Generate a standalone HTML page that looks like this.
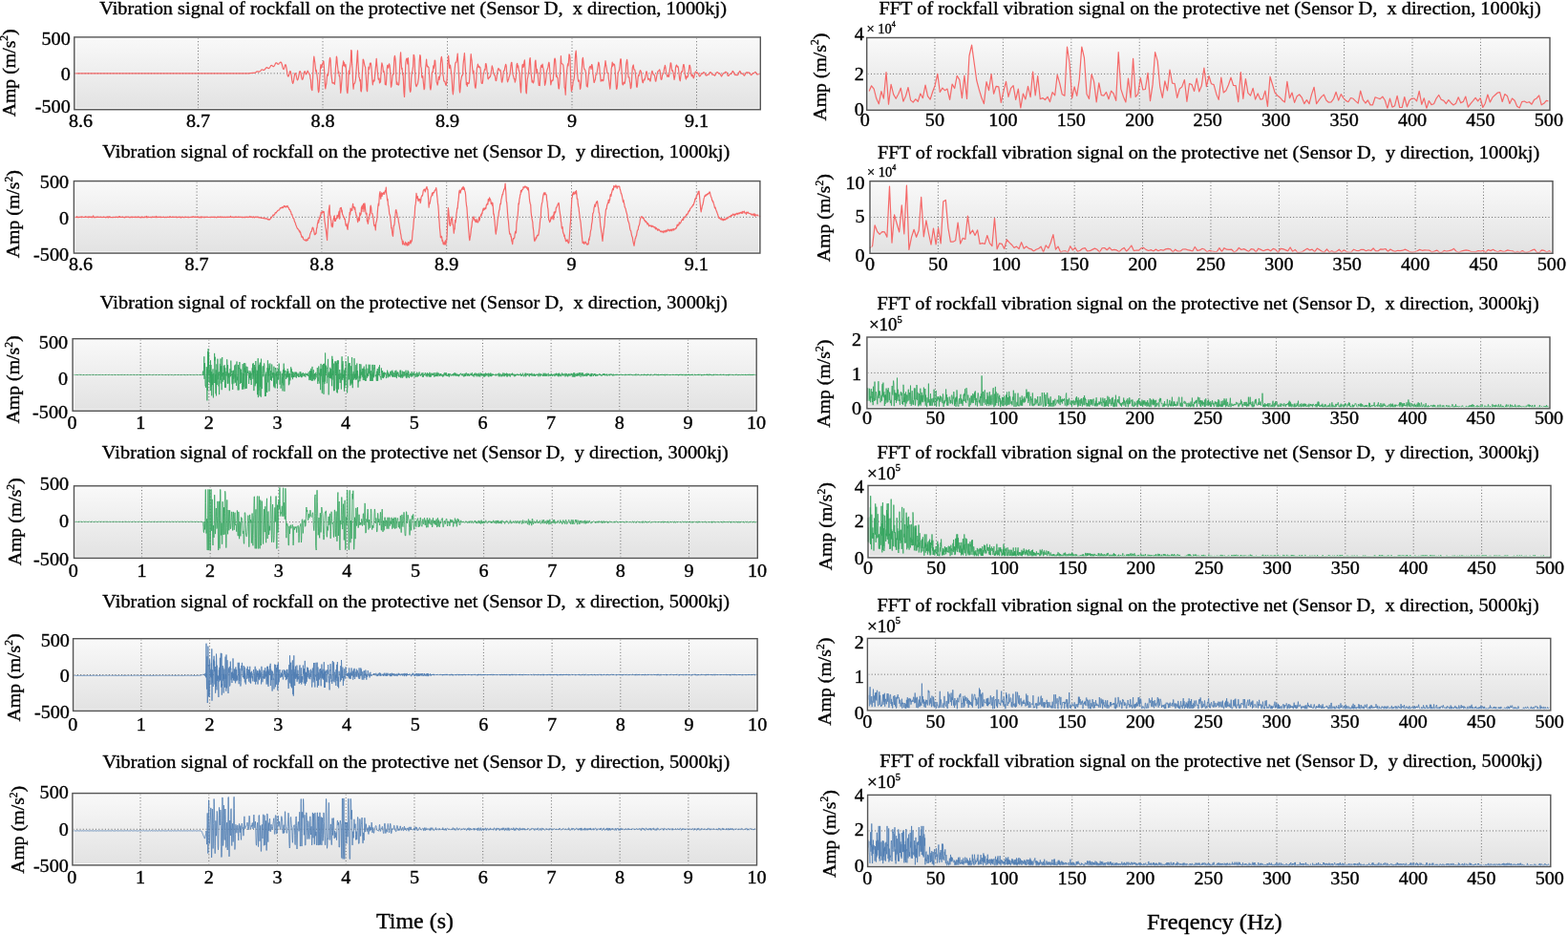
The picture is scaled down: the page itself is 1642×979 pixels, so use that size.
<!DOCTYPE html>
<html><head><meta charset="utf-8"><title>Rockfall vibration signals</title>
<style>html,body{margin:0;padding:0;background:#fff;width:1642px;height:979px;overflow:hidden}svg{display:block}text{fill:#000;stroke:#000;stroke-width:0.35px;white-space:pre}</style>
</head><body>
<svg width="1642" height="979" viewBox="0 0 1642 979" font-family="'Liberation Serif', 'Times New Roman', serif">
<defs><linearGradient id="bg" x1="0" y1="0" x2="0" y2="1"><stop offset="0" stop-color="#f9f9f9"/><stop offset="1" stop-color="#e2e2e2"/></linearGradient><style>.g{stroke:#555;stroke-width:1;stroke-dasharray:1 2.3;fill:none;opacity:.85}</style></defs>
<rect width="1642" height="979" fill="#fff"/>
<rect x="77.80" y="38.90" width="718.50" height="75.85" fill="url(#bg)"/>
<line x1="207.50" y1="39.90" x2="207.50" y2="113.75" class="g"/>
<line x1="338.00" y1="39.90" x2="338.00" y2="113.75" class="g"/>
<line x1="468.50" y1="39.90" x2="468.50" y2="113.75" class="g"/>
<line x1="599.00" y1="39.90" x2="599.00" y2="113.75" class="g"/>
<line x1="729.50" y1="39.90" x2="729.50" y2="113.75" class="g"/>
<line x1="78.80" y1="76.83" x2="795.30" y2="76.83" class="g"/>
<polyline points="78.0,76.8 78.4,76.8 78.9,76.8 79.4,76.8 79.9,76.8 80.4,76.8 80.8,76.8 81.3,76.8 81.8,76.8 82.3,76.8 82.8,76.8 83.2,76.8 83.7,76.8 84.2,76.8 84.7,76.8 85.2,76.8 85.7,76.8 86.1,76.8 86.6,76.8 87.1,76.8 87.6,76.8 88.1,76.8 88.5,76.8 89.0,76.8 89.5,76.8 90.0,76.8 90.5,76.8 90.9,76.8 91.4,76.8 91.9,76.8 92.4,76.8 92.9,76.8 93.3,76.8 93.8,76.8 94.3,76.8 94.8,76.8 95.3,76.8 95.7,76.8 96.2,76.8 96.7,76.8 97.2,76.8 97.7,76.8 98.1,76.8 98.6,76.8 99.1,76.8 99.6,76.8 100.1,76.8 100.5,76.8 101.0,76.8 101.5,76.8 102.0,76.8 102.5,76.8 103.0,76.8 103.4,76.8 103.9,76.8 104.4,76.8 104.9,76.8 105.4,76.8 105.8,76.8 106.3,76.8 106.8,76.8 107.3,76.8 107.8,76.8 108.2,76.8 108.7,76.8 109.2,76.8 109.7,76.8 110.2,76.8 110.6,76.8 111.1,76.8 111.6,76.8 112.1,76.8 112.6,76.8 113.0,76.8 113.5,76.8 114.0,76.8 114.5,76.8 115.0,76.8 115.4,76.8 115.9,76.8 116.4,76.8 116.9,76.8 117.4,76.8 117.8,76.8 118.3,76.8 118.8,76.8 119.3,76.8 119.8,76.8 120.3,76.8 120.7,76.8 121.2,76.8 121.7,76.8 122.2,76.8 122.7,76.8 123.1,76.8 123.6,76.8 124.1,76.8 124.6,76.8 125.1,76.8 125.5,76.8 126.0,76.8 126.5,76.8 127.0,76.8 127.5,76.8 127.9,76.8 128.4,76.8 128.9,76.8 129.4,76.8 129.9,76.8 130.3,76.8 130.8,76.8 131.3,76.8 131.8,76.8 132.3,76.8 132.7,76.8 133.2,76.8 133.7,76.8 134.2,76.8 134.7,76.8 135.1,76.8 135.6,76.8 136.1,76.8 136.6,76.8 137.1,76.8 137.6,76.8 138.0,76.8 138.5,76.8 139.0,76.8 139.5,76.8 140.0,76.8 140.4,76.8 140.9,76.8 141.4,76.8 141.9,76.8 142.4,76.8 142.8,76.8 143.3,76.8 143.8,76.8 144.3,76.8 144.8,76.8 145.2,76.8 145.7,76.8 146.2,76.8 146.7,76.8 147.2,76.8 147.6,76.8 148.1,76.8 148.6,76.8 149.1,76.8 149.6,76.8 150.0,76.8 150.5,76.8 151.0,76.8 151.5,76.8 152.0,76.8 152.4,76.8 152.9,76.8 153.4,76.8 153.9,76.8 154.4,76.8 154.9,76.8 155.3,76.8 155.8,76.8 156.3,76.8 156.8,76.8 157.3,76.8 157.7,76.8 158.2,76.8 158.7,76.8 159.2,76.8 159.7,76.8 160.1,76.8 160.6,76.8 161.1,76.8 161.6,76.8 162.1,76.8 162.5,76.8 163.0,76.8 163.5,76.8 164.0,76.8 164.5,76.8 164.9,76.8 165.4,76.8 165.9,76.8 166.4,76.8 166.9,76.8 167.3,76.8 167.8,76.8 168.3,76.8 168.8,76.8 169.3,76.8 169.7,76.8 170.2,76.8 170.7,76.8 171.2,76.8 171.7,76.8 172.2,76.8 172.6,76.8 173.1,76.8 173.6,76.8 174.1,76.8 174.6,76.8 175.0,76.8 175.5,76.8 176.0,76.8 176.5,76.8 177.0,76.8 177.4,76.8 177.9,76.8 178.4,76.8 178.9,76.8 179.4,76.8 179.8,76.8 180.3,76.8 180.8,76.8 181.3,76.8 181.8,76.8 182.2,76.8 182.7,76.8 183.2,76.8 183.7,76.8 184.2,76.8 184.6,76.8 185.1,76.8 185.6,76.8 186.1,76.8 186.6,76.8 187.0,76.8 187.5,76.8 188.0,76.8 188.5,76.8 189.0,76.8 189.5,76.8 189.9,76.8 190.4,76.8 190.9,76.8 191.4,76.8 191.9,76.8 192.3,76.8 192.8,76.8 193.3,76.8 193.8,76.8 194.3,76.8 194.7,76.8 195.2,76.8 195.7,76.8 196.2,76.8 196.7,76.8 197.1,76.8 197.6,76.8 198.1,76.8 198.6,76.8 199.1,76.8 199.5,76.8 200.0,76.8 200.5,76.8 201.0,76.8 201.5,76.8 201.9,76.8 202.4,76.8 202.9,76.8 203.4,76.8 203.9,76.8 204.3,76.8 204.8,76.8 205.3,76.8 205.8,76.8 206.3,76.8 206.8,76.8 207.2,76.8 207.7,76.8 208.2,76.8 208.7,76.8 209.2,76.8 209.6,76.8 210.1,76.8 210.6,76.8 211.1,76.8 211.6,76.8 212.0,76.8 212.5,76.8 213.0,76.8 213.5,76.8 214.0,76.8 214.4,76.8 214.9,76.8 215.4,76.8 215.9,76.8 216.4,76.8 216.8,76.8 217.3,76.8 217.8,76.8 218.3,76.8 218.8,76.8 219.2,76.8 219.7,76.8 220.2,76.8 220.7,76.8 221.2,76.8 221.6,76.8 222.1,76.8 222.6,76.8 223.1,76.8 223.6,76.8 224.1,76.8 224.5,76.8 225.0,76.8 225.5,76.8 226.0,76.8 226.5,76.8 226.9,76.8 227.4,76.8 227.9,76.8 228.4,76.8 228.9,76.8 229.3,76.8 229.8,76.8 230.3,76.8 230.8,76.8 231.3,76.8 231.7,76.8 232.2,76.8 232.7,76.8 233.2,76.8 233.7,76.8 234.1,76.8 234.6,76.8 235.1,76.8 235.6,76.8 236.1,76.8 236.5,76.8 237.0,76.8 237.5,76.8 238.0,76.8 238.5,76.8 238.9,76.8 239.4,76.8 239.9,76.8 240.4,76.8 240.9,76.8 241.4,76.8 241.8,76.8 242.3,76.8 242.8,76.8 243.3,76.8 243.8,76.8 244.2,76.8 244.7,76.8 245.2,76.8 245.7,76.8 246.2,76.8 246.6,76.8 247.1,76.8 247.6,76.8 248.1,76.8 248.6,76.8 249.0,76.8 249.5,76.8 250.0,76.8 250.5,76.8 251.0,76.8 251.4,76.8 251.9,76.8 252.4,76.8 252.9,76.8 253.4,76.8 253.8,76.8 254.3,76.8 254.8,76.8 255.3,76.8 255.8,76.8 256.2,76.8 256.7,76.8 257.2,76.8 257.7,76.8 258.2,76.8 258.7,76.8 259.1,76.8 259.6,76.8 260.1,76.8 260.6,76.8 261.1,76.8 261.5,76.7 262.0,76.7 262.5,76.6 263.0,76.5 263.5,76.5 263.9,76.4 264.4,76.3 264.9,76.3 265.4,76.3 265.9,76.4 266.3,76.4 266.8,76.3 267.3,76.0 267.8,75.7 268.3,75.4 268.7,75.1 269.2,74.9 269.7,74.9 270.2,74.9 270.7,75.1 271.1,75.1 271.6,75.1 272.1,74.8 272.6,74.3 273.1,73.8 273.5,73.3 274.0,73.0 274.5,72.9 275.0,73.0 275.5,73.3 276.0,73.4 276.4,73.4 276.9,73.2 277.4,72.6 277.9,72.0 278.4,71.3 278.8,70.8 279.3,70.7 279.8,70.8 280.3,71.1 280.8,71.5 281.2,71.6 281.7,71.5 282.2,71.0 282.7,70.3 283.2,69.5 283.6,68.8 284.1,68.4 284.6,68.5 285.1,68.8 285.6,69.3 286.0,69.7 286.5,69.7 287.0,69.3 287.5,68.5 288.0,67.5 288.4,66.6 288.9,65.9 289.4,65.8 289.9,66.0 290.4,66.6 290.8,67.1 291.3,67.3 291.8,67.1 292.3,66.4 292.8,65.9 293.3,65.4 293.7,65.1 294.2,65.1 294.7,65.7 295.2,67.2 295.7,69.1 296.1,70.9 296.6,72.2 297.1,72.5 297.6,71.5 298.1,69.8 298.5,68.2 299.0,67.6 299.5,68.7 300.0,71.3 300.5,74.6 300.9,77.7 301.4,79.7 301.9,80.2 302.4,79.2 302.9,77.4 303.3,75.5 303.8,74.5 304.3,75.0 304.8,77.1 305.3,80.2 305.7,83.6 306.2,86.2 306.7,87.4 307.2,86.0 307.7,83.4 308.1,80.3 308.6,77.8 309.1,76.6 309.6,76.9 310.1,78.6 310.6,81.0 311.0,83.0 311.5,83.9 312.0,83.2 312.5,81.4 313.0,78.7 313.4,76.2 313.9,74.6 314.4,74.6 314.9,76.1 315.4,78.6 315.8,81.2 316.3,83.0 316.8,83.3 317.3,82.1 317.8,79.7 318.2,77.0 318.7,75.2 319.2,74.6 319.7,75.6 320.2,77.6 320.6,77.8 321.1,77.2 321.6,76.0 322.1,74.1 322.6,75.0 323.0,75.8 323.5,76.5 324.0,77.9 324.5,78.0 325.0,82.6 325.4,83.4 325.9,91.3 326.4,93.8 326.9,94.6 327.4,85.4 327.9,74.4 328.3,64.8 328.8,59.2 329.3,62.7 329.8,65.5 330.3,70.3 330.7,74.9 331.2,73.3 331.7,76.6 332.2,80.5 332.7,85.2 333.1,93.6 333.6,96.6 334.1,94.8 334.6,86.2 335.1,78.4 335.5,71.5 336.0,67.6 336.5,71.2 337.0,69.9 337.5,67.3 337.9,67.2 338.4,64.5 338.9,64.1 339.4,70.5 339.9,79.5 340.3,88.9 340.8,92.9 341.3,89.6 341.8,87.5 342.3,82.0 342.7,77.9 343.2,79.3 343.7,78.2 344.2,73.6 344.7,67.0 345.2,61.9 345.6,60.4 346.1,62.9 346.6,73.1 347.1,79.7 347.6,83.6 348.0,87.0 348.5,87.1 349.0,86.5 349.5,87.1 350.0,87.5 350.4,88.3 350.9,82.1 351.4,72.0 351.9,66.4 352.4,59.1 352.8,60.7 353.3,67.3 353.8,71.5 354.3,76.4 354.8,75.1 355.2,79.8 355.7,79.5 356.2,87.0 356.7,97.3 357.2,93.9 357.6,87.6 358.1,82.1 358.6,69.1 359.1,68.4 359.6,63.9 360.1,69.0 360.5,65.7 361.0,68.8 361.5,69.9 362.0,67.7 362.5,73.2 362.9,90.3 363.4,95.6 363.9,97.7 364.4,92.4 364.9,82.2 365.3,74.1 365.8,77.6 366.3,72.1 366.8,68.1 367.3,64.5 367.7,52.6 368.2,52.9 368.7,67.9 369.2,75.3 369.7,89.1 370.1,93.2 370.6,87.8 371.1,87.6 371.6,86.9 372.1,84.9 372.5,82.5 373.0,74.5 373.5,67.2 374.0,58.8 374.5,52.8 374.9,64.3 375.4,71.8 375.9,80.7 376.4,81.3 376.9,85.0 377.4,83.5 377.8,94.7 378.3,95.9 378.8,91.6 379.3,77.9 379.8,71.0 380.2,62.0 380.7,62.9 381.2,65.2 381.7,67.8 382.2,69.7 382.6,70.1 383.1,77.3 383.6,85.5 384.1,94.1 384.6,95.7 385.0,88.3 385.5,79.0 386.0,70.2 386.5,72.7 387.0,70.7 387.4,66.2 387.9,67.5 388.4,66.0 388.9,70.2 389.4,78.0 389.8,82.9 390.3,88.8 390.8,85.5 391.3,83.9 391.8,85.1 392.2,84.3 392.7,77.4 393.2,72.5 393.7,67.4 394.2,61.3 394.7,67.6 395.1,71.3 395.6,77.2 396.1,82.6 396.6,83.3 397.1,82.0 397.5,86.9 398.0,86.2 398.5,85.9 399.0,76.3 399.5,69.2 399.9,65.9 400.4,67.7 400.9,70.1 401.4,75.3 401.9,74.2 402.3,76.1 402.8,79.6 403.3,88.5 403.8,88.6 404.3,88.9 404.7,82.8 405.2,72.3 405.7,68.3 406.2,70.4 406.7,71.1 407.1,67.7 407.6,66.8 408.1,68.7 408.6,74.0 409.1,85.3 409.5,91.2 410.0,89.8 410.5,85.3 411.0,79.5 411.5,77.7 412.0,77.9 412.4,72.1 412.9,60.6 413.4,58.3 413.9,61.1 414.4,66.3 414.8,80.2 415.3,88.3 415.8,86.0 416.3,88.0 416.8,88.5 417.2,89.2 417.7,88.5 418.2,81.4 418.7,68.6 419.2,59.3 419.6,54.9 420.1,64.8 420.6,72.1 421.1,71.2 421.6,78.1 422.0,77.5 422.5,85.3 423.0,96.4 423.5,101.4 424.0,90.6 424.4,77.3 424.9,65.3 425.4,62.5 425.9,61.2 426.4,62.5 426.8,66.9 427.3,60.6 427.8,66.5 428.3,78.1 428.8,90.5 429.3,94.7 429.7,96.3 430.2,94.5 430.7,81.7 431.2,76.8 431.7,75.0 432.1,73.2 432.6,69.3 433.1,57.4 433.6,57.8 434.1,61.5 434.5,73.3 435.0,85.6 435.5,89.5 436.0,90.6 436.5,89.8 436.9,88.5 437.4,87.9 437.9,84.6 438.4,81.4 438.9,71.9 439.3,62.9 439.8,57.5 440.3,58.8 440.8,69.7 441.3,71.4 441.7,80.2 442.2,81.4 442.7,79.5 443.2,84.7 443.7,89.8 444.1,93.6 444.6,92.8 445.1,82.4 445.6,71.3 446.1,67.6 446.6,62.1 447.0,67.7 447.5,69.9 448.0,69.4 448.5,70.3 449.0,70.5 449.4,76.8 449.9,84.1 450.4,91.9 450.9,94.0 451.4,91.7 451.8,86.4 452.3,77.8 452.8,75.0 453.3,75.4 453.8,68.8 454.2,71.6 454.7,69.1 455.2,63.1 455.7,63.4 456.2,71.0 456.6,78.9 457.1,85.6 457.6,87.0 458.1,89.1 458.6,87.2 459.0,83.4 459.5,80.3 460.0,83.5 460.5,80.7 461.0,78.2 461.4,66.9 461.9,61.2 462.4,59.4 462.9,62.8 463.4,67.5 463.9,78.6 464.3,80.2 464.8,84.9 465.3,85.3 465.8,85.1 466.3,87.0 466.7,88.6 467.2,89.5 467.7,87.1 468.2,81.6 468.7,69.6 469.1,63.4 469.6,58.4 470.1,63.8 470.6,71.3 471.1,71.0 471.5,68.1 472.0,71.9 472.5,75.6 473.0,79.2 473.5,87.7 473.9,94.7 474.4,98.8 474.9,93.7 475.4,84.9 475.9,77.1 476.3,71.5 476.8,66.7 477.3,65.1 477.8,65.4 478.3,63.6 478.7,60.7 479.2,56.0 479.7,65.1 480.2,72.9 480.7,82.3 481.2,94.7 481.6,96.9 482.1,92.1 482.6,84.8 483.1,82.4 483.6,79.6 484.0,78.9 484.5,78.8 485.0,68.3 485.5,63.1 486.0,59.7 486.4,55.6 486.9,64.4 487.4,72.9 487.9,80.8 488.4,88.7 488.8,86.3 489.3,90.3 489.8,86.6 490.3,87.4 490.8,87.3 491.2,87.2 491.7,82.5 492.2,73.2 492.7,63.9 493.2,56.6 493.6,60.5 494.1,63.7 494.6,70.8 495.1,74.3 495.6,76.8 496.0,74.2 496.5,82.2 497.0,86.2 497.5,91.3 498.0,92.3 498.5,88.6 498.9,80.8 499.4,71.8 499.9,70.3 500.4,67.0 500.9,70.0 501.3,69.0 501.8,70.7 502.3,69.9 502.8,70.4 503.3,73.5 503.7,81.2 504.2,87.0 504.7,87.4 505.2,87.5 505.7,84.2 506.1,78.6 506.6,76.6 507.1,74.4 507.6,72.4 508.1,73.0 508.5,66.8 509.0,66.6 509.5,69.4 510.0,74.3 510.5,77.5 510.9,82.2 511.4,82.8 511.9,81.3 512.4,81.5 512.9,80.2 513.3,80.5 513.8,78.7 514.3,75.5 514.8,72.7 515.3,68.8 515.8,70.7 516.2,72.1 516.7,76.8 517.2,77.4 517.7,78.8 518.2,78.9 518.6,81.0 519.1,84.3 519.6,84.6 520.1,82.0 520.6,77.4 521.0,74.4 521.5,72.3 522.0,71.5 522.5,72.4 523.0,73.7 523.4,73.9 523.9,73.1 524.4,75.7 524.9,80.5 525.4,86.0 525.8,86.1 526.3,83.5 526.8,80.1 527.3,74.6 527.8,74.0 528.2,74.0 528.7,70.8 529.2,68.8 529.7,67.3 530.2,69.2 530.6,75.4 531.1,83.5 531.6,85.9 532.1,83.9 532.6,83.2 533.1,80.7 533.5,79.9 534.0,77.6 534.5,73.7 535.0,68.4 535.5,65.6 535.9,65.3 536.4,70.8 536.9,77.4 537.4,79.1 537.9,80.8 538.3,82.6 538.8,82.4 539.3,86.2 539.8,84.4 540.3,81.4 540.7,72.1 541.2,67.3 541.7,66.4 542.2,70.8 542.7,68.8 543.1,73.3 543.6,73.9 544.1,77.0 544.6,87.0 545.1,93.3 545.5,96.9 546.0,86.7 546.5,77.1 547.0,68.3 547.5,67.3 547.9,70.4 548.4,69.4 548.9,65.0 549.4,62.9 549.9,71.2 550.4,83.0 550.8,95.8 551.3,97.9 551.8,89.2 552.3,83.0 552.8,80.6 553.2,77.6 553.7,74.7 554.2,69.3 554.7,62.5 555.2,60.5 555.6,67.4 556.1,77.3 556.6,80.6 557.1,85.9 557.6,84.4 558.0,86.2 558.5,86.9 559.0,85.4 559.5,80.3 560.0,72.6 560.4,64.4 560.9,63.0 561.4,69.1 561.9,76.3 562.4,72.5 562.8,75.7 563.3,78.6 563.8,84.9 564.3,89.4 564.8,88.2 565.2,89.7 565.7,79.2 566.2,70.9 566.7,68.6 567.2,68.3 567.7,70.5 568.1,67.2 568.6,70.6 569.1,72.7 569.6,76.4 570.1,82.5 570.5,89.3 571.0,87.8 571.5,85.3 572.0,80.9 572.5,74.8 572.9,73.5 573.4,71.8 573.9,70.4 574.4,66.8 574.9,65.2 575.3,67.8 575.8,74.5 576.3,82.3 576.8,88.8 577.3,86.3 577.7,84.6 578.2,83.9 578.7,84.5 579.2,83.8 579.7,77.7 580.1,70.1 580.6,62.3 581.1,61.1 581.6,63.0 582.1,70.8 582.5,80.1 583.0,78.9 583.5,81.2 584.0,81.5 584.5,88.0 585.0,92.7 585.4,92.9 585.9,87.5 586.4,77.9 586.9,70.3 587.4,58.6 587.8,65.4 588.3,66.4 588.8,66.8 589.3,67.6 589.8,67.9 590.2,71.9 590.7,79.8 591.2,91.8 591.7,92.8 592.2,99.3 592.6,89.2 593.1,80.9 593.6,74.5 594.1,70.1 594.6,66.9 595.0,69.0 595.5,64.3 596.0,56.9 596.5,57.4 597.0,61.3 597.4,74.9 597.9,88.0 598.4,95.5 598.9,94.3 599.4,90.9 599.8,89.2 600.3,84.4 600.8,84.1 601.3,81.7 601.8,75.7 602.3,62.3 602.7,56.3 603.2,53.2 603.7,60.3 604.2,69.9 604.7,77.4 605.1,82.1 605.6,85.1 606.1,84.9 606.6,84.0 607.1,88.2 607.5,93.3 608.0,92.0 608.5,87.2 609.0,76.8 609.5,69.8 609.9,62.4 610.4,60.4 610.9,64.7 611.4,70.4 611.9,72.7 612.3,72.7 612.8,73.3 613.3,75.7 613.8,82.4 614.3,90.1 614.7,90.0 615.2,91.1 615.7,86.2 616.2,79.5 616.7,75.4 617.1,71.3 617.6,70.0 618.1,69.3 618.6,70.0 619.1,72.4 619.6,67.6 620.0,67.8 620.5,70.7 621.0,77.6 621.5,81.6 622.0,86.3 622.4,86.4 622.9,84.1 623.4,83.4 623.9,78.5 624.4,77.8 624.8,78.2 625.3,75.0 625.8,71.5 626.3,68.2 626.8,65.2 627.2,66.0 627.7,69.5 628.2,75.9 628.7,79.8 629.2,85.1 629.6,83.6 630.1,84.7 630.6,83.5 631.1,83.4 631.6,84.8 632.0,83.8 632.5,79.4 633.0,71.5 633.5,68.8 634.0,63.5 634.5,67.2 634.9,69.6 635.4,72.7 635.9,76.5 636.4,76.3 636.9,76.8 637.3,82.0 637.8,85.0 638.3,89.7 638.8,93.2 639.3,87.9 639.7,82.1 640.2,71.9 640.7,70.0 641.2,65.1 641.7,69.1 642.1,66.6 642.6,68.0 643.1,67.2 643.6,67.8 644.1,72.4 644.5,79.5 645.0,86.5 645.5,93.3 646.0,93.0 646.5,89.7 646.9,80.7 647.4,75.5 647.9,74.7 648.4,73.6 648.9,70.7 649.3,66.0 649.8,61.8 650.3,61.8 650.8,71.6 651.3,76.9 651.8,87.9 652.2,88.9 652.7,88.7 653.2,86.2 653.7,86.6 654.2,87.3 654.6,84.9 655.1,81.3 655.6,68.0 656.1,64.8 656.6,62.3 657.0,65.3 657.5,72.7 658.0,80.8 658.5,80.7 659.0,81.0 659.4,85.3 659.9,86.9 660.4,92.6 660.9,91.7 661.4,86.8 661.8,78.5 662.3,71.0 662.8,69.0 663.3,68.0 663.8,72.3 664.2,72.9 664.7,72.9 665.2,75.4 665.7,80.6 666.2,84.5 666.6,91.0 667.1,91.3 667.6,88.0 668.1,81.3 668.6,78.7 669.1,79.3 669.5,76.7 670.0,74.9 670.5,73.6 671.0,74.4 671.5,75.5 671.9,79.1 672.4,83.1 672.9,86.1 673.4,86.7 673.9,84.1 674.3,83.0 674.8,83.9 675.3,82.8 675.8,80.6 676.3,77.7 676.7,75.0 677.2,74.8 677.7,77.2 678.2,80.7 678.7,83.4 679.1,82.8 679.6,82.3 680.1,82.7 680.6,84.8 681.1,84.8 681.5,81.9 682.0,78.1 682.5,75.5 683.0,74.2 683.5,76.0 683.9,76.7 684.4,78.2 684.9,78.1 685.4,79.0 685.9,81.6 686.4,85.0 686.8,85.2 687.3,82.7 687.8,79.4 688.3,76.6 688.8,74.9 689.2,74.7 689.7,74.1 690.2,73.9 690.7,72.8 691.2,74.6 691.6,78.6 692.1,82.8 692.6,83.4 693.1,82.5 693.6,78.2 694.0,78.0 694.5,77.3 695.0,76.3 695.5,72.0 696.0,70.5 696.4,68.3 696.9,70.5 697.4,74.3 697.9,78.0 698.4,78.8 698.8,80.3 699.3,79.0 699.8,78.5 700.3,80.5 700.8,78.3 701.2,74.2 701.7,70.4 702.2,65.9 702.7,66.0 703.2,70.4 703.7,74.1 704.1,73.5 704.6,74.6 705.1,76.4 705.6,80.1 706.1,83.3 706.5,81.3 707.0,78.4 707.5,70.8 708.0,68.8 708.5,68.1 708.9,69.0 709.4,70.2 709.9,69.5 710.4,71.1 710.9,76.0 711.3,79.8 711.8,83.5 712.3,84.8 712.8,80.3 713.3,77.2 713.7,74.8 714.2,75.1 714.7,74.9 715.2,70.3 715.7,67.6 716.1,67.5 716.6,70.4 717.1,75.4 717.6,79.9 718.1,82.3 718.5,83.0 719.0,79.7 719.5,81.2 720.0,80.6 720.5,79.7 721.0,76.3 721.4,73.5 721.9,68.3 722.4,68.4 722.9,70.9 723.4,74.0 723.8,77.7 724.3,79.9 724.8,78.2 725.3,78.7 725.8,80.3 726.2,81.9 726.7,80.9 727.2,78.7 727.7,77.1 728.2,75.2 728.6,75.0 729.1,75.1 729.6,76.4 730.1,76.0 730.6,76.5 731.0,77.2 731.5,77.2 732.0,79.2 732.5,79.8 733.0,79.7 733.4,79.5 733.9,78.5 734.4,77.1 734.9,76.9 735.4,77.1 735.8,76.9 736.3,76.3 736.8,75.5 737.3,75.7 737.8,76.1 738.3,77.0 738.7,78.2 739.2,78.9 739.7,78.9 740.2,79.1 740.7,78.1 741.1,78.1 741.6,78.1 742.1,78.1 742.6,77.5 743.1,76.5 743.5,75.5 744.0,75.5 744.5,75.9 745.0,76.7 745.5,77.4 745.9,78.1 746.4,78.2 746.9,78.0 747.4,78.5 747.9,78.6 748.3,79.3 748.8,78.9 749.3,78.2 749.8,77.1 750.3,76.1 750.7,75.7 751.2,75.5 751.7,76.0 752.2,76.2 752.7,76.5 753.1,77.1 753.6,76.9 754.1,77.6 754.6,78.3 755.1,79.3 755.6,80.0 756.0,79.1 756.5,78.4 757.0,77.7 757.5,77.0 758.0,76.3 758.4,76.4 758.9,76.2 759.4,75.8 759.9,75.2 760.4,75.5 760.8,75.5 761.3,76.5 761.8,78.2 762.3,79.5 762.8,79.4 763.2,79.2 763.7,78.1 764.2,77.7 764.7,77.5 765.2,77.1 765.6,77.5 766.1,76.6 766.6,75.8 767.1,74.5 767.6,74.4 768.0,75.7 768.5,75.7 769.0,77.5 769.5,78.0 770.0,78.6 770.4,78.4 770.9,78.2 771.4,78.4 771.9,78.9 772.4,78.4 772.9,78.2 773.3,77.3 773.8,75.9 774.3,75.2 774.8,74.4 775.3,75.1 775.7,75.8 776.2,76.5 776.7,77.1 777.2,77.3 777.7,77.2 778.1,77.7 778.6,78.1 779.1,78.9 779.6,79.2 780.1,78.3 780.5,77.3 781.0,76.3 781.5,75.8 782.0,76.0 782.5,75.7 782.9,76.2 783.4,75.9 783.9,76.2 784.4,75.9 784.9,76.7 785.3,77.3 785.8,77.9 786.3,78.4 786.8,78.6 787.3,78.0 787.7,77.4 788.2,76.8 788.7,76.7 789.2,76.6 789.7,76.3 790.2,75.9 790.6,75.5 791.1,75.3 791.6,76.0 792.1,76.7 792.6,77.7 793.0,78.0 793.5,77.9 794.0,77.8 794.5,77.5 795.0,77.4 795.4,77.6 795.9,77.3" fill="none" stroke="#f56868" stroke-width="1.2" stroke-opacity="1.0" stroke-linejoin="round"/>
<rect x="79.10" y="40.20" width="715.90" height="73.25" fill="none" stroke="#fff" stroke-width="0.8" stroke-opacity="0.8"/>
<rect x="77.80" y="38.90" width="718.50" height="75.85" fill="none" stroke="#555" stroke-width="1.4"/>
<text transform="translate(84.50,133.16) scale(1.09,1)" font-size="18.5" text-anchor="middle">8.6</text>
<text transform="translate(207.50,133.16) scale(1.09,1)" font-size="18.5" text-anchor="middle">8.7</text>
<text transform="translate(338.00,133.16) scale(1.09,1)" font-size="18.5" text-anchor="middle">8.8</text>
<text transform="translate(468.50,133.16) scale(1.09,1)" font-size="18.5" text-anchor="middle">8.9</text>
<text transform="translate(599.00,133.16) scale(1.09,1)" font-size="18.5" text-anchor="middle">9</text>
<text transform="translate(729.50,133.16) scale(1.09,1)" font-size="18.5" text-anchor="middle">9.1</text>
<text transform="translate(73.75,46.56) scale(1.09,1)" font-size="18.5" text-anchor="end">500</text>
<text transform="translate(73.75,84.36) scale(1.09,1)" font-size="18.5" text-anchor="end">0</text>
<text transform="translate(73.75,117.76) scale(1.09,1)" font-size="18.5" text-anchor="end">-500</text>
<text transform="translate(15.90,76.30) rotate(-90)" font-size="19.8" text-anchor="middle">Amp (m/s<tspan dy="-7.5" font-size="11.5">2</tspan><tspan dy="7.5">)</tspan></text>
<text transform="translate(104.17,15.40) scale(1.0451,1)" font-size="19.5" text-anchor="start">Vibration signal of rockfall on the protective net (Sensor D,  x direction, 1000kj)</text>
<rect x="77.40" y="189.60" width="718.50" height="75.50" fill="url(#bg)"/>
<line x1="206.10" y1="190.60" x2="206.10" y2="264.10" class="g"/>
<line x1="336.90" y1="190.60" x2="336.90" y2="264.10" class="g"/>
<line x1="467.70" y1="190.60" x2="467.70" y2="264.10" class="g"/>
<line x1="598.50" y1="190.60" x2="598.50" y2="264.10" class="g"/>
<line x1="729.30" y1="190.60" x2="729.30" y2="264.10" class="g"/>
<line x1="78.40" y1="227.35" x2="794.90" y2="227.35" class="g"/>
<polyline points="77.8,227.7 78.2,227.4 78.7,227.7 79.1,227.6 79.5,227.4 79.9,227.5 80.4,227.2 80.8,226.7 81.2,227.6 81.6,227.5 82.1,227.7 82.5,227.5 82.9,227.3 83.3,227.3 83.7,227.2 84.2,227.4 84.6,227.0 85.0,227.1 85.4,227.5 85.9,226.9 86.3,227.0 86.7,227.2 87.1,227.3 87.5,227.4 88.0,227.5 88.4,227.4 88.8,227.5 89.2,227.2 89.7,226.6 90.1,227.2 90.5,227.0 90.9,227.5 91.4,227.5 91.8,227.0 92.2,227.1 92.6,227.8 93.0,226.9 93.5,227.4 93.9,227.1 94.3,227.3 94.7,227.2 95.2,227.4 95.6,227.1 96.0,227.6 96.4,227.8 96.9,226.9 97.3,227.2 97.7,225.9 98.1,227.4 98.5,227.6 99.0,227.6 99.4,227.6 99.8,227.4 100.2,227.2 100.7,227.6 101.1,227.2 101.5,227.2 101.9,227.4 102.4,227.1 102.8,227.3 103.2,227.2 103.6,227.4 104.0,227.5 104.5,227.2 104.9,227.4 105.3,227.5 105.7,227.2 106.2,227.3 106.6,227.3 107.0,227.7 107.4,227.3 107.8,227.4 108.3,227.1 108.7,227.2 109.1,227.5 109.5,227.3 110.0,227.5 110.4,227.4 110.8,227.9 111.2,227.3 111.7,227.5 112.1,227.2 112.5,227.3 112.9,227.0 113.3,227.9 113.8,226.9 114.2,227.4 114.6,227.0 115.0,227.5 115.5,227.2 115.9,227.7 116.3,227.6 116.7,227.5 117.2,227.5 117.6,227.6 118.0,227.4 118.4,227.7 118.8,227.5 119.3,227.4 119.7,227.5 120.1,227.4 120.5,227.6 121.0,227.3 121.4,227.4 121.8,227.1 122.2,227.5 122.6,227.4 123.1,227.2 123.5,227.7 123.9,227.4 124.3,227.1 124.8,226.7 125.2,227.3 125.6,226.7 126.0,227.4 126.5,227.4 126.9,227.4 127.3,227.3 127.7,227.2 128.1,227.4 128.6,227.0 129.0,227.3 129.4,227.5 129.8,227.6 130.3,227.3 130.7,227.8 131.1,227.4 131.5,227.3 132.0,226.8 132.4,227.2 132.8,227.5 133.2,227.2 133.6,227.2 134.1,227.1 134.5,227.2 134.9,227.3 135.3,227.7 135.8,227.4 136.2,227.6 136.6,227.4 137.0,227.6 137.5,227.2 137.9,227.1 138.3,227.7 138.7,227.4 139.1,227.1 139.6,227.5 140.0,227.3 140.4,227.3 140.8,227.5 141.3,227.1 141.7,227.6 142.1,227.4 142.5,227.3 142.9,227.1 143.4,227.7 143.8,227.3 144.2,227.1 144.6,227.3 145.1,226.8 145.5,227.5 145.9,227.7 146.3,227.5 146.8,227.4 147.2,227.8 147.6,227.8 148.0,227.1 148.4,227.6 148.9,227.2 149.3,227.7 149.7,227.2 150.1,227.4 150.6,227.7 151.0,227.4 151.4,227.6 151.8,227.2 152.3,227.1 152.7,227.1 153.1,227.5 153.5,226.4 153.9,227.7 154.4,227.3 154.8,227.6 155.2,227.4 155.6,227.1 156.1,227.4 156.5,227.5 156.9,227.5 157.3,227.3 157.8,227.6 158.2,227.6 158.6,227.6 159.0,227.2 159.4,226.9 159.9,227.5 160.3,227.2 160.7,227.3 161.1,227.3 161.6,227.4 162.0,227.0 162.4,227.3 162.8,227.6 163.2,227.1 163.7,226.5 164.1,227.7 164.5,227.5 164.9,227.5 165.4,227.4 165.8,227.1 166.2,227.4 166.6,227.2 167.1,227.4 167.5,227.2 167.9,227.1 168.3,227.4 168.7,227.6 169.2,227.3 169.6,227.4 170.0,227.5 170.4,227.5 170.9,227.1 171.3,227.3 171.7,227.4 172.1,227.4 172.6,227.7 173.0,227.5 173.4,227.2 173.8,227.5 174.2,227.6 174.7,227.5 175.1,227.5 175.5,227.1 175.9,227.4 176.4,227.5 176.8,227.3 177.2,227.3 177.6,227.5 178.0,226.6 178.5,227.2 178.9,227.3 179.3,227.3 179.7,227.5 180.2,227.3 180.6,227.1 181.0,227.5 181.4,227.2 181.9,227.4 182.3,227.2 182.7,227.5 183.1,227.4 183.5,227.3 184.0,227.1 184.4,227.3 184.8,227.6 185.2,227.4 185.7,227.6 186.1,227.4 186.5,227.4 186.9,227.2 187.4,227.4 187.8,227.2 188.2,227.2 188.6,227.6 189.0,227.2 189.5,227.8 189.9,227.4 190.3,227.3 190.7,227.6 191.2,227.2 191.6,227.4 192.0,227.4 192.4,227.6 192.9,227.7 193.3,227.4 193.7,227.1 194.1,227.1 194.5,227.3 195.0,227.5 195.4,227.4 195.8,227.4 196.2,227.3 196.7,227.6 197.1,227.1 197.5,227.7 197.9,227.6 198.3,227.5 198.8,227.4 199.2,227.3 199.6,227.4 200.0,227.3 200.5,227.3 200.9,227.2 201.3,227.5 201.7,227.4 202.2,226.7 202.6,227.2 203.0,227.1 203.4,227.2 203.8,227.4 204.3,227.1 204.7,227.5 205.1,227.2 205.5,227.3 206.0,227.4 206.4,227.1 206.8,226.9 207.2,227.6 207.7,227.3 208.1,227.2 208.5,227.3 208.9,227.8 209.3,227.4 209.8,227.4 210.2,227.9 210.6,226.9 211.0,227.6 211.5,227.6 211.9,227.2 212.3,227.2 212.7,227.2 213.1,227.4 213.6,227.4 214.0,227.9 214.4,227.2 214.8,227.4 215.3,227.2 215.7,227.5 216.1,227.4 216.5,227.1 217.0,227.3 217.4,227.4 217.8,227.5 218.2,227.5 218.6,227.5 219.1,227.4 219.5,227.5 219.9,227.4 220.3,227.6 220.8,227.5 221.2,227.2 221.6,227.4 222.0,227.2 222.5,227.3 222.9,227.5 223.3,227.4 223.7,227.3 224.1,227.2 224.6,227.7 225.0,227.4 225.4,227.2 225.8,227.3 226.3,227.6 226.7,227.8 227.1,227.6 227.5,227.3 228.0,227.5 228.4,227.0 228.8,227.5 229.2,227.3 229.6,227.4 230.1,227.1 230.5,227.4 230.9,227.1 231.3,227.0 231.8,227.7 232.2,227.1 232.6,227.5 233.0,227.3 233.4,227.3 233.9,227.4 234.3,227.6 234.7,227.5 235.1,227.2 235.6,227.3 236.0,227.6 236.4,227.6 236.8,227.3 237.3,227.5 237.7,227.3 238.1,227.6 238.5,227.2 238.9,227.5 239.4,227.3 239.8,227.1 240.2,227.5 240.6,227.5 241.1,227.1 241.5,226.3 241.9,227.3 242.3,227.4 242.8,227.3 243.2,227.4 243.6,227.3 244.0,227.2 244.4,227.4 244.9,227.6 245.3,227.4 245.7,227.3 246.1,227.2 246.6,227.4 247.0,226.9 247.4,227.4 247.8,227.3 248.2,227.4 248.7,227.3 249.1,227.3 249.5,227.0 249.9,227.5 250.4,227.3 250.8,227.4 251.2,227.3 251.6,227.1 252.1,227.5 252.5,227.3 252.9,227.3 253.3,227.4 253.7,227.7 254.2,227.3 254.6,227.5 255.0,227.7 255.4,227.3 255.9,227.6 256.3,227.4 256.7,227.6 257.1,227.4 257.6,227.5 258.0,227.2 258.4,227.3 258.8,227.2 259.2,227.3 259.7,227.6 260.1,227.4 260.5,227.5 260.9,227.3 261.4,227.4 261.8,226.4 262.2,227.4 262.6,227.2 263.1,227.3 263.5,227.1 263.9,227.5 264.3,227.6 264.7,227.7 265.2,226.7 265.6,227.5 266.0,227.5 266.4,227.9 266.9,227.3 267.3,227.2 267.7,227.4 268.1,227.1 268.5,227.1 269.0,227.5 269.4,227.0 269.8,227.1 270.2,227.6 270.7,227.6 271.1,227.3 271.5,227.9 271.9,227.7 272.4,227.7 272.8,227.9 273.2,228.0 273.6,228.3 274.0,228.3 274.5,228.0 274.9,228.2 275.3,228.6 275.7,228.3 276.2,228.3 276.6,228.0 277.0,228.9 277.4,228.8 277.9,228.8 278.3,228.7 278.7,228.9 279.1,229.1 279.5,228.9 280.0,229.3 280.4,229.9 280.8,229.3 281.2,229.5 281.7,230.1 282.1,229.7 282.5,230.0 282.9,229.4 283.4,228.9 283.8,228.0 284.2,227.5 284.6,227.6 285.0,226.7 285.5,226.2 285.9,225.0 286.3,225.2 286.7,225.7 287.2,224.5 287.6,224.5 288.0,223.5 288.4,222.5 288.8,222.7 289.3,222.9 289.7,221.9 290.1,221.4 290.5,221.1 291.0,220.3 291.4,220.2 291.8,220.1 292.2,220.0 292.7,219.6 293.1,218.4 293.5,217.7 293.9,218.0 294.3,217.5 294.8,217.8 295.2,216.9 295.6,217.5 296.0,216.9 296.5,217.5 296.9,216.9 297.3,215.8 297.7,215.5 298.2,216.6 298.6,215.9 299.0,216.7 299.4,216.1 299.8,216.9 300.3,215.9 300.7,215.8 301.1,215.5 301.5,217.2 302.0,217.2 302.4,217.6 302.8,219.5 303.2,219.4 303.6,219.6 304.1,221.4 304.5,221.3 304.9,222.8 305.3,224.6 305.8,224.5 306.2,226.2 306.6,227.2 307.0,228.3 307.5,228.7 307.9,229.5 308.3,231.3 308.7,232.7 309.1,232.8 309.6,234.8 310.0,236.0 310.4,236.6 310.8,238.0 311.3,238.9 311.7,239.7 312.1,239.7 312.5,240.4 313.0,241.0 313.4,242.2 313.8,241.7 314.2,243.6 314.6,242.9 315.1,245.7 315.5,245.8 315.9,248.1 316.3,247.5 316.8,248.7 317.2,248.2 317.6,250.0 318.0,250.7 318.5,251.0 318.9,251.4 319.3,251.3 319.7,251.3 320.1,252.2 320.6,250.7 321.0,251.7 321.4,252.0 321.8,250.9 322.3,251.3 322.7,249.4 323.1,249.1 323.5,249.3 323.9,249.6 324.4,246.7 324.8,245.0 325.2,244.0 325.6,242.6 326.1,242.4 326.5,241.5 326.9,239.4 327.3,238.2 327.8,238.3 328.2,239.9 328.6,241.5 329.0,243.2 329.4,245.7 329.9,245.6 330.3,245.3 330.7,243.9 331.1,244.4 331.6,238.8 332.0,238.6 332.4,234.8 332.8,233.5 333.3,230.7 333.7,233.2 334.1,230.1 334.5,227.8 334.9,229.1 335.4,225.4 335.8,226.0 336.2,222.1 336.6,222.9 337.1,223.1 337.5,222.5 337.9,221.2 338.3,222.4 338.7,221.4 339.2,221.5 339.6,226.9 340.0,232.0 340.4,234.0 340.9,237.9 341.3,240.1 341.7,243.7 342.1,247.3 342.6,251.5 343.0,240.7 343.4,238.5 343.8,226.3 344.2,221.1 344.7,217.6 345.1,214.8 345.5,225.5 345.9,225.9 346.4,229.8 346.8,231.1 347.2,236.9 347.6,234.1 348.1,237.8 348.5,236.7 348.9,230.9 349.3,229.5 349.7,226.9 350.2,225.9 350.6,231.4 351.0,230.0 351.4,231.5 351.9,228.7 352.3,229.2 352.7,228.4 353.1,225.3 353.6,226.6 354.0,228.1 354.4,225.8 354.8,222.5 355.2,221.1 355.7,229.2 356.1,218.6 356.5,217.7 356.9,218.1 357.4,217.5 357.8,221.9 358.2,220.2 358.6,224.5 359.0,224.8 359.5,226.5 359.9,227.4 360.3,227.1 360.7,229.3 361.2,229.1 361.6,232.2 362.0,234.9 362.4,236.5 362.9,234.6 363.3,236.9 363.7,239.2 364.1,240.4 364.5,235.0 365.0,232.7 365.4,232.0 365.8,227.5 366.2,222.3 366.7,224.8 367.1,218.2 367.5,221.1 367.9,218.9 368.4,219.2 368.8,220.4 369.2,215.9 369.6,213.3 370.0,217.1 370.5,216.6 370.9,217.4 371.3,219.4 371.7,217.0 372.2,222.0 372.6,222.7 373.0,225.4 373.4,225.9 373.8,226.5 374.3,230.3 374.7,232.7 375.1,231.2 375.5,228.6 376.0,227.7 376.4,231.0 376.8,222.8 377.2,225.6 377.7,224.8 378.1,224.0 378.5,216.8 378.9,221.5 379.3,215.1 379.8,218.3 380.2,216.6 380.6,213.4 381.0,221.7 381.5,216.0 381.9,212.8 382.3,215.9 382.7,220.1 383.2,224.0 383.6,224.3 384.0,223.2 384.4,231.8 384.8,230.8 385.3,234.4 385.7,232.3 386.1,228.2 386.5,229.1 387.0,224.0 387.4,225.2 387.8,217.2 388.2,215.2 388.7,217.3 389.1,223.0 389.5,223.8 389.9,223.6 390.3,225.6 390.8,227.5 391.2,230.9 391.6,235.0 392.0,236.6 392.5,235.5 392.9,237.7 393.3,240.9 393.7,233.5 394.1,232.6 394.6,230.5 395.0,226.7 395.4,221.1 395.8,216.7 396.3,213.1 396.7,215.1 397.1,208.3 397.5,202.8 398.0,200.6 398.4,205.1 398.8,208.3 399.2,203.7 399.6,201.8 400.1,205.5 400.5,202.4 400.9,202.5 401.3,203.1 401.8,201.3 402.2,203.3 402.6,203.2 403.0,200.8 403.5,199.4 403.9,200.9 404.3,196.2 404.7,203.0 405.1,205.0 405.6,209.9 406.0,208.4 406.4,215.0 406.8,215.3 407.3,219.2 407.7,223.8 408.1,224.4 408.5,225.8 409.0,230.3 409.4,233.2 409.8,239.0 410.2,238.2 410.6,242.8 411.1,246.4 411.5,247.4 411.9,241.4 412.3,236.1 412.8,236.2 413.2,233.6 413.6,228.1 414.0,225.3 414.4,220.0 414.9,219.7 415.3,222.7 415.7,222.9 416.1,226.9 416.6,227.3 417.0,228.2 417.4,232.3 417.8,233.8 418.3,237.0 418.7,239.7 419.1,241.2 419.5,244.5 419.9,245.9 420.4,250.0 420.8,250.4 421.2,252.3 421.6,256.0 422.1,252.3 422.5,254.6 422.9,254.8 423.3,256.3 423.8,255.0 424.2,255.2 424.6,253.3 425.0,256.9 425.4,254.5 425.9,255.9 426.3,255.0 426.7,257.2 427.1,254.3 427.6,253.5 428.0,256.6 428.4,253.8 428.8,254.7 429.2,254.6 429.7,251.9 430.1,254.8 430.5,252.0 430.9,253.1 431.4,251.8 431.8,247.0 432.2,241.9 432.6,240.1 433.1,233.7 433.5,229.0 433.9,228.1 434.3,224.0 434.7,215.9 435.2,213.9 435.6,210.1 436.0,202.3 436.4,204.9 436.9,207.7 437.3,205.5 437.7,209.1 438.1,210.6 438.6,208.4 439.0,208.3 439.4,209.9 439.8,208.6 440.2,212.7 440.7,210.4 441.1,206.4 441.5,205.7 441.9,204.7 442.4,205.0 442.8,203.1 443.2,199.7 443.6,199.3 444.1,198.3 444.5,199.2 444.9,198.0 445.3,200.9 445.7,198.6 446.2,197.4 446.6,196.2 447.0,195.5 447.4,198.1 447.9,198.0 448.3,204.4 448.7,209.4 449.1,217.1 449.5,212.7 450.0,213.4 450.4,211.4 450.8,209.1 451.2,206.6 451.7,205.5 452.1,204.8 452.5,202.0 452.9,204.6 453.4,201.5 453.8,202.4 454.2,201.4 454.6,201.6 455.0,200.0 455.5,199.1 455.9,198.7 456.3,198.9 456.7,196.7 457.2,199.6 457.6,204.4 458.0,207.8 458.4,212.4 458.9,215.6 459.3,221.0 459.7,228.1 460.1,233.0 460.5,239.3 461.0,243.9 461.4,248.8 461.8,248.6 462.2,247.4 462.7,248.3 463.1,252.5 463.5,251.4 463.9,254.2 464.3,255.8 464.8,253.8 465.2,254.8 465.6,256.0 466.0,253.4 466.5,251.8 466.9,256.1 467.3,252.3 467.7,252.1 468.2,245.2 468.6,234.4 469.0,226.5 469.4,217.5 469.8,221.0 470.3,227.1 470.7,233.7 471.1,235.8 471.5,236.4 472.0,233.7 472.4,229.3 472.8,230.1 473.2,227.2 473.7,230.7 474.1,235.2 474.5,235.0 474.9,239.4 475.3,244.1 475.8,239.5 476.2,239.8 476.6,230.7 477.0,233.1 477.5,229.5 477.9,224.4 478.3,222.2 478.7,217.9 479.2,218.1 479.6,212.4 480.0,209.9 480.4,206.4 480.8,201.0 481.3,199.2 481.7,201.2 482.1,202.1 482.5,200.3 483.0,198.5 483.4,198.6 483.8,196.8 484.2,198.2 484.6,196.5 485.1,195.4 485.5,198.5 485.9,196.5 486.3,197.5 486.8,199.9 487.2,201.0 487.6,204.0 488.0,210.4 488.5,215.2 488.9,217.1 489.3,223.3 489.7,228.4 490.1,231.5 490.6,239.5 491.0,243.7 491.4,249.0 491.8,251.7 492.3,248.5 492.7,246.4 493.1,242.9 493.5,239.0 494.0,237.0 494.4,232.2 494.8,231.0 495.2,228.2 495.6,227.3 496.1,226.8 496.5,229.3 496.9,230.7 497.3,229.8 497.8,232.0 498.2,231.6 498.6,232.7 499.0,229.5 499.5,231.0 499.9,232.4 500.3,233.0 500.7,232.6 501.1,231.2 501.6,227.9 502.0,231.0 502.4,229.5 502.8,226.9 503.3,226.5 503.7,224.6 504.1,225.6 504.5,223.0 504.9,223.8 505.4,220.9 505.8,219.8 506.2,218.2 506.6,220.2 507.1,218.2 507.5,219.1 507.9,219.2 508.3,217.5 508.8,218.4 509.2,215.4 509.6,214.0 510.0,214.4 510.4,212.8 510.9,214.0 511.3,208.7 511.7,208.6 512.1,210.6 512.6,206.9 513.0,208.2 513.4,208.5 513.8,209.8 514.3,213.3 514.7,212.7 515.1,212.0 515.5,215.2 515.9,212.5 516.4,217.9 516.8,224.1 517.2,223.9 517.6,228.3 518.1,232.2 518.5,236.9 518.9,242.3 519.3,245.2 519.7,242.0 520.2,239.5 520.6,235.6 521.0,231.8 521.4,228.6 521.9,227.1 522.3,223.2 522.7,220.1 523.1,219.6 523.6,215.1 524.0,213.1 524.4,213.5 524.8,209.2 525.2,207.8 525.7,205.5 526.1,203.3 526.5,203.8 526.9,201.2 527.4,200.1 527.8,198.2 528.2,198.1 528.6,196.6 529.1,192.1 529.5,197.7 529.9,203.4 530.3,210.8 530.7,211.9 531.2,218.3 531.6,224.0 532.0,228.8 532.4,231.4 532.9,238.0 533.3,241.9 533.7,244.7 534.1,245.3 534.6,244.9 535.0,247.8 535.4,247.7 535.8,252.1 536.2,252.8 536.7,255.7 537.1,251.1 537.5,249.7 537.9,250.1 538.4,249.3 538.8,248.9 539.2,244.9 539.6,242.8 540.0,242.2 540.5,244.0 540.9,234.6 541.3,231.3 541.7,229.4 542.2,225.3 542.6,220.1 543.0,212.9 543.4,213.9 543.9,208.6 544.3,207.2 544.7,203.8 545.1,203.5 545.5,199.4 546.0,201.1 546.4,199.9 546.8,198.5 547.2,198.7 547.7,198.0 548.1,195.7 548.5,196.1 548.9,196.7 549.4,195.7 549.8,195.0 550.2,195.8 550.6,195.3 551.0,196.1 551.5,197.0 551.9,195.8 552.3,197.3 552.7,198.8 553.2,196.5 553.6,199.0 554.0,203.0 554.4,207.9 554.8,211.1 555.3,213.4 555.7,214.3 556.1,221.8 556.5,225.3 557.0,228.7 557.4,230.8 557.8,232.4 558.2,238.2 558.7,241.3 559.1,246.5 559.5,251.2 559.9,252.6 560.3,250.4 560.8,251.1 561.2,248.7 561.6,249.6 562.0,248.0 562.5,246.5 562.9,246.9 563.3,245.9 563.7,246.7 564.2,244.1 564.6,240.5 565.0,238.6 565.4,233.4 565.8,229.3 566.3,227.8 566.7,218.2 567.1,215.5 567.5,212.8 568.0,211.4 568.4,207.8 568.8,204.9 569.2,203.3 569.7,201.9 570.1,204.0 570.5,203.4 570.9,201.7 571.3,203.4 571.8,203.8 572.2,203.9 572.6,209.3 573.0,211.0 573.5,216.8 573.9,218.6 574.3,224.1 574.7,230.3 575.1,230.4 575.6,232.6 576.0,232.0 576.4,231.4 576.8,228.9 577.3,227.2 577.7,228.6 578.1,229.0 578.5,227.0 579.0,226.1 579.4,225.2 579.8,229.8 580.2,222.1 580.6,224.5 581.1,221.7 581.5,222.7 581.9,221.6 582.3,217.5 582.8,217.5 583.2,216.0 583.6,216.0 584.0,213.9 584.5,213.9 584.9,212.4 585.3,213.0 585.7,218.5 586.1,221.1 586.6,224.5 587.0,226.7 587.4,231.5 587.8,233.4 588.3,239.0 588.7,239.5 589.1,237.5 589.5,242.8 589.9,244.1 590.4,245.0 590.8,247.4 591.2,246.0 591.6,249.8 592.1,249.9 592.5,252.6 592.9,252.1 593.3,251.4 593.8,252.6 594.2,250.9 594.6,253.1 595.0,254.0 595.4,254.7 595.9,253.6 596.3,248.0 596.7,242.0 597.1,235.7 597.6,231.1 598.0,221.9 598.4,216.0 598.8,207.7 599.3,206.3 599.7,202.8 600.1,202.4 600.5,201.2 600.9,203.7 601.4,202.7 601.8,202.3 602.2,200.7 602.6,201.4 603.1,203.2 603.5,199.5 603.9,203.6 604.3,208.1 604.8,208.0 605.2,213.2 605.6,216.1 606.0,217.3 606.4,221.1 606.9,225.0 607.3,228.9 607.7,230.7 608.1,233.3 608.6,238.9 609.0,242.6 609.4,246.9 609.8,251.4 610.2,254.3 610.7,254.3 611.1,253.1 611.5,255.2 611.9,255.3 612.4,253.8 612.8,253.9 613.2,253.1 613.6,254.4 614.1,255.2 614.5,255.2 614.9,256.4 615.3,256.0 615.7,255.0 616.2,255.5 616.6,250.2 617.0,251.5 617.4,248.5 617.9,246.9 618.3,243.0 618.7,241.1 619.1,239.9 619.6,234.5 620.0,232.8 620.4,229.7 620.8,223.3 621.2,223.2 621.7,221.4 622.1,217.4 622.5,216.1 622.9,214.2 623.4,216.4 623.8,214.1 624.2,212.7 624.6,211.3 625.1,212.3 625.5,210.5 625.9,213.3 626.3,216.4 626.7,217.6 627.2,222.8 627.6,223.1 628.0,226.0 628.4,231.8 628.9,237.2 629.3,239.3 629.7,242.6 630.1,244.4 630.5,248.4 631.0,252.4 631.4,247.7 631.8,244.7 632.2,240.6 632.7,237.7 633.1,233.7 633.5,227.5 633.9,225.3 634.4,220.0 634.8,218.5 635.2,218.7 635.6,215.4 636.0,214.3 636.5,212.5 636.9,211.8 637.3,209.1 637.7,212.5 638.2,209.6 638.6,209.5 639.0,205.0 639.4,203.5 639.9,205.5 640.3,202.6 640.7,201.3 641.1,200.0 641.5,197.9 642.0,197.3 642.4,198.8 642.8,194.6 643.2,196.1 643.7,195.1 644.1,195.5 644.5,195.8 644.9,193.8 645.3,195.6 645.8,195.2 646.2,197.3 646.6,195.2 647.0,195.7 647.5,195.0 647.9,195.1 648.3,195.0 648.7,195.3 649.2,197.9 649.6,198.8 650.0,200.6 650.4,202.6 650.8,202.8 651.3,204.8 651.7,206.9 652.1,208.7 652.5,211.4 653.0,209.7 653.4,212.5 653.8,214.0 654.2,216.5 654.7,217.8 655.1,218.2 655.5,220.5 655.9,222.1 656.3,223.1 656.8,225.4 657.2,227.5 657.6,230.7 658.0,231.7 658.5,232.9 658.9,234.5 659.3,236.7 659.7,239.6 660.2,241.4 660.6,241.5 661.0,243.6 661.4,245.8 661.8,247.7 662.3,248.4 662.7,251.4 663.1,253.4 663.5,255.2 664.0,257.3 664.4,255.0 664.8,252.5 665.2,249.9 665.6,249.3 666.1,247.2 666.5,246.9 666.9,244.4 667.3,241.9 667.8,240.8 668.2,240.7 668.6,237.5 669.0,236.5 669.5,235.5 669.9,233.3 670.3,230.5 670.7,228.8 671.1,227.6 671.6,226.9 672.0,227.1 672.4,226.9 672.8,227.9 673.3,228.6 673.7,227.7 674.1,228.5 674.5,229.9 675.0,231.1 675.4,230.7 675.8,231.5 676.2,232.8 676.6,231.8 677.1,232.8 677.5,233.1 677.9,235.0 678.3,233.9 678.8,233.9 679.2,235.4 679.6,236.8 680.0,235.8 680.4,236.3 680.9,236.5 681.3,236.3 681.7,236.1 682.1,237.6 682.6,237.0 683.0,236.2 683.4,236.9 683.8,237.4 684.3,237.1 684.7,237.9 685.1,237.9 685.5,238.1 685.9,237.7 686.4,239.8 686.8,238.4 687.2,238.5 687.6,240.0 688.1,239.7 688.5,240.0 688.9,241.5 689.3,240.1 689.8,240.0 690.2,240.5 690.6,240.9 691.0,241.7 691.4,242.1 691.9,242.7 692.3,242.0 692.7,242.8 693.1,242.2 693.6,242.6 694.0,242.9 694.4,242.0 694.8,243.7 695.3,242.3 695.7,241.9 696.1,241.7 696.5,242.3 696.9,243.1 697.4,241.2 697.8,242.0 698.2,241.2 698.6,242.2 699.1,241.2 699.5,240.1 699.9,240.6 700.3,241.1 700.7,240.9 701.2,242.0 701.6,241.2 702.0,240.2 702.4,241.2 702.9,240.5 703.3,241.8 703.7,240.2 704.1,239.9 704.6,240.4 705.0,241.2 705.4,239.7 705.8,240.8 706.2,239.8 706.7,239.8 707.1,240.0 707.5,239.4 707.9,238.6 708.4,238.9 708.8,236.9 709.2,235.2 709.6,236.7 710.1,235.9 710.5,235.1 710.9,235.5 711.3,232.9 711.7,233.6 712.2,234.0 712.6,233.0 713.0,233.0 713.4,231.9 713.9,230.6 714.3,230.1 714.7,230.4 715.1,229.0 715.5,230.3 716.0,228.3 716.4,227.2 716.8,227.7 717.2,227.6 717.7,226.8 718.1,226.2 718.5,225.6 718.9,224.3 719.4,224.9 719.8,224.8 720.2,223.1 720.6,223.3 721.0,221.2 721.5,221.7 721.9,220.2 722.3,220.6 722.7,218.6 723.2,218.0 723.6,217.8 724.0,217.3 724.4,216.4 724.9,216.3 725.3,215.2 725.7,214.3 726.1,214.8 726.5,213.5 727.0,212.0 727.4,211.0 727.8,208.6 728.2,207.8 728.7,208.7 729.1,205.5 729.5,205.8 729.9,204.4 730.4,202.8 730.8,203.4 731.2,200.7 731.6,200.6 732.0,200.2 732.5,205.1 732.9,209.6 733.3,214.0 733.7,219.0 734.2,222.0 734.6,219.2 735.0,218.0 735.4,215.0 735.8,214.8 736.3,212.6 736.7,210.5 737.1,207.9 737.5,206.9 738.0,204.9 738.4,205.4 738.8,205.4 739.2,203.6 739.7,204.6 740.1,203.8 740.5,203.8 740.9,202.9 741.3,203.5 741.8,202.3 742.2,202.6 742.6,202.0 743.0,200.9 743.5,201.5 743.9,203.7 744.3,205.2 744.7,206.3 745.2,207.0 745.6,209.6 746.0,209.5 746.4,211.5 746.8,210.9 747.3,213.2 747.7,214.0 748.1,215.8 748.5,217.8 749.0,217.1 749.4,218.3 749.8,219.7 750.2,220.7 750.7,222.0 751.1,223.2 751.5,224.0 751.9,225.5 752.3,226.5 752.8,228.3 753.2,227.6 753.6,228.7 754.0,228.9 754.5,229.0 754.9,229.8 755.3,228.5 755.7,230.0 756.1,229.7 756.6,229.2 757.0,230.6 757.4,230.8 757.8,229.3 758.3,230.3 758.7,229.3 759.1,229.1 759.5,230.1 760.0,229.7 760.4,229.2 760.8,228.7 761.2,227.8 761.6,229.0 762.1,228.3 762.5,227.9 762.9,228.0 763.3,227.1 763.8,226.7 764.2,226.8 764.6,226.6 765.0,226.8 765.5,225.4 765.9,226.3 766.3,225.3 766.7,225.7 767.1,225.2 767.6,224.0 768.0,224.8 768.4,224.7 768.8,224.4 769.3,225.9 769.7,224.2 770.1,224.6 770.5,224.6 770.9,223.9 771.4,223.3 771.8,223.4 772.2,224.6 772.6,223.3 773.1,223.8 773.5,223.7 773.9,222.8 774.3,223.7 774.8,223.5 775.2,222.4 775.6,222.5 776.0,222.6 776.4,223.3 776.9,222.3 777.3,221.5 777.7,223.4 778.1,221.8 778.6,221.9 779.0,221.8 779.4,221.2 779.8,223.0 780.3,223.0 780.7,223.1 781.1,222.8 781.5,224.4 781.9,222.2 782.4,223.0 782.8,222.9 783.2,222.0 783.6,222.9 784.1,223.3 784.5,223.4 784.9,223.4 785.3,223.7 785.8,223.9 786.2,223.8 786.6,224.7 787.0,224.1 787.4,224.9 787.9,225.1 788.3,224.6 788.7,224.1 789.1,224.9 789.6,225.5 790.0,223.7 790.4,224.8 790.8,226.3 791.2,225.1 791.7,224.9 792.1,225.0 792.5,225.2 792.9,225.4 793.4,225.1 793.8,225.9 794.2,225.9 794.6,225.3 795.1,226.8 795.5,226.8 795.9,226.1" fill="none" stroke="#f56868" stroke-width="1.2" stroke-opacity="1.0" stroke-linejoin="round"/>
<rect x="78.70" y="190.90" width="715.90" height="72.90" fill="none" stroke="#fff" stroke-width="0.8" stroke-opacity="0.8"/>
<rect x="77.40" y="189.60" width="718.50" height="75.50" fill="none" stroke="#555" stroke-width="1.4"/>
<text transform="translate(84.50,283.36) scale(1.09,1)" font-size="18.5" text-anchor="middle">8.6</text>
<text transform="translate(206.10,283.36) scale(1.09,1)" font-size="18.5" text-anchor="middle">8.7</text>
<text transform="translate(336.90,283.36) scale(1.09,1)" font-size="18.5" text-anchor="middle">8.8</text>
<text transform="translate(467.70,283.36) scale(1.09,1)" font-size="18.5" text-anchor="middle">8.9</text>
<text transform="translate(598.50,283.36) scale(1.09,1)" font-size="18.5" text-anchor="middle">9</text>
<text transform="translate(729.30,283.36) scale(1.09,1)" font-size="18.5" text-anchor="middle">9.1</text>
<text transform="translate(72.05,197.26) scale(1.09,1)" font-size="18.5" text-anchor="end">500</text>
<text transform="translate(72.05,234.66) scale(1.09,1)" font-size="18.5" text-anchor="end">0</text>
<text transform="translate(72.05,273.06) scale(1.09,1)" font-size="18.5" text-anchor="end">-500</text>
<text transform="translate(20.20,224.20) rotate(-90)" font-size="19.8" text-anchor="middle">Amp (m/s<tspan dy="-7.5" font-size="11.5">2</tspan><tspan dy="7.5">)</tspan></text>
<text transform="translate(107.27,164.60) scale(1.0456,1)" font-size="19.5" text-anchor="start">Vibration signal of rockfall on the protective net (Sensor D,  y direction, 1000kj)</text>
<rect x="76.10" y="354.70" width="716.10" height="75.60" fill="url(#bg)"/>
<line x1="147.16" y1="355.70" x2="147.16" y2="429.30" class="g"/>
<line x1="218.82" y1="355.70" x2="218.82" y2="429.30" class="g"/>
<line x1="290.48" y1="355.70" x2="290.48" y2="429.30" class="g"/>
<line x1="362.14" y1="355.70" x2="362.14" y2="429.30" class="g"/>
<line x1="433.80" y1="355.70" x2="433.80" y2="429.30" class="g"/>
<line x1="505.46" y1="355.70" x2="505.46" y2="429.30" class="g"/>
<line x1="577.12" y1="355.70" x2="577.12" y2="429.30" class="g"/>
<line x1="648.78" y1="355.70" x2="648.78" y2="429.30" class="g"/>
<line x1="720.44" y1="355.70" x2="720.44" y2="429.30" class="g"/>
<line x1="77.10" y1="392.50" x2="791.20" y2="392.50" class="g"/>
<polyline points="76.2,392.7 76.5,392.4 76.7,392.5 76.9,392.4 77.2,392.5 77.4,392.4 77.6,392.6 77.9,392.3 78.1,392.3 78.4,392.6 78.6,392.4 78.8,392.4 79.1,392.7 79.3,392.4 79.6,392.6 79.8,392.5 80.0,392.6 80.3,392.5 80.5,392.5 80.8,392.5 81.0,392.7 81.2,392.5 81.5,392.6 81.7,392.6 81.9,392.5 82.2,392.3 82.4,392.4 82.7,392.5 82.9,392.6 83.1,392.6 83.4,392.4 83.6,392.3 83.9,392.5 84.1,392.4 84.3,392.4 84.6,392.3 84.8,392.7 85.1,392.7 85.3,392.5 85.5,392.4 85.8,392.5 86.0,392.4 86.2,392.6 86.5,392.6 86.7,392.6 87.0,392.3 87.2,392.4 87.4,392.6 87.7,392.4 87.9,392.6 88.2,392.5 88.4,392.6 88.6,392.5 88.9,392.6 89.1,392.5 89.4,392.6 89.6,392.6 89.8,392.5 90.1,392.5 90.3,392.5 90.5,392.6 90.8,392.4 91.0,392.6 91.3,392.4 91.5,392.3 91.7,392.6 92.0,392.3 92.2,392.3 92.5,392.5 92.7,392.7 92.9,392.7 93.2,392.6 93.4,392.3 93.7,392.4 93.9,392.4 94.1,392.6 94.4,392.6 94.6,392.5 94.8,392.7 95.1,392.5 95.3,392.4 95.6,392.5 95.8,392.4 96.0,392.6 96.3,392.4 96.5,392.4 96.8,392.7 97.0,392.6 97.2,392.6 97.5,392.4 97.7,392.4 98.0,392.4 98.2,392.5 98.4,392.4 98.7,392.4 98.9,392.6 99.1,392.7 99.4,392.4 99.6,392.5 99.9,392.5 100.1,392.5 100.3,392.6 100.6,392.7 100.8,392.4 101.1,392.4 101.3,392.4 101.5,392.5 101.8,392.5 102.0,392.6 102.3,392.5 102.5,392.6 102.7,392.6 103.0,392.5 103.2,392.3 103.4,392.7 103.7,392.4 103.9,392.4 104.2,392.7 104.4,392.5 104.6,392.5 104.9,392.6 105.1,392.6 105.4,392.7 105.6,392.3 105.8,392.3 106.1,392.3 106.3,392.5 106.6,392.5 106.8,392.4 107.0,392.6 107.3,392.5 107.5,392.4 107.7,392.6 108.0,392.7 108.2,392.7 108.5,392.5 108.7,392.6 108.9,392.6 109.2,392.3 109.4,392.5 109.7,392.6 109.9,392.5 110.1,392.3 110.4,392.7 110.6,392.3 110.9,392.4 111.1,392.6 111.3,392.6 111.6,392.4 111.8,392.5 112.0,392.6 112.3,392.3 112.5,392.5 112.8,392.5 113.0,392.6 113.2,392.6 113.5,392.5 113.7,392.6 114.0,392.5 114.2,392.4 114.4,392.4 114.7,392.4 114.9,392.3 115.2,392.4 115.4,392.6 115.6,392.4 115.9,392.7 116.1,392.6 116.3,392.4 116.6,392.7 116.8,392.3 117.1,392.6 117.3,392.7 117.5,392.6 117.8,392.6 118.0,392.4 118.3,392.5 118.5,392.3 118.7,392.5 119.0,392.4 119.2,392.6 119.5,392.4 119.7,392.5 119.9,392.7 120.2,392.3 120.4,392.6 120.6,392.6 120.9,392.6 121.1,392.4 121.4,392.7 121.6,392.5 121.8,392.4 122.1,392.3 122.3,392.5 122.6,392.5 122.8,392.6 123.0,392.3 123.3,392.5 123.5,392.5 123.8,392.5 124.0,392.6 124.2,392.5 124.5,392.7 124.7,392.3 124.9,392.6 125.2,392.6 125.4,392.4 125.7,392.7 125.9,392.3 126.1,392.3 126.4,392.6 126.6,392.4 126.9,392.5 127.1,392.4 127.3,392.5 127.6,392.7 127.8,392.4 128.1,392.6 128.3,392.5 128.5,392.4 128.8,392.4 129.0,392.4 129.2,392.7 129.5,392.4 129.7,392.6 130.0,392.4 130.2,392.6 130.4,392.3 130.7,392.5 130.9,392.5 131.2,392.5 131.4,392.7 131.6,392.4 131.9,392.5 132.1,392.7 132.4,392.5 132.6,392.5 132.8,392.5 133.1,392.5 133.3,392.4 133.5,392.4 133.8,392.5 134.0,392.5 134.3,392.6 134.5,392.6 134.7,392.4 135.0,392.6 135.2,392.7 135.5,392.5 135.7,392.3 135.9,392.5 136.2,392.4 136.4,392.4 136.6,392.6 136.9,392.5 137.1,392.5 137.4,392.4 137.6,392.7 137.8,392.4 138.1,392.4 138.3,392.6 138.6,392.4 138.8,392.6 139.0,392.5 139.3,392.4 139.5,392.4 139.8,392.5 140.0,392.5 140.2,392.5 140.5,392.7 140.7,392.4 140.9,392.5 141.2,392.6 141.4,392.4 141.7,392.5 141.9,392.7 142.1,392.4 142.4,392.6 142.6,392.5 142.9,392.4 143.1,392.4 143.3,392.3 143.6,392.5 143.8,392.6 144.1,392.6 144.3,392.6 144.5,392.4 144.8,392.4 145.0,392.6 145.2,392.6 145.5,392.5 145.7,392.3 146.0,392.6 146.2,392.4 146.4,392.7 146.7,392.5 146.9,392.3 147.2,392.6 147.4,392.3 147.6,392.7 147.9,392.5 148.1,392.6 148.4,392.5 148.6,392.5 148.8,392.4 149.1,392.4 149.3,392.5 149.5,392.6 149.8,392.4 150.0,392.6 150.3,392.6 150.5,392.6 150.7,392.5 151.0,392.3 151.2,392.5 151.5,392.3 151.7,392.7 151.9,392.6 152.2,392.5 152.4,392.5 152.7,392.4 152.9,392.3 153.1,392.6 153.4,392.4 153.6,392.5 153.8,392.7 154.1,392.7 154.3,392.6 154.6,392.5 154.8,392.4 155.0,392.5 155.3,392.3 155.5,392.6 155.8,392.5 156.0,392.4 156.2,392.6 156.5,392.3 156.7,392.3 157.0,392.5 157.2,392.5 157.4,392.5 157.7,392.5 157.9,392.3 158.1,392.4 158.4,392.7 158.6,392.7 158.9,392.4 159.1,392.7 159.3,392.7 159.6,392.6 159.8,392.5 160.1,392.3 160.3,392.5 160.5,392.3 160.8,392.5 161.0,392.4 161.3,392.4 161.5,392.6 161.7,392.4 162.0,392.5 162.2,392.5 162.4,392.6 162.7,392.6 162.9,392.4 163.2,392.6 163.4,392.5 163.6,392.5 163.9,392.5 164.1,392.5 164.4,392.5 164.6,392.4 164.8,392.3 165.1,392.5 165.3,392.6 165.6,392.6 165.8,392.4 166.0,392.7 166.3,392.6 166.5,392.4 166.7,392.5 167.0,392.6 167.2,392.3 167.5,392.7 167.7,392.5 167.9,392.5 168.2,392.6 168.4,392.4 168.7,392.3 168.9,392.3 169.1,392.4 169.4,392.4 169.6,392.5 169.9,392.5 170.1,392.7 170.3,392.6 170.6,392.4 170.8,392.5 171.0,392.4 171.3,392.7 171.5,392.6 171.8,392.6 172.0,392.3 172.2,392.5 172.5,392.5 172.7,392.6 173.0,392.5 173.2,392.6 173.4,392.5 173.7,392.3 173.9,392.6 174.2,392.5 174.4,392.6 174.6,392.3 174.9,392.6 175.1,392.6 175.3,392.4 175.6,392.3 175.8,392.4 176.1,392.5 176.3,392.7 176.5,392.7 176.8,392.5 177.0,392.5 177.3,392.3 177.5,392.4 177.7,392.5 178.0,392.3 178.2,392.3 178.5,392.6 178.7,392.4 178.9,392.4 179.2,392.6 179.4,392.5 179.6,392.5 179.9,392.4 180.1,392.4 180.4,392.7 180.6,392.6 180.8,392.4 181.1,392.5 181.3,392.7 181.6,392.6 181.8,392.7 182.0,392.5 182.3,392.7 182.5,392.4 182.8,392.4 183.0,392.3 183.2,392.4 183.5,392.4 183.7,392.4 183.9,392.4 184.2,392.7 184.4,392.4 184.7,392.6 184.9,392.7 185.1,392.3 185.4,392.5 185.6,392.7 185.9,392.4 186.1,392.4 186.3,392.5 186.6,392.3 186.8,392.6 187.1,392.4 187.3,392.6 187.5,392.4 187.8,392.4 188.0,392.6 188.2,392.3 188.5,392.7 188.7,392.7 189.0,392.6 189.2,392.7 189.4,392.4 189.7,392.6 189.9,392.4 190.2,392.6 190.4,392.5 190.6,392.5 190.9,392.6 191.1,392.5 191.4,392.5 191.6,392.3 191.8,392.3 192.1,392.6 192.3,392.5 192.5,392.4 192.8,392.5 193.0,392.3 193.3,392.3 193.5,392.7 193.7,392.6 194.0,392.4 194.2,392.5 194.5,392.6 194.7,392.6 194.9,392.5 195.2,392.3 195.4,392.7 195.6,392.5 195.9,392.3 196.1,392.4 196.4,392.5 196.6,392.6 196.8,392.7 197.1,392.7 197.3,392.6 197.6,392.4 197.8,392.4 198.0,392.3 198.3,392.4 198.5,392.4 198.8,392.5 199.0,392.6 199.2,392.3 199.5,392.6 199.7,392.7 199.9,392.4 200.2,392.5 200.4,392.3 200.7,392.5 200.9,392.4 201.1,392.6 201.4,392.4 201.6,392.5 201.9,392.6 202.1,392.5 202.3,392.7 202.6,392.4 202.8,392.5 203.1,392.4 203.3,392.6 203.5,392.6 203.8,392.5 204.0,392.4 204.2,392.5 204.5,392.7 204.7,392.4 205.0,392.5 205.2,392.4 205.4,392.3 205.7,392.4 205.9,392.6 206.2,392.6 206.4,392.4 206.6,392.4 206.9,392.6 207.1,392.6 207.4,392.7 207.6,392.5 207.8,392.6 208.1,392.3 208.3,392.4 208.5,392.4 208.8,392.4 209.0,392.6 209.3,392.7 209.5,392.3 209.7,392.5 210.0,392.7 210.2,392.3 210.5,392.4 210.7,392.3 210.9,392.5 211.2,392.7 211.4,392.6 211.7,392.4 211.9,392.7 212.1,392.6 212.4,389.4 212.6,388.6 212.8,391.7 213.1,392.7 213.3,393.1 213.6,379.5 213.8,373.3 214.0,396.8 214.3,383.3 214.5,380.1 214.8,397.6 215.0,403.5 215.2,403.2 215.5,405.8 215.7,394.2 216.0,394.1 216.2,384.1 216.4,384.6 216.7,396.7 216.9,419.4 217.1,386.3 217.4,408.9 217.6,368.1 217.9,400.0 218.1,365.1 218.3,385.5 218.6,369.5 218.8,391.9 219.1,386.9 219.3,400.6 219.5,400.9 219.8,400.4 220.0,382.0 220.3,409.1 220.5,377.3 220.7,395.3 221.0,382.1 221.2,404.8 221.4,389.2 221.7,414.3 221.9,398.5 222.2,391.7 222.4,403.1 222.6,391.6 222.9,386.7 223.1,386.4 223.4,416.4 223.6,392.0 223.8,390.8 224.1,399.5 224.3,401.0 224.6,369.9 224.8,377.7 225.0,376.0 225.3,373.8 225.5,401.2 225.7,392.4 226.0,412.3 226.2,387.4 226.5,414.4 226.7,399.2 226.9,381.4 227.2,384.1 227.4,402.9 227.7,401.9 227.9,375.7 228.1,386.0 228.4,397.4 228.6,389.8 228.9,390.2 229.1,404.4 229.3,398.3 229.6,413.1 229.8,389.4 230.0,391.3 230.3,380.9 230.5,381.2 230.8,397.9 231.0,375.5 231.2,401.5 231.5,383.3 231.7,399.6 232.0,401.0 232.2,408.2 232.4,395.4 232.7,374.0 232.9,393.7 233.2,390.6 233.4,399.7 233.6,391.0 233.9,390.1 234.1,391.9 234.3,383.1 234.6,397.7 234.8,393.2 235.1,382.2 235.3,391.4 235.5,405.8 235.8,385.2 236.0,391.4 236.3,406.1 236.5,405.6 236.7,401.5 237.0,389.1 237.2,393.6 237.5,387.2 237.7,376.3 237.9,379.8 238.2,394.5 238.4,401.7 238.6,382.1 238.9,401.3 239.1,401.6 239.4,394.8 239.6,390.8 239.8,395.5 240.1,390.5 240.3,409.2 240.6,395.8 240.8,392.0 241.0,386.1 241.3,389.1 241.5,394.2 241.8,377.6 242.0,383.9 242.2,387.0 242.5,389.7 242.7,388.6 242.9,400.2 243.2,402.3 243.4,391.0 243.7,408.0 243.9,388.4 244.1,397.1 244.4,387.7 244.6,392.7 244.9,401.5 245.1,400.4 245.3,397.7 245.6,383.2 245.8,382.5 246.1,395.4 246.3,392.3 246.5,400.6 246.8,381.6 247.0,390.7 247.2,398.2 247.5,403.9 247.7,387.5 248.0,378.5 248.2,390.1 248.4,398.3 248.7,397.6 248.9,394.4 249.2,408.5 249.4,382.0 249.6,393.1 249.9,404.1 250.1,408.4 250.4,385.2 250.6,386.0 250.8,379.0 251.1,379.8 251.3,390.5 251.5,401.8 251.8,385.9 252.0,391.9 252.3,387.0 252.5,401.0 252.7,390.3 253.0,390.0 253.2,399.0 253.5,403.4 253.7,407.7 253.9,388.9 254.2,381.1 254.4,390.4 254.6,407.6 254.9,391.1 255.1,405.0 255.4,389.7 255.6,380.0 255.8,389.5 256.1,407.3 256.3,385.1 256.6,390.2 256.8,380.3 257.0,389.4 257.3,388.2 257.5,406.9 257.8,383.5 258.0,403.4 258.2,406.8 258.5,389.9 258.7,388.5 258.9,384.0 259.2,386.0 259.4,390.9 259.7,391.2 259.9,388.0 260.1,391.0 260.4,390.5 260.6,402.0 260.9,393.5 261.1,394.7 261.3,390.3 261.6,396.2 261.8,388.2 262.1,389.0 262.3,398.0 262.5,392.6 262.8,389.7 263.0,398.8 263.2,403.0 263.5,394.2 263.7,391.0 264.0,392.4 264.2,385.3 264.4,390.3 264.7,381.1 264.9,396.8 265.2,380.1 265.4,394.5 265.6,388.1 265.9,409.1 266.1,399.0 266.4,382.0 266.6,391.0 266.8,391.3 267.1,404.3 267.3,384.3 267.5,402.4 267.8,378.0 268.0,385.5 268.3,397.8 268.5,401.4 268.7,397.9 269.0,387.7 269.2,389.1 269.5,413.2 269.7,388.5 269.9,406.3 270.2,375.2 270.4,416.1 270.7,383.5 270.9,408.9 271.1,389.4 271.4,381.8 271.6,388.9 271.8,409.6 272.1,414.6 272.3,379.6 272.6,405.1 272.8,386.5 273.0,382.6 273.3,415.7 273.5,375.7 273.8,396.2 274.0,397.0 274.2,407.1 274.5,391.4 274.7,388.9 275.0,383.4 275.2,383.4 275.4,383.3 275.7,394.3 275.9,393.9 276.1,391.2 276.4,390.5 276.6,380.4 276.9,383.5 277.1,393.8 277.3,403.3 277.6,415.0 277.8,394.2 278.1,391.6 278.3,414.9 278.5,396.2 278.8,389.6 279.0,390.1 279.3,410.0 279.5,400.8 279.7,411.0 280.0,385.2 280.2,390.5 280.4,377.3 280.7,400.4 280.9,380.8 281.2,393.7 281.4,393.3 281.6,385.6 281.9,409.7 282.1,405.7 282.4,382.7 282.6,386.7 282.8,380.5 283.1,390.1 283.3,398.0 283.6,388.0 283.8,397.1 284.0,394.2 284.3,394.4 284.5,398.8 284.7,381.5 285.0,388.6 285.2,392.1 285.5,390.4 285.7,395.5 285.9,394.5 286.2,391.5 286.4,390.1 286.7,404.3 286.9,383.7 287.1,405.5 287.4,398.8 287.6,402.4 287.9,390.7 288.1,406.4 288.3,385.1 288.6,386.9 288.8,385.4 289.0,386.2 289.3,394.3 289.5,389.9 289.8,401.7 290.0,396.1 290.2,388.9 290.5,406.8 290.7,395.2 291.0,397.8 291.2,386.1 291.4,388.6 291.7,397.2 291.9,386.8 292.2,380.6 292.4,384.7 292.6,391.4 292.9,391.1 293.1,402.7 293.3,397.4 293.6,389.6 293.8,388.7 294.1,406.7 294.3,404.1 294.5,403.5 294.8,402.1 295.0,395.7 295.3,390.9 295.5,401.1 295.7,395.1 296.0,409.4 296.2,390.5 296.5,387.1 296.7,392.3 296.9,403.5 297.2,380.6 297.4,394.9 297.6,385.5 297.9,409.8 298.1,394.1 298.4,387.8 298.6,389.4 298.8,388.1 299.1,389.0 299.3,395.2 299.6,397.0 299.8,391.4 300.0,395.4 300.3,395.3 300.5,388.8 300.8,390.2 301.0,395.3 301.2,386.0 301.5,393.1 301.7,394.6 301.9,388.5 302.2,392.0 302.4,403.3 302.7,391.3 302.9,402.4 303.1,395.9 303.4,392.7 303.6,390.9 303.9,398.4 304.1,395.7 304.3,390.5 304.6,384.3 304.8,384.6 305.1,390.1 305.3,386.4 305.5,395.2 305.8,394.0 306.0,390.3 306.2,390.3 306.5,397.2 306.7,389.1 307.0,394.9 307.2,392.9 307.4,395.1 307.7,393.2 307.9,390.0 308.2,394.8 308.4,393.4 308.6,392.2 308.9,391.0 309.1,389.3 309.4,391.7 309.6,390.0 309.8,394.7 310.1,392.8 310.3,395.7 310.5,389.7 310.8,392.8 311.0,390.6 311.3,393.6 311.5,393.6 311.7,393.5 312.0,392.9 312.2,392.2 312.5,394.7 312.7,391.5 312.9,390.7 313.2,395.0 313.4,394.5 313.7,393.8 313.9,393.4 314.1,389.3 314.4,390.5 314.6,394.2 314.8,389.3 315.1,390.6 315.3,394.3 315.6,395.1 315.8,391.5 316.0,395.2 316.3,392.0 316.5,390.8 316.8,393.9 317.0,393.8 317.2,394.1 317.5,390.3 317.7,391.5 317.9,391.8 318.2,391.3 318.4,392.9 318.7,394.1 318.9,392.4 319.1,391.3 319.4,393.3 319.6,393.5 319.9,394.8 320.1,390.6 320.3,391.7 320.6,392.8 320.8,392.8 321.1,392.5 321.3,393.0 321.5,391.3 321.8,392.7 322.0,391.7 322.2,392.9 322.5,394.0 322.7,390.9 323.0,390.6 323.2,389.5 323.4,394.1 323.7,394.8 323.9,398.1 324.2,392.6 324.4,395.8 324.6,388.2 324.9,397.5 325.1,388.5 325.4,398.2 325.6,392.8 325.8,385.9 326.1,394.6 326.3,389.8 326.5,388.2 326.8,399.0 327.0,383.9 327.3,398.4 327.5,393.1 327.7,390.9 328.0,390.1 328.2,387.8 328.5,387.3 328.7,396.9 328.9,392.5 329.2,398.4 329.4,391.2 329.7,394.0 329.9,391.2 330.1,397.2 330.4,395.8 330.6,390.6 330.8,389.8 331.1,393.5 331.3,394.2 331.6,394.8 331.8,395.1 332.0,395.4 332.3,385.1 332.5,389.3 332.8,401.9 333.0,395.2 333.2,399.2 333.5,391.8 333.7,383.5 334.0,386.2 334.2,392.0 334.4,390.6 334.7,394.1 334.9,401.6 335.1,398.5 335.4,386.4 335.6,408.2 335.9,385.2 336.1,380.9 336.3,393.7 336.6,386.1 336.8,392.9 337.1,398.2 337.3,411.7 337.5,403.7 337.8,382.2 338.0,395.3 338.3,400.1 338.5,381.1 338.7,397.9 339.0,412.8 339.2,403.7 339.4,380.7 339.7,384.5 339.9,401.9 340.2,388.1 340.4,399.5 340.6,369.5 340.9,388.6 341.1,382.5 341.4,391.5 341.6,383.3 341.8,388.2 342.1,395.1 342.3,401.3 342.6,399.6 342.8,396.6 343.0,384.9 343.3,385.9 343.5,375.9 343.7,395.2 344.0,390.2 344.2,413.4 344.5,400.0 344.7,399.1 344.9,390.9 345.2,388.8 345.4,395.9 345.7,384.8 345.9,395.0 346.1,389.3 346.4,396.4 346.6,386.3 346.9,395.7 347.1,391.2 347.3,398.0 347.6,404.2 347.8,372.8 348.0,397.5 348.3,375.9 348.5,392.9 348.8,389.4 349.0,388.3 349.2,399.6 349.5,409.2 349.7,380.6 350.0,387.6 350.2,409.1 350.4,398.9 350.7,398.1 350.9,378.3 351.2,385.2 351.4,391.6 351.6,378.6 351.9,386.8 352.1,399.9 352.3,407.3 352.6,380.3 352.8,410.7 353.1,377.8 353.3,411.5 353.5,398.8 353.8,377.2 354.0,381.0 354.3,377.6 354.5,407.5 354.7,394.3 355.0,391.4 355.2,395.2 355.5,397.1 355.7,387.0 355.9,390.2 356.2,400.9 356.4,396.6 356.6,393.3 356.9,390.7 357.1,393.4 357.4,407.5 357.6,389.8 357.8,385.3 358.1,373.3 358.3,397.1 358.6,381.4 358.8,398.1 359.0,378.1 359.3,394.2 359.5,392.0 359.8,395.8 360.0,392.1 360.2,392.2 360.5,409.6 360.7,387.6 360.9,406.4 361.2,397.6 361.4,385.5 361.7,398.6 361.9,403.6 362.1,378.0 362.4,381.3 362.6,381.2 362.9,385.4 363.1,391.6 363.3,394.6 363.6,411.4 363.8,406.7 364.1,405.7 364.3,384.6 364.5,373.2 364.8,387.2 365.0,397.7 365.2,380.3 365.5,395.6 365.7,397.0 366.0,394.9 366.2,381.8 366.4,380.0 366.7,389.8 366.9,403.7 367.2,383.2 367.4,400.4 367.6,401.4 367.9,397.5 368.1,402.6 368.4,398.6 368.6,374.1 368.8,401.0 369.1,391.3 369.3,406.2 369.5,398.9 369.8,394.0 370.0,389.1 370.3,389.1 370.5,391.0 370.7,397.6 371.0,375.2 371.2,383.2 371.5,396.2 371.7,393.1 371.9,395.4 372.2,391.2 372.4,397.7 372.7,383.9 372.9,382.1 373.1,392.9 373.4,388.3 373.6,397.4 373.8,380.5 374.1,395.8 374.3,388.0 374.6,389.4 374.8,400.0 375.0,405.7 375.3,398.4 375.5,400.2 375.8,397.3 376.0,393.7 376.2,393.7 376.5,396.2 376.7,381.0 376.9,399.2 377.2,387.0 377.4,388.6 377.7,396.3 377.9,381.4 378.1,385.1 378.4,391.3 378.6,390.4 378.9,392.7 379.1,389.3 379.3,394.7 379.6,385.9 379.8,386.8 380.1,394.2 380.3,398.1 380.5,385.7 380.8,391.7 381.0,395.9 381.2,383.6 381.5,391.3 381.7,398.0 382.0,386.6 382.2,396.7 382.4,398.9 382.7,395.2 382.9,393.2 383.2,398.9 383.4,381.6 383.6,390.7 383.9,391.2 384.1,393.3 384.4,390.8 384.6,395.6 384.8,393.7 385.1,385.7 385.3,393.8 385.5,391.6 385.8,393.6 386.0,381.7 386.3,385.8 386.5,390.8 386.7,388.8 387.0,391.4 387.2,391.8 387.5,381.8 387.7,398.9 387.9,394.0 388.2,393.3 388.4,388.3 388.7,398.9 388.9,395.9 389.1,391.7 389.4,398.9 389.6,390.8 389.8,381.9 390.1,396.9 390.3,398.9 390.6,389.7 390.8,394.3 391.0,381.9 391.3,394.5 391.5,395.3 391.8,385.9 392.0,385.1 392.2,386.1 392.5,382.0 392.7,388.8 393.0,391.9 393.2,394.2 393.4,392.6 393.7,393.7 393.9,394.0 394.1,395.8 394.4,398.9 394.6,388.7 394.9,388.8 395.1,397.9 395.3,386.0 395.6,398.9 395.8,393.6 396.1,390.5 396.3,393.1 396.5,387.0 396.8,384.2 397.0,384.4 397.3,391.0 397.5,382.2 397.7,393.5 398.0,394.3 398.2,394.6 398.4,394.9 398.7,393.9 398.9,396.8 399.2,397.7 399.4,385.4 399.6,390.1 399.9,388.6 400.1,391.4 400.4,395.5 400.6,388.1 400.8,390.3 401.1,395.5 401.3,390.5 401.6,396.1 401.8,390.0 402.0,394.4 402.3,389.9 402.5,394.4 402.7,389.7 403.0,391.6 403.2,390.9 403.5,391.8 403.7,391.1 403.9,390.7 404.2,390.3 404.4,396.1 404.7,393.3 404.9,393.6 405.1,393.1 405.4,392.8 405.6,387.7 405.9,390.9 406.1,395.4 406.3,393.4 406.6,389.8 406.8,394.8 407.0,391.9 407.3,393.8 407.5,391.6 407.8,393.0 408.0,392.7 408.2,393.2 408.5,394.4 408.7,389.3 409.0,391.7 409.2,392.4 409.4,388.5 409.7,392.0 409.9,392.8 410.2,392.2 410.4,393.5 410.6,394.3 410.9,387.7 411.1,394.3 411.3,389.3 411.6,391.4 411.8,395.0 412.1,393.1 412.3,394.1 412.5,392.6 412.8,390.2 413.0,394.3 413.3,394.3 413.5,394.9 413.7,388.3 414.0,391.9 414.2,391.3 414.5,391.7 414.7,394.6 414.9,387.7 415.2,394.5 415.4,396.1 415.6,390.1 415.9,394.0 416.1,389.3 416.4,390.1 416.6,391.7 416.8,390.1 417.1,389.9 417.3,393.2 417.6,393.7 417.8,394.8 418.0,393.0 418.3,393.7 418.5,394.4 418.8,393.6 419.0,387.7 419.2,390.2 419.5,394.9 419.7,387.7 419.9,395.8 420.2,392.2 420.4,394.3 420.7,394.2 420.9,393.0 421.1,390.5 421.4,388.6 421.6,395.7 421.9,392.8 422.1,393.6 422.3,390.1 422.6,389.3 422.8,394.4 423.1,393.5 423.3,393.4 423.5,389.4 423.8,392.7 424.0,393.4 424.2,393.1 424.5,393.2 424.7,391.1 425.0,387.7 425.2,395.3 425.4,393.2 425.7,390.4 425.9,396.1 426.2,390.5 426.4,390.5 426.6,391.6 426.9,394.7 427.1,387.8 427.4,391.3 427.6,392.6 427.8,389.0 428.1,395.1 428.3,393.7 428.5,395.8 428.8,392.7 429.0,392.0 429.3,393.0 429.5,392.9 429.7,390.8 430.0,393.6 430.2,393.0 430.5,394.7 430.7,391.2 430.9,393.0 431.2,389.0 431.4,393.5 431.7,391.4 431.9,391.7 432.1,394.4 432.4,391.0 432.6,391.5 432.8,390.5 433.1,390.7 433.3,392.8 433.6,389.5 433.8,391.6 434.0,390.9 434.3,394.9 434.5,394.9 434.8,394.8 435.0,392.5 435.2,392.3 435.5,391.2 435.7,392.2 435.9,394.6 436.2,393.0 436.4,389.7 436.7,390.4 436.9,394.5 437.1,392.8 437.4,394.3 437.6,391.6 437.9,390.5 438.1,390.9 438.3,393.9 438.6,393.1 438.8,392.6 439.1,389.4 439.3,391.8 439.5,392.1 439.8,392.1 440.0,391.9 440.2,393.4 440.5,393.8 440.7,393.0 441.0,392.6 441.2,393.0 441.4,390.8 441.7,391.9 441.9,390.6 442.2,393.0 442.4,394.8 442.6,392.6 442.9,390.2 443.1,391.4 443.4,394.8 443.6,392.6 443.8,392.8 444.1,392.1 444.3,392.7 444.5,391.7 444.8,392.6 445.0,392.5 445.3,390.1 445.5,391.3 445.7,392.1 446.0,393.8 446.2,393.2 446.5,392.9 446.7,391.4 446.9,394.4 447.2,391.9 447.4,390.1 447.7,392.1 447.9,394.4 448.1,391.1 448.4,392.7 448.6,391.9 448.8,391.5 449.1,392.1 449.3,393.3 449.6,394.3 449.8,389.8 450.0,394.4 450.3,392.1 450.5,394.6 450.8,391.5 451.0,390.5 451.2,392.2 451.5,394.4 451.7,393.8 452.0,391.2 452.2,391.1 452.4,392.4 452.7,392.9 452.9,390.8 453.1,392.4 453.4,392.6 453.6,391.6 453.9,392.4 454.1,391.0 454.3,390.3 454.6,391.9 454.8,394.8 455.1,392.5 455.3,393.0 455.5,393.8 455.8,392.9 456.0,390.1 456.3,394.1 456.5,392.7 456.7,393.1 457.0,394.1 457.2,394.0 457.4,391.2 457.7,393.8 457.9,389.7 458.2,392.4 458.4,391.5 458.6,391.2 458.9,394.2 459.1,390.5 459.4,391.9 459.6,392.3 459.8,391.4 460.1,392.0 460.3,392.2 460.6,393.9 460.8,392.5 461.0,391.4 461.3,393.4 461.5,391.1 461.7,392.8 462.0,391.5 462.2,392.3 462.5,393.6 462.7,392.6 462.9,393.0 463.2,393.3 463.4,393.3 463.7,394.7 463.9,392.6 464.1,392.3 464.4,393.4 464.6,394.1 464.9,391.0 465.1,391.4 465.3,390.2 465.6,390.3 465.8,393.2 466.0,391.9 466.3,392.1 466.5,390.6 466.8,393.2 467.0,393.2 467.2,390.1 467.5,393.4 467.7,391.9 468.0,391.8 468.2,394.0 468.4,393.1 468.7,393.4 468.9,393.0 469.2,393.8 469.4,391.1 469.6,392.9 469.9,391.2 470.1,391.4 470.3,394.7 470.6,391.6 470.8,393.4 471.1,391.8 471.3,391.5 471.5,391.1 471.8,391.5 472.0,393.0 472.3,393.6 472.5,392.8 472.7,392.6 473.0,392.8 473.2,393.1 473.5,392.0 473.7,393.2 473.9,392.4 474.2,392.5 474.4,391.1 474.6,393.3 474.9,393.3 475.1,393.5 475.4,391.3 475.6,391.8 475.8,392.6 476.1,390.0 476.3,393.3 476.6,391.0 476.8,391.5 477.0,392.6 477.3,393.4 477.5,393.0 477.8,390.8 478.0,393.8 478.2,392.3 478.5,393.0 478.7,391.9 478.9,392.9 479.2,392.6 479.4,393.7 479.7,391.8 479.9,393.1 480.1,392.0 480.4,394.3 480.6,393.7 480.9,392.7 481.1,393.2 481.3,392.5 481.6,393.1 481.8,391.4 482.1,391.7 482.3,390.9 482.5,391.5 482.8,390.9 483.0,390.9 483.2,392.0 483.5,393.0 483.7,392.6 484.0,392.3 484.2,393.4 484.4,393.0 484.7,391.2 484.9,391.6 485.2,393.5 485.4,393.7 485.6,393.2 485.9,394.5 486.1,391.3 486.4,392.0 486.6,393.9 486.8,392.9 487.1,393.4 487.3,390.9 487.5,394.0 487.8,393.4 488.0,390.5 488.3,390.4 488.5,390.5 488.7,392.1 489.0,393.0 489.2,393.5 489.5,391.5 489.7,393.4 489.9,392.7 490.2,392.7 490.4,391.3 490.7,393.4 490.9,391.3 491.1,393.3 491.4,393.2 491.6,393.9 491.8,392.3 492.1,392.9 492.3,392.6 492.6,393.1 492.8,392.6 493.0,390.7 493.3,392.2 493.5,391.6 493.8,392.8 494.0,392.8 494.2,391.4 494.5,390.3 494.7,393.5 494.9,392.3 495.2,393.4 495.4,392.2 495.7,392.6 495.9,393.5 496.1,394.5 496.4,394.5 496.6,391.2 496.9,392.7 497.1,392.8 497.3,392.1 497.6,392.8 497.8,390.4 498.1,392.5 498.3,391.5 498.5,392.4 498.8,394.3 499.0,391.9 499.2,392.2 499.5,393.1 499.7,390.9 500.0,391.7 500.2,391.5 500.4,393.9 500.7,393.0 500.9,394.4 501.2,391.8 501.4,391.3 501.6,393.2 501.9,390.5 502.1,393.8 502.4,392.3 502.6,394.5 502.8,394.5 503.1,392.2 503.3,392.5 503.5,390.5 503.8,392.4 504.0,391.2 504.3,393.6 504.5,392.1 504.7,391.2 505.0,392.7 505.2,391.3 505.5,391.6 505.7,392.5 505.9,394.0 506.2,393.5 506.4,394.5 506.7,391.7 506.9,391.1 507.1,392.4 507.4,392.3 507.6,394.5 507.8,391.4 508.1,394.1 508.3,393.2 508.6,390.5 508.8,391.9 509.0,393.3 509.3,393.3 509.5,392.0 509.8,391.0 510.0,392.0 510.2,392.1 510.5,391.7 510.7,391.4 511.0,393.9 511.2,394.2 511.4,390.7 511.7,392.9 511.9,394.5 512.1,392.7 512.4,392.4 512.6,392.6 512.9,390.9 513.1,393.5 513.3,392.3 513.6,393.9 513.8,390.5 514.1,393.6 514.3,394.2 514.5,391.6 514.8,392.2 515.0,393.8 515.3,391.8 515.5,391.6 515.7,393.0 516.0,391.9 516.2,391.5 516.4,391.7 516.7,393.0 516.9,392.5 517.2,393.0 517.4,392.9 517.6,392.5 517.9,392.9 518.1,392.6 518.4,392.5 518.6,392.6 518.8,391.7 519.1,393.6 519.3,393.2 519.6,392.9 519.8,393.2 520.0,391.7 520.3,392.0 520.5,392.3 520.7,392.6 521.0,391.7 521.2,391.4 521.5,391.4 521.7,392.6 521.9,392.3 522.2,394.3 522.4,392.7 522.7,390.6 522.9,393.4 523.1,391.6 523.4,392.0 523.6,393.8 523.9,394.4 524.1,393.7 524.3,391.5 524.6,391.8 524.8,392.3 525.0,393.5 525.3,392.4 525.5,394.3 525.8,392.2 526.0,392.7 526.2,392.4 526.5,390.6 526.7,390.6 527.0,394.1 527.2,392.9 527.4,393.2 527.7,392.7 527.9,390.6 528.2,394.2 528.4,393.1 528.6,391.5 528.9,393.5 529.1,391.1 529.3,392.6 529.6,392.8 529.8,392.0 530.1,392.8 530.3,391.5 530.5,390.6 530.8,394.4 531.0,391.2 531.3,394.4 531.5,394.2 531.7,391.3 532.0,391.8 532.2,391.7 532.5,393.1 532.7,392.7 532.9,392.4 533.2,393.8 533.4,391.5 533.6,392.3 533.9,391.4 534.1,394.4 534.4,394.4 534.6,392.6 534.8,392.3 535.1,391.5 535.3,392.6 535.6,392.9 535.8,393.1 536.0,391.1 536.3,391.9 536.5,390.6 536.8,392.2 537.0,391.7 537.2,392.2 537.5,392.4 537.7,391.8 537.9,393.4 538.2,392.7 538.4,391.8 538.7,393.0 538.9,394.4 539.1,392.9 539.4,393.5 539.6,391.9 539.9,393.7 540.1,393.3 540.3,392.3 540.6,392.9 540.8,391.8 541.1,392.3 541.3,392.7 541.5,391.8 541.8,392.2 542.0,393.1 542.2,391.5 542.5,392.6 542.7,392.1 543.0,392.6 543.2,392.1 543.4,393.2 543.7,392.1 543.9,392.3 544.2,392.7 544.4,392.4 544.6,392.8 544.9,391.9 545.1,390.8 545.4,393.3 545.6,392.7 545.8,393.9 546.1,392.7 546.3,392.4 546.5,392.0 546.8,393.7 547.0,393.1 547.3,392.3 547.5,390.7 547.7,392.2 548.0,392.2 548.2,393.1 548.5,392.8 548.7,394.3 548.9,393.1 549.2,393.2 549.4,392.8 549.7,392.9 549.9,390.7 550.1,391.5 550.4,392.6 550.6,394.3 550.8,390.7 551.1,393.1 551.3,393.4 551.6,392.7 551.8,392.7 552.0,391.1 552.3,392.4 552.5,392.0 552.8,391.8 553.0,390.9 553.2,391.7 553.5,392.6 553.7,392.8 553.9,393.8 554.2,393.4 554.4,394.3 554.7,391.2 554.9,393.1 555.1,392.9 555.4,391.5 555.6,392.6 555.9,392.0 556.1,392.9 556.3,392.5 556.6,392.2 556.8,390.7 557.1,393.9 557.3,393.2 557.5,391.9 557.8,391.7 558.0,392.7 558.2,392.4 558.5,392.5 558.7,391.8 559.0,394.0 559.2,392.7 559.4,391.3 559.7,391.6 559.9,393.4 560.2,392.3 560.4,393.9 560.6,392.3 560.9,392.5 561.1,392.9 561.4,392.6 561.6,393.2 561.8,391.8 562.1,392.1 562.3,392.3 562.5,391.8 562.8,391.7 563.0,392.7 563.3,392.2 563.5,392.9 563.7,394.3 564.0,391.5 564.2,392.8 564.5,392.7 564.7,390.7 564.9,392.7 565.2,392.8 565.4,394.2 565.7,392.0 565.9,392.1 566.1,392.9 566.4,391.1 566.6,392.6 566.8,393.4 567.1,392.8 567.3,392.3 567.6,392.3 567.8,392.1 568.0,393.2 568.3,393.1 568.5,394.0 568.8,392.3 569.0,390.7 569.2,391.2 569.5,393.7 569.7,392.9 570.0,391.1 570.2,392.8 570.4,392.9 570.7,393.8 570.9,390.7 571.1,391.5 571.4,393.6 571.6,391.7 571.9,393.6 572.1,392.6 572.3,391.5 572.6,393.6 572.8,393.6 573.1,393.8 573.3,392.8 573.5,391.9 573.8,391.9 574.0,391.0 574.3,390.8 574.5,392.0 574.7,394.1 575.0,393.6 575.2,392.0 575.4,392.3 575.7,392.6 575.9,393.0 576.2,392.0 576.4,393.8 576.6,392.6 576.9,392.0 577.1,391.0 577.4,391.0 577.6,393.0 577.8,393.5 578.1,392.3 578.3,391.9 578.6,393.8 578.8,393.9 579.0,393.0 579.3,392.5 579.5,392.1 579.7,392.5 580.0,392.4 580.2,391.5 580.5,392.8 580.7,392.8 580.9,394.1 581.2,392.2 581.4,391.5 581.7,391.9 581.9,393.4 582.1,391.4 582.4,392.9 582.6,390.7 582.9,392.3 583.1,391.4 583.3,392.4 583.6,392.5 583.8,393.5 584.0,393.4 584.3,391.4 584.5,393.7 584.8,390.9 585.0,394.4 585.2,392.7 585.5,393.2 585.7,390.7 586.0,393.1 586.2,393.1 586.4,393.5 586.7,391.8 586.9,392.8 587.2,392.6 587.4,394.2 587.6,392.9 587.9,392.9 588.1,393.2 588.3,390.6 588.6,390.5 588.8,392.6 589.1,393.0 589.3,391.7 589.5,391.6 589.8,393.5 590.0,391.8 590.3,393.0 590.5,392.9 590.7,392.6 591.0,391.4 591.2,392.2 591.5,392.0 591.7,392.2 591.9,394.4 592.2,390.8 592.4,392.5 592.6,393.0 592.9,393.5 593.1,394.0 593.4,392.1 593.6,391.1 593.8,392.5 594.1,392.8 594.3,392.0 594.6,394.5 594.8,392.3 595.0,392.9 595.3,391.6 595.5,391.1 595.8,392.8 596.0,393.9 596.2,391.7 596.5,392.5 596.7,391.8 596.9,391.6 597.2,392.6 597.4,393.4 597.7,392.2 597.9,392.4 598.1,390.8 598.4,392.4 598.6,391.0 598.9,391.4 599.1,392.3 599.3,394.6 599.6,393.8 599.8,391.6 600.1,391.3 600.3,393.3 600.5,394.4 600.8,390.2 601.0,392.6 601.2,394.6 601.5,391.7 601.7,390.4 602.0,394.7 602.2,392.3 602.4,393.0 602.7,392.4 602.9,391.5 603.2,393.6 603.4,393.8 603.6,394.0 603.9,391.1 604.1,390.9 604.4,393.9 604.6,390.9 604.8,393.3 605.1,392.5 605.3,393.2 605.5,393.0 605.8,390.7 606.0,392.4 606.3,393.7 606.5,390.5 606.7,390.2 607.0,392.6 607.2,390.6 607.5,390.3 607.7,393.5 607.9,394.6 608.2,394.3 608.4,394.4 608.7,393.3 608.9,390.3 609.1,393.2 609.4,393.3 609.6,390.7 609.8,392.9 610.1,392.0 610.3,390.4 610.6,394.2 610.8,393.8 611.0,392.8 611.3,392.2 611.5,392.3 611.8,391.8 612.0,393.7 612.2,392.9 612.5,393.7 612.7,392.5 612.9,391.8 613.2,391.8 613.4,392.2 613.7,391.2 613.9,393.9 614.1,392.5 614.4,392.1 614.6,394.1 614.9,390.6 615.1,393.2 615.3,391.5 615.6,392.9 615.8,392.6 616.1,392.7 616.3,390.9 616.5,392.7 616.8,391.9 617.0,391.9 617.2,392.1 617.5,391.9 617.7,393.4 618.0,394.1 618.2,392.9 618.4,393.3 618.7,394.1 618.9,391.3 619.2,394.1 619.4,390.9 619.6,393.7 619.9,393.1 620.1,391.7 620.4,391.7 620.6,391.2 620.8,392.1 621.1,392.4 621.3,394.0 621.5,391.8 621.8,392.4 622.0,392.2 622.3,391.7 622.5,391.0 622.7,392.9 623.0,392.4 623.2,392.5 623.5,393.7 623.7,391.4 623.9,392.6 624.2,393.7 624.4,392.1 624.7,392.4 624.9,392.3 625.1,393.5 625.4,393.4 625.6,392.5 625.8,391.9 626.1,393.3 626.3,392.5 626.6,392.8 626.8,392.4 627.0,392.0 627.3,392.1 627.5,391.7 627.8,391.3 628.0,392.9 628.2,391.7 628.5,392.7 628.7,392.6 629.0,392.8 629.2,392.1 629.4,393.5 629.7,393.2 629.9,392.9 630.1,393.1 630.4,393.5 630.6,392.3 630.9,392.5 631.1,392.9 631.3,392.0 631.6,391.4 631.8,393.0 632.1,391.6 632.3,392.8 632.5,391.6 632.8,391.7 633.0,393.0 633.3,391.4 633.5,392.9 633.7,393.3 634.0,392.8 634.2,392.2 634.4,392.8 634.7,393.1 634.9,391.9 635.2,392.2 635.4,392.8 635.6,391.5 635.9,393.5 636.1,393.0 636.4,393.2 636.6,392.8 636.8,392.6 637.1,392.2 637.3,392.9 637.6,392.3 637.8,392.8 638.0,391.6 638.3,393.4 638.5,392.7 638.7,392.2 639.0,391.9 639.2,392.3 639.5,392.3 639.7,391.5 639.9,392.4 640.2,392.3 640.4,392.8 640.7,391.8 640.9,392.3 641.1,393.2 641.4,393.2 641.6,393.4 641.9,392.2 642.1,392.2 642.3,391.7 642.6,392.7 642.8,393.4 643.0,392.3 643.3,392.5 643.5,392.5 643.8,392.1 644.0,393.0 644.2,392.5 644.5,392.6 644.7,392.3 645.0,391.8 645.2,393.1 645.4,392.4 645.7,392.5 645.9,392.5 646.2,391.9 646.4,391.9 646.6,392.9 646.9,392.4 647.1,392.7 647.3,393.1 647.6,392.4 647.8,392.5 648.1,392.2 648.3,392.6 648.5,392.9 648.8,392.9 649.0,392.7 649.3,392.3 649.5,392.8 649.7,392.5 650.0,392.4 650.2,391.7 650.5,392.4 650.7,392.1 650.9,392.6 651.2,392.7 651.4,392.1 651.6,392.9 651.9,392.8 652.1,392.0 652.4,392.6 652.6,392.4 652.8,392.9 653.1,392.6 653.3,392.7 653.6,392.8 653.8,392.2 654.0,392.7 654.3,392.8 654.5,392.7 654.8,392.6 655.0,391.7 655.2,392.8 655.5,392.5 655.7,392.1 655.9,393.1 656.2,392.5 656.4,392.3 656.7,392.1 656.9,392.5 657.1,392.5 657.4,392.4 657.6,392.8 657.9,392.9 658.1,391.8 658.3,392.6 658.6,392.9 658.8,392.1 659.1,393.0 659.3,392.9 659.5,392.8 659.8,391.8 660.0,392.4 660.2,391.9 660.5,392.4 660.7,392.5 661.0,392.8 661.2,392.5 661.4,392.1 661.7,392.2 661.9,392.7 662.2,392.7 662.4,392.2 662.6,392.7 662.9,392.6 663.1,393.2 663.4,392.9 663.6,392.3 663.8,392.3 664.1,392.4 664.3,392.2 664.5,393.1 664.8,392.7 665.0,392.8 665.3,392.6 665.5,391.7 665.7,392.3 666.0,393.3 666.2,392.6 666.5,392.1 666.7,391.7 666.9,392.3 667.2,392.3 667.4,392.9 667.7,393.0 667.9,392.6 668.1,392.5 668.4,391.9 668.6,391.8 668.8,392.1 669.1,392.8 669.3,392.8 669.6,392.8 669.8,392.4 670.0,392.9 670.3,393.2 670.5,392.9 670.8,392.7 671.0,392.1 671.2,392.1 671.5,392.6 671.7,393.0 672.0,393.1 672.2,391.9 672.4,392.5 672.7,392.2 672.9,392.5 673.1,392.6 673.4,392.1 673.6,392.5 673.9,392.2 674.1,393.2 674.3,392.2 674.6,391.7 674.8,392.4 675.1,392.4 675.3,392.9 675.5,392.2 675.8,392.9 676.0,392.7 676.2,392.7 676.5,393.0 676.7,392.3 677.0,393.2 677.2,392.1 677.4,393.1 677.7,392.8 677.9,392.4 678.2,392.9 678.4,391.7 678.6,392.5 678.9,392.3 679.1,392.5 679.4,392.2 679.6,392.8 679.8,392.4 680.1,392.4 680.3,392.0 680.5,392.3 680.8,393.3 681.0,393.1 681.3,392.2 681.5,392.0 681.7,392.1 682.0,391.9 682.2,392.3 682.5,392.2 682.7,392.3 682.9,392.8 683.2,393.2 683.4,392.6 683.7,392.7 683.9,393.0 684.1,392.9 684.4,392.8 684.6,392.6 684.8,392.7 685.1,392.4 685.3,392.8 685.6,391.7 685.8,392.0 686.0,392.7 686.3,392.4 686.5,392.8 686.8,392.4 687.0,391.7 687.2,392.6 687.5,392.8 687.7,392.5 688.0,392.3 688.2,392.0 688.4,392.9 688.7,392.9 688.9,392.4 689.1,392.9 689.4,391.8 689.6,393.2 689.9,392.7 690.1,392.8 690.3,393.0 690.6,392.3 690.8,392.7 691.1,392.6 691.3,392.0 691.5,392.4 691.8,392.6 692.0,392.9 692.3,392.1 692.5,393.0 692.7,392.0 693.0,392.8 693.2,391.8 693.4,392.4 693.7,392.5 693.9,392.6 694.2,392.5 694.4,392.1 694.6,392.7 694.9,392.7 695.1,393.0 695.4,392.2 695.6,392.9 695.8,392.8 696.1,391.8 696.3,393.2 696.6,393.2 696.8,392.5 697.0,392.4 697.3,391.9 697.5,392.2 697.7,392.4 698.0,392.0 698.2,393.0 698.5,392.9 698.7,392.3 698.9,391.8 699.2,392.5 699.4,392.4 699.7,392.6 699.9,392.8 700.1,393.1 700.4,392.1 700.6,392.3 700.9,392.6 701.1,392.4 701.3,392.2 701.6,392.7 701.8,392.8 702.0,393.1 702.3,392.7 702.5,392.0 702.8,392.9 703.0,392.7 703.2,392.3 703.5,392.4 703.7,392.4 704.0,392.3 704.2,392.3 704.4,392.6 704.7,392.6 704.9,391.9 705.2,392.7 705.4,392.4 705.6,393.0 705.9,392.3 706.1,392.2 706.3,392.6 706.6,392.5 706.8,392.9 707.1,392.9 707.3,392.6 707.5,392.0 707.8,392.9 708.0,391.9 708.3,392.3 708.5,392.6 708.7,393.0 709.0,391.9 709.2,392.4 709.5,392.4 709.7,392.0 709.9,392.6 710.2,393.1 710.4,392.1 710.6,393.2 710.9,393.0 711.1,392.7 711.4,392.2 711.6,392.7 711.8,391.9 712.1,392.9 712.3,391.9 712.6,392.1 712.8,392.6 713.0,392.8 713.3,392.7 713.5,392.8 713.8,391.8 714.0,392.6 714.2,392.8 714.5,392.2 714.7,392.8 714.9,393.2 715.2,392.4 715.4,392.7 715.7,392.0 715.9,391.8 716.1,392.3 716.4,392.5 716.6,392.1 716.9,392.4 717.1,393.2 717.3,392.6 717.6,392.9 717.8,392.5 718.1,393.2 718.3,391.8 718.5,392.6 718.8,392.4 719.0,392.7 719.2,392.1 719.5,392.6 719.7,392.9 720.0,393.2 720.2,392.0 720.4,393.0 720.7,392.0 720.9,391.8 721.2,392.7 721.4,392.9 721.6,391.9 721.9,392.8 722.1,392.4 722.4,393.2 722.6,393.1 722.8,392.3 723.1,392.0 723.3,392.8 723.5,392.0 723.8,392.0 724.0,392.4 724.3,392.0 724.5,392.9 724.7,392.3 725.0,391.8 725.2,393.1 725.5,392.2 725.7,392.3 725.9,392.7 726.2,393.0 726.4,393.0 726.7,392.9 726.9,392.7 727.1,392.5 727.4,392.3 727.6,391.9 727.8,392.3 728.1,392.5 728.3,393.1 728.6,392.4 728.8,393.0 729.0,392.4 729.3,392.5 729.5,392.1 729.8,392.7 730.0,392.7 730.2,392.7 730.5,392.5 730.7,392.7 731.0,391.9 731.2,392.7 731.4,391.9 731.7,393.0 731.9,392.4 732.1,393.1 732.4,392.2 732.6,392.4 732.9,392.2 733.1,391.8 733.3,392.0 733.6,392.4 733.8,392.3 734.1,392.6 734.3,392.2 734.5,393.2 734.8,392.3 735.0,393.2 735.2,392.8 735.5,392.1 735.7,392.7 736.0,392.7 736.2,392.7 736.4,392.4 736.7,393.1 736.9,392.4 737.2,391.9 737.4,392.6 737.6,392.4 737.9,392.3 738.1,392.3 738.4,392.5 738.6,393.0 738.8,392.5 739.1,392.8 739.3,392.0 739.5,392.3 739.8,392.8 740.0,391.8 740.3,392.9 740.5,392.6 740.7,391.8 741.0,392.9 741.2,393.1 741.5,392.5 741.7,392.6 741.9,393.1 742.2,391.8 742.4,391.8 742.7,392.4 742.9,393.1 743.1,392.9 743.4,391.8 743.6,392.3 743.8,392.4 744.1,393.0 744.3,392.3 744.6,392.2 744.8,392.8 745.0,393.0 745.3,392.5 745.5,393.2 745.8,393.0 746.0,392.1 746.2,392.4 746.5,392.5 746.7,392.4 747.0,393.2 747.2,392.3 747.4,392.0 747.7,391.8 747.9,392.7 748.1,392.6 748.4,392.9 748.6,392.3 748.9,392.2 749.1,392.3 749.3,392.7 749.6,392.8 749.8,391.8 750.1,392.3 750.3,392.1 750.5,392.6 750.8,393.0 751.0,392.3 751.3,392.1 751.5,393.0 751.7,392.9 752.0,392.5 752.2,392.2 752.4,392.5 752.7,392.6 752.9,393.0 753.2,392.9 753.4,392.4 753.6,392.4 753.9,392.6 754.1,392.6 754.4,392.4 754.6,393.0 754.8,391.9 755.1,391.9 755.3,392.7 755.6,392.8 755.8,392.7 756.0,392.4 756.3,392.9 756.5,392.4 756.7,392.4 757.0,392.3 757.2,392.1 757.5,392.5 757.7,392.8 757.9,391.8 758.2,392.1 758.4,392.5 758.7,392.3 758.9,393.1 759.1,392.8 759.4,392.6 759.6,392.4 759.9,392.4 760.1,392.3 760.3,392.6 760.6,393.2 760.8,392.5 761.0,392.3 761.3,392.8 761.5,392.5 761.8,392.0 762.0,392.4 762.2,392.3 762.5,393.2 762.7,392.2 763.0,392.9 763.2,391.9 763.4,393.1 763.7,392.8 763.9,392.8 764.2,392.3 764.4,391.9 764.6,392.2 764.9,392.3 765.1,392.3 765.3,392.6 765.6,392.7 765.8,392.7 766.1,392.2 766.3,391.9 766.5,392.6 766.8,392.3 767.0,392.8 767.3,392.7 767.5,392.6 767.7,392.5 768.0,392.3 768.2,392.4 768.5,392.4 768.7,393.0 768.9,393.1 769.2,393.0 769.4,392.5 769.6,392.4 769.9,392.4 770.1,392.2 770.4,392.1 770.6,392.6 770.8,392.7 771.1,392.0 771.3,391.8 771.6,392.2 771.8,393.0 772.0,392.8 772.3,392.9 772.5,392.6 772.8,393.1 773.0,392.1 773.2,392.3 773.5,392.6 773.7,392.0 773.9,392.4 774.2,392.4 774.4,392.3 774.7,392.6 774.9,392.9 775.1,392.3 775.4,392.5 775.6,393.1 775.9,392.6 776.1,392.6 776.3,392.2 776.6,392.4 776.8,392.1 777.1,392.3 777.3,392.5 777.5,393.0 777.8,392.1 778.0,392.8 778.2,392.3 778.5,392.2 778.7,392.8 779.0,392.9 779.2,392.5 779.4,392.6 779.7,392.4 779.9,392.2 780.2,393.0 780.4,392.8 780.6,391.9 780.9,392.7 781.1,392.1 781.4,392.5 781.6,393.1 781.8,392.8 782.1,392.3 782.3,392.9 782.5,392.3 782.8,392.4 783.0,392.8 783.3,392.7 783.5,392.8 783.7,392.5 784.0,391.9 784.2,392.3 784.5,392.3 784.7,392.3 784.9,392.8 785.2,392.9 785.4,391.9 785.7,392.7 785.9,392.5 786.1,392.1 786.4,392.8 786.6,392.3 786.8,392.4 787.1,392.7 787.3,392.4 787.6,393.1 787.8,392.8 788.0,391.9 788.3,393.0 788.5,392.5 788.8,392.5 789.0,392.1 789.2,392.7 789.5,392.4 789.7,392.3 790.0,392.6 790.2,392.8 790.4,391.9 790.7,392.6 790.9,392.5 791.1,392.2 791.4,393.1 791.6,392.6 791.9,392.1" fill="none" stroke="#33a55e" stroke-width="1.0" stroke-opacity="0.8" stroke-linejoin="round"/>
<rect x="77.40" y="356.00" width="713.50" height="73.00" fill="none" stroke="#fff" stroke-width="0.8" stroke-opacity="0.8"/>
<rect x="76.10" y="354.70" width="716.10" height="75.60" fill="none" stroke="#555" stroke-width="1.4"/>
<text transform="translate(75.50,449.26) scale(1.09,1)" font-size="18.5" text-anchor="middle">0</text>
<text transform="translate(147.16,449.26) scale(1.09,1)" font-size="18.5" text-anchor="middle">1</text>
<text transform="translate(218.82,449.26) scale(1.09,1)" font-size="18.5" text-anchor="middle">2</text>
<text transform="translate(290.48,449.26) scale(1.09,1)" font-size="18.5" text-anchor="middle">3</text>
<text transform="translate(362.14,449.26) scale(1.09,1)" font-size="18.5" text-anchor="middle">4</text>
<text transform="translate(433.80,449.26) scale(1.09,1)" font-size="18.5" text-anchor="middle">5</text>
<text transform="translate(505.46,449.26) scale(1.09,1)" font-size="18.5" text-anchor="middle">6</text>
<text transform="translate(577.12,449.26) scale(1.09,1)" font-size="18.5" text-anchor="middle">7</text>
<text transform="translate(648.78,449.26) scale(1.09,1)" font-size="18.5" text-anchor="middle">8</text>
<text transform="translate(720.44,449.26) scale(1.09,1)" font-size="18.5" text-anchor="middle">9</text>
<text transform="translate(792.10,449.26) scale(1.09,1)" font-size="18.5" text-anchor="middle">10</text>
<text transform="translate(71.05,364.56) scale(1.09,1)" font-size="18.5" text-anchor="end">500</text>
<text transform="translate(71.05,402.86) scale(1.09,1)" font-size="18.5" text-anchor="end">0</text>
<text transform="translate(71.05,437.66) scale(1.09,1)" font-size="18.5" text-anchor="end">-500</text>
<text transform="translate(20.20,397.40) rotate(-90)" font-size="19.8" text-anchor="middle">Amp (m/s<tspan dy="-7.5" font-size="11.5">2</tspan><tspan dy="7.5">)</tspan></text>
<text transform="translate(104.87,322.80) scale(1.0453,1)" font-size="19.5" text-anchor="start">Vibration signal of rockfall on the protective net (Sensor D,  x direction, 3000kj)</text>
<rect x="77.50" y="508.80" width="715.80" height="75.60" fill="url(#bg)"/>
<line x1="148.52" y1="509.80" x2="148.52" y2="583.40" class="g"/>
<line x1="220.14" y1="509.80" x2="220.14" y2="583.40" class="g"/>
<line x1="291.76" y1="509.80" x2="291.76" y2="583.40" class="g"/>
<line x1="363.38" y1="509.80" x2="363.38" y2="583.40" class="g"/>
<line x1="435.00" y1="509.80" x2="435.00" y2="583.40" class="g"/>
<line x1="506.62" y1="509.80" x2="506.62" y2="583.40" class="g"/>
<line x1="578.24" y1="509.80" x2="578.24" y2="583.40" class="g"/>
<line x1="649.86" y1="509.80" x2="649.86" y2="583.40" class="g"/>
<line x1="721.48" y1="509.80" x2="721.48" y2="583.40" class="g"/>
<line x1="78.50" y1="546.60" x2="792.30" y2="546.60" class="g"/>
<polyline points="77.7,546.3 77.9,546.2 78.2,546.2 78.4,546.2 78.7,546.5 78.9,546.5 79.2,546.5 79.5,546.3 79.7,546.1 80.0,546.2 80.2,546.3 80.5,546.3 80.7,546.1 81.0,546.1 81.2,546.3 81.5,546.5 81.8,546.5 82.0,546.3 82.3,546.2 82.5,546.2 82.8,546.3 83.0,546.3 83.3,546.3 83.6,546.3 83.8,546.3 84.1,546.2 84.3,546.2 84.6,546.2 84.8,546.4 85.1,546.5 85.3,546.3 85.6,546.1 85.9,546.1 86.1,546.3 86.4,546.5 86.6,546.5 86.9,546.5 87.1,546.3 87.4,546.1 87.6,546.1 87.9,546.2 88.2,546.3 88.4,546.4 88.7,546.3 88.9,546.1 89.2,546.1 89.4,546.1 89.7,546.3 89.9,546.5 90.2,546.4 90.5,546.3 90.7,546.4 91.0,546.5 91.2,546.5 91.5,546.4 91.7,546.2 92.0,546.1 92.2,546.3 92.5,546.4 92.8,546.4 93.0,546.3 93.3,546.2 93.5,546.1 93.8,546.1 94.0,546.1 94.3,546.3 94.5,546.5 94.8,546.5 95.1,546.5 95.3,546.3 95.6,546.2 95.8,546.1 96.1,546.1 96.3,546.1 96.6,546.3 96.9,546.4 97.1,546.5 97.4,546.5 97.6,546.3 97.9,546.2 98.1,546.3 98.4,546.5 98.6,546.5 98.9,546.2 99.2,546.1 99.4,546.1 99.7,546.3 99.9,546.5 100.2,546.4 100.4,546.2 100.7,546.1 100.9,546.2 101.2,546.3 101.5,546.4 101.7,546.4 102.0,546.4 102.2,546.4 102.5,546.5 102.7,546.5 103.0,546.3 103.2,546.2 103.5,546.1 103.8,546.2 104.0,546.3 104.3,546.3 104.5,546.3 104.8,546.3 105.0,546.2 105.3,546.2 105.5,546.3 105.8,546.4 106.1,546.4 106.3,546.3 106.6,546.2 106.8,546.1 107.1,546.2 107.3,546.3 107.6,546.4 107.9,546.4 108.1,546.3 108.4,546.3 108.6,546.3 108.9,546.3 109.1,546.3 109.4,546.3 109.6,546.3 109.9,546.3 110.2,546.3 110.4,546.3 110.7,546.3 110.9,546.3 111.2,546.3 111.4,546.3 111.7,546.2 111.9,546.2 112.2,546.2 112.5,546.2 112.7,546.2 113.0,546.3 113.2,546.4 113.5,546.5 113.7,546.5 114.0,546.3 114.2,546.1 114.5,546.2 114.8,546.4 115.0,546.5 115.3,546.3 115.5,546.1 115.8,546.2 116.0,546.4 116.3,546.5 116.5,546.3 116.8,546.2 117.1,546.2 117.3,546.3 117.6,546.4 117.8,546.3 118.1,546.2 118.3,546.2 118.6,546.3 118.8,546.3 119.1,546.3 119.4,546.3 119.6,546.3 119.9,546.4 120.1,546.4 120.4,546.4 120.6,546.4 120.9,546.4 121.2,546.4 121.4,546.2 121.7,546.1 121.9,546.1 122.2,546.3 122.4,546.4 122.7,546.3 122.9,546.2 123.2,546.3 123.5,546.4 123.7,546.4 124.0,546.3 124.2,546.2 124.5,546.2 124.7,546.4 125.0,546.4 125.2,546.2 125.5,546.2 125.8,546.3 126.0,546.5 126.3,546.5 126.5,546.3 126.8,546.1 127.0,546.1 127.3,546.3 127.5,546.5 127.8,546.5 128.1,546.4 128.3,546.2 128.6,546.1 128.8,546.1 129.1,546.2 129.3,546.4 129.6,546.5 129.8,546.4 130.1,546.3 130.4,546.3 130.6,546.3 130.9,546.4 131.1,546.3 131.4,546.1 131.6,546.1 131.9,546.1 132.1,546.3 132.4,546.4 132.7,546.4 132.9,546.4 133.2,546.5 133.4,546.5 133.7,546.5 133.9,546.4 134.2,546.1 134.5,546.1 134.7,546.1 135.0,546.2 135.2,546.3 135.5,546.4 135.7,546.5 136.0,546.4 136.2,546.3 136.5,546.1 136.8,546.1 137.0,546.3 137.3,546.5 137.5,546.5 137.8,546.3 138.0,546.1 138.3,546.1 138.5,546.3 138.8,546.5 139.1,546.5 139.3,546.4 139.6,546.3 139.8,546.3 140.1,546.2 140.3,546.1 140.6,546.1 140.8,546.2 141.1,546.4 141.4,546.5 141.6,546.3 141.9,546.2 142.1,546.3 142.4,546.4 142.6,546.5 142.9,546.3 143.1,546.1 143.4,546.1 143.7,546.3 143.9,546.5 144.2,546.5 144.4,546.5 144.7,546.4 144.9,546.3 145.2,546.3 145.5,546.2 145.7,546.2 146.0,546.1 146.2,546.1 146.5,546.1 146.7,546.2 147.0,546.5 147.2,546.5 147.5,546.5 147.8,546.2 148.0,546.1 148.3,546.2 148.5,546.4 148.8,546.4 149.0,546.3 149.3,546.3 149.5,546.5 149.8,546.5 150.1,546.3 150.3,546.1 150.6,546.1 150.8,546.2 151.1,546.3 151.3,546.3 151.6,546.2 151.8,546.3 152.1,546.5 152.4,546.5 152.6,546.2 152.9,546.1 153.1,546.1 153.4,546.4 153.6,546.5 153.9,546.4 154.1,546.2 154.4,546.3 154.7,546.5 154.9,546.5 155.2,546.3 155.4,546.1 155.7,546.2 155.9,546.4 156.2,546.3 156.4,546.2 156.7,546.1 157.0,546.3 157.2,546.5 157.5,546.5 157.7,546.3 158.0,546.2 158.2,546.3 158.5,546.3 158.8,546.2 159.0,546.1 159.3,546.2 159.5,546.3 159.8,546.4 160.0,546.3 160.3,546.3 160.5,546.4 160.8,546.5 161.1,546.5 161.3,546.3 161.6,546.1 161.8,546.1 162.1,546.2 162.3,546.2 162.6,546.1 162.8,546.1 163.1,546.4 163.4,546.5 163.6,546.5 163.9,546.3 164.1,546.1 164.4,546.1 164.6,546.2 164.9,546.5 165.1,546.5 165.4,546.4 165.7,546.4 165.9,546.4 166.2,546.4 166.4,546.3 166.7,546.1 166.9,546.1 167.2,546.1 167.4,546.4 167.7,546.5 168.0,546.5 168.2,546.4 168.5,546.2 168.7,546.1 169.0,546.1 169.2,546.1 169.5,546.3 169.8,546.4 170.0,546.4 170.3,546.4 170.5,546.3 170.8,546.3 171.0,546.4 171.3,546.4 171.5,546.4 171.8,546.3 172.1,546.3 172.3,546.3 172.6,546.3 172.8,546.2 173.1,546.1 173.3,546.2 173.6,546.2 173.8,546.3 174.1,546.3 174.4,546.3 174.6,546.4 174.9,546.3 175.1,546.2 175.4,546.2 175.6,546.3 175.9,546.5 176.1,546.5 176.4,546.5 176.7,546.3 176.9,546.1 177.2,546.1 177.4,546.1 177.7,546.2 177.9,546.3 178.2,546.5 178.4,546.5 178.7,546.4 179.0,546.2 179.2,546.1 179.5,546.2 179.7,546.4 180.0,546.5 180.2,546.4 180.5,546.2 180.7,546.2 181.0,546.3 181.3,546.4 181.5,546.3 181.8,546.3 182.0,546.3 182.3,546.4 182.5,546.4 182.8,546.3 183.1,546.2 183.3,546.1 183.6,546.2 183.8,546.3 184.1,546.4 184.3,546.5 184.6,546.4 184.8,546.3 185.1,546.2 185.4,546.2 185.6,546.3 185.9,546.3 186.1,546.2 186.4,546.1 186.6,546.2 186.9,546.4 187.1,546.5 187.4,546.5 187.7,546.4 187.9,546.3 188.2,546.3 188.4,546.3 188.7,546.2 188.9,546.1 189.2,546.1 189.4,546.3 189.7,546.5 190.0,546.5 190.2,546.4 190.5,546.2 190.7,546.1 191.0,546.1 191.2,546.1 191.5,546.1 191.7,546.3 192.0,546.5 192.3,546.5 192.5,546.5 192.8,546.5 193.0,546.2 193.3,546.1 193.5,546.1 193.8,546.1 194.0,546.1 194.3,546.3 194.6,546.5 194.8,546.5 195.1,546.4 195.3,546.3 195.6,546.3 195.8,546.4 196.1,546.4 196.4,546.2 196.6,546.1 196.9,546.3 197.1,546.5 197.4,546.5 197.6,546.3 197.9,546.1 198.1,546.1 198.4,546.3 198.7,546.5 198.9,546.4 199.2,546.2 199.4,546.2 199.7,546.4 199.9,546.5 200.2,546.4 200.4,546.2 200.7,546.1 201.0,546.2 201.2,546.3 201.5,546.3 201.7,546.2 202.0,546.2 202.2,546.4 202.5,546.5 202.7,546.5 203.0,546.5 203.3,546.4 203.5,546.1 203.8,546.1 204.0,546.1 204.3,546.4 204.5,546.5 204.8,546.5 205.0,546.2 205.3,546.1 205.6,546.2 205.8,546.5 206.1,546.4 206.3,546.1 206.6,546.1 206.8,546.1 207.1,546.5 207.4,546.5 207.6,546.4 207.9,546.2 208.1,546.2 208.4,546.4 208.6,546.5 208.9,546.4 209.1,546.3 209.4,546.4 209.7,546.4 209.9,546.3 210.2,546.1 210.4,546.1 210.7,546.1 210.9,546.3 211.2,546.4 211.4,546.4 211.7,546.4 212.0,546.4 212.2,546.4 212.5,547.4 212.7,548.4 213.0,551.5 213.2,556.4 213.5,557.6 213.7,552.4 214.0,546.1 214.3,548.5 214.5,554.4 214.8,550.0 215.0,526.3 215.3,512.5 215.5,526.7 215.8,552.0 216.0,558.5 216.3,547.9 216.6,543.3 216.8,561.1 217.1,576.0 217.3,576.0 217.6,539.8 217.8,512.5 218.1,512.5 218.3,545.3 218.6,576.0 218.9,576.0 219.1,535.5 219.4,512.5 219.6,516.1 219.9,570.2 220.1,576.0 220.4,576.0 220.7,528.7 220.9,512.5 221.2,512.5 221.4,547.2 221.7,555.8 221.9,537.2 222.2,522.8 222.4,538.1 222.7,563.4 223.0,571.0 223.2,559.4 223.5,550.2 223.7,555.9 224.0,562.9 224.2,553.2 224.5,529.5 224.7,518.2 225.0,532.4 225.3,553.6 225.5,559.1 225.8,549.0 226.0,535.5 226.3,532.0 226.5,538.0 226.8,547.3 227.0,553.6 227.3,552.7 227.6,540.3 227.8,524.9 228.1,528.7 228.3,556.1 228.6,576.0 228.8,576.0 229.1,547.5 229.3,524.8 229.6,542.7 229.9,573.1 230.1,574.3 230.4,534.9 230.6,512.5 230.9,512.5 231.1,531.2 231.4,560.4 231.7,558.5 231.9,547.6 232.2,553.5 232.4,569.8 232.7,569.4 232.9,546.9 233.2,525.2 233.4,533.1 233.7,555.0 234.0,560.0 234.2,544.8 234.5,531.3 234.7,541.9 235.0,559.6 235.2,559.4 235.5,537.2 235.7,514.3 236.0,516.5 236.3,540.9 236.5,563.9 236.8,573.6 237.0,568.4 237.3,552.5 237.5,532.4 237.8,523.4 238.0,535.3 238.3,554.9 238.6,559.3 238.8,547.7 239.1,534.0 239.3,536.0 239.6,548.0 239.8,555.3 240.1,553.2 240.3,543.0 240.6,534.2 240.9,537.5 241.1,547.6 241.4,553.3 241.6,553.8 241.9,551.1 242.1,547.2 242.4,541.3 242.6,535.9 242.9,536.0 243.2,544.1 243.4,552.7 243.7,555.5 243.9,550.2 244.2,540.1 244.4,535.9 244.7,543.2 245.0,552.2 245.2,554.8 245.5,549.6 245.7,540.1 246.0,536.7 246.2,542.1 246.5,548.6 246.7,550.0 247.0,549.0 247.3,550.9 247.5,555.9 247.8,556.7 248.0,547.8 248.3,534.4 248.5,534.6 248.8,544.8 249.0,559.9 249.3,561.2 249.6,547.8 249.8,535.9 250.1,540.1 250.3,555.2 250.6,564.2 250.8,558.5 251.1,547.9 251.3,546.5 251.6,554.9 251.9,561.4 252.1,557.2 252.4,547.3 252.6,541.6 252.9,541.8 253.1,543.2 253.4,543.1 253.6,544.6 253.9,550.0 254.2,557.1 254.4,558.8 254.7,555.9 254.9,557.2 255.2,566.9 255.4,569.2 255.7,569.4 256.0,553.4 256.2,536.8 256.5,536.8 256.7,536.7 257.0,539.3 257.2,549.6 257.5,557.6 257.7,560.6 258.0,561.7 258.3,561.8 258.5,560.8 258.8,558.9 259.0,556.3 259.3,551.3 259.5,545.2 259.8,539.7 260.0,539.8 260.3,548.4 260.6,566.8 260.8,572.7 261.1,563.4 261.3,545.4 261.6,538.9 261.8,541.9 262.1,547.3 262.3,547.3 262.6,544.1 262.9,545.7 263.1,557.2 263.4,568.6 263.6,562.1 263.9,544.9 264.1,537.5 264.4,548.2 264.6,566.7 264.9,571.3 265.2,560.7 265.4,548.2 265.7,539.8 265.9,529.2 266.2,520.0 266.4,519.8 266.7,535.0 266.9,566.9 267.2,574.4 267.5,563.8 267.7,538.3 268.0,533.3 268.2,553.2 268.5,574.4 268.7,574.1 269.0,549.6 269.3,520.3 269.5,519.6 269.8,519.6 270.0,540.2 270.3,574.4 270.5,574.4 270.8,573.5 271.0,531.8 271.3,519.6 271.6,522.8 271.8,561.4 272.1,574.4 272.3,560.9 272.6,529.5 272.8,523.6 273.1,547.3 273.3,571.1 273.6,567.8 273.9,543.9 274.1,525.6 274.4,524.7 274.6,533.2 274.9,541.2 275.1,549.5 275.4,561.4 275.6,569.6 275.9,563.2 276.2,545.2 276.4,533.1 276.7,538.2 276.9,552.4 277.2,557.1 277.4,545.1 277.7,530.3 277.9,530.3 278.2,547.6 278.5,566.8 278.7,568.2 279.0,549.1 279.2,527.1 279.5,521.8 279.7,537.4 280.0,558.2 280.2,564.0 280.5,551.1 280.8,536.1 281.0,535.5 281.3,548.5 281.5,560.0 281.8,559.3 282.0,552.3 282.3,550.8 282.6,555.4 282.8,555.2 283.1,543.1 283.3,526.7 283.6,519.6 283.8,526.3 284.1,543.6 284.3,560.6 284.6,567.7 284.9,561.0 285.1,544.5 285.4,529.9 285.6,528.0 285.9,540.0 286.1,556.1 286.4,565.8 286.6,567.8 286.9,566.3 287.2,560.7 287.4,548.0 287.7,534.2 287.9,531.4 288.2,541.2 288.4,546.5 288.7,532.1 288.9,519.6 289.2,519.6 289.5,545.0 289.7,574.4 290.0,574.4 290.2,552.9 290.5,528.7 290.7,539.1 291.0,557.7 291.2,553.3 291.5,541.2 291.8,524.1 292.0,524.3 292.3,533.2 292.5,527.5 292.8,510.3 293.0,509.8 293.3,527.5 293.6,539.5 293.8,540.5 294.1,537.9 294.3,536.5 294.6,537.4 294.8,537.4 295.1,532.0 295.3,529.8 295.6,538.0 295.9,540.7 296.1,537.7 296.4,515.0 296.6,510.6 296.9,530.2 297.1,540.6 297.4,539.1 297.6,526.2 297.9,532.3 298.2,543.6 298.4,543.7 298.7,540.1 298.9,511.3 299.2,517.9 299.4,539.6 299.7,558.4 299.9,563.2 300.2,551.6 300.5,547.9 300.7,547.9 301.0,549.0 301.2,550.6 301.5,550.5 301.7,553.0 302.0,570.9 302.2,570.9 302.5,570.9 302.8,553.3 303.0,551.1 303.3,553.8 303.5,559.0 303.8,552.6 304.0,550.0 304.3,549.7 304.5,551.5 304.8,553.3 305.1,552.6 305.3,552.2 305.6,552.1 305.8,551.5 306.1,549.8 306.3,549.3 306.6,552.0 306.9,566.6 307.1,570.9 307.4,566.1 307.6,552.9 307.9,551.3 308.1,552.2 308.4,554.6 308.6,553.3 308.9,552.2 309.2,552.4 309.4,552.9 309.7,552.1 309.9,551.2 310.2,551.6 310.4,554.1 310.7,557.6 310.9,554.9 311.2,552.0 311.5,551.5 311.7,551.5 312.0,550.9 312.2,550.3 312.5,551.3 312.7,558.5 313.0,568.1 313.2,567.3 313.5,557.9 313.8,551.6 314.0,551.2 314.3,551.0 314.5,549.8 314.8,548.4 315.0,549.4 315.3,560.5 315.5,568.0 315.8,564.0 316.1,547.4 316.3,544.0 316.6,543.7 316.8,544.8 317.1,552.4 317.3,558.4 317.6,553.7 317.9,547.1 318.1,545.6 318.4,546.4 318.6,547.1 318.9,545.4 319.1,544.3 319.4,546.8 319.6,551.3 319.9,550.9 320.2,548.8 320.4,542.0 320.7,532.2 320.9,531.0 321.2,534.0 321.4,535.7 321.7,534.1 321.9,534.8 322.2,541.2 322.5,544.3 322.7,544.8 323.0,542.2 323.2,538.2 323.5,538.0 323.7,541.0 324.0,542.4 324.2,541.6 324.5,538.7 324.8,534.1 325.0,534.4 325.3,537.7 325.5,540.4 325.8,540.9 326.0,541.1 326.3,541.2 326.5,541.4 326.8,540.6 327.1,538.7 327.3,536.8 327.6,536.8 327.8,539.5 328.1,544.5 328.3,549.7 328.6,554.2 328.8,555.6 329.1,552.0 329.4,540.6 329.6,520.3 329.9,519.1 330.1,517.9 330.4,537.6 330.6,571.7 330.9,573.9 331.2,576.0 331.4,557.0 331.7,520.9 331.9,513.3 332.2,513.3 332.4,525.2 332.7,540.5 332.9,553.6 333.2,560.3 333.5,556.8 333.7,547.0 334.0,542.0 334.2,550.3 334.5,562.0 334.7,563.3 335.0,551.1 335.2,537.2 335.5,537.4 335.8,549.8 336.0,557.4 336.3,551.7 336.5,538.5 336.8,531.0 337.0,532.1 337.3,535.1 337.5,536.1 337.8,537.4 338.1,542.1 338.3,549.9 338.6,559.5 338.8,564.9 339.1,564.9 339.3,564.9 339.6,559.5 339.8,548.1 340.1,540.0 340.4,536.3 340.6,536.4 340.9,536.9 341.1,535.6 341.4,534.8 341.6,539.0 341.9,548.8 342.1,560.4 342.4,562.3 342.7,556.1 342.9,551.3 343.2,552.8 343.4,555.4 343.7,551.7 343.9,544.1 344.2,540.9 344.5,544.1 344.7,549.7 345.0,548.3 345.2,541.4 345.5,537.8 345.7,543.1 346.0,556.5 346.2,563.9 346.5,556.2 346.8,542.6 347.0,535.7 347.3,536.7 347.5,542.2 347.8,546.7 348.0,548.4 348.3,547.4 348.5,547.2 348.8,549.9 349.1,555.8 349.3,562.1 349.6,562.6 349.8,553.2 350.1,540.2 350.3,533.9 350.6,534.0 350.8,544.1 351.1,558.1 351.4,561.8 351.6,552.1 351.9,540.2 352.1,535.5 352.4,540.9 352.6,555.1 352.9,566.8 353.1,564.4 353.4,541.1 353.7,519.2 353.9,515.5 354.2,541.8 354.4,561.0 354.7,553.9 354.9,531.3 355.2,525.0 355.5,547.9 355.7,574.3 356.0,575.9 356.2,565.9 356.5,548.7 356.7,544.9 357.0,549.2 357.2,546.1 357.5,531.8 357.8,520.5 358.0,524.3 358.3,539.6 358.5,552.4 358.8,554.1 359.0,545.8 359.3,532.8 359.5,527.7 359.8,538.1 360.1,556.6 360.3,565.5 360.6,553.6 360.8,529.5 361.1,523.8 361.3,551.2 361.6,575.6 361.8,575.6 362.1,573.0 362.4,547.2 362.6,541.4 362.9,549.6 363.1,542.0 363.4,513.3 363.6,513.3 363.9,513.3 364.1,523.0 364.4,548.9 364.7,554.3 364.9,559.0 365.2,575.5 365.4,575.5 365.7,575.5 365.9,541.8 366.2,513.3 366.4,519.6 366.7,552.4 367.0,568.2 367.2,558.9 367.5,545.1 367.7,548.9 368.0,562.9 368.2,564.1 368.5,545.8 368.8,522.7 369.0,517.0 369.3,522.5 369.5,521.3 369.8,513.7 370.0,519.2 370.3,547.6 370.5,575.2 370.8,575.2 371.1,568.3 371.3,547.0 371.6,541.7 371.8,554.4 372.1,564.2 372.3,558.0 372.6,542.6 372.8,531.9 373.1,536.0 373.4,547.0 373.6,550.6 373.9,546.7 374.1,536.6 374.4,531.0 374.6,536.1 374.9,547.4 375.1,552.7 375.4,552.0 375.7,546.6 375.9,538.8 376.2,538.9 376.4,545.7 376.7,549.7 376.9,550.0 377.2,548.1 377.4,547.1 377.7,548.1 378.0,549.5 378.2,548.8 378.5,546.2 378.7,543.4 379.0,545.4 379.2,548.9 379.5,550.6 379.8,549.0 380.0,543.9 380.3,538.2 380.5,537.7 380.8,542.6 381.0,548.2 381.3,549.7 381.5,546.6 381.8,535.1 382.1,526.9 382.3,528.3 382.6,545.1 382.8,558.1 383.1,557.9 383.3,557.8 383.6,550.9 383.8,543.4 384.1,543.8 384.4,546.7 384.6,543.6 384.9,535.4 385.1,533.1 385.4,536.4 385.6,548.1 385.9,554.5 386.1,553.4 386.4,548.0 386.7,544.0 386.9,545.9 387.2,550.2 387.4,552.7 387.7,551.5 387.9,546.7 388.2,537.9 388.4,533.1 388.7,533.1 389.0,537.6 389.2,548.2 389.5,554.1 389.7,554.6 390.0,551.8 390.2,550.0 390.5,550.9 390.7,552.7 391.0,552.8 391.3,550.6 391.5,547.4 391.8,543.0 392.0,537.8 392.3,533.1 392.5,533.1 392.8,536.7 393.1,544.2 393.3,548.0 393.6,546.4 393.8,542.4 394.1,543.8 394.3,551.5 394.6,556.9 394.8,556.9 395.1,555.1 395.4,544.7 395.6,537.3 395.9,538.8 396.1,544.5 396.4,547.0 396.6,545.4 396.9,543.4 397.1,545.1 397.4,548.7 397.7,550.1 397.9,547.4 398.2,540.9 398.4,536.3 398.7,538.3 398.9,546.8 399.2,553.9 399.4,555.3 399.7,548.5 400.0,535.9 400.2,533.1 400.5,539.7 400.7,552.6 401.0,556.9 401.2,552.2 401.5,545.3 401.7,547.6 402.0,555.4 402.3,554.9 402.5,550.9 402.8,541.8 403.0,541.8 403.3,541.8 403.5,545.9 403.8,550.9 404.0,548.6 404.3,544.9 404.6,544.9 404.8,549.1 405.1,553.7 405.3,552.8 405.6,546.5 405.8,541.9 406.1,541.8 406.4,544.8 406.6,553.4 406.9,553.7 407.1,553.7 407.4,545.6 407.6,541.8 407.9,542.0 408.1,546.7 408.4,550.6 408.7,548.3 408.9,545.5 409.2,546.1 409.4,548.6 409.7,546.9 409.9,542.7 410.2,541.8 410.4,544.9 410.7,553.6 411.0,553.7 411.2,548.6 411.5,543.0 411.7,544.1 412.0,550.5 412.2,552.6 412.5,545.7 412.7,541.8 413.0,542.5 413.3,551.5 413.5,553.7 413.8,553.1 414.0,543.8 414.3,541.8 414.5,544.2 414.8,550.9 415.0,553.2 415.3,549.7 415.6,545.7 415.8,544.1 416.1,543.2 416.3,542.3 416.6,542.8 416.8,545.8 417.1,550.7 417.4,552.2 417.6,549.0 417.9,546.0 418.1,546.5 418.4,551.1 418.6,553.5 418.9,549.0 419.1,542.4 419.4,539.9 419.7,544.2 419.9,553.1 420.2,557.6 420.4,552.5 420.7,543.5 420.9,538.9 421.2,540.4 421.4,545.4 421.7,550.6 422.0,551.6 422.2,548.3 422.5,543.3 422.7,538.8 423.0,536.3 423.2,537.2 423.5,541.8 423.7,549.3 424.0,558.7 424.3,560.9 424.5,560.9 424.8,560.9 425.0,554.2 425.3,542.1 425.5,535.7 425.8,536.8 426.0,542.9 426.3,547.9 426.6,546.8 426.8,542.2 427.1,539.1 427.3,539.7 427.6,542.2 427.8,543.6 428.1,544.1 428.3,546.3 428.6,552.6 428.9,559.1 429.1,560.4 429.4,555.0 429.6,546.9 429.9,543.6 430.1,545.7 430.4,552.0 430.7,555.4 430.9,551.4 431.2,544.0 431.4,539.8 431.7,540.8 431.9,543.6 432.2,543.6 432.4,540.2 432.7,538.4 433.0,541.9 433.2,549.1 433.5,554.3 433.7,553.3 434.0,550.5 434.2,549.4 434.5,548.4 434.7,546.3 435.0,545.2 435.3,546.0 435.5,549.2 435.8,551.7 436.0,550.3 436.3,546.5 436.5,544.6 436.8,544.5 437.0,544.3 437.3,543.1 437.6,542.6 437.8,545.3 438.1,550.1 438.3,552.0 438.6,548.8 438.8,545.2 439.1,545.6 439.3,549.4 439.6,551.3 439.9,547.4 440.1,542.4 440.4,541.9 440.6,543.1 440.9,546.9 441.1,549.6 441.4,550.3 441.7,551.0 441.9,551.3 442.2,549.8 442.4,546.2 442.7,543.7 442.9,543.6 443.2,545.8 443.4,548.4 443.7,548.8 444.0,546.4 444.2,543.6 444.5,542.2 444.7,543.9 445.0,547.5 445.2,549.9 445.5,547.8 445.7,544.6 446.0,545.0 446.3,550.4 446.5,552.2 446.8,552.2 447.0,544.4 447.3,542.1 447.5,542.3 447.8,549.4 448.0,552.2 448.3,549.1 448.6,544.5 448.8,544.5 449.1,547.4 449.3,548.3 449.6,545.2 449.8,542.5 450.1,543.1 450.3,546.1 450.6,548.6 450.9,549.3 451.1,549.4 451.4,549.3 451.6,547.2 451.9,544.6 452.1,544.2 452.4,547.7 452.6,552.0 452.9,551.0 453.2,545.5 453.4,542.2 453.7,543.5 453.9,546.9 454.2,548.0 454.4,545.9 454.7,545.1 455.0,547.2 455.2,549.2 455.5,547.5 455.7,545.2 456.0,545.9 456.2,549.2 456.5,549.7 456.7,545.9 457.0,543.6 457.3,546.4 457.5,551.9 457.8,551.9 458.0,544.6 458.3,542.3 458.5,542.3 458.8,546.6 459.0,551.2 459.3,548.4 459.6,544.6 459.8,545.7 460.1,550.8 460.3,551.9 460.6,550.3 460.8,546.4 461.1,546.1 461.3,548.0 461.6,548.1 461.9,545.8 462.1,544.2 462.4,544.3 462.6,544.3 462.9,542.7 463.1,542.4 463.4,542.6 463.6,547.1 463.9,551.8 464.2,551.7 464.4,551.7 464.7,550.0 464.9,548.2 465.2,546.3 465.4,545.1 465.7,545.4 466.0,547.2 466.2,548.7 466.5,547.9 466.7,545.9 467.0,544.5 467.2,543.7 467.5,543.0 467.7,543.0 468.0,544.9 468.3,548.6 468.5,551.0 468.8,549.8 469.0,546.8 469.3,545.7 469.5,546.6 469.8,547.4 470.0,546.6 470.3,546.2 470.6,548.1 470.8,550.8 471.1,550.3 471.3,546.5 471.6,543.8 471.8,544.3 472.1,546.6 472.3,547.2 472.6,545.3 472.9,544.1 473.1,545.3 473.4,547.0 473.6,546.4 473.9,544.7 474.1,545.1 474.4,548.4 474.6,551.5 474.9,550.8 475.2,547.9 475.4,546.8 475.7,547.8 475.9,547.6 476.2,544.9 476.4,542.6 476.7,543.4 476.9,546.6 477.2,548.3 477.5,546.3 477.7,544.6 478.0,546.5 478.2,551.3 478.5,551.2 478.7,549.5 479.0,544.4 479.3,542.9 479.5,544.7 479.8,546.7 480.0,546.3 480.3,544.5 480.5,543.9 480.8,545.5 481.0,548.0 481.3,549.7 481.6,550.0 481.8,549.3 482.1,547.9 482.3,546.1 482.6,544.9 482.8,544.9 483.1,546.0 483.3,547.1 483.6,547.1 483.9,546.4 484.1,546.0 484.4,546.3 484.6,546.7 484.9,546.5 485.1,546.1 485.4,545.9 485.6,546.4 485.9,547.1 486.2,547.4 486.4,547.2 486.7,547.0 486.9,547.1 487.2,547.2 487.4,546.7 487.7,546.0 487.9,545.5 488.2,545.8 488.5,546.3 488.7,546.6 489.0,546.4 489.2,546.4 489.5,547.0 489.7,547.7 490.0,547.6 490.2,546.6 490.5,545.9 490.8,546.1 491.0,547.0 491.3,547.5 491.5,547.0 491.8,546.0 492.0,545.4 492.3,545.6 492.6,546.3 492.8,547.0 493.1,547.5 493.3,547.6 493.6,547.0 493.8,546.0 494.1,545.3 494.3,545.5 494.6,546.3 494.9,547.2 495.1,547.6 495.4,547.8 495.6,547.9 495.9,547.6 496.1,546.7 496.4,545.8 496.6,545.6 496.9,546.2 497.2,546.6 497.4,546.0 497.7,545.1 497.9,545.2 498.2,546.5 498.4,547.7 498.7,547.6 498.9,546.6 499.2,546.1 499.5,546.8 499.7,547.9 500.0,548.2 500.2,547.6 500.5,546.6 500.7,545.7 501.0,545.0 501.2,545.0 501.5,545.9 501.8,547.4 502.0,548.0 502.3,547.1 502.5,545.7 502.8,545.8 503.0,547.5 503.3,548.6 503.6,547.6 503.8,545.1 504.1,544.6 504.3,545.0 504.6,547.3 504.8,548.1 505.1,547.0 505.3,545.9 505.6,546.4 505.9,547.7 506.1,548.2 506.4,547.1 506.6,545.7 506.9,545.5 507.1,546.5 507.4,547.5 507.6,547.8 507.9,547.3 508.2,546.5 508.4,545.5 508.7,544.9 508.9,544.8 509.2,545.5 509.4,546.6 509.7,547.3 509.9,547.6 510.2,547.6 510.5,547.8 510.7,547.7 511.0,547.0 511.2,546.0 511.5,545.7 511.7,546.2 512.0,546.8 512.2,546.7 512.5,545.9 512.8,545.6 513.0,546.2 513.3,547.2 513.5,547.2 513.8,546.4 514.0,545.8 514.3,546.3 514.5,547.5 514.8,548.0 515.1,547.2 515.3,546.2 515.6,546.2 515.8,547.1 516.1,547.3 516.3,546.3 516.6,544.9 516.9,544.9 517.1,545.8 517.4,547.0 517.6,547.4 517.9,547.3 518.1,547.5 518.4,547.7 518.6,547.0 518.9,545.6 519.2,545.0 519.4,546.2 519.7,548.2 519.9,548.2 520.2,547.2 520.4,545.2 520.7,545.1 520.9,546.7 521.2,547.7 521.5,546.5 521.7,545.0 522.0,545.0 522.2,546.4 522.5,548.1 522.7,547.8 523.0,546.4 523.2,546.1 523.5,547.1 523.8,547.8 524.0,546.8 524.3,545.4 524.5,545.9 524.8,548.2 525.0,548.2 525.3,548.2 525.5,545.7 525.8,544.9 526.1,544.9 526.3,545.5 526.6,546.6 526.8,546.8 527.1,546.5 527.3,546.3 527.6,546.1 527.9,546.1 528.1,546.9 528.4,548.3 528.6,548.3 528.9,548.3 529.1,547.1 529.4,545.9 529.6,546.0 529.9,546.6 530.2,546.3 530.4,545.2 530.7,544.9 530.9,545.3 531.2,546.3 531.4,546.5 531.7,546.1 531.9,546.3 532.2,547.5 532.5,548.3 532.7,548.4 533.0,547.6 533.2,547.1 533.5,547.2 533.7,547.0 534.0,545.6 534.2,544.8 534.5,544.8 534.8,545.4 535.0,547.4 535.3,548.2 535.5,547.5 535.8,546.6 536.0,546.5 536.3,547.2 536.5,547.6 536.8,547.2 537.1,546.5 537.3,545.8 537.6,545.7 537.8,546.1 538.1,546.7 538.3,547.3 538.6,547.5 538.8,547.0 539.1,546.1 539.4,545.3 539.6,545.4 539.9,546.3 540.1,547.5 540.4,548.1 540.6,547.6 540.9,546.5 541.2,545.6 541.4,545.4 541.7,546.0 541.9,547.1 542.2,547.7 542.4,547.4 542.7,546.5 542.9,545.6 543.2,545.6 543.5,546.5 543.7,547.7 544.0,548.3 544.2,547.8 544.5,546.6 544.7,545.7 545.0,545.5 545.2,545.7 545.5,545.7 545.8,545.4 546.0,545.6 546.3,547.0 546.5,548.5 546.8,548.5 547.0,547.9 547.3,545.5 547.5,544.6 547.8,544.7 548.1,546.4 548.3,547.8 548.6,548.1 548.8,547.7 549.1,547.2 549.3,546.6 549.6,545.9 549.8,545.3 550.1,545.5 550.4,546.4 550.6,547.4 550.9,547.5 551.1,546.8 551.4,545.9 551.6,545.5 551.9,545.8 552.1,547.0 552.4,548.5 552.7,549.1 552.9,547.7 553.2,545.1 553.4,543.6 553.7,544.6 553.9,547.6 554.2,549.7 554.5,548.5 554.7,545.9 555.0,545.1 555.2,546.4 555.5,547.9 555.7,547.3 556.0,546.0 556.2,546.6 556.5,549.2 556.8,550.2 557.0,547.1 557.3,543.3 557.5,543.1 557.8,543.9 558.0,547.0 558.3,549.0 558.5,548.6 558.8,547.3 559.1,546.1 559.3,545.6 559.6,545.8 559.8,546.7 560.1,547.7 560.3,547.9 560.6,547.4 560.8,546.8 561.1,546.8 561.4,547.3 561.6,547.1 561.9,545.8 562.1,544.5 562.4,544.5 562.6,545.9 562.9,547.5 563.1,547.8 563.4,547.0 563.7,546.3 563.9,546.3 564.2,546.9 564.4,547.5 564.7,547.3 564.9,546.4 565.2,545.3 565.5,544.8 565.7,545.7 566.0,547.3 566.2,548.5 566.5,548.3 566.7,547.5 567.0,547.0 567.2,547.2 567.5,546.8 567.8,545.5 568.0,544.4 568.3,545.1 568.5,547.1 568.8,548.2 569.0,547.2 569.3,545.0 569.5,544.2 569.8,545.3 570.1,547.0 570.3,547.8 570.6,547.8 570.8,547.8 571.1,547.7 571.3,546.7 571.6,545.6 571.8,545.8 572.1,547.5 572.4,548.7 572.6,547.6 572.9,545.3 573.1,544.6 573.4,546.1 573.6,547.6 573.9,546.8 574.1,545.0 574.4,545.1 574.7,547.7 574.9,549.2 575.2,548.1 575.4,544.3 575.7,543.9 575.9,543.9 576.2,546.9 576.4,548.5 576.7,548.2 577.0,547.8 577.2,548.2 577.5,548.3 577.7,547.5 578.0,546.6 578.2,546.9 578.5,547.4 578.8,546.6 579.0,544.8 579.3,544.3 579.5,545.9 579.8,547.7 580.0,547.4 580.3,545.3 580.5,544.1 580.8,545.2 581.1,547.5 581.3,548.4 581.6,547.5 581.8,546.3 582.1,546.2 582.3,547.0 582.6,547.4 582.8,547.3 583.1,547.4 583.4,547.7 583.6,547.4 583.9,546.1 584.1,545.0 584.4,544.9 584.6,545.9 584.9,546.8 585.1,547.0 585.4,547.2 585.7,547.7 585.9,548.1 586.2,547.3 586.4,545.6 586.7,544.6 586.9,544.6 587.2,546.0 587.4,547.1 587.7,546.9 588.0,546.2 588.2,546.5 588.5,548.0 588.7,548.7 589.0,548.7 589.2,547.0 589.5,544.8 589.8,544.5 590.0,545.7 590.3,547.0 590.5,547.1 590.8,546.2 591.0,545.8 591.3,547.0 591.5,548.5 591.8,548.7 592.1,546.7 592.3,544.4 592.6,544.4 592.8,544.4 593.1,546.1 593.3,548.3 593.6,548.8 593.8,548.8 594.1,548.0 594.4,547.4 594.6,547.3 594.9,547.2 595.1,546.6 595.4,545.4 595.6,544.3 595.9,544.4 596.1,545.7 596.4,547.1 596.7,547.5 596.9,547.1 597.2,547.2 597.4,548.2 597.7,548.8 597.9,547.4 598.2,544.5 598.4,544.3 598.7,544.3 599.0,547.8 599.2,549.0 599.5,548.4 599.7,545.2 600.0,544.2 600.2,544.5 600.5,547.0 600.7,548.5 601.0,548.5 601.3,548.2 601.5,548.5 601.8,548.4 602.0,547.1 602.3,545.1 602.5,544.1 602.8,545.0 603.1,546.5 603.3,546.7 603.6,545.2 603.8,544.2 604.1,545.3 604.3,547.9 604.6,549.1 604.8,549.1 605.1,547.4 605.4,545.5 605.6,544.8 605.9,545.0 606.1,545.6 606.4,546.7 606.6,548.2 606.9,549.0 607.1,548.2 607.4,546.3 607.7,545.0 607.9,545.5 608.2,546.9 608.4,547.4 608.7,546.4 608.9,545.2 609.2,545.3 609.4,546.5 609.7,547.5 610.0,547.5 610.2,547.0 610.5,546.8 610.7,546.7 611.0,546.0 611.2,545.3 611.5,545.7 611.7,547.2 612.0,548.3 612.3,547.7 612.5,545.8 612.8,544.8 613.0,545.8 613.3,547.7 613.5,548.4 613.8,547.2 614.1,545.7 614.3,545.6 614.6,546.8 614.8,548.0 615.1,547.7 615.3,546.4 615.6,545.5 615.8,545.7 616.1,546.7 616.4,547.4 616.6,547.1 616.9,546.0 617.1,545.1 617.4,545.0 617.6,545.6 617.9,546.3 618.1,546.9 618.4,547.3 618.7,547.9 618.9,548.2 619.2,548.0 619.4,547.2 619.7,546.3 619.9,546.0 620.2,546.2 620.4,546.7 620.7,546.9 621.0,546.7 621.2,546.3 621.5,545.9 621.7,545.6 622.0,545.7 622.2,545.9 622.5,546.3 622.7,546.6 623.0,547.1 623.3,547.6 623.5,547.8 623.8,547.5 624.0,546.6 624.3,545.9 624.5,546.0 624.8,546.8 625.0,547.4 625.3,547.1 625.6,546.2 625.8,545.8 626.1,546.4 626.3,547.2 626.6,547.2 626.8,546.3 627.1,545.5 627.4,545.6 627.6,546.5 627.9,547.2 628.1,547.0 628.4,546.6 628.6,546.6 628.9,547.0 629.1,547.2 629.4,546.5 629.7,545.6 629.9,545.6 630.2,546.6 630.4,547.7 630.7,547.7 630.9,546.9 631.2,545.8 631.4,545.8 631.7,546.7 632.0,547.5 632.2,547.3 632.5,546.3 632.7,545.6 633.0,545.9 633.2,546.9 633.5,547.3 633.7,546.9 634.0,546.2 634.3,546.0 634.5,546.4 634.8,546.8 635.0,546.5 635.3,545.9 635.5,545.8 635.8,546.5 636.0,547.5 636.3,547.6 636.6,547.5 636.8,546.6 637.1,546.2 637.3,546.4 637.6,547.0 637.8,547.3 638.1,547.0 638.3,546.2 638.6,545.7 638.9,545.9 639.1,546.4 639.4,546.6 639.6,546.4 639.9,546.0 640.1,546.0 640.4,546.5 640.7,547.0 640.9,547.2 641.2,547.1 641.4,547.0 641.7,546.8 641.9,546.6 642.2,546.4 642.4,546.5 642.7,546.9 643.0,547.3 643.2,547.0 643.5,546.3 643.7,545.9 644.0,546.3 644.2,547.0 644.5,547.1 644.7,546.6 645.0,545.9 645.3,545.7 645.5,546.0 645.8,546.5 646.0,546.7 646.3,546.7 646.5,546.7 646.8,546.8 647.0,547.0 647.3,547.2 647.6,547.2 647.8,546.8 648.1,546.3 648.3,546.0 648.6,546.3 648.8,546.8 649.1,547.1 649.3,546.7 649.6,546.2 649.9,546.1 650.1,546.6 650.4,547.1 650.6,547.0 650.9,546.4 651.1,546.0 651.4,546.1 651.7,546.6 651.9,546.8 652.2,546.5 652.4,546.2 652.7,546.4 652.9,546.9 653.2,547.2 653.4,547.0 653.7,546.6 654.0,546.4 654.2,546.5 654.5,546.9 654.7,547.2 655.0,547.2 655.2,546.9 655.5,546.3 655.7,545.8 656.0,545.8 656.3,546.0 656.5,546.6 656.8,546.9 657.0,546.8 657.3,546.5 657.5,546.4 657.8,546.6 658.0,546.9 658.3,547.0 658.6,546.9 658.8,546.6 659.1,546.5 659.3,546.5 659.6,546.5 659.8,546.4 660.1,546.4 660.3,546.5 660.6,546.7 660.9,546.9 661.1,547.0 661.4,547.1 661.6,547.1 661.9,546.8 662.1,546.2 662.4,545.8 662.6,545.8 662.9,546.1 663.2,546.9 663.4,547.3 663.7,547.1 663.9,546.7 664.2,546.3 664.4,546.2 664.7,546.1 665.0,546.2 665.2,546.4 665.5,546.9 665.7,547.4 666.0,547.4 666.2,547.4 666.5,547.2 666.7,546.6 667.0,546.1 667.3,545.8 667.5,545.8 667.8,546.2 668.0,546.7 668.3,546.8 668.5,546.5 668.8,546.1 669.0,546.0 669.3,546.2 669.6,546.7 669.8,547.2 670.1,547.4 670.3,547.3 670.6,546.9 670.8,546.4 671.1,546.0 671.3,546.1 671.6,546.5 671.9,547.1 672.1,547.4 672.4,547.4 672.6,546.7 672.9,545.8 673.1,545.8 673.4,545.8 673.6,546.5 673.9,547.2 674.2,547.3 674.4,546.9 674.7,546.8 674.9,547.0 675.2,547.0 675.4,546.5 675.7,545.8 676.0,545.8 676.2,546.2 676.5,546.8 676.7,546.7 677.0,546.2 677.2,546.2 677.5,547.0 677.7,547.4 678.0,547.4 678.3,547.1 678.5,546.3 678.8,546.1 679.0,546.3 679.3,546.6 679.5,546.7 679.8,546.5 680.0,546.2 680.3,545.8 680.6,545.8 680.8,546.0 681.1,546.7 681.3,547.3 681.6,547.4 681.8,547.1 682.1,546.8 682.3,546.8 682.6,546.7 682.9,546.5 683.1,546.4 683.4,546.6 683.6,546.8 683.9,546.9 684.1,546.7 684.4,546.6 684.6,546.6 684.9,546.5 685.2,546.1 685.4,545.9 685.7,546.2 685.9,546.8 686.2,547.2 686.4,547.0 686.7,546.5 686.9,546.2 687.2,546.3 687.5,546.6 687.7,546.8 688.0,546.9 688.2,546.9 688.5,546.8 688.7,546.5 689.0,546.4 689.3,546.7 689.5,547.0 689.8,547.0 690.0,546.5 690.3,546.1 690.5,546.2 690.8,546.6 691.0,546.6 691.3,546.3 691.6,546.3 691.8,546.8 692.1,547.3 692.3,547.1 692.6,546.5 692.8,546.3 693.1,546.6 693.3,546.8 693.6,546.2 693.9,545.9 694.1,545.9 694.4,547.1 694.6,547.3 694.9,547.3 695.1,546.6 695.4,545.9 695.6,546.1 695.9,546.8 696.2,546.8 696.4,546.3 696.7,546.2 696.9,546.6 697.2,547.0 697.4,546.7 697.7,546.4 697.9,546.6 698.2,547.2 698.5,547.2 698.7,546.4 699.0,545.9 699.2,545.9 699.5,546.2 699.7,546.9 700.0,547.1 700.2,547.2 700.5,547.3 700.8,547.3 701.0,546.8 701.3,546.2 701.5,545.9 701.8,546.4 702.0,546.9 702.3,546.9 702.6,546.4 702.8,546.2 703.1,546.5 703.3,546.9 703.6,547.0 703.8,546.7 704.1,546.4 704.3,546.2 704.6,546.2 704.9,546.3 705.1,546.5 705.4,546.9 705.6,547.3 705.9,547.2 706.1,546.6 706.4,545.9 706.6,545.9 706.9,546.3 707.2,547.0 707.4,547.3 707.7,547.3 707.9,546.9 708.2,546.3 708.4,546.0 708.7,546.2 708.9,546.6 709.2,546.8 709.5,546.7 709.7,546.6 710.0,546.6 710.2,546.6 710.5,546.4 710.7,546.2 711.0,546.1 711.2,546.4 711.5,546.8 711.8,546.9 712.0,546.7 712.3,546.5 712.5,546.7 712.8,546.9 713.0,547.1 713.3,547.0 713.6,546.9 713.8,546.8 714.1,546.6 714.3,546.2 714.6,545.9 714.8,545.9 715.1,546.1 715.3,546.7 715.6,547.0 715.9,546.9 716.1,546.6 716.4,546.5 716.6,546.8 716.9,547.1 717.1,547.0 717.4,546.6 717.6,546.0 717.9,545.9 718.2,546.3 718.4,547.0 718.7,547.3 718.9,547.1 719.2,546.6 719.4,546.1 719.7,546.1 719.9,546.5 720.2,546.8 720.5,546.8 720.7,546.6 721.0,546.6 721.2,546.8 721.5,547.0 721.7,546.9 722.0,546.5 722.2,546.1 722.5,546.0 722.8,546.1 723.0,546.3 723.3,546.5 723.5,546.8 723.8,547.3 724.0,547.3 724.3,547.1 724.5,546.3 724.8,545.9 725.1,546.2 725.3,546.9 725.6,547.3 725.8,547.1 726.1,546.6 726.3,546.3 726.6,546.4 726.9,546.4 727.1,546.3 727.4,546.2 727.6,546.4 727.9,546.7 728.1,546.8 728.4,546.7 728.6,546.6 728.9,546.5 729.2,546.4 729.4,546.3 729.7,546.5 729.9,547.2 730.2,547.3 730.4,547.3 730.7,546.5 730.9,545.9 731.2,545.9 731.5,546.6 731.7,547.1 732.0,546.9 732.2,546.2 732.5,546.0 732.7,546.4 733.0,546.8 733.2,546.9 733.5,546.7 733.8,546.6 734.0,546.6 734.3,546.5 734.5,546.4 734.8,546.4 735.0,546.7 735.3,546.9 735.5,546.7 735.8,546.5 736.1,546.6 736.3,547.0 736.6,547.0 736.8,546.7 737.1,546.3 737.3,546.5 737.6,546.9 737.9,546.9 738.1,546.3 738.4,545.9 738.6,545.9 738.9,546.2 739.1,546.7 739.4,546.9 739.6,547.0 739.9,547.1 740.2,547.2 740.4,546.9 740.7,546.6 740.9,546.5 741.2,546.6 741.4,546.6 741.7,546.4 741.9,546.3 742.2,546.4 742.5,546.7 742.7,546.7 743.0,546.4 743.2,546.2 743.5,546.5 743.7,546.9 744.0,546.8 744.2,546.4 744.5,546.3 744.8,546.7 745.0,547.3 745.3,547.3 745.5,546.5 745.8,545.9 746.0,546.0 746.3,546.7 746.5,547.2 746.8,546.9 747.1,546.2 747.3,545.9 747.6,546.0 747.8,546.7 748.1,547.1 748.3,547.0 748.6,546.7 748.8,546.5 749.1,546.6 749.4,546.8 749.6,546.9 749.9,546.7 750.1,546.6 750.4,546.5 750.6,546.5 750.9,546.3 751.2,546.1 751.4,546.3 751.7,546.7 751.9,547.1 752.2,547.0 752.4,546.5 752.7,546.2 752.9,546.4 753.2,546.8 753.5,547.0 753.7,546.9 754.0,546.8 754.2,546.7 754.5,546.4 754.7,546.1 755.0,546.0 755.2,546.3 755.5,546.8 755.8,546.8 756.0,546.5 756.3,546.4 756.5,546.9 756.8,547.3 757.0,547.3 757.3,546.6 757.5,545.9 757.8,546.0 758.1,546.5 758.3,546.8 758.6,546.5 758.8,546.1 759.1,546.3 759.3,546.8 759.6,547.0 759.8,546.7 760.1,546.4 760.4,546.5 760.6,546.9 760.9,547.1 761.1,546.8 761.4,546.4 761.6,546.2 761.9,546.4 762.1,546.8 762.4,547.0 762.7,547.0 762.9,546.7 763.2,546.2 763.4,546.0 763.7,546.2 763.9,546.7 764.2,546.9 764.5,546.7 764.7,546.2 765.0,546.1 765.2,546.5 765.5,547.2 765.7,547.3 766.0,547.2 766.2,546.6 766.5,546.1 766.8,545.9 767.0,546.1 767.3,546.5 767.5,546.9 767.8,547.1 768.0,547.0 768.3,546.6 768.5,546.3 768.8,546.1 769.1,546.2 769.3,546.6 769.6,547.1 769.8,547.3 770.1,547.1 770.3,546.6 770.6,546.2 770.8,546.2 771.1,546.4 771.4,546.5 771.6,546.2 771.9,546.0 772.1,546.4 772.4,547.1 772.6,547.3 772.9,547.0 773.1,546.2 773.4,546.0 773.7,546.5 773.9,547.2 774.2,547.3 774.4,546.8 774.7,546.2 774.9,546.1 775.2,546.5 775.5,546.8 775.7,546.8 776.0,546.6 776.2,546.2 776.5,546.1 776.7,546.4 777.0,546.7 777.2,547.0 777.5,546.8 777.8,546.4 778.0,546.0 778.3,546.0 778.5,546.5 778.8,547.1 779.0,547.3 779.3,547.3 779.5,547.2 779.8,546.6 780.1,546.1 780.3,546.0 780.6,546.2 780.8,546.5 781.1,546.7 781.3,546.8 781.6,546.7 781.8,546.5 782.1,546.2 782.4,546.0 782.6,546.0 782.9,546.5 783.1,547.2 783.4,547.2 783.6,547.1 783.9,546.7 784.1,546.5 784.4,546.6 784.7,546.7 784.9,546.6 785.2,546.6 785.4,546.7 785.7,546.9 785.9,546.9 786.2,546.5 786.4,546.0 786.7,546.0 787.0,546.1 787.2,546.6 787.5,547.0 787.7,547.1 788.0,546.9 788.2,546.8 788.5,546.6 788.8,546.4 789.0,546.1 789.3,546.0 789.5,546.3 789.8,547.0 790.0,547.2 790.3,547.2 790.5,546.6 790.8,546.2 791.1,546.4 791.3,547.0 791.6,547.2 791.8,546.8 792.1,546.3 792.3,546.1 792.6,546.3 792.8,546.4" fill="none" stroke="#33a55e" stroke-width="1.0" stroke-opacity="0.8" stroke-linejoin="round"/>
<rect x="78.80" y="510.10" width="713.20" height="73.00" fill="none" stroke="#fff" stroke-width="0.8" stroke-opacity="0.8"/>
<rect x="77.50" y="508.80" width="715.80" height="75.60" fill="none" stroke="#555" stroke-width="1.4"/>
<text transform="translate(76.90,603.86) scale(1.09,1)" font-size="18.5" text-anchor="middle">0</text>
<text transform="translate(148.52,603.86) scale(1.09,1)" font-size="18.5" text-anchor="middle">1</text>
<text transform="translate(220.14,603.86) scale(1.09,1)" font-size="18.5" text-anchor="middle">2</text>
<text transform="translate(291.76,603.86) scale(1.09,1)" font-size="18.5" text-anchor="middle">3</text>
<text transform="translate(363.38,603.86) scale(1.09,1)" font-size="18.5" text-anchor="middle">4</text>
<text transform="translate(435.00,603.86) scale(1.09,1)" font-size="18.5" text-anchor="middle">5</text>
<text transform="translate(506.62,603.86) scale(1.09,1)" font-size="18.5" text-anchor="middle">6</text>
<text transform="translate(578.24,603.86) scale(1.09,1)" font-size="18.5" text-anchor="middle">7</text>
<text transform="translate(649.86,603.86) scale(1.09,1)" font-size="18.5" text-anchor="middle">8</text>
<text transform="translate(721.48,603.86) scale(1.09,1)" font-size="18.5" text-anchor="middle">9</text>
<text transform="translate(793.10,603.86) scale(1.09,1)" font-size="18.5" text-anchor="middle">10</text>
<text transform="translate(72.05,513.06) scale(1.09,1)" font-size="18.5" text-anchor="end">500</text>
<text transform="translate(72.05,552.46) scale(1.09,1)" font-size="18.5" text-anchor="end">0</text>
<text transform="translate(72.05,592.16) scale(1.09,1)" font-size="18.5" text-anchor="end">-500</text>
<text transform="translate(22.00,546.30) rotate(-90)" font-size="19.8" text-anchor="middle">Amp (m/s<tspan dy="-7.5" font-size="11.5">2</tspan><tspan dy="7.5">)</tspan></text>
<text transform="translate(106.87,480.30) scale(1.0442,1)" font-size="19.5" text-anchor="start">Vibration signal of rockfall on the protective net (Sensor D,  y direction, 3000kj)</text>
<rect x="76.60" y="668.70" width="716.50" height="75.70" fill="url(#bg)"/>
<line x1="147.90" y1="669.70" x2="147.90" y2="743.40" class="g"/>
<line x1="219.60" y1="669.70" x2="219.60" y2="743.40" class="g"/>
<line x1="291.30" y1="669.70" x2="291.30" y2="743.40" class="g"/>
<line x1="363.00" y1="669.70" x2="363.00" y2="743.40" class="g"/>
<line x1="434.70" y1="669.70" x2="434.70" y2="743.40" class="g"/>
<line x1="506.40" y1="669.70" x2="506.40" y2="743.40" class="g"/>
<line x1="578.10" y1="669.70" x2="578.10" y2="743.40" class="g"/>
<line x1="649.80" y1="669.70" x2="649.80" y2="743.40" class="g"/>
<line x1="721.50" y1="669.70" x2="721.50" y2="743.40" class="g"/>
<line x1="77.60" y1="706.55" x2="792.10" y2="706.55" class="g"/>
<polyline points="76.7,707.3 76.9,707.2 77.2,707.4 77.4,707.5 77.6,707.4 77.9,707.1 78.1,707.4 78.4,707.5 78.6,707.3 78.8,707.3 79.1,707.3 79.3,707.1 79.5,707.3 79.8,707.5 80.0,707.1 80.3,707.3 80.5,707.2 80.7,707.4 81.0,707.4 81.2,707.1 81.5,707.5 81.7,707.4 81.9,707.5 82.2,707.1 82.4,707.3 82.7,707.4 82.9,707.2 83.1,707.1 83.4,707.4 83.6,707.4 83.8,707.3 84.1,707.3 84.3,707.5 84.6,707.4 84.8,707.3 85.0,707.2 85.3,707.5 85.5,707.2 85.8,707.2 86.0,707.1 86.2,707.5 86.5,707.3 86.7,707.4 87.0,707.1 87.2,707.5 87.4,707.4 87.7,707.3 87.9,707.2 88.2,707.2 88.4,707.5 88.6,707.1 88.9,707.4 89.1,707.2 89.3,707.2 89.6,707.3 89.8,707.2 90.1,707.5 90.3,707.3 90.5,707.4 90.8,707.5 91.0,707.4 91.3,707.4 91.5,707.2 91.7,707.4 92.0,707.5 92.2,707.3 92.5,707.4 92.7,707.1 92.9,707.1 93.2,707.3 93.4,707.4 93.6,707.1 93.9,707.3 94.1,707.5 94.4,707.2 94.6,707.5 94.8,707.1 95.1,707.2 95.3,707.5 95.6,707.4 95.8,707.5 96.0,707.1 96.3,707.3 96.5,707.2 96.8,707.1 97.0,707.4 97.2,707.4 97.5,707.4 97.7,707.3 97.9,707.4 98.2,707.4 98.4,707.3 98.7,707.3 98.9,707.4 99.1,707.5 99.4,707.4 99.6,707.2 99.9,707.1 100.1,707.2 100.3,707.4 100.6,707.3 100.8,707.3 101.1,707.1 101.3,707.5 101.5,707.2 101.8,707.3 102.0,707.4 102.3,707.1 102.5,707.1 102.7,707.5 103.0,707.3 103.2,707.3 103.4,707.2 103.7,707.5 103.9,707.3 104.2,707.3 104.4,707.5 104.6,707.2 104.9,707.4 105.1,707.3 105.4,707.5 105.6,707.2 105.8,707.2 106.1,707.4 106.3,707.4 106.6,707.3 106.8,707.3 107.0,707.3 107.3,707.3 107.5,707.1 107.7,707.3 108.0,707.3 108.2,707.1 108.5,707.4 108.7,707.3 108.9,707.2 109.2,707.4 109.4,707.5 109.7,707.4 109.9,707.5 110.1,707.3 110.4,707.3 110.6,707.2 110.9,707.1 111.1,707.3 111.3,707.3 111.6,707.2 111.8,707.4 112.1,707.5 112.3,707.4 112.5,707.3 112.8,707.3 113.0,707.3 113.2,707.4 113.5,707.3 113.7,707.3 114.0,707.3 114.2,707.5 114.4,707.4 114.7,707.3 114.9,707.1 115.2,707.3 115.4,707.2 115.6,707.1 115.9,707.2 116.1,707.3 116.4,707.5 116.6,707.3 116.8,707.1 117.1,707.4 117.3,707.3 117.5,707.3 117.8,707.2 118.0,707.4 118.3,707.2 118.5,707.2 118.7,707.4 119.0,707.5 119.2,707.2 119.5,707.2 119.7,707.3 119.9,707.5 120.2,707.4 120.4,707.3 120.7,707.2 120.9,707.3 121.1,707.1 121.4,707.4 121.6,707.4 121.8,707.3 122.1,707.1 122.3,707.5 122.6,707.5 122.8,707.1 123.0,707.4 123.3,707.3 123.5,707.1 123.8,707.4 124.0,707.3 124.2,707.2 124.5,707.3 124.7,707.3 125.0,707.4 125.2,707.4 125.4,707.2 125.7,707.5 125.9,707.3 126.2,707.3 126.4,707.3 126.6,707.3 126.9,707.3 127.1,707.2 127.3,707.5 127.6,707.2 127.8,707.2 128.1,707.3 128.3,707.4 128.5,707.2 128.8,707.1 129.0,707.1 129.3,707.1 129.5,707.5 129.7,707.1 130.0,707.3 130.2,707.4 130.5,707.3 130.7,707.1 130.9,707.5 131.2,707.2 131.4,707.4 131.6,707.3 131.9,707.4 132.1,707.2 132.4,707.3 132.6,707.4 132.8,707.4 133.1,707.4 133.3,707.2 133.6,707.4 133.8,707.2 134.0,707.2 134.3,707.3 134.5,707.5 134.8,707.3 135.0,707.3 135.2,707.2 135.5,707.3 135.7,707.2 136.0,707.2 136.2,707.4 136.4,707.3 136.7,707.1 136.9,707.3 137.1,707.3 137.4,707.1 137.6,707.5 137.9,707.2 138.1,707.4 138.3,707.5 138.6,707.2 138.8,707.2 139.1,707.4 139.3,707.3 139.5,707.2 139.8,707.4 140.0,707.3 140.3,707.2 140.5,707.4 140.7,707.3 141.0,707.4 141.2,707.5 141.4,707.3 141.7,707.2 141.9,707.3 142.2,707.2 142.4,707.2 142.6,707.2 142.9,707.4 143.1,707.3 143.4,707.5 143.6,707.1 143.8,707.2 144.1,707.4 144.3,707.3 144.6,707.2 144.8,707.4 145.0,707.4 145.3,707.4 145.5,707.3 145.7,707.2 146.0,707.4 146.2,707.2 146.5,707.3 146.7,707.4 146.9,707.2 147.2,707.5 147.4,707.3 147.7,707.3 147.9,707.1 148.1,707.4 148.4,707.3 148.6,707.5 148.9,707.5 149.1,707.2 149.3,707.1 149.6,707.1 149.8,707.5 150.1,707.4 150.3,707.5 150.5,707.3 150.8,707.1 151.0,707.1 151.2,707.2 151.5,707.2 151.7,707.5 152.0,707.5 152.2,707.3 152.4,707.5 152.7,707.2 152.9,707.4 153.2,707.1 153.4,707.3 153.6,707.4 153.9,707.3 154.1,707.1 154.4,707.3 154.6,707.1 154.8,707.4 155.1,707.4 155.3,707.3 155.5,707.3 155.8,707.2 156.0,707.3 156.3,707.3 156.5,707.5 156.7,707.1 157.0,707.4 157.2,707.3 157.5,707.3 157.7,707.1 157.9,707.5 158.2,707.3 158.4,707.1 158.7,707.5 158.9,707.4 159.1,707.3 159.4,707.3 159.6,707.5 159.9,707.2 160.1,707.5 160.3,707.1 160.6,707.3 160.8,707.5 161.0,707.1 161.3,707.3 161.5,707.2 161.8,707.2 162.0,707.4 162.2,707.4 162.5,707.3 162.7,707.1 163.0,707.3 163.2,707.4 163.4,707.1 163.7,707.4 163.9,707.4 164.2,707.4 164.4,707.3 164.6,707.3 164.9,707.2 165.1,707.4 165.3,707.4 165.6,707.2 165.8,707.2 166.1,707.5 166.3,707.2 166.5,707.3 166.8,707.3 167.0,707.3 167.3,707.3 167.5,707.4 167.7,707.3 168.0,707.4 168.2,707.3 168.5,707.4 168.7,707.4 168.9,707.4 169.2,707.3 169.4,707.3 169.6,707.3 169.9,707.4 170.1,707.3 170.4,707.1 170.6,707.3 170.8,707.2 171.1,707.4 171.3,707.4 171.6,707.3 171.8,707.1 172.0,707.2 172.3,707.2 172.5,707.3 172.8,707.3 173.0,707.2 173.2,707.3 173.5,707.5 173.7,707.3 174.0,707.3 174.2,707.5 174.4,707.5 174.7,707.3 174.9,707.3 175.1,707.3 175.4,707.3 175.6,707.2 175.9,707.2 176.1,707.5 176.3,707.2 176.6,707.1 176.8,707.1 177.1,707.4 177.3,707.2 177.5,707.2 177.8,707.4 178.0,707.5 178.3,707.3 178.5,707.1 178.7,707.3 179.0,707.3 179.2,707.3 179.4,707.1 179.7,707.3 179.9,707.5 180.2,707.5 180.4,707.3 180.6,707.4 180.9,707.4 181.1,707.1 181.4,707.1 181.6,707.3 181.8,707.2 182.1,707.1 182.3,707.3 182.6,707.4 182.8,707.5 183.0,707.2 183.3,707.1 183.5,707.5 183.8,707.4 184.0,707.4 184.2,707.3 184.5,707.4 184.7,707.2 184.9,707.5 185.2,707.1 185.4,707.1 185.7,707.4 185.9,707.4 186.1,707.5 186.4,707.3 186.6,707.3 186.9,707.4 187.1,707.4 187.3,707.3 187.6,707.3 187.8,707.4 188.1,707.1 188.3,707.1 188.5,707.3 188.8,707.2 189.0,707.4 189.2,707.2 189.5,707.5 189.7,707.3 190.0,707.2 190.2,707.3 190.4,707.4 190.7,707.3 190.9,707.3 191.2,707.1 191.4,707.5 191.6,707.5 191.9,707.3 192.1,707.3 192.4,707.4 192.6,707.4 192.8,707.2 193.1,707.1 193.3,707.4 193.5,707.2 193.8,707.3 194.0,707.2 194.3,707.3 194.5,707.3 194.7,707.1 195.0,707.4 195.2,707.3 195.5,707.2 195.7,707.4 195.9,707.4 196.2,707.4 196.4,707.2 196.7,707.3 196.9,707.4 197.1,707.4 197.4,707.2 197.6,707.3 197.9,707.3 198.1,707.4 198.3,707.3 198.6,707.4 198.8,707.2 199.0,707.3 199.3,707.5 199.5,707.2 199.8,707.3 200.0,707.1 200.2,707.3 200.5,707.3 200.7,707.4 201.0,707.4 201.2,707.3 201.4,707.3 201.7,707.3 201.9,707.1 202.2,707.3 202.4,707.2 202.6,707.5 202.9,707.1 203.1,707.5 203.3,707.3 203.6,707.3 203.8,707.4 204.1,707.5 204.3,707.1 204.5,707.3 204.8,707.4 205.0,707.1 205.3,707.1 205.5,707.5 205.7,707.3 206.0,707.5 206.2,707.5 206.5,707.3 206.7,707.1 206.9,707.2 207.2,707.1 207.4,707.2 207.6,707.5 207.9,707.4 208.1,707.1 208.4,707.2 208.6,707.3 208.8,707.1 209.1,707.1 209.3,707.1 209.6,707.4 209.8,707.0 210.0,707.2 210.3,707.1 210.5,706.7 210.8,706.8 211.0,706.7 211.2,706.5 211.5,706.7 211.7,706.7 212.0,706.5 212.2,706.4 212.4,706.4 212.7,706.3 212.9,706.0 213.1,706.2 213.4,706.1 213.6,706.2 213.9,706.1 214.1,705.9 214.3,705.9 214.6,705.8 214.8,707.9 215.1,705.2 215.3,704.8 215.5,709.3 215.8,690.3 216.0,673.7 216.3,710.7 216.5,721.6 216.7,689.4 217.0,687.2 217.2,735.8 217.4,736.0 217.7,718.1 217.9,676.6 218.2,697.6 218.4,696.0 218.6,729.1 218.9,712.5 219.1,730.0 219.4,718.5 219.6,690.6 219.8,701.9 220.1,703.0 220.3,708.9 220.6,708.7 220.8,700.8 221.0,716.8 221.3,694.3 221.5,709.6 221.8,679.4 222.0,733.7 222.2,704.2 222.5,714.9 222.7,701.3 222.9,711.3 223.2,719.0 223.4,701.3 223.7,690.6 223.9,697.2 224.1,686.8 224.4,703.1 224.6,692.3 224.9,716.5 225.1,715.8 225.3,698.0 225.6,725.7 225.8,721.5 226.1,701.1 226.3,718.9 226.5,684.6 226.8,690.5 227.0,722.4 227.2,696.7 227.5,712.9 227.7,706.9 228.0,708.1 228.2,711.1 228.4,707.8 228.7,716.1 228.9,730.0 229.2,701.6 229.4,703.3 229.6,713.6 229.9,698.8 230.1,712.6 230.4,688.8 230.6,711.9 230.8,693.4 231.1,690.9 231.3,683.8 231.6,719.6 231.8,704.7 232.0,684.2 232.3,727.7 232.5,716.0 232.7,718.0 233.0,711.0 233.2,697.0 233.5,712.7 233.7,698.8 233.9,702.1 234.2,725.6 234.4,705.8 234.7,711.0 234.9,700.7 235.1,700.6 235.4,715.3 235.6,719.7 235.9,702.0 236.1,687.6 236.3,710.8 236.6,706.9 236.8,723.7 237.0,685.5 237.3,704.8 237.5,720.4 237.8,706.2 238.0,691.2 238.2,697.2 238.5,703.8 238.7,711.0 239.0,726.0 239.2,717.5 239.4,704.1 239.7,699.5 239.9,704.5 240.2,702.2 240.4,697.9 240.6,718.5 240.9,717.1 241.1,713.7 241.3,692.6 241.6,701.0 241.8,700.0 242.1,711.7 242.3,709.5 242.5,704.0 242.8,713.2 243.0,715.0 243.3,703.4 243.5,710.0 243.7,706.5 244.0,689.4 244.2,694.1 244.5,712.4 244.7,705.0 244.9,705.2 245.2,711.3 245.4,700.6 245.7,708.0 245.9,713.1 246.1,700.6 246.4,714.4 246.6,715.3 246.8,698.5 247.1,706.6 247.3,711.6 247.6,701.1 247.8,713.2 248.0,707.7 248.3,708.2 248.5,707.7 248.8,712.2 249.0,705.4 249.2,693.8 249.5,699.9 249.7,702.9 250.0,708.4 250.2,716.2 250.4,693.8 250.7,713.0 250.9,700.7 251.1,699.8 251.4,702.2 251.6,711.3 251.9,718.5 252.1,717.4 252.3,714.4 252.6,713.3 252.8,696.9 253.1,698.2 253.3,702.3 253.5,693.9 253.8,702.4 254.0,707.0 254.3,708.8 254.5,708.1 254.7,709.2 255.0,699.7 255.2,697.0 255.4,710.4 255.7,702.0 255.9,710.6 256.2,698.5 256.4,714.4 256.6,704.8 256.9,706.9 257.1,715.9 257.4,716.5 257.6,715.1 257.8,709.1 258.1,706.0 258.3,700.1 258.6,702.5 258.8,710.9 259.0,702.6 259.3,697.8 259.5,706.1 259.8,707.2 260.0,710.0 260.2,709.1 260.5,701.0 260.7,713.6 260.9,703.3 261.2,703.1 261.4,709.6 261.7,697.8 261.9,709.0 262.1,714.9 262.4,703.8 262.6,715.6 262.9,705.5 263.1,709.5 263.3,707.4 263.6,702.8 263.8,706.5 264.1,705.2 264.3,710.6 264.5,707.8 264.8,713.3 265.0,711.0 265.2,707.4 265.5,701.1 265.7,703.6 266.0,704.6 266.2,705.4 266.4,713.8 266.7,703.9 266.9,702.8 267.2,697.8 267.4,706.5 267.6,716.5 267.9,705.7 268.1,700.6 268.4,713.7 268.6,707.6 268.8,704.5 269.1,708.9 269.3,702.5 269.6,705.9 269.8,702.2 270.0,716.5 270.3,704.9 270.5,706.8 270.7,704.9 271.0,711.0 271.2,702.7 271.5,712.1 271.7,700.6 271.9,710.9 272.2,702.0 272.4,709.3 272.7,705.9 272.9,707.7 273.1,706.5 273.4,704.1 273.6,716.4 273.9,697.8 274.1,703.8 274.3,705.6 274.6,707.3 274.8,714.2 275.0,713.7 275.3,708.2 275.5,710.1 275.8,703.8 276.0,701.7 276.2,702.3 276.5,706.2 276.7,710.8 277.0,705.3 277.2,701.8 277.4,710.4 277.7,699.2 277.9,704.4 278.2,708.6 278.4,706.3 278.6,707.6 278.9,703.3 279.1,716.5 279.4,702.1 279.6,713.4 279.8,697.8 280.1,708.8 280.3,716.5 280.5,697.8 280.8,716.5 281.0,718.9 281.3,712.8 281.5,702.8 281.7,706.1 282.0,700.7 282.2,706.7 282.5,697.1 282.7,699.6 282.9,697.7 283.2,694.8 283.4,718.0 283.7,700.5 283.9,703.6 284.1,706.5 284.4,712.1 284.6,704.7 284.8,702.2 285.1,723.6 285.3,703.2 285.6,704.2 285.8,705.2 286.0,705.0 286.3,711.7 286.5,710.6 286.8,711.0 287.0,721.5 287.2,709.7 287.5,699.3 287.7,695.6 288.0,708.8 288.2,713.5 288.4,719.3 288.7,696.1 288.9,698.7 289.1,699.7 289.4,716.7 289.6,699.3 289.9,703.4 290.1,702.7 290.3,701.9 290.6,696.2 290.8,722.8 291.1,710.4 291.3,694.0 291.5,716.5 291.8,701.4 292.0,714.3 292.3,712.9 292.5,709.4 292.7,705.9 293.0,701.0 293.2,705.2 293.5,707.7 293.7,709.7 293.9,707.4 294.2,708.6 294.4,708.2 294.6,704.5 294.9,708.5 295.1,705.7 295.4,708.5 295.6,701.7 295.8,702.6 296.1,706.0 296.3,711.5 296.6,711.2 296.8,708.8 297.0,708.2 297.3,701.0 297.5,704.3 297.8,706.3 298.0,704.2 298.2,702.0 298.5,707.7 298.7,708.8 298.9,703.2 299.2,705.2 299.4,712.1 299.7,706.8 299.9,709.8 300.1,701.2 300.4,706.9 300.6,711.2 300.9,700.8 301.1,706.7 301.3,709.1 301.6,704.8 301.8,714.5 302.1,721.0 302.3,719.5 302.5,706.0 302.8,696.1 303.0,712.9 303.2,714.8 303.5,686.3 303.7,698.7 304.0,714.8 304.2,715.8 304.4,698.0 304.7,693.7 304.9,718.6 305.2,701.3 305.4,720.3 305.6,706.3 305.9,706.5 306.1,695.3 306.4,691.4 306.6,708.7 306.8,726.9 307.1,696.8 307.3,728.7 307.6,702.4 307.8,686.3 308.0,709.8 308.3,703.7 308.5,713.8 308.7,717.9 309.0,700.7 309.2,710.6 309.5,697.7 309.7,710.1 309.9,710.7 310.2,707.4 310.4,705.8 310.7,709.3 310.9,696.6 311.1,713.8 311.4,705.5 311.6,711.5 311.9,701.7 312.1,705.7 312.3,711.2 312.6,709.9 312.8,708.9 313.0,708.0 313.3,716.1 313.5,698.4 313.8,696.6 314.0,696.6 314.2,696.6 314.5,710.9 314.7,714.9 315.0,706.8 315.2,706.2 315.4,699.3 315.7,716.5 315.9,708.0 316.2,711.8 316.4,714.2 316.6,708.0 316.9,711.5 317.1,707.0 317.4,696.6 317.6,705.5 317.8,704.2 318.1,701.8 318.3,715.6 318.5,700.1 318.8,703.4 319.0,707.9 319.3,691.9 319.5,717.8 319.7,704.0 320.0,711.2 320.2,703.7 320.5,715.6 320.7,704.7 320.9,706.7 321.2,713.8 321.4,711.1 321.7,698.6 321.9,709.0 322.1,704.3 322.4,703.8 322.6,699.2 322.8,708.4 323.1,708.2 323.3,710.5 323.6,703.4 323.8,701.7 324.0,705.1 324.3,707.5 324.5,707.0 324.8,711.2 325.0,704.7 325.2,709.0 325.5,700.8 325.7,704.7 326.0,702.4 326.2,705.0 326.4,715.7 326.7,719.5 326.9,716.7 327.2,705.5 327.4,699.6 327.6,704.0 327.9,708.2 328.1,714.4 328.3,699.0 328.6,694.0 328.8,710.9 329.1,694.0 329.3,712.1 329.5,710.4 329.8,719.5 330.0,709.8 330.3,706.8 330.5,707.9 330.7,708.4 331.0,693.8 331.2,706.9 331.5,712.7 331.7,705.2 331.9,704.9 332.2,693.7 332.4,719.7 332.6,710.5 332.9,698.5 333.1,702.9 333.4,704.2 333.6,717.9 333.8,704.4 334.1,711.7 334.3,710.6 334.6,711.0 334.8,700.7 335.0,702.9 335.3,709.8 335.5,700.0 335.8,705.4 336.0,715.3 336.2,718.3 336.5,702.4 336.7,705.4 336.9,695.5 337.2,709.8 337.4,702.2 337.7,710.5 337.9,702.6 338.1,700.7 338.4,711.6 338.6,709.0 338.9,704.8 339.1,709.8 339.3,693.2 339.6,720.0 339.8,701.4 340.1,704.2 340.3,720.0 340.5,703.3 340.8,710.8 341.0,714.1 341.3,703.1 341.5,704.2 341.7,701.8 342.0,702.1 342.2,714.3 342.4,710.7 342.7,709.5 342.9,701.2 343.2,701.9 343.4,705.7 343.6,696.0 343.9,702.5 344.1,702.3 344.4,714.6 344.6,707.9 344.8,712.4 345.1,722.4 345.3,704.1 345.6,701.2 345.8,702.3 346.0,695.1 346.3,700.4 346.5,710.7 346.7,705.9 347.0,713.8 347.2,713.8 347.5,711.8 347.7,716.0 347.9,709.1 348.2,693.4 348.4,692.1 348.7,706.6 348.9,713.4 349.1,713.2 349.4,701.4 349.6,693.4 349.9,708.2 350.1,714.3 350.3,705.7 350.6,703.7 350.8,704.8 351.1,711.9 351.3,708.8 351.5,707.3 351.8,717.9 352.0,701.1 352.2,709.9 352.5,698.2 352.7,695.9 353.0,713.1 353.2,698.4 353.4,693.1 353.7,716.9 353.9,719.0 354.2,708.8 354.4,711.7 354.6,720.4 354.9,704.4 355.1,702.7 355.4,705.5 355.6,705.5 355.8,705.3 356.1,705.3 356.3,713.6 356.5,712.9 356.8,697.2 357.0,704.5 357.3,712.1 357.5,691.0 357.7,695.8 358.0,710.1 358.2,704.9 358.5,701.7 358.7,709.9 358.9,698.6 359.2,708.6 359.4,717.9 359.7,708.4 359.9,713.1 360.1,709.0 360.4,708.3 360.6,709.1 360.8,700.3 361.1,707.4 361.3,710.3 361.6,710.6 361.8,707.5 362.0,698.3 362.3,704.8 362.5,704.8 362.8,705.9 363.0,706.8 363.2,707.8 363.5,705.1 363.7,707.9 364.0,706.0 364.2,704.7 364.4,705.1 364.7,708.4 364.9,704.6 365.2,705.6 365.4,710.0 365.6,699.4 365.9,704.3 366.1,710.9 366.3,709.3 366.6,704.7 366.8,709.5 367.1,708.3 367.3,710.8 367.5,703.7 367.8,707.8 368.0,699.4 368.3,705.0 368.5,706.2 368.7,705.2 369.0,707.5 369.2,705.8 369.5,702.7 369.7,711.7 369.9,710.3 370.2,707.1 370.4,700.8 370.6,708.6 370.9,706.9 371.1,699.8 371.4,709.2 371.6,711.0 371.8,709.2 372.1,704.7 372.3,703.7 372.6,703.7 372.8,705.8 373.0,708.7 373.3,700.6 373.5,708.2 373.8,708.1 374.0,706.2 374.2,701.9 374.5,705.1 374.7,704.8 375.0,706.0 375.2,709.2 375.4,707.1 375.7,704.7 375.9,710.7 376.1,699.4 376.4,709.9 376.6,710.8 376.9,710.1 377.1,707.0 377.3,706.3 377.6,707.4 377.8,699.4 378.1,707.4 378.3,700.7 378.5,702.5 378.8,705.2 379.0,709.3 379.3,711.7 379.5,706.3 379.7,703.4 380.0,703.1 380.2,704.8 380.4,708.2 380.7,708.3 380.9,711.7 381.2,702.1 381.4,703.8 381.6,703.0 381.9,710.0 382.1,705.6 382.4,705.2 382.6,707.2 382.8,701.5 383.1,703.7 383.3,708.0 383.6,706.5 383.8,711.7 384.0,705.7 384.3,706.7 384.5,709.0 384.7,707.6 385.0,707.5 385.2,702.1 385.5,703.8 385.7,703.9 385.9,705.9 386.2,705.7 386.4,707.8 386.7,705.8 386.9,706.6 387.1,709.5 387.4,705.5 387.6,705.4 387.9,703.8 388.1,707.6 388.3,706.7 388.6,706.7 388.8,706.2 389.1,707.8 389.3,707.2 389.5,706.9 389.8,706.9 390.0,706.6 390.2,706.2 390.5,706.7 390.7,706.3 391.0,706.6 391.2,706.1 391.4,705.0 391.7,706.1 391.9,705.9 392.2,705.1 392.4,705.4 392.6,706.9 392.9,707.1 393.1,707.0 393.4,707.1 393.6,707.1 393.8,704.8 394.1,706.3 394.3,707.0 394.5,707.3 394.8,707.1 395.0,708.1 395.3,706.5 395.5,706.0 395.7,707.9 396.0,707.4 396.2,705.1 396.5,706.0 396.7,706.6 396.9,707.1 397.2,704.6 397.4,705.4 397.7,704.6 397.9,706.1 398.1,707.9 398.4,704.9 398.6,707.4 398.9,705.5 399.1,706.6 399.3,707.4 399.6,707.0 399.8,706.7 400.0,707.0 400.3,707.2 400.5,706.9 400.8,705.9 401.0,707.0 401.2,705.6 401.5,706.5 401.7,708.0 402.0,706.6 402.2,706.6 402.4,704.7 402.7,706.7 402.9,707.2 403.2,705.9 403.4,706.6 403.6,706.8 403.9,707.5 404.1,704.7 404.3,707.7 404.6,706.8 404.8,705.7 405.1,707.8 405.3,705.3 405.5,706.9 405.8,707.5 406.0,704.7 406.3,706.3 406.5,706.3 406.7,706.6 407.0,706.6 407.2,706.0 407.5,706.3 407.7,706.2 407.9,705.7 408.2,707.4 408.4,705.2 408.6,708.1 408.9,707.0 409.1,708.1 409.4,706.7 409.6,707.3 409.8,705.3 410.1,708.1 410.3,704.7 410.6,706.8 410.8,707.1 411.0,706.9 411.3,705.7 411.5,705.0 411.8,705.5 412.0,706.2 412.2,706.7 412.5,705.6 412.7,707.7 413.0,706.0 413.2,705.5 413.4,707.3 413.7,707.1 413.9,706.0 414.1,707.2 414.4,706.8 414.6,707.4 414.9,705.7 415.1,707.3 415.3,706.3 415.6,705.7 415.8,706.9 416.1,708.1 416.3,706.5 416.5,706.8 416.8,705.9 417.0,706.9 417.3,704.8 417.5,706.4 417.7,705.9 418.0,706.5 418.2,705.4 418.4,706.7 418.7,706.8 418.9,707.0 419.2,706.9 419.4,707.3 419.6,705.8 419.9,706.6 420.1,706.9 420.4,705.6 420.6,705.6 420.8,706.8 421.1,707.0 421.3,706.4 421.6,707.0 421.8,707.6 422.0,705.2 422.3,706.9 422.5,707.1 422.8,706.5 423.0,707.0 423.2,705.4 423.5,708.1 423.7,707.3 423.9,704.9 424.2,706.5 424.4,706.3 424.7,706.9 424.9,706.1 425.1,705.3 425.4,708.1 425.6,705.8 425.9,707.2 426.1,705.4 426.3,704.9 426.6,707.2 426.8,706.9 427.1,706.0 427.3,707.0 427.5,706.8 427.8,706.3 428.0,706.1 428.2,707.0 428.5,706.4 428.7,706.8 429.0,705.5 429.2,706.2 429.4,706.2 429.7,706.6 429.9,706.5 430.2,706.9 430.4,708.1 430.6,707.8 430.9,708.1 431.1,706.6 431.4,706.1 431.6,707.0 431.8,706.0 432.1,704.8 432.3,706.3 432.5,706.5 432.8,704.9 433.0,705.7 433.3,706.4 433.5,707.3 433.7,707.0 434.0,706.4 434.2,708.1 434.5,705.9 434.7,706.6 434.9,707.2 435.2,705.3 435.4,705.5 435.7,707.3 435.9,707.4 436.1,707.5 436.4,705.0 436.6,706.7 436.9,707.8 437.1,708.1 437.3,705.5 437.6,706.3 437.8,705.7 438.0,706.3 438.3,707.9 438.5,705.3 438.8,706.4 439.0,707.5 439.2,706.2 439.5,707.4 439.7,705.5 440.0,706.4 440.2,707.2 440.4,705.4 440.7,706.2 440.9,706.9 441.2,707.4 441.4,706.8 441.6,705.3 441.9,707.3 442.1,705.2 442.3,705.8 442.6,705.4 442.8,707.3 443.1,708.0 443.3,707.2 443.5,707.6 443.8,707.3 444.0,705.5 444.3,706.5 444.5,705.1 444.7,707.4 445.0,705.8 445.2,706.6 445.5,707.5 445.7,706.4 445.9,706.7 446.2,707.0 446.4,707.3 446.7,705.5 446.9,705.5 447.1,708.1 447.4,705.1 447.6,706.2 447.8,706.8 448.1,706.8 448.3,705.0 448.6,708.1 448.8,706.7 449.0,706.9 449.3,706.4 449.5,706.4 449.8,706.3 450.0,707.2 450.2,706.5 450.5,705.4 450.7,706.7 451.0,707.3 451.2,706.4 451.4,707.4 451.7,706.3 451.9,706.4 452.1,706.8 452.4,706.1 452.6,706.5 452.9,706.9 453.1,706.0 453.3,706.4 453.6,707.0 453.8,705.8 454.1,706.4 454.3,706.5 454.5,707.1 454.8,705.9 455.0,706.4 455.3,706.5 455.5,707.0 455.7,707.0 456.0,706.7 456.2,706.6 456.4,706.5 456.7,706.7 456.9,706.4 457.2,706.4 457.4,706.8 457.6,706.2 457.9,706.8 458.1,706.4 458.4,706.2 458.6,706.5 458.8,706.4 459.1,706.6 459.3,706.9 459.6,706.8 459.8,706.4 460.0,706.6 460.3,706.4 460.5,706.9 460.8,706.6 461.0,706.7 461.2,706.6 461.5,705.9 461.7,706.2 461.9,706.6 462.2,706.5 462.4,706.8 462.7,706.4 462.9,707.0 463.1,707.2 463.4,706.1 463.6,707.2 463.9,706.1 464.1,706.5 464.3,706.0 464.6,706.8 464.8,706.6 465.1,706.9 465.3,706.2 465.5,707.1 465.8,706.7 466.0,705.9 466.2,706.7 466.5,706.8 466.7,706.4 467.0,706.4 467.2,707.0 467.4,705.9 467.7,707.0 467.9,706.3 468.2,706.6 468.4,705.9 468.6,706.9 468.9,706.7 469.1,706.2 469.4,706.7 469.6,706.9 469.8,706.7 470.1,706.5 470.3,706.7 470.6,707.1 470.8,706.3 471.0,706.6 471.3,706.8 471.5,706.7 471.7,707.1 472.0,706.0 472.2,706.8 472.5,705.9 472.7,706.1 472.9,706.2 473.2,707.0 473.4,705.9 473.7,707.2 473.9,706.2 474.1,706.7 474.4,707.2 474.6,706.6 474.9,706.6 475.1,706.5 475.3,706.7 475.6,706.9 475.8,706.7 476.0,706.2 476.3,706.6 476.5,706.3 476.8,706.5 477.0,706.3 477.2,707.1 477.5,706.2 477.7,706.9 478.0,707.2 478.2,706.3 478.4,706.3 478.7,705.9 478.9,706.6 479.2,706.4 479.4,706.8 479.6,707.0 479.9,706.3 480.1,706.3 480.3,707.2 480.6,706.0 480.8,706.8 481.1,705.9 481.3,706.4 481.5,706.6 481.8,707.1 482.0,706.5 482.3,707.0 482.5,706.3 482.7,706.8 483.0,706.7 483.2,706.9 483.5,706.9 483.7,706.0 483.9,706.5 484.2,706.0 484.4,707.2 484.7,706.4 484.9,706.1 485.1,706.4 485.4,706.3 485.6,707.0 485.8,706.5 486.1,707.0 486.3,705.9 486.6,706.8 486.8,706.4 487.0,706.7 487.3,707.0 487.5,707.2 487.8,706.3 488.0,706.1 488.2,706.5 488.5,706.5 488.7,706.1 489.0,706.6 489.2,707.0 489.4,706.7 489.7,706.9 489.9,706.2 490.1,706.6 490.4,706.6 490.6,705.9 490.9,706.5 491.1,706.5 491.3,706.9 491.6,706.0 491.8,706.6 492.1,706.6 492.3,706.5 492.5,706.3 492.8,706.4 493.0,706.9 493.3,707.2 493.5,706.2 493.7,706.4 494.0,706.8 494.2,706.2 494.4,706.9 494.7,706.8 494.9,707.1 495.2,706.4 495.4,706.7 495.6,706.1 495.9,706.2 496.1,706.5 496.4,706.3 496.6,706.6 496.8,706.6 497.1,707.0 497.3,706.0 497.6,705.9 497.8,706.3 498.0,706.1 498.3,706.5 498.5,706.5 498.8,707.2 499.0,706.9 499.2,706.8 499.5,706.6 499.7,706.2 499.9,707.2 500.2,707.2 500.4,707.2 500.7,706.4 500.9,705.9 501.1,706.7 501.4,706.6 501.6,705.9 501.9,706.8 502.1,706.2 502.3,706.4 502.6,706.1 502.8,707.1 503.1,706.5 503.3,706.7 503.5,705.9 503.8,706.3 504.0,706.4 504.2,706.2 504.5,706.9 504.7,707.2 505.0,706.5 505.2,706.2 505.4,707.0 505.7,706.1 505.9,706.8 506.2,706.6 506.4,706.8 506.6,706.1 506.9,707.1 507.1,706.0 507.4,706.8 507.6,706.2 507.8,706.9 508.1,706.2 508.3,707.0 508.6,706.3 508.8,706.4 509.0,706.2 509.3,706.4 509.5,707.0 509.7,706.7 510.0,706.5 510.2,706.8 510.5,706.8 510.7,706.9 510.9,706.2 511.2,706.6 511.4,706.6 511.7,706.1 511.9,706.9 512.1,706.5 512.4,706.1 512.6,706.7 512.9,706.1 513.1,706.6 513.3,707.0 513.6,706.6 513.8,706.4 514.0,707.0 514.3,706.1 514.5,705.9 514.8,707.0 515.0,706.7 515.2,706.7 515.5,706.8 515.7,706.4 516.0,705.9 516.2,707.1 516.4,706.4 516.7,706.3 516.9,706.5 517.2,707.0 517.4,706.3 517.6,706.7 517.9,707.0 518.1,706.5 518.4,706.8 518.6,706.9 518.8,706.2 519.1,706.1 519.3,706.9 519.5,706.7 519.8,706.8 520.0,706.5 520.3,706.7 520.5,706.4 520.7,706.2 521.0,706.0 521.2,706.6 521.5,706.5 521.7,706.5 521.9,706.9 522.2,706.7 522.4,706.5 522.7,706.4 522.9,706.2 523.1,706.3 523.4,706.7 523.6,706.2 523.8,706.4 524.1,707.2 524.3,706.5 524.6,706.9 524.8,706.6 525.0,706.9 525.3,705.9 525.5,706.9 525.8,706.5 526.0,706.4 526.2,706.6 526.5,707.1 526.7,706.4 527.0,706.1 527.2,706.7 527.4,706.4 527.7,706.6 527.9,706.5 528.1,705.9 528.4,707.0 528.6,706.2 528.9,707.1 529.1,706.8 529.3,707.0 529.6,706.1 529.8,706.6 530.1,706.4 530.3,706.6 530.5,706.5 530.8,707.1 531.0,705.9 531.3,706.2 531.5,706.4 531.7,706.6 532.0,706.5 532.2,706.8 532.5,706.9 532.7,706.2 532.9,706.2 533.2,706.2 533.4,706.4 533.6,707.2 533.9,706.0 534.1,706.9 534.4,706.6 534.6,707.2 534.8,706.4 535.1,707.0 535.3,706.5 535.6,705.9 535.8,706.6 536.0,706.2 536.3,706.6 536.5,705.9 536.8,707.0 537.0,707.2 537.2,706.6 537.5,706.6 537.7,706.8 537.9,706.2 538.2,705.9 538.4,706.7 538.7,706.2 538.9,706.5 539.1,706.6 539.4,706.7 539.6,706.6 539.9,706.5 540.1,706.5 540.3,705.9 540.6,706.7 540.8,707.1 541.1,706.9 541.3,706.6 541.5,706.3 541.8,706.9 542.0,706.3 542.2,706.4 542.5,706.5 542.7,706.4 543.0,706.9 543.2,706.8 543.4,706.3 543.7,706.9 543.9,706.3 544.2,706.9 544.4,705.9 544.6,707.1 544.9,706.0 545.1,706.4 545.4,706.6 545.6,706.7 545.8,707.0 546.1,706.3 546.3,706.7 546.6,706.9 546.8,706.2 547.0,706.7 547.3,706.8 547.5,706.7 547.7,706.0 548.0,707.1 548.2,706.3 548.5,706.1 548.7,706.3 548.9,706.4 549.2,706.7 549.4,706.6 549.7,706.9 549.9,706.4 550.1,706.9 550.4,706.1 550.6,706.3 550.9,706.7 551.1,706.2 551.3,706.8 551.6,706.7 551.8,706.9 552.0,706.1 552.3,706.5 552.5,706.7 552.8,706.6 553.0,706.7 553.2,706.7 553.5,706.3 553.7,706.5 554.0,706.9 554.2,706.5 554.4,706.6 554.7,706.8 554.9,706.6 555.2,706.3 555.4,706.2 555.6,706.8 555.9,706.5 556.1,706.7 556.4,706.7 556.6,706.1 556.8,706.3 557.1,706.6 557.3,706.6 557.5,706.9 557.8,706.8 558.0,706.6 558.3,706.7 558.5,706.2 558.7,705.9 559.0,705.9 559.2,707.2 559.5,706.9 559.7,707.0 559.9,706.6 560.2,706.3 560.4,706.2 560.7,706.5 560.9,706.6 561.1,706.6 561.4,707.0 561.6,706.1 561.8,706.5 562.1,706.9 562.3,706.8 562.6,706.7 562.8,706.7 563.0,707.1 563.3,706.4 563.5,705.9 563.8,706.3 564.0,706.9 564.2,706.7 564.5,706.9 564.7,706.2 565.0,706.0 565.2,706.2 565.4,706.7 565.7,706.7 565.9,706.2 566.1,706.7 566.4,706.2 566.6,707.2 566.9,706.9 567.1,706.3 567.3,706.4 567.6,706.4 567.8,706.5 568.1,706.6 568.3,706.7 568.5,705.9 568.8,707.2 569.0,706.2 569.3,707.1 569.5,707.0 569.7,706.1 570.0,706.4 570.2,706.6 570.5,706.7 570.7,706.3 570.9,706.2 571.2,706.6 571.4,706.6 571.6,706.7 571.9,706.1 572.1,706.9 572.4,707.0 572.6,706.4 572.8,706.5 573.1,707.1 573.3,706.0 573.6,706.3 573.8,706.3 574.0,706.8 574.3,706.7 574.5,706.3 574.8,706.4 575.0,706.7 575.2,705.9 575.5,707.0 575.7,706.7 575.9,706.7 576.2,707.1 576.4,706.1 576.7,706.0 576.9,706.7 577.1,707.1 577.4,706.1 577.6,706.4 577.9,706.2 578.1,706.9 578.3,706.5 578.6,707.1 578.8,706.6 579.1,706.7 579.3,706.7 579.5,706.7 579.8,706.9 580.0,706.4 580.3,706.0 580.5,706.0 580.7,706.9 581.0,707.0 581.2,706.0 581.4,706.4 581.7,706.5 581.9,707.0 582.2,706.4 582.4,706.6 582.6,706.4 582.9,707.0 583.1,705.9 583.4,706.2 583.6,707.2 583.8,706.2 584.1,707.2 584.3,706.8 584.6,706.6 584.8,706.4 585.0,706.3 585.3,706.4 585.5,706.4 585.7,707.1 586.0,706.4 586.2,706.0 586.5,706.9 586.7,706.1 586.9,707.0 587.2,707.1 587.4,705.9 587.7,706.9 587.9,706.3 588.1,706.8 588.4,706.6 588.6,706.1 588.9,706.5 589.1,707.2 589.3,706.5 589.6,706.3 589.8,706.9 590.1,706.2 590.3,706.1 590.5,706.9 590.8,706.4 591.0,707.0 591.2,706.9 591.5,706.3 591.7,707.0 592.0,706.2 592.2,706.4 592.4,706.4 592.7,706.9 592.9,706.2 593.2,706.4 593.4,706.8 593.6,705.9 593.9,706.7 594.1,706.2 594.4,706.9 594.6,706.6 594.8,706.8 595.1,706.8 595.3,706.2 595.5,705.9 595.8,707.2 596.0,707.0 596.3,706.3 596.5,706.8 596.7,706.8 597.0,706.2 597.2,706.7 597.5,706.9 597.7,706.6 597.9,706.5 598.2,706.4 598.4,706.3 598.7,706.3 598.9,706.9 599.1,706.3 599.4,706.3 599.6,706.5 599.8,706.9 600.1,706.5 600.3,706.2 600.6,706.8 600.8,706.6 601.0,706.4 601.3,706.3 601.5,706.4 601.8,706.7 602.0,706.7 602.2,706.3 602.5,706.4 602.7,707.2 603.0,706.8 603.2,706.3 603.4,706.6 603.7,706.7 603.9,706.7 604.2,706.6 604.4,706.4 604.6,706.6 604.9,706.9 605.1,706.5 605.3,706.1 605.6,706.4 605.8,706.2 606.1,706.7 606.3,705.9 606.5,706.7 606.8,706.5 607.0,706.6 607.3,706.8 607.5,706.1 607.7,706.6 608.0,706.5 608.2,707.2 608.5,706.6 608.7,706.7 608.9,706.8 609.2,706.6 609.4,706.6 609.6,706.5 609.9,706.3 610.1,706.7 610.4,705.9 610.6,706.4 610.8,706.8 611.1,707.2 611.3,706.6 611.6,706.5 611.8,705.9 612.0,706.8 612.3,706.7 612.5,707.1 612.8,706.4 613.0,706.1 613.2,706.1 613.5,706.2 613.7,706.3 614.0,706.5 614.2,707.1 614.4,706.7 614.7,706.7 614.9,706.5 615.1,706.7 615.4,706.8 615.6,706.4 615.9,706.3 616.1,706.8 616.3,707.2 616.6,706.6 616.8,706.4 617.1,706.1 617.3,706.4 617.5,706.9 617.8,707.0 618.0,706.3 618.3,706.9 618.5,706.3 618.7,706.6 619.0,706.1 619.2,706.3 619.4,706.3 619.7,706.1 619.9,706.9 620.2,706.6 620.4,706.4 620.6,707.2 620.9,706.5 621.1,706.6 621.4,706.7 621.6,706.9 621.8,706.2 622.1,706.5 622.3,706.4 622.6,706.2 622.8,706.5 623.0,706.6 623.3,706.7 623.5,706.4 623.7,707.2 624.0,706.3 624.2,706.6 624.5,706.5 624.7,706.3 624.9,706.8 625.2,706.6 625.4,706.7 625.7,706.5 625.9,706.3 626.1,707.0 626.4,707.1 626.6,706.6 626.9,706.7 627.1,706.3 627.3,705.9 627.6,706.5 627.8,706.3 628.1,706.2 628.3,706.2 628.5,706.6 628.8,706.4 629.0,706.9 629.2,706.4 629.5,706.1 629.7,707.1 630.0,706.6 630.2,707.1 630.4,706.7 630.7,706.5 630.9,707.1 631.2,706.7 631.4,706.7 631.6,706.5 631.9,706.4 632.1,706.7 632.4,707.0 632.6,706.0 632.8,706.2 633.1,706.2 633.3,706.5 633.5,706.7 633.8,706.4 634.0,706.7 634.3,706.4 634.5,706.8 634.7,707.2 635.0,706.2 635.2,706.0 635.5,706.4 635.7,706.4 635.9,706.8 636.2,705.9 636.4,706.3 636.7,706.9 636.9,706.7 637.1,706.3 637.4,707.0 637.6,707.2 637.9,706.3 638.1,706.7 638.3,707.0 638.6,706.9 638.8,706.9 639.0,706.6 639.3,706.5 639.5,706.1 639.8,706.4 640.0,706.8 640.2,706.3 640.5,705.9 640.7,706.4 641.0,706.7 641.2,706.8 641.4,706.1 641.7,707.0 641.9,706.1 642.2,706.1 642.4,706.4 642.6,706.3 642.9,706.9 643.1,706.7 643.3,706.5 643.6,707.0 643.8,706.8 644.1,706.7 644.3,706.5 644.5,706.7 644.8,706.5 645.0,706.2 645.3,706.2 645.5,707.2 645.7,706.8 646.0,707.1 646.2,706.4 646.5,706.8 646.7,706.6 646.9,706.2 647.2,706.1 647.4,706.6 647.6,706.8 647.9,706.3 648.1,706.2 648.4,706.2 648.6,706.5 648.8,706.4 649.1,706.0 649.3,706.6 649.6,706.7 649.8,706.7 650.0,707.0 650.3,706.9 650.5,706.4 650.8,706.0 651.0,706.7 651.2,707.1 651.5,706.3 651.7,706.8 652.0,706.7 652.2,707.2 652.4,706.6 652.7,706.4 652.9,706.2 653.1,706.7 653.4,706.3 653.6,705.9 653.9,706.6 654.1,706.4 654.3,706.5 654.6,706.5 654.8,707.0 655.1,706.8 655.3,706.4 655.5,706.6 655.8,706.2 656.0,706.2 656.3,706.2 656.5,706.1 656.7,706.3 657.0,707.2 657.2,706.8 657.4,706.6 657.7,706.4 657.9,706.5 658.2,706.7 658.4,706.3 658.6,706.8 658.9,707.1 659.1,706.3 659.4,706.3 659.6,706.7 659.8,707.0 660.1,706.4 660.3,706.5 660.6,706.5 660.8,706.6 661.0,706.7 661.3,706.6 661.5,706.9 661.8,706.8 662.0,706.5 662.2,705.9 662.5,705.9 662.7,706.3 662.9,706.2 663.2,706.8 663.4,706.8 663.7,706.5 663.9,706.3 664.1,706.9 664.4,706.2 664.6,706.8 664.9,707.0 665.1,707.2 665.3,706.8 665.6,706.6 665.8,707.0 666.1,705.9 666.3,706.1 666.5,706.3 666.8,705.9 667.0,707.2 667.2,706.5 667.5,707.0 667.7,706.6 668.0,706.6 668.2,706.8 668.4,706.7 668.7,706.1 668.9,706.7 669.2,706.8 669.4,705.9 669.6,706.7 669.9,706.7 670.1,706.1 670.4,706.5 670.6,706.6 670.8,706.6 671.1,706.7 671.3,706.6 671.5,706.7 671.8,706.6 672.0,706.8 672.3,706.0 672.5,706.8 672.7,706.8 673.0,706.5 673.2,707.0 673.5,706.0 673.7,707.0 673.9,706.3 674.2,706.0 674.4,706.6 674.7,707.2 674.9,706.8 675.1,706.2 675.4,706.2 675.6,706.2 675.9,706.1 676.1,706.6 676.3,707.1 676.6,706.4 676.8,706.7 677.0,706.2 677.3,706.7 677.5,707.1 677.8,706.6 678.0,706.5 678.2,706.7 678.5,706.6 678.7,705.9 679.0,707.0 679.2,706.5 679.4,707.0 679.7,706.5 679.9,706.4 680.2,706.2 680.4,706.4 680.6,706.3 680.9,706.9 681.1,706.6 681.3,706.6 681.6,706.6 681.8,706.3 682.1,706.3 682.3,706.2 682.5,706.6 682.8,707.1 683.0,706.9 683.3,706.8 683.5,706.3 683.7,706.5 684.0,706.9 684.2,706.6 684.5,706.3 684.7,706.0 684.9,706.1 685.2,706.9 685.4,706.6 685.7,706.2 685.9,706.8 686.1,707.0 686.4,706.2 686.6,706.6 686.8,706.5 687.1,706.7 687.3,706.0 687.6,706.5 687.8,707.1 688.0,707.2 688.3,705.9 688.5,706.7 688.8,706.8 689.0,706.1 689.2,706.1 689.5,706.5 689.7,705.9 690.0,707.1 690.2,706.7 690.4,706.8 690.7,707.2 690.9,706.4 691.1,706.4 691.4,706.3 691.6,706.5 691.9,707.2 692.1,707.1 692.3,706.6 692.6,706.7 692.8,706.1 693.1,706.3 693.3,706.4 693.5,706.5 693.8,706.5 694.0,706.1 694.3,706.5 694.5,706.4 694.7,706.2 695.0,706.8 695.2,706.7 695.4,706.2 695.7,706.6 695.9,706.8 696.2,706.9 696.4,706.5 696.6,706.4 696.9,706.9 697.1,706.7 697.4,706.5 697.6,705.9 697.8,707.1 698.1,706.3 698.3,707.1 698.6,706.7 698.8,706.5 699.0,706.4 699.3,706.7 699.5,706.3 699.8,706.5 700.0,706.2 700.2,706.6 700.5,706.6 700.7,706.8 700.9,706.9 701.2,706.7 701.4,706.6 701.7,706.4 701.9,706.4 702.1,706.6 702.4,706.7 702.6,705.9 702.9,706.5 703.1,706.5 703.3,706.1 703.6,706.2 703.8,706.4 704.1,706.5 704.3,706.2 704.5,706.7 704.8,707.0 705.0,706.8 705.2,707.1 705.5,706.9 705.7,706.9 706.0,706.2 706.2,706.8 706.4,706.5 706.7,706.6 706.9,706.6 707.2,706.2 707.4,707.0 707.6,706.6 707.9,706.7 708.1,707.0 708.4,706.2 708.6,706.3 708.8,706.2 709.1,706.4 709.3,706.2 709.6,705.9 709.8,706.0 710.0,706.7 710.3,707.1 710.5,706.9 710.7,707.2 711.0,706.4 711.2,706.4 711.5,707.2 711.7,706.3 711.9,706.5 712.2,706.5 712.4,706.2 712.7,706.0 712.9,706.5 713.1,706.2 713.4,707.0 713.6,706.5 713.9,706.8 714.1,706.9 714.3,706.3 714.6,706.4 714.8,706.3 715.0,706.6 715.3,706.8 715.5,706.8 715.8,706.7 716.0,705.9 716.2,706.5 716.5,706.7 716.7,706.7 717.0,706.9 717.2,706.8 717.4,707.1 717.7,706.5 717.9,706.6 718.2,705.9 718.4,706.6 718.6,706.1 718.9,707.1 719.1,706.4 719.3,706.3 719.6,706.2 719.8,706.6 720.1,706.7 720.3,706.8 720.5,706.6 720.8,706.8 721.0,706.5 721.3,705.9 721.5,706.0 721.7,706.7 722.0,706.4 722.2,706.8 722.5,706.4 722.7,706.7 722.9,706.6 723.2,706.5 723.4,707.2 723.7,706.9 723.9,707.0 724.1,707.1 724.4,706.3 724.6,707.2 724.8,707.2 725.1,706.2 725.3,706.0 725.6,706.4 725.8,706.2 726.0,706.6 726.3,706.4 726.5,706.4 726.8,706.7 727.0,706.3 727.2,706.2 727.5,706.6 727.7,705.9 728.0,706.3 728.2,705.9 728.4,706.6 728.7,706.3 728.9,707.2 729.1,707.2 729.4,707.0 729.6,706.6 729.9,706.7 730.1,706.2 730.3,707.2 730.6,706.3 730.8,706.8 731.1,706.7 731.3,706.3 731.5,706.6 731.8,706.5 732.0,706.4 732.3,706.7 732.5,706.5 732.7,706.5 733.0,707.2 733.2,706.6 733.5,706.6 733.7,706.8 733.9,706.2 734.2,706.5 734.4,705.9 734.6,706.0 734.9,706.8 735.1,706.2 735.4,706.7 735.6,706.7 735.8,706.3 736.1,706.5 736.3,706.4 736.6,706.6 736.8,706.0 737.0,706.5 737.3,706.9 737.5,706.7 737.8,706.5 738.0,706.9 738.2,707.1 738.5,706.9 738.7,706.6 738.9,706.6 739.2,706.2 739.4,707.2 739.7,705.9 739.9,706.2 740.1,706.8 740.4,706.2 740.6,706.9 740.9,706.6 741.1,706.7 741.3,707.0 741.6,706.7 741.8,705.9 742.1,706.1 742.3,706.9 742.5,706.7 742.8,706.3 743.0,706.0 743.2,706.5 743.5,706.5 743.7,706.5 744.0,706.5 744.2,706.8 744.4,707.0 744.7,706.2 744.9,706.0 745.2,707.0 745.4,707.0 745.6,706.3 745.9,706.8 746.1,706.5 746.4,707.1 746.6,706.4 746.8,707.1 747.1,706.5 747.3,706.3 747.6,705.9 747.8,706.4 748.0,706.6 748.3,706.5 748.5,706.6 748.7,707.1 749.0,706.8 749.2,705.9 749.5,706.7 749.7,706.9 749.9,707.0 750.2,706.1 750.4,706.4 750.7,706.9 750.9,706.6 751.1,706.7 751.4,706.3 751.6,706.0 751.9,706.4 752.1,706.4 752.3,706.2 752.6,706.8 752.8,707.0 753.0,706.7 753.3,706.5 753.5,706.6 753.8,706.8 754.0,707.0 754.2,706.0 754.5,706.7 754.7,706.8 755.0,706.0 755.2,706.6 755.4,706.0 755.7,707.0 755.9,706.8 756.2,706.5 756.4,706.2 756.6,706.5 756.9,706.2 757.1,706.6 757.4,706.9 757.6,706.8 757.8,706.4 758.1,706.7 758.3,706.6 758.5,706.9 758.8,706.5 759.0,706.2 759.3,706.8 759.5,706.4 759.7,706.6 760.0,706.6 760.2,706.8 760.5,705.9 760.7,706.9 760.9,706.7 761.2,706.6 761.4,707.1 761.7,706.8 761.9,706.1 762.1,706.3 762.4,706.0 762.6,706.6 762.8,706.3 763.1,706.1 763.3,706.4 763.6,707.1 763.8,706.4 764.0,706.1 764.3,706.6 764.5,706.8 764.8,707.2 765.0,706.8 765.2,707.2 765.5,706.4 765.7,706.3 766.0,706.8 766.2,705.9 766.4,706.2 766.7,706.6 766.9,706.8 767.1,706.5 767.4,706.8 767.6,706.3 767.9,705.9 768.1,707.0 768.3,706.8 768.6,706.7 768.8,706.4 769.1,706.9 769.3,707.1 769.5,705.9 769.8,706.8 770.0,706.0 770.3,706.4 770.5,706.1 770.7,706.7 771.0,706.8 771.2,706.9 771.5,706.8 771.7,706.4 771.9,706.7 772.2,706.6 772.4,706.7 772.6,706.2 772.9,706.6 773.1,706.5 773.4,707.0 773.6,706.2 773.8,706.9 774.1,706.0 774.3,707.0 774.6,706.6 774.8,706.1 775.0,706.8 775.3,706.0 775.5,706.6 775.8,706.3 776.0,706.7 776.2,706.8 776.5,706.6 776.7,706.3 776.9,707.1 777.2,706.5 777.4,706.4 777.7,707.2 777.9,706.6 778.1,706.3 778.4,706.6 778.6,706.5 778.9,706.3 779.1,706.1 779.3,706.7 779.6,706.4 779.8,706.1 780.1,706.4 780.3,706.9 780.5,706.5 780.8,706.9 781.0,706.9 781.3,706.4 781.5,707.1 781.7,706.7 782.0,706.8 782.2,706.8 782.4,706.2 782.7,706.6 782.9,706.0 783.2,706.3 783.4,706.3 783.6,706.8 783.9,707.0 784.1,706.0 784.4,706.6 784.6,706.1 784.8,706.1 785.1,706.9 785.3,706.5 785.6,706.8 785.8,707.0 786.0,706.8 786.3,706.1 786.5,707.1 786.7,706.4 787.0,706.5 787.2,706.8 787.5,706.5 787.7,706.5 787.9,706.9 788.2,706.3 788.4,706.2 788.7,707.0 788.9,706.7 789.1,706.6 789.4,706.4 789.6,706.0 789.9,706.0 790.1,706.9 790.3,707.2 790.6,707.0 790.8,706.4 791.0,706.5 791.3,705.9 791.5,705.9 791.8,706.4 792.0,706.6 792.2,706.9 792.5,706.4 792.7,706.6 793.0,706.9" fill="none" stroke="#4f7db3" stroke-width="1.0" stroke-opacity="0.8" stroke-linejoin="round"/>
<rect x="77.90" y="670.00" width="713.90" height="73.10" fill="none" stroke="#fff" stroke-width="0.8" stroke-opacity="0.8"/>
<rect x="76.60" y="668.70" width="716.50" height="75.70" fill="none" stroke="#555" stroke-width="1.4"/>
<text transform="translate(76.20,764.86) scale(1.09,1)" font-size="18.5" text-anchor="middle">0</text>
<text transform="translate(147.90,764.86) scale(1.09,1)" font-size="18.5" text-anchor="middle">1</text>
<text transform="translate(219.60,764.86) scale(1.09,1)" font-size="18.5" text-anchor="middle">2</text>
<text transform="translate(291.30,764.86) scale(1.09,1)" font-size="18.5" text-anchor="middle">3</text>
<text transform="translate(363.00,764.86) scale(1.09,1)" font-size="18.5" text-anchor="middle">4</text>
<text transform="translate(434.70,764.86) scale(1.09,1)" font-size="18.5" text-anchor="middle">5</text>
<text transform="translate(506.40,764.86) scale(1.09,1)" font-size="18.5" text-anchor="middle">6</text>
<text transform="translate(578.10,764.86) scale(1.09,1)" font-size="18.5" text-anchor="middle">7</text>
<text transform="translate(649.80,764.86) scale(1.09,1)" font-size="18.5" text-anchor="middle">8</text>
<text transform="translate(721.50,764.86) scale(1.09,1)" font-size="18.5" text-anchor="middle">9</text>
<text transform="translate(793.20,764.86) scale(1.09,1)" font-size="18.5" text-anchor="middle">10</text>
<text transform="translate(72.95,677.26) scale(1.09,1)" font-size="18.5" text-anchor="end">500</text>
<text transform="translate(72.95,713.76) scale(1.09,1)" font-size="18.5" text-anchor="end">0</text>
<text transform="translate(72.95,752.16) scale(1.09,1)" font-size="18.5" text-anchor="end">-500</text>
<text transform="translate(20.80,709.40) rotate(-90)" font-size="19.8" text-anchor="middle">Amp (m/s<tspan dy="-7.5" font-size="11.5">2</tspan><tspan dy="7.5">)</tspan></text>
<text transform="translate(107.27,636.30) scale(1.0453,1)" font-size="19.5" text-anchor="start">Vibration signal of rockfall on the protective net (Sensor D,  x direction, 5000kj)</text>
<rect x="75.90" y="830.60" width="716.60" height="75.30" fill="url(#bg)"/>
<line x1="147.03" y1="831.60" x2="147.03" y2="904.90" class="g"/>
<line x1="218.76" y1="831.60" x2="218.76" y2="904.90" class="g"/>
<line x1="290.49" y1="831.60" x2="290.49" y2="904.90" class="g"/>
<line x1="362.22" y1="831.60" x2="362.22" y2="904.90" class="g"/>
<line x1="433.95" y1="831.60" x2="433.95" y2="904.90" class="g"/>
<line x1="505.68" y1="831.60" x2="505.68" y2="904.90" class="g"/>
<line x1="577.41" y1="831.60" x2="577.41" y2="904.90" class="g"/>
<line x1="649.14" y1="831.60" x2="649.14" y2="904.90" class="g"/>
<line x1="720.87" y1="831.60" x2="720.87" y2="904.90" class="g"/>
<line x1="76.90" y1="868.25" x2="791.50" y2="868.25" class="g"/>
<polyline points="76.1,870.0 76.3,870.0 76.6,870.0 76.8,869.9 77.1,869.9 77.3,869.9 77.6,869.9 77.9,870.0 78.1,870.0 78.4,869.9 78.6,869.8 78.9,869.7 79.1,869.8 79.4,870.0 79.7,870.0 79.9,869.9 80.2,869.8 80.4,869.8 80.7,869.9 80.9,870.0 81.2,869.9 81.4,869.8 81.7,869.9 82.0,870.0 82.2,870.0 82.5,870.0 82.7,869.9 83.0,869.9 83.2,869.9 83.5,870.0 83.8,869.9 84.0,869.9 84.3,869.8 84.5,869.8 84.8,869.9 85.0,869.9 85.3,870.0 85.5,870.0 85.8,869.9 86.1,869.9 86.3,869.8 86.6,869.8 86.8,869.9 87.1,870.0 87.3,870.0 87.6,870.0 87.9,869.9 88.1,869.9 88.4,869.8 88.6,869.8 88.9,869.8 89.1,869.8 89.4,869.9 89.6,869.9 89.9,870.0 90.2,870.1 90.4,870.1 90.7,870.0 90.9,869.8 91.2,869.7 91.4,869.8 91.7,869.9 92.0,869.9 92.2,869.9 92.5,869.9 92.7,869.9 93.0,870.0 93.2,870.0 93.5,870.0 93.7,870.0 94.0,869.9 94.3,869.9 94.5,869.9 94.8,869.9 95.0,869.9 95.3,869.9 95.5,869.9 95.8,869.8 96.1,869.8 96.3,869.8 96.6,869.9 96.8,869.8 97.1,869.8 97.3,869.9 97.6,870.0 97.8,870.1 98.1,870.1 98.4,870.0 98.6,869.9 98.9,869.8 99.1,869.8 99.4,869.8 99.6,869.8 99.9,869.9 100.1,870.0 100.4,870.0 100.7,870.0 100.9,869.9 101.2,869.8 101.4,869.9 101.7,870.0 101.9,870.0 102.2,869.9 102.5,869.8 102.7,869.8 103.0,869.9 103.2,870.0 103.5,870.0 103.7,870.0 104.0,869.9 104.2,869.8 104.5,869.9 104.8,869.9 105.0,870.0 105.3,870.0 105.5,869.9 105.8,869.8 106.0,869.8 106.3,869.8 106.6,869.9 106.8,870.0 107.1,870.0 107.3,870.0 107.6,869.9 107.8,869.9 108.1,869.9 108.3,869.9 108.6,869.9 108.9,869.9 109.1,869.9 109.4,869.9 109.6,869.9 109.9,869.8 110.1,869.8 110.4,869.9 110.7,870.0 110.9,870.0 111.2,870.0 111.4,870.0 111.7,869.9 111.9,869.8 112.2,869.8 112.4,869.8 112.7,869.9 113.0,870.0 113.2,870.0 113.5,869.9 113.7,869.8 114.0,869.8 114.2,869.9 114.5,869.9 114.8,869.9 115.0,869.9 115.3,869.9 115.5,869.9 115.8,869.9 116.0,869.9 116.3,870.0 116.5,870.0 116.8,869.9 117.1,869.8 117.3,869.7 117.6,869.7 117.8,870.0 118.1,870.1 118.3,870.0 118.6,869.9 118.9,869.8 119.1,869.8 119.4,870.0 119.6,870.0 119.9,870.0 120.1,870.0 120.4,870.0 120.6,869.9 120.9,869.8 121.2,869.8 121.4,869.8 121.7,869.9 121.9,870.0 122.2,869.9 122.4,869.8 122.7,869.8 122.9,869.8 123.2,869.9 123.5,870.0 123.7,870.0 124.0,869.9 124.2,869.8 124.5,869.9 124.7,870.0 125.0,870.1 125.3,870.0 125.5,869.9 125.8,869.9 126.0,869.9 126.3,869.9 126.5,869.9 126.8,869.8 127.0,869.8 127.3,869.9 127.6,869.9 127.8,869.9 128.1,869.9 128.3,869.9 128.6,869.9 128.8,869.9 129.1,869.9 129.4,870.0 129.6,870.0 129.9,870.0 130.1,869.9 130.4,869.8 130.6,869.9 130.9,870.0 131.1,870.0 131.4,869.9 131.7,869.8 131.9,869.8 132.2,869.9 132.4,869.9 132.7,869.8 132.9,869.7 133.2,869.7 133.5,869.8 133.7,870.0 134.0,870.1 134.2,870.0 134.5,870.0 134.7,870.0 135.0,870.0 135.2,870.0 135.5,869.9 135.8,869.9 136.0,869.9 136.3,869.9 136.5,870.0 136.8,870.0 137.0,869.9 137.3,869.7 137.6,869.7 137.8,869.8 138.1,870.0 138.3,870.1 138.6,870.0 138.8,869.8 139.1,869.8 139.3,870.0 139.6,870.1 139.9,870.0 140.1,869.9 140.4,869.8 140.6,869.9 140.9,870.0 141.1,869.9 141.4,869.8 141.7,869.8 141.9,869.8 142.2,869.9 142.4,869.9 142.7,869.9 142.9,869.9 143.2,870.0 143.4,870.0 143.7,869.9 144.0,869.8 144.2,869.9 144.5,870.0 144.7,870.1 145.0,869.9 145.2,869.8 145.5,869.8 145.7,869.9 146.0,870.1 146.3,870.0 146.5,869.9 146.8,869.8 147.0,869.8 147.3,869.8 147.5,869.9 147.8,869.9 148.1,869.9 148.3,869.8 148.6,869.8 148.8,870.0 149.1,870.1 149.3,870.1 149.6,870.0 149.8,869.8 150.1,869.7 150.4,869.7 150.6,869.8 150.9,869.9 151.1,870.0 151.4,870.0 151.6,870.0 151.9,869.9 152.2,869.8 152.4,869.8 152.7,869.9 152.9,869.9 153.2,869.9 153.4,869.9 153.7,869.9 153.9,869.9 154.2,870.0 154.5,870.0 154.7,869.9 155.0,869.9 155.2,869.9 155.5,870.0 155.7,869.9 156.0,869.8 156.3,869.7 156.5,869.8 156.8,869.9 157.0,870.1 157.3,870.1 157.5,870.1 157.8,870.0 158.0,869.8 158.3,869.7 158.6,869.7 158.8,869.8 159.1,869.9 159.3,869.9 159.6,869.9 159.8,869.9 160.1,869.9 160.4,869.9 160.6,870.1 160.9,870.1 161.1,870.1 161.4,869.9 161.6,869.7 161.9,869.8 162.1,869.9 162.4,870.1 162.7,870.0 162.9,869.9 163.2,869.8 163.4,869.8 163.7,869.8 163.9,869.9 164.2,869.9 164.5,869.9 164.7,869.9 165.0,869.9 165.2,870.0 165.5,870.0 165.7,870.0 166.0,870.0 166.2,869.8 166.5,869.8 166.8,869.8 167.0,870.0 167.3,870.0 167.5,869.9 167.8,869.8 168.0,869.8 168.3,869.9 168.5,870.0 168.8,870.0 169.1,869.9 169.3,869.9 169.6,869.9 169.8,869.9 170.1,869.9 170.3,869.8 170.6,869.9 170.9,869.9 171.1,870.0 171.4,869.9 171.6,869.8 171.9,869.8 172.1,869.9 172.4,869.9 172.6,870.0 172.9,870.0 173.2,870.0 173.4,870.0 173.7,869.9 173.9,869.9 174.2,869.9 174.4,870.0 174.7,870.0 175.0,869.8 175.2,869.8 175.5,869.8 175.7,870.0 176.0,870.0 176.2,869.9 176.5,869.7 176.7,869.7 177.0,869.9 177.3,870.0 177.5,870.0 177.8,869.9 178.0,869.9 178.3,869.9 178.5,870.0 178.8,869.9 179.1,870.0 179.3,870.0 179.6,870.0 179.8,870.0 180.1,869.8 180.3,869.7 180.6,869.7 180.8,869.8 181.1,869.9 181.4,870.0 181.6,870.0 181.9,870.0 182.1,869.9 182.4,869.9 182.6,869.8 182.9,869.8 183.2,869.8 183.4,869.8 183.7,869.9 183.9,869.9 184.2,870.0 184.4,870.0 184.7,870.0 184.9,870.1 185.2,870.1 185.5,870.0 185.7,869.8 186.0,869.7 186.2,869.7 186.5,869.8 186.7,869.9 187.0,870.0 187.3,869.9 187.5,869.8 187.8,869.8 188.0,869.9 188.3,869.9 188.5,870.0 188.8,870.0 189.0,870.0 189.3,869.9 189.6,869.9 189.8,869.9 190.1,869.9 190.3,869.9 190.6,869.9 190.8,869.9 191.1,870.0 191.3,870.0 191.6,870.0 191.9,869.9 192.1,869.8 192.4,869.8 192.6,869.8 192.9,869.8 193.1,869.8 193.4,869.9 193.7,870.0 193.9,870.0 194.2,870.0 194.4,869.9 194.7,869.9 194.9,870.0 195.2,870.0 195.4,870.0 195.7,869.8 196.0,869.8 196.2,869.9 196.5,870.0 196.7,870.0 197.0,869.9 197.2,869.8 197.5,869.8 197.8,869.8 198.0,869.9 198.3,869.9 198.5,869.9 198.8,869.9 199.0,869.9 199.3,869.9 199.5,869.9 199.8,869.8 200.1,869.8 200.3,869.8 200.6,869.9 200.8,869.9 201.1,869.9 201.3,870.0 201.6,870.1 201.9,870.1 202.1,870.1 202.4,869.9 202.6,869.8 202.9,869.7 203.1,869.8 203.4,869.9 203.6,869.9 203.9,869.9 204.2,869.9 204.4,869.8 204.7,869.7 204.9,869.7 205.2,869.9 205.4,870.0 205.7,870.1 206.0,870.1 206.2,870.1 206.5,870.0 206.7,869.9 207.0,869.9 207.2,869.9 207.5,869.8 207.7,869.8 208.0,869.8 208.3,869.8 208.5,869.9 208.8,869.9 209.0,869.9 209.3,869.9 209.5,869.9 209.8,869.9 210.0,869.9 210.3,870.0 210.6,870.0 210.8,870.0 211.1,870.4 211.3,870.9 211.6,871.5 211.8,872.1 212.1,872.7 212.4,873.4 212.6,874.1 212.9,874.7 213.1,875.2 213.4,875.7 213.6,876.3 213.9,876.9 214.1,877.5 214.4,878.1 214.7,877.3 214.9,876.2 215.2,875.0 215.4,873.7 215.7,872.5 215.9,870.0 216.2,870.9 216.5,884.1 216.7,883.0 217.0,861.6 217.2,851.4 217.5,869.4 217.7,893.4 218.0,893.5 218.2,865.9 218.5,837.7 218.8,839.1 219.0,864.2 219.3,883.4 219.5,883.2 219.8,872.5 220.0,864.1 220.3,858.1 220.6,849.9 220.8,845.9 221.1,859.1 221.3,884.9 221.6,898.0 221.8,891.2 222.1,864.5 222.3,847.1 222.6,855.9 222.9,877.4 223.1,888.5 223.4,881.0 223.6,862.5 223.9,844.6 224.1,836.5 224.4,842.1 224.7,861.3 224.9,883.3 225.2,893.7 225.4,885.5 225.7,868.3 225.9,859.4 226.2,866.1 226.4,875.2 226.7,873.0 227.0,859.9 227.2,849.4 227.5,851.7 227.7,864.0 228.0,877.0 228.2,886.2 228.5,889.8 228.8,885.0 229.0,871.0 229.3,853.6 229.5,845.4 229.8,851.0 230.0,861.4 230.3,863.9 230.5,856.4 230.8,848.0 231.1,849.6 231.3,864.6 231.6,886.6 231.8,897.4 232.1,897.4 232.3,892.8 232.6,859.2 232.8,835.0 233.1,835.1 233.4,862.8 233.6,885.5 233.9,882.5 234.1,859.7 234.4,843.1 234.6,850.8 234.9,871.0 235.2,879.5 235.4,869.4 235.7,852.3 235.9,847.0 236.2,858.4 236.4,876.0 236.7,887.4 236.9,886.7 237.2,875.6 237.5,862.9 237.7,861.2 238.0,874.7 238.2,890.0 238.5,886.7 238.7,858.0 239.0,834.7 239.3,834.6 239.5,847.1 239.8,885.0 240.0,896.9 240.3,884.0 240.5,863.1 240.8,859.0 241.0,869.9 241.3,874.9 241.6,863.9 241.8,847.7 242.1,846.7 242.3,864.0 242.6,881.9 242.8,885.5 243.1,874.8 243.4,862.9 243.6,862.3 243.9,872.5 244.1,881.5 244.4,877.8 244.6,859.6 244.9,837.1 245.1,834.3 245.4,846.3 245.7,874.9 245.9,889.5 246.2,886.6 246.4,873.6 246.7,864.3 246.9,863.3 247.2,864.2 247.5,866.3 247.7,871.4 248.0,872.2 248.2,868.9 248.5,865.5 248.7,864.1 249.0,864.2 249.2,866.4 249.5,876.6 249.8,879.9 250.0,872.7 250.3,864.3 250.5,862.4 250.8,864.0 251.0,868.8 251.3,871.7 251.6,866.0 251.8,864.6 252.1,866.2 252.3,876.7 252.6,879.4 252.8,869.2 253.1,863.0 253.3,862.1 253.6,863.7 253.9,866.0 254.1,867.5 254.4,866.5 254.6,870.0 254.9,875.2 255.1,874.5 255.4,867.5 255.6,859.0 255.9,854.8 256.2,860.3 256.4,866.8 256.7,867.7 256.9,867.0 257.2,866.1 257.4,865.5 257.7,865.5 258.0,865.0 258.2,864.2 258.5,863.5 258.7,862.5 259.0,861.1 259.2,861.6 259.5,865.9 259.7,867.9 260.0,869.0 260.3,868.2 260.5,865.8 260.8,858.0 261.0,854.2 261.3,854.8 261.5,858.3 261.8,863.8 262.1,866.9 262.3,868.1 262.6,867.8 262.8,866.4 263.1,864.5 263.3,864.2 263.6,865.5 263.8,865.1 264.1,862.1 264.4,861.5 264.6,865.7 264.9,867.7 265.1,868.0 265.4,865.8 265.6,855.7 265.9,853.1 266.2,856.3 266.4,865.4 266.7,866.7 266.9,866.4 267.2,862.1 267.4,860.2 267.7,864.7 267.9,874.1 268.2,883.4 268.5,885.2 268.7,882.1 269.0,876.2 269.2,867.3 269.5,861.8 269.7,861.2 270.0,868.2 270.3,884.0 270.5,886.6 270.8,867.9 271.0,853.7 271.3,853.6 271.5,853.6 271.8,866.6 272.0,880.7 272.3,875.4 272.6,864.7 272.8,864.3 273.1,877.6 273.3,891.4 273.6,891.4 273.8,883.3 274.1,866.4 274.4,863.3 274.6,869.5 274.9,878.0 275.1,870.9 275.4,856.5 275.6,852.9 275.9,852.8 276.1,865.7 276.4,885.3 276.7,880.2 276.9,861.3 277.2,853.7 277.4,861.3 277.7,880.1 277.9,884.8 278.2,867.7 278.4,859.4 278.7,868.1 279.0,890.5 279.2,890.4 279.5,880.7 279.7,852.1 280.0,852.1 280.2,855.4 280.5,875.0 280.8,881.6 281.0,868.8 281.3,861.6 281.5,864.0 281.8,870.0 282.0,865.9 282.3,859.0 282.5,857.1 282.8,863.1 283.1,870.6 283.3,870.9 283.6,867.8 283.8,863.8 284.1,863.1 284.3,865.6 284.6,867.8 284.9,868.7 285.1,868.5 285.4,867.4 285.6,865.8 285.9,863.6 286.1,861.8 286.4,859.7 286.6,857.2 286.9,856.7 287.2,862.5 287.4,872.6 287.7,873.4 287.9,873.4 288.2,869.2 288.4,853.8 288.7,853.7 289.0,853.7 289.2,854.1 289.5,867.0 289.7,873.1 290.0,872.4 290.2,871.6 290.5,870.0 290.7,865.6 291.0,856.8 291.3,854.2 291.5,859.1 291.8,864.9 292.0,865.4 292.3,863.0 292.5,860.0 292.8,860.7 293.1,864.9 293.3,867.2 293.6,868.6 293.8,868.5 294.1,866.7 294.3,861.1 294.6,855.9 294.8,854.7 295.1,855.5 295.4,856.8 295.6,860.8 295.9,867.6 296.1,871.5 296.4,872.7 296.6,870.0 296.9,865.2 297.2,863.7 297.4,869.1 297.7,872.3 297.9,870.3 298.2,859.6 298.4,849.7 298.7,849.8 298.9,858.1 299.2,865.3 299.5,866.1 299.7,866.9 300.0,869.5 300.2,872.1 300.5,872.4 300.7,870.4 301.0,868.3 301.2,865.6 301.5,862.1 301.8,856.0 302.0,851.2 302.3,855.2 302.5,867.4 302.8,879.9 303.0,885.4 303.3,888.0 303.6,886.2 303.8,873.8 304.1,863.3 304.3,856.8 304.6,855.4 304.8,858.6 305.1,862.8 305.3,865.0 305.6,866.3 305.9,870.2 306.1,877.8 306.4,882.3 306.6,879.2 306.9,871.7 307.1,866.7 307.4,865.6 307.7,865.1 307.9,864.0 308.2,863.7 308.4,866.5 308.7,874.8 308.9,883.5 309.2,884.6 309.4,874.9 309.7,862.2 310.0,855.0 310.2,855.0 310.5,864.5 310.7,881.0 311.0,889.0 311.2,885.3 311.5,874.0 311.8,866.0 312.0,862.5 312.3,860.4 312.5,860.7 312.8,864.9 313.0,870.3 313.3,868.4 313.5,859.5 313.8,850.2 314.1,866.5 314.3,886.0 314.6,886.0 314.8,880.3 315.1,841.6 315.3,836.5 315.6,865.9 315.9,886.0 316.1,886.0 316.4,872.5 316.6,850.4 316.9,850.4 317.1,856.3 317.4,847.1 317.6,836.5 317.9,842.0 318.2,867.4 318.4,874.3 318.7,863.8 318.9,853.3 319.2,866.9 319.4,884.9 319.7,884.9 320.0,884.9 320.2,874.3 320.5,853.1 320.7,850.9 321.0,850.9 321.2,853.5 321.5,861.4 321.7,871.9 322.0,878.6 322.3,875.9 322.5,866.6 322.8,859.6 323.0,860.4 323.3,866.5 323.5,873.0 323.8,877.8 324.0,878.5 324.3,872.1 324.6,860.9 324.8,854.8 325.1,860.8 325.3,871.6 325.6,874.0 325.8,867.4 326.1,865.3 326.4,875.9 326.6,884.9 326.9,880.7 327.1,859.2 327.4,850.9 327.6,857.0 327.9,875.7 328.1,877.3 328.4,861.1 328.7,851.9 328.9,865.4 329.2,884.2 329.4,883.6 329.7,864.1 329.9,850.9 330.2,857.4 330.5,872.1 330.7,875.3 331.0,871.1 331.2,875.7 331.5,884.9 331.7,884.5 332.0,858.0 332.2,850.9 332.5,850.9 332.8,873.8 333.0,884.9 333.3,884.9 333.5,860.4 333.8,854.9 334.0,873.2 334.3,884.8 334.6,870.7 334.8,850.9 335.1,850.9 335.3,869.0 335.6,884.5 335.8,875.7 336.1,857.0 336.3,855.5 336.6,873.7 336.9,884.9 337.1,879.6 337.4,861.7 337.6,856.2 337.9,868.4 338.1,880.4 338.4,877.3 338.7,862.4 338.9,850.9 339.2,851.9 339.4,860.7 339.7,868.9 339.9,874.5 340.2,880.1 340.4,884.9 340.7,884.5 341.0,875.7 341.2,852.0 341.5,836.5 341.7,836.5 342.0,850.1 342.2,876.3 342.5,888.3 342.8,885.9 343.0,879.3 343.3,877.9 343.5,878.6 343.8,871.9 344.0,854.5 344.3,840.4 344.5,844.0 344.8,862.2 345.1,876.8 345.3,879.5 345.6,874.2 345.8,868.6 346.1,864.8 346.3,862.9 346.6,865.7 346.8,874.8 347.1,884.6 347.4,884.5 347.6,871.7 347.9,856.8 348.1,857.0 348.4,869.8 348.6,874.5 348.9,863.9 349.2,856.4 349.4,859.2 349.7,864.2 349.9,873.1 350.2,877.9 350.4,873.9 350.7,869.9 350.9,871.8 351.2,876.2 351.5,876.7 351.7,873.1 352.0,871.5 352.2,875.4 352.5,879.6 352.7,875.4 353.0,865.2 353.3,859.2 353.5,859.2 353.8,861.2 354.0,864.0 354.3,862.6 354.5,861.1 354.8,866.6 355.0,887.0 355.3,887.0 355.6,887.0 355.8,878.2 356.1,861.4 356.3,859.2 356.6,860.9 356.8,862.4 357.1,863.0 357.4,868.8 357.6,894.1 357.9,898.5 358.1,883.4 358.4,836.0 358.6,836.0 358.9,866.9 359.1,899.4 359.4,893.1 359.7,836.1 359.9,836.1 360.2,836.1 360.4,889.0 360.7,899.4 360.9,899.4 361.2,878.2 361.5,860.7 361.7,861.5 362.0,862.8 362.2,861.2 362.5,867.5 362.7,880.2 363.0,883.3 363.2,871.4 363.5,861.0 363.8,866.6 364.0,876.2 364.3,867.6 364.5,841.3 364.8,836.3 365.0,836.3 365.3,853.5 365.6,870.8 365.8,885.7 366.1,899.4 366.3,899.4 366.6,899.4 366.8,883.0 367.1,836.4 367.3,836.4 367.6,839.0 367.9,857.8 368.1,854.3 368.4,848.2 368.6,859.7 368.9,878.7 369.1,884.9 369.4,877.0 369.6,870.7 369.9,872.8 370.2,877.4 370.4,873.3 370.7,863.0 370.9,857.8 371.2,861.7 371.4,867.3 371.7,866.5 372.0,862.7 372.2,864.7 372.5,873.6 372.7,879.4 373.0,875.7 373.2,870.6 373.5,873.2 373.7,879.1 374.0,875.4 374.3,860.5 374.5,855.6 374.8,855.6 375.0,857.3 375.3,871.9 375.5,883.3 375.8,883.2 376.1,883.2 376.3,880.0 376.6,866.1 376.8,857.5 377.1,859.3 377.3,868.3 377.6,875.5 377.8,873.3 378.1,867.0 378.4,863.4 378.6,861.1 378.9,857.1 379.1,856.0 379.4,859.8 379.6,873.2 379.9,882.8 380.2,882.8 380.4,875.5 380.7,871.8 380.9,876.6 381.2,879.8 381.4,872.3 381.7,860.9 381.9,856.3 382.2,861.5 382.5,869.3 382.7,871.1 383.0,866.2 383.2,862.7 383.5,863.5 383.7,866.0 384.0,868.1 384.3,869.6 384.5,870.4 384.8,869.6 385.0,867.4 385.3,866.6 385.5,869.5 385.8,873.1 386.0,873.5 386.3,869.7 386.6,864.7 386.8,864.3 387.1,868.3 387.3,870.3 387.6,868.7 387.8,865.9 388.1,866.4 388.4,869.0 388.6,869.2 388.9,865.3 389.1,861.1 389.4,862.2 389.6,868.0 389.9,871.9 390.1,871.6 390.4,868.6 390.7,866.5 390.9,868.1 391.2,870.8 391.4,872.4 391.7,871.9 391.9,870.5 392.2,869.1 392.4,868.2 392.7,867.2 393.0,866.2 393.2,865.3 393.5,864.6 393.7,864.5 394.0,865.2 394.2,866.6 394.5,868.3 394.8,869.3 395.0,869.7 395.3,869.6 395.5,869.4 395.8,869.3 396.0,869.6 396.3,870.1 396.5,870.3 396.8,869.2 397.1,866.6 397.3,863.8 397.6,863.3 397.8,865.7 398.1,868.9 398.3,870.5 398.6,870.1 398.9,868.8 399.1,867.6 399.4,867.6 399.6,868.0 399.9,867.4 400.1,866.1 400.4,865.4 400.6,866.3 400.9,868.4 401.2,870.3 401.4,871.8 401.7,872.6 401.9,872.6 402.2,870.4 402.4,865.2 402.7,862.3 403.0,862.3 403.2,862.3 403.5,868.3 403.7,872.3 404.0,872.6 404.2,870.4 404.5,868.7 404.7,869.1 405.0,870.6 405.3,871.2 405.5,869.8 405.8,866.8 406.0,863.6 406.3,862.4 406.5,863.6 406.8,866.5 407.1,869.5 407.3,871.3 407.6,871.9 407.8,871.0 408.1,868.9 408.3,864.9 408.6,862.3 408.8,862.3 409.1,864.0 409.4,869.8 409.6,872.6 409.9,872.6 410.1,871.6 410.4,869.0 410.6,867.8 410.9,867.9 411.2,867.9 411.4,867.7 411.7,868.1 411.9,868.5 412.2,867.7 412.4,865.5 412.7,864.3 412.9,864.3 413.2,866.7 413.5,868.9 413.7,869.2 414.0,869.0 414.2,869.5 414.5,870.6 414.7,870.6 415.0,870.6 415.2,868.6 415.5,865.4 415.8,864.4 416.0,864.4 416.3,864.9 416.5,867.2 416.8,869.1 417.0,869.9 417.3,869.5 417.6,868.4 417.8,867.8 418.1,868.6 418.3,869.4 418.6,869.1 418.8,867.2 419.1,865.0 419.3,864.9 419.6,866.9 419.9,868.8 420.1,869.5 420.4,869.5 420.6,869.3 420.9,868.9 421.1,868.1 421.4,866.8 421.7,866.3 421.9,867.4 422.2,868.9 422.4,869.9 422.7,869.7 422.9,868.5 423.2,866.2 423.4,865.2 423.7,866.2 424.0,868.2 424.2,868.9 424.5,868.4 424.7,867.3 425.0,867.3 425.2,868.7 425.5,869.7 425.8,869.5 426.0,868.5 426.3,867.2 426.5,867.2 426.8,867.6 427.0,867.3 427.3,866.8 427.5,867.9 427.8,869.6 428.1,870.3 428.3,869.6 428.6,867.5 428.8,865.9 429.1,867.1 429.3,868.7 429.6,868.8 429.9,867.3 430.1,865.8 430.4,866.3 430.6,867.8 430.9,868.5 431.1,868.4 431.4,868.1 431.6,868.5 431.9,868.8 432.2,868.9 432.4,868.8 432.7,869.0 432.9,869.1 433.2,868.6 433.4,867.3 433.7,866.8 434.0,868.2 434.2,869.4 434.5,869.4 434.7,867.9 435.0,865.8 435.2,865.8 435.5,867.4 435.7,868.3 436.0,867.6 436.3,866.3 436.5,866.5 436.8,868.3 437.0,869.7 437.3,870.0 437.5,869.6 437.8,869.0 438.0,868.8 438.3,868.9 438.6,868.8 438.8,868.1 439.1,866.8 439.3,866.3 439.6,866.4 439.8,867.3 440.1,868.2 440.4,868.6 440.6,868.6 440.9,868.8 441.1,869.1 441.4,869.1 441.6,868.7 441.9,868.0 442.1,867.6 442.4,867.4 442.7,867.2 442.9,867.1 443.2,867.6 443.4,869.0 443.7,869.7 443.9,869.7 444.2,868.4 444.5,866.7 444.7,866.7 445.0,868.5 445.2,869.7 445.5,869.3 445.7,867.6 446.0,866.7 446.2,867.3 446.5,868.6 446.8,869.1 447.0,868.6 447.3,868.0 447.5,867.8 447.8,867.7 448.0,867.6 448.3,867.6 448.6,868.1 448.8,868.7 449.1,868.6 449.3,867.9 449.6,867.8 449.8,869.0 450.1,869.7 450.3,869.7 450.6,869.1 450.9,866.7 451.1,866.7 451.4,866.8 451.6,868.6 451.9,869.2 452.1,868.3 452.4,867.0 452.7,866.7 452.9,867.2 453.2,867.8 453.4,868.1 453.7,868.4 453.9,869.0 454.2,869.7 454.4,869.7 454.7,869.2 455.0,868.5 455.2,868.4 455.5,868.7 455.7,868.6 456.0,867.5 456.2,866.7 456.5,866.7 456.7,867.5 457.0,868.8 457.3,869.2 457.5,868.8 457.8,868.2 458.0,868.1 458.3,868.2 458.5,867.9 458.8,867.6 459.1,867.8 459.3,868.7 459.6,869.2 459.8,868.9 460.1,867.9 460.3,867.3 460.6,867.6 460.8,868.4 461.1,868.9 461.4,869.0 461.6,868.8 461.9,868.5 462.1,868.1 462.4,868.0 462.6,868.3 462.9,868.7 463.2,868.4 463.4,867.3 463.7,866.7 463.9,866.7 464.2,868.1 464.4,869.1 464.7,869.0 464.9,868.2 465.2,867.9 465.5,868.6 465.7,869.2 466.0,868.9 466.2,867.9 466.5,867.5 466.7,868.3 467.0,869.3 467.3,869.6 467.5,868.9 467.8,867.9 468.0,867.3 468.3,867.1 468.5,867.3 468.8,867.6 469.0,868.1 469.3,868.4 469.6,868.4 469.8,868.1 470.1,867.9 470.3,868.1 470.6,868.3 470.8,868.4 471.1,868.3 471.4,868.4 471.6,868.8 471.9,869.1 472.1,869.0 472.4,868.6 472.6,868.1 472.9,868.0 473.1,868.4 473.4,868.6 473.7,868.4 473.9,867.6 474.2,866.7 474.4,866.7 474.7,867.6 474.9,868.8 475.2,869.1 475.5,868.4 475.7,867.5 476.0,867.4 476.2,868.3 476.5,869.1 476.7,869.2 477.0,868.9 477.2,868.9 477.5,869.2 477.8,869.1 478.0,868.2 478.3,866.8 478.5,866.7 478.8,866.8 479.0,867.9 479.3,868.6 479.5,869.0 479.8,869.1 480.1,869.1 480.3,868.8 480.6,868.2 480.8,867.6 481.1,867.2 481.3,867.2 481.6,867.4 481.9,867.9 482.1,868.4 482.4,868.9 482.6,869.2 482.9,869.1 483.1,868.8 483.4,868.5 483.6,868.2 483.9,867.8 484.2,867.7 484.4,868.0 484.7,868.6 484.9,868.8 485.2,868.5 485.4,867.8 485.7,867.3 486.0,867.5 486.2,868.0 486.5,868.4 486.7,868.5 487.0,868.4 487.2,868.0 487.5,867.7 487.7,867.7 488.0,868.2 488.3,869.1 488.5,869.6 488.8,869.4 489.0,868.4 489.3,867.5 489.5,867.5 489.8,868.2 490.1,868.9 490.3,868.7 490.6,867.7 490.8,866.8 491.1,866.8 491.3,868.0 491.6,869.2 491.8,869.5 492.1,868.7 492.4,867.5 492.6,867.1 492.9,867.6 493.1,868.6 493.4,869.1 493.6,868.9 493.9,868.4 494.2,868.1 494.4,868.3 494.7,868.6 494.9,868.5 495.2,867.9 495.4,867.4 495.7,867.5 495.9,868.4 496.2,869.2 496.5,869.2 496.7,868.2 497.0,867.1 497.2,867.2 497.5,868.1 497.7,868.8 498.0,868.6 498.3,868.1 498.5,868.1 498.8,868.5 499.0,868.5 499.3,867.7 499.5,867.2 499.8,868.1 500.0,869.6 500.3,869.6 500.6,868.9 500.8,866.9 501.1,866.8 501.3,866.8 501.6,868.3 501.8,869.4 502.1,869.6 502.3,869.6 502.6,869.4 502.9,867.6 503.1,866.8 503.4,866.8 503.6,866.9 503.9,869.3 504.1,869.6 504.4,869.6 504.7,868.6 504.9,868.0 505.2,867.8 505.4,867.4 505.7,867.1 505.9,867.7 506.2,868.9 506.4,869.5 506.7,869.0 507.0,868.0 507.2,867.9 507.5,868.5 507.7,868.7 508.0,867.8 508.2,866.8 508.5,867.0 508.8,868.4 509.0,869.5 509.3,869.5 509.5,868.7 509.8,868.0 510.0,867.7 510.3,867.5 510.5,867.2 510.8,867.3 511.1,868.2 511.3,869.1 511.6,869.2 511.8,868.6 512.1,868.3 512.3,868.6 512.6,869.1 512.9,868.9 513.1,867.8 513.4,866.9 513.6,867.0 513.9,867.9 514.1,868.7 514.4,868.8 514.6,868.3 514.9,867.9 515.2,868.0 515.4,868.4 515.7,868.5 515.9,868.3 516.2,868.2 516.4,868.6 516.7,869.2 517.0,869.1 517.2,868.1 517.5,866.9 517.7,866.8 518.0,867.1 518.2,867.9 518.5,868.2 518.7,868.4 519.0,869.1 519.3,869.6 519.5,869.6 519.8,868.9 520.0,867.3 520.3,866.9 520.5,867.9 520.8,868.7 521.1,868.5 521.3,867.6 521.6,867.2 521.8,867.6 522.1,867.8 522.3,867.4 522.6,867.3 522.8,868.4 523.1,869.6 523.4,869.6 523.6,869.1 523.9,868.0 524.1,868.0 524.4,868.5 524.6,868.4 524.9,867.5 525.1,867.3 525.4,868.3 525.7,869.2 525.9,868.9 526.2,867.5 526.4,866.8 526.7,867.7 526.9,868.7 527.2,868.5 527.5,867.2 527.7,866.8 528.0,868.1 528.2,869.6 528.5,869.6 528.7,869.5 529.0,868.0 529.2,867.2 529.5,867.2 529.8,867.5 530.0,868.0 530.3,868.8 530.5,869.3 530.8,868.7 531.0,867.2 531.3,866.8 531.6,867.2 531.8,869.4 532.1,869.6 532.3,869.3 532.6,866.9 532.8,866.8 533.1,866.9 533.3,868.9 533.6,869.5 533.9,869.3 534.1,868.6 534.4,868.4 534.6,868.5 534.9,868.1 535.1,867.5 535.4,867.4 535.7,868.1 535.9,868.7 536.2,868.5 536.4,868.0 536.7,868.1 536.9,868.7 537.2,868.9 537.4,867.9 537.7,866.8 538.0,866.8 538.2,868.1 538.5,869.5 538.7,869.4 539.0,868.4 539.2,867.9 539.5,868.8 539.8,869.5 540.0,869.4 540.3,867.9 540.5,866.8 540.8,867.2 541.0,868.1 541.3,868.2 541.5,867.5 541.8,867.2 542.1,867.9 542.3,868.6 542.6,868.7 542.8,868.5 543.1,868.9 543.3,869.5 543.6,869.3 543.9,868.0 544.1,866.9 544.4,866.9 544.6,868.3 544.9,869.3 545.1,868.9 545.4,868.0 545.6,867.8 545.9,868.3 546.2,868.6 546.4,868.1 546.7,867.6 546.9,868.1 547.2,869.0 547.4,869.1 547.7,868.1 547.9,867.1 548.2,867.3 548.5,868.2 548.7,868.7 549.0,868.2 549.2,867.6 549.5,867.8 549.7,868.7 550.0,869.3 550.3,869.0 550.5,868.3 550.8,867.9 551.0,868.2 551.3,868.7 551.5,868.9 551.8,868.8 552.0,868.3 552.3,867.8 552.6,867.4 552.8,867.4 553.1,867.5 553.3,867.6 553.6,867.5 553.8,867.5 554.1,867.9 554.4,868.7 554.6,869.3 554.9,869.4 555.1,869.1 555.4,868.8 555.6,868.8 555.9,868.9 556.1,868.8 556.4,868.3 556.7,867.6 556.9,867.1 557.2,867.1 557.4,867.6 557.7,868.1 557.9,868.3 558.2,868.1 558.5,867.8 558.7,867.6 559.0,867.7 559.2,868.2 559.5,868.8 559.7,869.4 560.0,869.5 560.2,869.1 560.5,868.2 560.8,867.5 561.0,867.4 561.3,868.0 561.5,868.6 561.8,868.9 562.0,868.9 562.3,868.7 562.6,868.4 562.8,867.6 563.1,866.9 563.3,866.9 563.6,867.0 563.8,868.4 564.1,869.3 564.3,869.5 564.6,869.0 564.9,868.6 565.1,868.3 565.4,868.0 565.6,867.5 565.9,867.3 566.1,867.8 566.4,868.9 566.7,869.5 566.9,869.5 567.2,869.2 567.4,868.0 567.7,867.0 567.9,866.9 568.2,867.2 568.4,867.9 568.7,868.3 569.0,868.2 569.2,867.9 569.5,867.8 569.7,868.0 570.0,868.5 570.2,868.9 570.5,869.3 570.7,869.4 571.0,869.0 571.3,868.4 571.5,867.7 571.8,867.5 572.0,867.6 572.3,867.8 572.5,867.8 572.8,868.0 573.1,868.3 573.3,868.6 573.6,868.5 573.8,868.0 574.1,867.7 574.3,868.2 574.6,869.0 574.8,869.3 575.1,868.7 575.4,868.0 575.6,867.6 575.9,867.9 576.1,868.2 576.4,868.1 576.6,867.7 576.9,867.4 577.2,867.7 577.4,868.4 577.7,869.0 577.9,869.4 578.2,869.2 578.4,868.6 578.7,868.0 578.9,867.9 579.2,868.2 579.5,868.4 579.7,868.2 580.0,867.7 580.2,867.5 580.5,867.7 580.7,868.2 581.0,868.5 581.3,868.5 581.5,868.4 581.8,868.2 582.0,868.0 582.3,868.1 582.5,868.4 582.8,868.8 583.0,868.8 583.3,868.3 583.6,867.9 583.8,868.0 584.1,868.6 584.3,869.0 584.6,868.8 584.8,868.1 585.1,867.7 585.4,867.7 585.6,867.8 585.9,867.5 586.1,867.2 586.4,867.3 586.6,868.1 586.9,868.8 587.1,869.1 587.4,869.0 587.7,868.8 587.9,868.9 588.2,868.9 588.4,868.7 588.7,868.3 588.9,867.9 589.2,867.8 589.5,867.8 589.7,867.7 590.0,867.5 590.2,867.4 590.5,867.7 590.7,868.2 591.0,868.6 591.2,868.9 591.5,868.9 591.8,868.6 592.0,868.1 592.3,867.8 592.5,867.8 592.8,868.3 593.0,868.7 593.3,868.9 593.5,868.7 593.8,868.4 594.1,868.4 594.3,868.7 594.6,868.7 594.8,868.2 595.1,867.3 595.3,866.9 595.6,866.9 595.9,867.0 596.1,867.6 596.4,868.3 596.6,869.1 596.9,869.5 597.1,869.5 597.4,869.2 597.6,868.6 597.9,868.4 598.2,868.5 598.4,868.4 598.7,867.7 598.9,867.0 599.2,867.2 599.4,868.1 599.7,868.7 600.0,868.4 600.2,867.6 600.5,867.1 600.7,867.4 601.0,868.2 601.2,868.9 601.5,869.2 601.7,869.2 602.0,868.9 602.3,868.6 602.5,868.5 602.8,868.7 603.0,868.6 603.3,868.1 603.5,867.2 603.8,867.0 604.1,867.1 604.3,867.8 604.6,868.4 604.8,868.5 605.1,868.8 605.3,869.2 605.6,869.1 605.8,868.4 606.1,867.6 606.4,867.8 606.6,868.6 606.9,868.8 607.1,867.9 607.4,867.0 607.6,867.6 607.9,869.3 608.2,869.4 608.4,868.8 608.7,867.0 608.9,867.0 609.2,867.1 609.4,869.1 609.7,869.4 609.9,869.1 610.2,868.4 610.5,868.5 610.7,868.6 611.0,868.2 611.2,867.6 611.5,867.8 611.7,868.9 612.0,869.4 612.3,868.7 612.5,867.1 612.8,867.0 613.0,867.0 613.3,868.2 613.5,869.2 613.8,869.0 614.0,868.1 614.3,867.6 614.6,868.0 614.8,869.0 615.1,869.4 615.3,869.2 615.6,868.2 615.8,867.6 616.1,868.0 616.3,868.7 616.6,868.6 616.9,867.7 617.1,867.0 617.4,867.5 617.6,868.7 617.9,869.0 618.1,868.0 618.4,867.0 618.7,867.1 618.9,868.3 619.2,869.2 619.4,869.1 619.7,868.5 619.9,868.4 620.2,868.7 620.4,868.7 620.7,868.1 621.0,867.4 621.2,867.4 621.5,868.2 621.7,869.0 622.0,869.3 622.2,869.0 622.5,868.6 622.8,868.1 623.0,867.6 623.3,867.1 623.5,867.0 623.8,867.0 624.0,867.5 624.3,868.3 624.5,869.1 624.8,869.4 625.1,869.4 625.3,868.7 625.6,868.3 625.8,868.3 626.1,868.5 626.3,868.3 626.6,867.8 626.9,867.7 627.1,868.2 627.4,868.6 627.6,868.4 627.9,867.8 628.1,867.5 628.4,868.2 628.6,868.9 628.9,868.6 629.2,867.5 629.4,867.0 629.7,867.0 629.9,868.4 630.2,869.4 630.4,869.4 630.7,869.4 631.0,868.9 631.2,868.4 631.5,867.9 631.7,867.5 632.0,867.1 632.2,867.0 632.5,867.1 632.7,867.9 633.0,868.9 633.3,869.4 633.5,869.3 633.8,868.5 634.0,868.0 634.3,868.3 634.5,868.7 634.8,868.5 635.1,867.4 635.3,867.0 635.6,867.2 635.8,868.9 636.1,869.4 636.3,869.4 636.6,868.1 636.8,867.0 637.1,867.0 637.4,867.4 637.6,869.3 637.9,869.4 638.1,869.3 638.4,867.7 638.6,867.0 638.9,867.7 639.1,869.0 639.4,869.4 639.7,868.9 639.9,868.0 640.2,867.7 640.4,868.3 640.7,868.7 640.9,868.3 641.2,867.4 641.5,867.0 641.7,867.3 642.0,867.8 642.2,868.1 642.5,868.3 642.7,868.6 643.0,869.2 643.2,869.4 643.5,869.2 643.8,868.5 644.0,867.7 644.3,867.2 644.5,867.5 644.8,868.4 645.0,869.4 645.3,869.4 645.6,868.8 645.8,867.7 646.1,867.4 646.3,867.7 646.6,867.8 646.8,867.2 647.1,867.0 647.3,867.4 647.6,868.7 647.9,869.4 648.1,869.0 648.4,868.1 648.6,868.1 648.9,869.3 649.1,869.4 649.4,869.4 649.7,867.9 649.9,867.0 650.2,867.0 650.4,867.6 650.7,868.8 650.9,869.0 651.2,868.5 651.4,868.0 651.7,867.9 652.0,868.0 652.2,868.0 652.5,867.9 652.7,867.9 653.0,868.3 653.2,868.7 653.5,869.1 653.8,869.0 654.0,868.5 654.3,868.0 654.5,867.9 654.8,868.3 655.0,868.5 655.3,868.3 655.5,867.8 655.8,867.6 656.1,867.8 656.3,868.3 656.6,868.7 656.8,869.0 657.1,869.0 657.3,868.5 657.6,867.7 657.9,867.2 658.1,867.5 658.4,868.2 658.6,868.6 658.9,868.3 659.1,867.9 659.4,868.0 659.6,868.6 659.9,869.0 660.2,868.7 660.4,868.2 660.7,868.0 660.9,868.5 661.2,868.9 661.4,868.9 661.7,868.3 661.9,867.8 662.2,867.7 662.5,867.8 662.7,867.8 663.0,867.7 663.2,867.6 663.5,867.9 663.7,868.4 664.0,868.8 664.3,868.8 664.5,868.5 664.8,868.2 665.0,868.3 665.3,868.7 665.5,869.0 665.8,868.7 666.0,868.0 666.3,867.5 666.6,867.6 666.8,868.1 667.1,868.3 667.3,868.3 667.6,868.3 667.8,868.4 668.1,868.4 668.4,868.1 668.6,867.9 668.9,868.2 669.1,868.5 669.4,868.3 669.6,867.6 669.9,867.2 670.1,867.6 670.4,868.6 670.7,869.1 670.9,869.0 671.2,869.0 671.4,869.4 671.7,869.4 671.9,868.6 672.2,867.1 672.5,867.1 672.7,867.2 673.0,868.3 673.2,868.4 673.5,867.6 673.7,867.1 674.0,867.6 674.2,868.4 674.5,868.6 674.8,868.3 675.0,868.7 675.3,869.4 675.5,869.4 675.8,869.4 676.0,868.3 676.3,867.1 676.6,867.1 676.8,867.1 677.1,867.3 677.3,867.7 677.6,868.3 677.8,868.8 678.1,868.7 678.3,868.3 678.6,868.2 678.9,868.7 679.1,869.2 679.4,868.8 679.6,867.8 679.9,867.3 680.1,867.8 680.4,868.5 680.6,868.3 680.9,867.4 681.2,867.1 681.4,867.7 681.7,869.2 681.9,869.3 682.2,869.3 682.4,869.1 682.7,868.1 683.0,867.4 683.2,867.4 683.5,867.8 683.7,868.3 684.0,868.4 684.2,867.8 684.5,867.1 684.7,867.1 685.0,867.3 685.3,868.2 685.5,869.0 685.8,869.3 686.0,869.3 686.3,869.3 686.5,868.6 686.8,867.9 687.1,867.7 687.3,868.5 687.6,869.3 687.8,869.3 688.1,868.7 688.3,867.1 688.6,867.1 688.8,867.1 689.1,867.1 689.4,868.0 689.6,868.6 689.9,868.9 690.1,869.1 690.4,869.2 690.6,869.0 690.9,868.7 691.2,868.4 691.4,868.3 691.7,868.5 691.9,868.8 692.2,868.7 692.4,868.2 692.7,867.6 692.9,867.3 693.2,867.5 693.5,867.8 693.7,867.8 694.0,867.7 694.2,867.9 694.5,868.7 694.7,869.3 695.0,869.3 695.3,869.1 695.5,867.9 695.8,867.2 696.0,867.3 696.3,867.8 696.5,868.1 696.8,868.1 697.0,868.0 697.3,868.1 697.6,868.4 697.8,868.8 698.1,869.0 698.3,869.0 698.6,868.8 698.8,868.2 699.1,867.7 699.4,867.5 699.6,867.8 699.9,868.3 700.1,868.4 700.4,868.1 700.6,867.6 700.9,867.8 701.1,868.5 701.4,869.0 701.7,869.0 701.9,868.6 702.2,868.2 702.4,868.0 702.7,867.9 702.9,867.7 703.2,867.6 703.4,868.0 703.7,868.8 704.0,869.3 704.2,868.8 704.5,867.9 704.7,867.5 705.0,867.9 705.2,868.5 705.5,868.7 705.8,868.3 706.0,868.1 706.3,868.3 706.5,868.5 706.8,868.4 707.0,867.9 707.3,867.6 707.5,867.7 707.8,868.1 708.1,868.3 708.3,868.5 708.6,868.8 708.8,868.8 709.1,868.4 709.3,867.7 709.6,867.5 709.9,868.0 710.1,868.7 710.4,869.0 710.6,868.6 710.9,868.3 711.1,868.5 711.4,868.7 711.6,868.5 711.9,867.8 712.2,867.2 712.4,867.2 712.7,867.4 712.9,867.9 713.2,868.6 713.4,869.2 713.7,869.3 714.0,869.0 714.2,868.1 714.5,867.7 714.7,868.1 715.0,868.6 715.2,868.5 715.5,867.9 715.7,867.4 716.0,867.8 716.3,868.6 716.5,868.8 716.8,868.3 717.0,867.8 717.3,868.0 717.5,868.6 717.8,868.8 718.1,868.4 718.3,868.1 718.6,868.1 718.8,868.3 719.1,868.2 719.3,867.8 719.6,867.6 719.8,867.9 720.1,868.4 720.4,868.7 720.6,868.7 720.9,868.7 721.1,868.6 721.4,868.2 721.6,867.8 721.9,867.5 722.2,867.8 722.4,868.4 722.7,868.8 722.9,868.8 723.2,868.4 723.4,868.1 723.7,868.0 723.9,868.0 724.2,868.2 724.5,868.5 724.7,868.6 725.0,868.4 725.2,867.9 725.5,867.4 725.7,867.5 726.0,868.2 726.2,869.0 726.5,869.3 726.8,868.8 727.0,867.9 727.3,867.4 727.5,867.6 727.8,868.2 728.0,868.4 728.3,868.2 728.6,867.8 728.8,868.0 729.1,868.8 729.3,869.3 729.6,869.3 729.8,868.7 730.1,867.6 730.3,867.3 730.6,867.9 730.9,868.6 731.1,868.5 731.4,867.6 731.6,867.2 731.9,867.2 732.1,867.6 732.4,868.8 732.7,869.3 732.9,869.1 733.2,868.7 733.4,868.8 733.7,869.1 733.9,869.1 734.2,868.5 734.4,867.7 734.7,867.4 735.0,867.8 735.2,868.3 735.5,868.2 735.7,867.9 736.0,867.8 736.2,868.1 736.5,868.6 736.8,868.6 737.0,868.3 737.3,868.0 737.5,868.0 737.8,868.1 738.0,867.9 738.3,867.8 738.5,868.1 738.8,868.7 739.1,869.1 739.3,868.8 739.6,868.3 739.8,868.2 740.1,868.6 740.3,869.0 740.6,868.9 740.9,868.2 741.1,867.4 741.4,867.2 741.6,867.5 741.9,868.1 742.1,868.6 742.4,868.4 742.6,867.8 742.9,867.4 743.2,867.6 743.4,868.4 743.7,869.1 743.9,869.2 744.2,868.7 744.4,868.3 744.7,868.4 745.0,868.7 745.2,868.7 745.5,868.2 745.7,867.8 746.0,867.8 746.2,868.2 746.5,868.4 746.7,868.4 747.0,868.2 747.3,867.8 747.5,867.6 747.8,867.7 748.0,868.1 748.3,868.5 748.5,868.5 748.8,868.2 749.0,867.9 749.3,868.1 749.6,868.5 749.8,868.7 750.1,868.7 750.3,868.5 750.6,868.4 750.8,868.3 751.1,868.1 751.4,868.2 751.6,868.6 751.9,869.2 752.1,869.1 752.4,868.1 752.6,867.2 752.9,867.2 753.1,867.4 753.4,868.0 753.7,867.9 753.9,867.6 754.2,867.9 754.4,868.9 754.7,869.2 754.9,869.2 755.2,869.2 755.5,868.8 755.7,868.5 756.0,867.9 756.2,867.2 756.5,867.2 756.7,867.8 757.0,868.8 757.2,869.0 757.5,868.2 757.8,867.5 758.0,867.5 758.3,868.1 758.5,868.5 758.8,868.4 759.0,868.4 759.3,868.7 759.6,869.0 759.8,869.0 760.1,868.4 760.3,867.8 760.6,867.5 760.8,867.5 761.1,867.8 761.3,868.5 761.6,869.1 761.9,868.8 762.1,867.9 762.4,867.2 762.6,867.5 762.9,868.6 763.1,869.2 763.4,868.7 763.7,868.0 763.9,868.1 764.2,868.8 764.4,869.0 764.7,868.2 764.9,867.3 765.2,867.4 765.4,868.3 765.7,868.9 766.0,868.5 766.2,867.8 766.5,867.8 766.7,868.2 767.0,868.3 767.2,867.8 767.5,867.7 767.8,868.3 768.0,869.2 768.3,869.2 768.5,868.8 768.8,868.2 769.0,868.0 769.3,868.2 769.5,868.1 769.8,867.9 770.1,867.9 770.3,868.2 770.6,868.4 770.8,868.2 771.1,867.9 771.3,867.8 771.6,868.0 771.8,868.1 772.1,868.0 772.4,868.2 772.6,868.7 772.9,869.1 773.1,868.9 773.4,868.4 773.6,868.0 773.9,868.0 774.2,868.2 774.4,868.1 774.7,868.1 774.9,868.4 775.2,868.9 775.4,868.9 775.7,868.4 775.9,867.6 776.2,867.4 776.5,867.7 776.7,868.1 777.0,868.2 777.2,868.0 777.5,867.8 777.7,867.8 778.0,868.2 778.3,868.6 778.5,869.0 778.8,869.1 779.0,868.9 779.3,868.6 779.5,868.4 779.8,868.4 780.0,868.2 780.3,867.9 780.6,867.8 780.8,868.1 781.1,868.4 781.3,868.2 781.6,867.4 781.8,867.3 782.1,867.3 782.4,868.1 782.6,869.1 782.9,869.2 783.1,868.8 783.4,868.3 783.6,868.3 783.9,868.7 784.1,869.0 784.4,869.1 784.7,868.7 784.9,868.1 785.2,867.6 785.4,867.4 785.7,867.6 785.9,867.9 786.2,868.0 786.5,868.1 786.7,868.2 787.0,868.3 787.2,868.2 787.5,867.9 787.7,868.0 788.0,868.5 788.2,869.0 788.5,868.9 788.8,868.4 789.0,868.0 789.3,868.2 789.5,868.8 789.8,869.0 790.0,868.5 790.3,867.8 790.6,867.6 790.8,867.8 791.1,868.2 791.3,868.3 791.6,868.2 791.8,868.1 792.1,867.9 792.3,867.8" fill="none" stroke="#4f7db3" stroke-width="1.0" stroke-opacity="0.8" stroke-linejoin="round"/>
<rect x="77.20" y="831.90" width="714.00" height="72.70" fill="none" stroke="#fff" stroke-width="0.8" stroke-opacity="0.8"/>
<rect x="75.90" y="830.60" width="716.60" height="75.30" fill="none" stroke="#555" stroke-width="1.4"/>
<text transform="translate(75.30,924.96) scale(1.09,1)" font-size="18.5" text-anchor="middle">0</text>
<text transform="translate(147.03,924.96) scale(1.09,1)" font-size="18.5" text-anchor="middle">1</text>
<text transform="translate(218.76,924.96) scale(1.09,1)" font-size="18.5" text-anchor="middle">2</text>
<text transform="translate(290.49,924.96) scale(1.09,1)" font-size="18.5" text-anchor="middle">3</text>
<text transform="translate(362.22,924.96) scale(1.09,1)" font-size="18.5" text-anchor="middle">4</text>
<text transform="translate(433.95,924.96) scale(1.09,1)" font-size="18.5" text-anchor="middle">5</text>
<text transform="translate(505.68,924.96) scale(1.09,1)" font-size="18.5" text-anchor="middle">6</text>
<text transform="translate(577.41,924.96) scale(1.09,1)" font-size="18.5" text-anchor="middle">7</text>
<text transform="translate(649.14,924.96) scale(1.09,1)" font-size="18.5" text-anchor="middle">8</text>
<text transform="translate(720.87,924.96) scale(1.09,1)" font-size="18.5" text-anchor="middle">9</text>
<text transform="translate(792.60,924.96) scale(1.09,1)" font-size="18.5" text-anchor="middle">10</text>
<text transform="translate(71.85,836.36) scale(1.09,1)" font-size="18.5" text-anchor="end">500</text>
<text transform="translate(71.85,875.46) scale(1.09,1)" font-size="18.5" text-anchor="end">0</text>
<text transform="translate(71.85,912.56) scale(1.09,1)" font-size="18.5" text-anchor="end">-500</text>
<text transform="translate(25.10,868.80) rotate(-90)" font-size="19.8" text-anchor="middle">Amp (m/s<tspan dy="-7.5" font-size="11.5">2</tspan><tspan dy="7.5">)</tspan></text>
<text transform="translate(107.47,803.70) scale(1.0453,1)" font-size="19.5" text-anchor="start">Vibration signal of rockfall on the protective net (Sensor D,  y direction, 5000kj)</text>
<rect x="907.70" y="39.50" width="715.30" height="75.80" fill="url(#bg)"/>
<line x1="978.94" y1="40.50" x2="978.94" y2="114.30" class="g"/>
<line x1="1050.38" y1="40.50" x2="1050.38" y2="114.30" class="g"/>
<line x1="1121.82" y1="40.50" x2="1121.82" y2="114.30" class="g"/>
<line x1="1193.26" y1="40.50" x2="1193.26" y2="114.30" class="g"/>
<line x1="1264.70" y1="40.50" x2="1264.70" y2="114.30" class="g"/>
<line x1="1336.14" y1="40.50" x2="1336.14" y2="114.30" class="g"/>
<line x1="1407.58" y1="40.50" x2="1407.58" y2="114.30" class="g"/>
<line x1="1479.02" y1="40.50" x2="1479.02" y2="114.30" class="g"/>
<line x1="1550.46" y1="40.50" x2="1550.46" y2="114.30" class="g"/>
<line x1="908.70" y1="77.40" x2="1622.00" y2="77.40" class="g"/>
<polyline points="910.1,95.6 912.6,89.8 915.2,93.1 917.7,103.1 920.3,108.8 922.9,95.7 925.4,103.1 928.0,75.5 930.5,109.2 933.1,88.3 935.7,98.9 938.2,103.3 940.8,98.5 943.3,92.2 945.9,106.2 948.5,100.5 951.0,91.5 953.6,104.9 956.2,107.1 958.7,103.8 961.3,106.3 963.8,98.0 966.4,102.7 969.0,89.0 971.5,100.7 974.1,104.1 976.6,96.2 979.2,89.2 981.8,77.4 984.3,96.5 986.9,92.1 989.4,94.7 992.0,93.1 994.6,104.3 997.1,88.1 999.7,92.5 1002.2,79.3 1004.8,83.6 1007.4,102.6 1009.9,79.2 1012.5,103.4 1015.0,58.5 1017.6,47.1 1020.2,66.0 1022.7,84.0 1025.3,93.8 1027.8,102.0 1030.4,108.6 1033.0,85.6 1035.5,94.7 1038.1,77.5 1040.6,98.2 1043.2,90.3 1045.8,90.8 1048.3,107.4 1050.9,95.6 1053.5,85.4 1056.0,101.4 1058.6,92.3 1061.1,89.7 1063.7,104.4 1066.3,93.1 1068.8,113.2 1071.4,98.0 1073.9,104.0 1076.5,90.4 1079.1,101.7 1081.6,75.0 1084.2,100.0 1086.7,79.6 1089.3,103.7 1091.9,102.6 1094.4,104.5 1097.0,101.3 1099.5,106.7 1102.1,96.6 1104.7,99.8 1107.2,78.4 1109.8,87.5 1112.3,98.8 1114.9,100.3 1117.5,49.0 1120.0,66.0 1122.6,102.8 1125.1,90.9 1127.7,100.4 1130.3,83.0 1132.8,49.0 1135.4,60.3 1138.0,98.5 1140.5,103.5 1143.1,77.8 1145.6,85.6 1148.2,106.9 1150.8,86.9 1153.3,99.7 1155.9,100.2 1158.4,96.5 1161.0,103.8 1163.6,95.2 1166.1,98.0 1168.7,105.4 1171.2,54.7 1173.8,93.1 1176.4,101.2 1178.9,106.9 1181.5,82.1 1184.0,102.1 1186.6,61.3 1189.2,101.4 1191.7,98.3 1194.3,81.7 1196.8,93.8 1199.4,93.5 1202.0,76.3 1204.5,105.7 1207.1,88.4 1209.6,54.7 1212.2,64.1 1214.8,91.2 1217.3,102.4 1219.9,84.8 1222.5,94.9 1225.0,73.0 1227.6,87.1 1230.1,87.5 1232.7,102.4 1235.3,93.0 1237.8,90.9 1240.4,83.5 1242.9,106.3 1245.5,87.5 1248.1,88.6 1250.6,95.5 1253.2,82.0 1255.7,95.9 1258.3,89.8 1260.9,71.0 1263.4,90.6 1266.0,79.5 1268.5,87.8 1271.1,88.6 1273.7,98.2 1276.2,104.4 1278.8,81.0 1281.3,97.0 1283.9,94.7 1286.5,88.7 1289.0,81.1 1291.6,89.5 1294.1,89.7 1296.7,106.7 1299.3,75.5 1301.8,103.3 1304.4,82.7 1306.9,97.3 1309.5,100.1 1312.1,92.4 1314.6,104.1 1317.2,97.9 1319.8,104.1 1322.3,103.6 1324.9,95.1 1327.4,111.5 1330.0,80.2 1332.6,88.7 1335.1,97.1 1337.7,100.0 1340.2,101.9 1342.8,104.9 1345.4,106.9 1347.9,85.3 1350.5,102.7 1353.0,97.0 1355.6,107.4 1358.2,100.7 1360.7,99.0 1363.3,102.2 1365.8,108.6 1368.4,104.7 1371.0,108.7 1373.5,98.9 1376.1,91.3 1378.6,108.7 1381.2,104.9 1383.8,101.4 1386.3,99.1 1388.9,105.0 1391.4,107.2 1394.0,106.8 1396.6,103.3 1399.1,96.3 1401.7,105.1 1404.3,98.6 1406.8,102.6 1409.4,105.4 1411.9,106.7 1414.5,102.5 1417.1,103.3 1419.6,105.9 1422.2,108.1 1424.7,95.2 1427.3,104.4 1429.9,108.0 1432.4,105.0 1435.0,109.9 1437.5,109.8 1440.1,101.8 1442.7,102.8 1445.2,103.6 1447.8,101.2 1450.3,105.0 1452.9,113.6 1455.5,103.2 1458.0,112.2 1460.6,110.7 1463.1,100.3 1465.7,112.5 1468.3,112.3 1470.8,101.5 1473.4,111.8 1475.9,105.2 1478.5,103.0 1481.1,103.2 1483.6,105.9 1486.2,95.4 1488.8,109.3 1491.3,102.8 1493.9,113.6 1496.4,105.5 1499.0,109.6 1501.6,108.8 1504.1,103.1 1506.7,99.5 1509.2,104.2 1511.8,105.4 1514.4,108.5 1516.9,104.6 1519.5,107.7 1522.0,110.0 1524.6,108.3 1527.2,101.8 1529.7,107.8 1532.3,106.4 1534.8,101.1 1537.4,112.1 1540.0,108.6 1542.5,105.6 1545.1,102.3 1547.6,105.9 1550.2,102.6 1552.8,112.5 1555.3,108.2 1557.9,99.0 1560.4,107.0 1563.0,101.9 1565.6,99.5 1568.1,97.2 1570.7,96.6 1573.2,106.5 1575.8,98.6 1578.4,100.4 1580.9,108.5 1583.5,103.0 1586.1,105.2 1588.6,111.3 1591.2,113.1 1593.7,106.6 1596.3,106.0 1598.9,107.5 1601.4,106.7 1604.0,109.2 1606.5,104.6 1609.1,103.0 1611.7,99.9 1614.2,109.8 1616.8,108.3 1619.3,105.4 1621.9,105.9" fill="none" stroke="#f56868" stroke-width="1.2" stroke-opacity="1.0" stroke-linejoin="round"/>
<rect x="909.00" y="40.80" width="712.70" height="73.20" fill="none" stroke="#fff" stroke-width="0.8" stroke-opacity="0.8"/>
<rect x="907.70" y="39.50" width="715.30" height="75.80" fill="none" stroke="#555" stroke-width="1.4"/>
<text transform="translate(905.80,132.36) scale(1.09,1)" font-size="18.5" text-anchor="middle">0</text>
<text transform="translate(978.94,132.36) scale(1.09,1)" font-size="18.5" text-anchor="middle">50</text>
<text transform="translate(1050.38,132.36) scale(1.09,1)" font-size="18.5" text-anchor="middle">100</text>
<text transform="translate(1121.82,132.36) scale(1.09,1)" font-size="18.5" text-anchor="middle">150</text>
<text transform="translate(1193.26,132.36) scale(1.09,1)" font-size="18.5" text-anchor="middle">200</text>
<text transform="translate(1264.70,132.36) scale(1.09,1)" font-size="18.5" text-anchor="middle">250</text>
<text transform="translate(1336.14,132.36) scale(1.09,1)" font-size="18.5" text-anchor="middle">300</text>
<text transform="translate(1407.58,132.36) scale(1.09,1)" font-size="18.5" text-anchor="middle">350</text>
<text transform="translate(1479.02,132.36) scale(1.09,1)" font-size="18.5" text-anchor="middle">400</text>
<text transform="translate(1550.46,132.36) scale(1.09,1)" font-size="18.5" text-anchor="middle">450</text>
<text transform="translate(1621.90,132.36) scale(1.09,1)" font-size="18.5" text-anchor="middle">500</text>
<text transform="translate(904.75,41.96) scale(1.09,1)" font-size="18.5" text-anchor="end">4</text>
<text transform="translate(904.75,84.16) scale(1.09,1)" font-size="18.5" text-anchor="end">2</text>
<text transform="translate(904.75,121.16) scale(1.09,1)" font-size="18.5" text-anchor="end">0</text>
<text transform="translate(864.90,80.60) rotate(-90)" font-size="19.8" text-anchor="middle">Amp (m/s<tspan dy="-7.5" font-size="11.5">2</tspan><tspan dy="7.5">)</tspan></text>
<text transform="translate(920.41,14.70) scale(1.0452,1)" font-size="19.5" text-anchor="start">FFT of rockfall vibration signal on the protective net (Sensor D,  x direction, 1000kj)</text>
<text x="907.50" y="34.60" font-size="14.5">× 10<tspan dy="-6.5" font-size="8">4</tspan></text>
<rect x="911.00" y="189.70" width="715.00" height="75.60" fill="url(#bg)"/>
<line x1="982.39" y1="190.70" x2="982.39" y2="264.30" class="g"/>
<line x1="1053.78" y1="190.70" x2="1053.78" y2="264.30" class="g"/>
<line x1="1125.17" y1="190.70" x2="1125.17" y2="264.30" class="g"/>
<line x1="1196.56" y1="190.70" x2="1196.56" y2="264.30" class="g"/>
<line x1="1267.95" y1="190.70" x2="1267.95" y2="264.30" class="g"/>
<line x1="1339.34" y1="190.70" x2="1339.34" y2="264.30" class="g"/>
<line x1="1410.73" y1="190.70" x2="1410.73" y2="264.30" class="g"/>
<line x1="1482.12" y1="190.70" x2="1482.12" y2="264.30" class="g"/>
<line x1="1553.51" y1="190.70" x2="1553.51" y2="264.30" class="g"/>
<line x1="912.00" y1="227.50" x2="1625.00" y2="227.50" class="g"/>
<polyline points="911.0,259.7 913.6,257.5 916.1,235.8 918.7,242.5 921.2,245.3 923.8,242.7 926.4,242.9 928.9,248.3 931.5,195.0 934.0,254.2 936.6,224.8 939.1,234.0 941.7,243.0 944.3,214.9 946.8,244.9 949.4,194.2 951.9,261.5 954.5,248.4 957.1,240.3 959.6,248.3 962.2,241.2 964.7,206.3 967.3,247.8 969.9,230.9 972.4,244.0 975.0,256.2 977.5,239.0 980.1,256.0 982.6,238.5 985.2,254.8 987.8,210.9 990.3,209.4 992.9,238.3 995.4,253.2 998.0,253.2 1000.6,251.8 1003.1,233.1 1005.7,255.1 1008.2,249.4 1010.8,250.5 1013.4,226.0 1015.9,244.9 1018.5,241.0 1021.0,246.4 1023.6,240.9 1026.1,255.3 1028.7,254.7 1031.3,255.4 1033.8,246.5 1036.4,254.6 1038.9,257.6 1041.5,228.3 1044.1,260.8 1046.6,254.8 1049.2,255.4 1051.7,260.5 1054.3,250.9 1056.9,253.9 1059.4,256.2 1062.0,259.5 1064.5,258.1 1067.1,260.5 1069.6,253.6 1072.2,260.2 1074.8,258.0 1077.3,260.1 1079.9,260.8 1082.4,263.0 1085.0,261.3 1087.6,260.2 1090.1,258.2 1092.7,263.9 1095.2,256.9 1097.8,259.9 1100.3,254.0 1102.9,245.6 1105.5,261.1 1108.0,258.1 1110.6,264.1 1113.1,263.0 1115.7,262.8 1118.3,264.2 1120.8,257.7 1123.4,261.9 1125.9,259.2 1128.5,263.5 1131.1,262.2 1133.6,260.3 1136.2,259.7 1138.7,263.1 1141.3,262.7 1143.8,261.4 1146.4,260.1 1149.0,261.3 1151.5,264.0 1154.1,259.8 1156.6,259.5 1159.2,261.7 1161.8,259.2 1164.3,261.9 1166.9,261.3 1169.4,261.9 1172.0,263.7 1174.6,261.1 1177.1,259.4 1179.7,263.2 1182.2,260.5 1184.8,257.1 1187.3,262.6 1189.9,262.0 1192.5,262.2 1195.0,259.9 1197.6,259.4 1200.1,261.4 1202.7,262.5 1205.3,261.6 1207.8,263.0 1210.4,261.0 1212.9,262.7 1215.5,261.5 1218.1,262.2 1220.6,260.9 1223.2,260.3 1225.7,260.9 1228.3,263.9 1230.8,261.2 1233.4,263.2 1236.0,263.1 1238.5,261.0 1241.1,260.8 1243.6,261.6 1246.2,262.1 1248.8,263.0 1251.3,258.5 1253.9,262.4 1256.4,261.9 1259.0,260.3 1261.6,261.3 1264.1,263.8 1266.7,262.3 1269.2,263.0 1271.8,263.5 1274.3,263.5 1276.9,259.6 1279.5,263.3 1282.0,259.7 1284.6,261.2 1287.1,261.3 1289.7,261.2 1292.3,264.0 1294.8,262.7 1297.4,259.5 1299.9,261.5 1302.5,260.6 1305.1,261.9 1307.6,263.4 1310.2,260.6 1312.7,261.0 1315.3,263.9 1317.8,260.2 1320.4,261.4 1323.0,262.7 1325.5,261.6 1328.1,261.2 1330.6,262.8 1333.2,260.4 1335.8,261.3 1338.3,264.3 1340.9,260.4 1343.4,260.6 1346.0,261.6 1348.6,262.9 1351.1,259.0 1353.7,263.4 1356.2,261.4 1358.8,264.3 1361.3,264.3 1363.9,263.5 1366.5,261.7 1369.0,260.2 1371.6,261.9 1374.1,261.1 1376.7,263.6 1379.3,260.1 1381.8,261.5 1384.4,263.3 1386.9,264.0 1389.5,260.8 1392.1,264.1 1394.6,262.7 1397.2,264.1 1399.7,263.4 1402.3,261.2 1404.8,264.1 1407.4,261.8 1410.0,263.6 1412.5,264.0 1415.1,263.8 1417.6,261.2 1420.2,262.3 1422.8,262.7 1425.3,261.3 1427.9,261.3 1430.4,262.8 1433.0,261.7 1435.6,262.5 1438.1,260.0 1440.7,262.9 1443.2,262.8 1445.8,260.8 1448.3,261.1 1450.9,260.5 1453.5,263.3 1456.0,261.0 1458.6,262.6 1461.1,263.4 1463.7,262.3 1466.3,262.7 1468.8,262.2 1471.4,261.1 1473.9,262.2 1476.5,263.7 1479.0,264.2 1481.6,263.5 1484.2,262.7 1486.7,261.4 1489.3,262.3 1491.8,261.9 1494.4,262.0 1497.0,262.2 1499.5,263.9 1502.1,263.1 1504.6,262.1 1507.2,264.1 1509.8,264.3 1512.3,262.4 1514.9,263.2 1517.4,262.6 1520.0,261.9 1522.5,260.3 1525.1,263.3 1527.7,264.3 1530.2,263.1 1532.8,262.4 1535.3,261.9 1537.9,262.3 1540.5,263.5 1543.0,263.5 1545.6,263.6 1548.1,262.6 1550.7,263.1 1553.3,262.3 1555.8,264.3 1558.4,261.5 1560.9,262.6 1563.5,261.3 1566.0,262.7 1568.6,263.7 1571.2,262.4 1573.7,263.3 1576.3,263.1 1578.8,261.9 1581.4,262.5 1584.0,262.8 1586.5,264.2 1589.1,263.4 1591.6,264.3 1594.2,262.6 1596.8,264.0 1599.3,264.1 1601.9,263.3 1604.4,261.9 1607.0,261.1 1609.5,264.3 1612.1,264.3 1614.7,261.8 1617.2,262.4 1619.8,264.1 1622.3,262.7 1624.9,264.0" fill="none" stroke="#f56868" stroke-width="1.2" stroke-opacity="1.0" stroke-linejoin="round"/>
<rect x="912.30" y="191.00" width="712.40" height="73.00" fill="none" stroke="#fff" stroke-width="0.8" stroke-opacity="0.8"/>
<rect x="911.00" y="189.70" width="715.00" height="75.60" fill="none" stroke="#555" stroke-width="1.4"/>
<text transform="translate(911.00,282.66) scale(1.09,1)" font-size="18.5" text-anchor="middle">0</text>
<text transform="translate(982.39,282.66) scale(1.09,1)" font-size="18.5" text-anchor="middle">50</text>
<text transform="translate(1053.78,282.66) scale(1.09,1)" font-size="18.5" text-anchor="middle">100</text>
<text transform="translate(1125.17,282.66) scale(1.09,1)" font-size="18.5" text-anchor="middle">150</text>
<text transform="translate(1196.56,282.66) scale(1.09,1)" font-size="18.5" text-anchor="middle">200</text>
<text transform="translate(1267.95,282.66) scale(1.09,1)" font-size="18.5" text-anchor="middle">250</text>
<text transform="translate(1339.34,282.66) scale(1.09,1)" font-size="18.5" text-anchor="middle">300</text>
<text transform="translate(1410.73,282.66) scale(1.09,1)" font-size="18.5" text-anchor="middle">350</text>
<text transform="translate(1482.12,282.66) scale(1.09,1)" font-size="18.5" text-anchor="middle">400</text>
<text transform="translate(1553.51,282.66) scale(1.09,1)" font-size="18.5" text-anchor="middle">450</text>
<text transform="translate(1624.90,282.66) scale(1.09,1)" font-size="18.5" text-anchor="middle">500</text>
<text transform="translate(905.65,198.46) scale(1.09,1)" font-size="18.5" text-anchor="end">10</text>
<text transform="translate(905.65,232.86) scale(1.09,1)" font-size="18.5" text-anchor="end">5</text>
<text transform="translate(905.65,273.96) scale(1.09,1)" font-size="18.5" text-anchor="end">0</text>
<text transform="translate(869.20,228.20) rotate(-90)" font-size="19.8" text-anchor="middle">Amp (m/s<tspan dy="-7.5" font-size="11.5">2</tspan><tspan dy="7.5">)</tspan></text>
<text transform="translate(918.91,166.40) scale(1.0451,1)" font-size="19.5" text-anchor="start">FFT of rockfall vibration signal on the protective net (Sensor D,  y direction, 1000kj)</text>
<text x="908.00" y="184.80" font-size="14.5">× 10<tspan dy="-6.5" font-size="8">4</tspan></text>
<rect x="907.90" y="353.00" width="715.10" height="74.80" fill="url(#bg)"/>
<line x1="979.49" y1="354.00" x2="979.49" y2="426.80" class="g"/>
<line x1="1050.88" y1="354.00" x2="1050.88" y2="426.80" class="g"/>
<line x1="1122.27" y1="354.00" x2="1122.27" y2="426.80" class="g"/>
<line x1="1193.66" y1="354.00" x2="1193.66" y2="426.80" class="g"/>
<line x1="1265.05" y1="354.00" x2="1265.05" y2="426.80" class="g"/>
<line x1="1336.44" y1="354.00" x2="1336.44" y2="426.80" class="g"/>
<line x1="1407.83" y1="354.00" x2="1407.83" y2="426.80" class="g"/>
<line x1="1479.22" y1="354.00" x2="1479.22" y2="426.80" class="g"/>
<line x1="1550.61" y1="354.00" x2="1550.61" y2="426.80" class="g"/>
<line x1="908.90" y1="390.40" x2="1622.00" y2="390.40" class="g"/>
<polyline points="908.1,419.8 908.5,406.3 908.8,409.7 909.2,419.6 909.5,409.2 909.9,406.5 910.2,419.7 910.6,407.0 911.0,417.8 911.3,414.9 911.7,421.3 912.0,409.0 912.4,407.2 912.7,416.5 913.1,415.3 913.5,421.0 913.8,410.0 914.2,424.1 914.5,404.7 914.9,417.9 915.2,417.3 915.6,419.9 916.0,399.6 916.3,415.1 916.7,419.2 917.0,418.0 917.4,410.2 917.7,412.3 918.1,415.0 918.5,417.3 918.8,423.3 919.2,414.9 919.5,415.3 919.9,399.2 920.2,417.1 920.6,409.3 921.0,414.0 921.3,409.5 921.7,413.0 922.0,421.3 922.4,417.2 922.7,416.2 923.1,413.8 923.5,419.7 923.8,403.8 924.2,402.0 924.5,414.5 924.9,400.6 925.2,416.2 925.6,411.2 926.0,410.4 926.3,425.0 926.7,413.5 927.0,423.0 927.4,413.4 927.7,419.1 928.1,406.6 928.5,416.9 928.8,421.5 929.2,421.5 929.5,408.4 929.9,420.8 930.2,406.2 930.6,411.2 931.0,411.3 931.3,418.9 931.7,410.6 932.0,419.4 932.4,422.1 932.7,421.5 933.1,418.8 933.5,424.6 933.8,413.5 934.2,404.0 934.5,412.3 934.9,413.6 935.2,406.6 935.6,398.6 936.0,402.0 936.3,425.2 936.7,408.4 937.0,413.4 937.4,411.4 937.7,419.0 938.1,411.7 938.5,421.8 938.8,411.7 939.2,418.0 939.5,395.6 939.9,419.7 940.2,407.7 940.6,409.6 941.0,415.5 941.3,412.9 941.7,419.9 942.0,418.4 942.4,423.8 942.7,420.9 943.1,411.1 943.5,410.2 943.8,414.1 944.2,411.3 944.5,415.5 944.9,423.0 945.2,420.1 945.6,423.8 946.0,402.8 946.3,406.5 946.7,420.9 947.0,416.2 947.4,421.3 947.7,412.1 948.1,425.6 948.5,410.4 948.8,413.9 949.2,422.5 949.5,413.5 949.9,414.0 950.2,420.4 950.6,413.2 951.0,412.2 951.3,407.7 951.7,419.4 952.0,418.6 952.4,414.8 952.7,411.0 953.1,422.9 953.5,403.6 953.8,416.0 954.2,424.8 954.5,423.4 954.9,414.7 955.2,409.2 955.6,420.0 956.0,423.5 956.3,419.2 956.7,423.9 957.0,418.1 957.4,406.5 957.7,418.4 958.1,406.5 958.5,424.5 958.8,420.1 959.2,417.1 959.5,417.6 959.9,403.0 960.2,403.7 960.6,418.8 961.0,410.8 961.3,422.7 961.7,425.4 962.0,424.6 962.4,412.1 962.7,424.2 963.1,419.5 963.5,422.8 963.8,406.7 964.2,424.6 964.5,413.9 964.9,421.4 965.2,410.9 965.6,420.4 966.0,416.3 966.3,413.7 966.7,421.2 967.0,417.1 967.4,405.6 967.7,413.3 968.1,417.8 968.5,420.4 968.8,407.0 969.2,424.6 969.5,413.6 969.9,422.4 970.2,422.5 970.6,426.6 971.0,416.3 971.3,420.9 971.7,421.6 972.0,421.7 972.4,401.6 972.7,421.1 973.1,418.1 973.5,424.7 973.8,419.9 974.2,424.3 974.5,412.1 974.9,424.9 975.2,422.2 975.6,417.6 976.0,419.5 976.3,424.7 976.7,420.9 977.0,416.9 977.4,421.3 977.7,415.6 978.1,407.7 978.5,415.8 978.8,424.8 979.2,418.5 979.5,416.5 979.9,415.9 980.2,409.0 980.6,425.9 981.0,417.6 981.3,419.9 981.7,415.6 982.0,415.6 982.4,418.3 982.7,415.0 983.1,417.4 983.5,425.6 983.8,416.7 984.2,419.5 984.5,414.4 984.9,420.8 985.2,419.3 985.6,415.3 986.0,416.0 986.3,416.9 986.7,420.9 987.0,422.2 987.4,412.4 987.7,415.1 988.1,426.0 988.5,420.6 988.8,423.2 989.2,419.1 989.5,421.6 989.9,418.7 990.2,417.3 990.6,407.5 991.0,420.2 991.3,413.1 991.7,424.4 992.0,415.9 992.4,416.8 992.7,424.8 993.1,422.4 993.5,421.8 993.8,420.3 994.2,415.5 994.5,417.2 994.9,420.8 995.2,422.7 995.6,419.1 996.0,422.0 996.3,414.8 996.7,413.7 997.0,413.8 997.4,423.3 997.7,420.8 998.1,415.7 998.5,417.4 998.8,410.1 999.2,415.1 999.5,424.8 999.9,418.5 1000.2,423.0 1000.6,416.6 1001.0,425.9 1001.3,415.5 1001.7,420.5 1002.0,408.4 1002.4,414.7 1002.7,423.2 1003.1,425.3 1003.5,424.8 1003.8,425.6 1004.2,419.5 1004.5,417.3 1004.9,423.0 1005.2,419.6 1005.6,416.0 1006.0,412.8 1006.3,422.1 1006.7,417.2 1007.0,423.0 1007.4,418.8 1007.7,418.6 1008.1,424.9 1008.5,419.9 1008.8,417.7 1009.2,413.0 1009.5,420.0 1009.9,411.9 1010.2,414.4 1010.6,407.3 1011.0,420.6 1011.3,417.7 1011.7,421.9 1012.0,406.2 1012.4,408.3 1012.7,412.7 1013.1,417.6 1013.5,419.3 1013.8,413.6 1014.2,421.3 1014.5,425.4 1014.9,425.7 1015.2,426.2 1015.6,416.7 1016.0,424.1 1016.3,423.2 1016.7,422.5 1017.0,414.5 1017.4,421.2 1017.7,414.4 1018.1,422.1 1018.5,419.1 1018.8,412.1 1019.2,420.8 1019.5,421.8 1019.9,413.3 1020.2,416.7 1020.6,410.7 1021.0,419.1 1021.3,409.4 1021.7,424.3 1022.0,417.1 1022.4,417.0 1022.7,420.7 1023.1,420.0 1023.5,425.5 1023.8,415.3 1024.2,411.4 1024.5,413.1 1024.9,417.8 1025.2,421.2 1025.6,418.9 1026.0,422.4 1026.3,417.3 1026.7,414.9 1027.0,424.8 1027.4,412.3 1027.7,416.7 1028.1,393.4 1028.5,410.8 1028.8,424.9 1029.2,417.2 1029.5,410.0 1029.9,418.9 1030.2,421.7 1030.6,415.7 1031.0,409.5 1031.3,408.4 1031.7,423.6 1032.0,423.7 1032.4,421.6 1032.7,418.5 1033.1,417.9 1033.5,425.1 1033.8,410.9 1034.2,415.2 1034.5,422.8 1034.9,414.7 1035.2,420.7 1035.6,425.1 1036.0,413.2 1036.3,410.2 1036.7,423.4 1037.0,414.6 1037.4,419.5 1037.7,424.3 1038.1,413.4 1038.5,419.6 1038.8,422.6 1039.2,423.5 1039.5,416.8 1039.9,407.8 1040.2,406.2 1040.6,421.2 1041.0,426.6 1041.3,414.1 1041.7,412.5 1042.0,424.7 1042.4,404.9 1042.7,424.3 1043.1,410.3 1043.5,418.2 1043.8,422.0 1044.2,415.8 1044.5,415.5 1044.9,411.8 1045.2,418.0 1045.6,424.9 1046.0,415.3 1046.3,417.6 1046.7,413.7 1047.0,420.7 1047.4,417.2 1047.7,426.6 1048.1,419.4 1048.5,422.6 1048.8,423.4 1049.2,420.5 1049.5,415.8 1049.9,425.0 1050.2,423.2 1050.6,416.0 1051.0,425.3 1051.3,416.1 1051.7,414.7 1052.0,418.0 1052.4,423.7 1052.7,423.3 1053.1,420.0 1053.5,413.5 1053.8,425.1 1054.2,424.8 1054.5,410.5 1054.9,424.1 1055.2,419.9 1055.6,416.0 1056.0,423.7 1056.3,422.7 1056.7,409.9 1057.0,423.5 1057.4,419.0 1057.7,414.8 1058.1,418.2 1058.5,422.2 1058.8,421.9 1059.2,423.1 1059.5,420.3 1059.9,424.3 1060.2,422.1 1060.6,415.6 1061.0,419.0 1061.3,408.7 1061.7,419.3 1062.0,425.9 1062.4,419.8 1062.7,418.4 1063.1,411.7 1063.5,421.1 1063.8,426.1 1064.2,425.6 1064.5,423.3 1064.9,420.9 1065.2,420.9 1065.6,424.5 1066.0,411.6 1066.3,425.2 1066.7,424.3 1067.0,425.1 1067.4,425.2 1067.7,424.9 1068.1,415.8 1068.5,419.4 1068.8,424.4 1069.2,419.0 1069.5,424.5 1069.9,421.0 1070.2,414.4 1070.6,424.8 1071.0,417.7 1071.3,421.3 1071.7,418.1 1072.0,418.4 1072.4,415.5 1072.7,421.6 1073.1,417.3 1073.5,420.7 1073.8,420.4 1074.2,415.4 1074.5,416.5 1074.9,407.6 1075.2,415.3 1075.6,411.0 1076.0,417.3 1076.3,410.4 1076.7,421.9 1077.0,419.2 1077.4,419.6 1077.7,410.5 1078.1,414.9 1078.5,424.7 1078.8,423.1 1079.2,422.0 1079.5,415.1 1079.9,419.1 1080.2,417.5 1080.6,421.8 1081.0,424.8 1081.3,411.4 1081.7,421.6 1082.0,425.2 1082.4,422.9 1082.7,422.9 1083.1,424.3 1083.5,424.1 1083.8,417.1 1084.2,417.3 1084.5,419.2 1084.9,423.4 1085.2,418.8 1085.6,418.7 1086.0,422.0 1086.3,421.2 1086.7,415.0 1087.0,423.5 1087.4,424.8 1087.7,422.6 1088.1,424.8 1088.4,422.2 1088.8,420.9 1089.2,415.0 1089.5,419.1 1089.9,424.5 1090.2,423.6 1090.6,423.1 1090.9,422.1 1091.3,411.0 1091.7,417.9 1092.0,421.1 1092.4,426.0 1092.7,425.1 1093.1,422.3 1093.4,411.0 1093.8,416.5 1094.2,416.3 1094.5,425.6 1094.9,413.1 1095.2,420.3 1095.6,424.9 1095.9,420.8 1096.3,416.3 1096.7,411.1 1097.0,414.8 1097.4,423.0 1097.7,420.4 1098.1,416.8 1098.4,426.0 1098.8,418.5 1099.2,422.7 1099.5,422.2 1099.9,425.2 1100.2,415.3 1100.6,425.8 1100.9,422.3 1101.3,422.9 1101.7,421.8 1102.0,425.6 1102.4,425.8 1102.7,419.5 1103.1,422.9 1103.4,419.3 1103.8,425.4 1104.2,422.1 1104.5,421.6 1104.9,417.7 1105.2,424.4 1105.6,423.1 1105.9,422.8 1106.3,422.2 1106.7,421.2 1107.0,418.8 1107.4,420.3 1107.7,418.8 1108.1,421.9 1108.4,422.5 1108.8,414.0 1109.2,417.2 1109.5,421.7 1109.9,422.9 1110.2,424.1 1110.6,414.9 1110.9,421.3 1111.3,418.7 1111.7,420.8 1112.0,418.0 1112.4,422.6 1112.7,417.6 1113.1,419.0 1113.4,419.9 1113.8,418.0 1114.2,419.1 1114.5,417.3 1114.9,421.4 1115.2,424.5 1115.6,423.5 1115.9,421.6 1116.3,413.3 1116.7,411.5 1117.0,425.4 1117.4,418.5 1117.7,424.2 1118.1,418.2 1118.4,423.1 1118.8,424.2 1119.2,421.8 1119.5,416.8 1119.9,420.5 1120.2,421.5 1120.6,422.9 1120.9,423.2 1121.3,423.8 1121.7,419.7 1122.0,419.1 1122.4,426.6 1122.7,421.3 1123.1,419.9 1123.4,422.4 1123.8,419.5 1124.2,418.9 1124.5,424.2 1124.9,422.5 1125.2,419.9 1125.6,420.1 1125.9,424.1 1126.3,422.2 1126.7,416.6 1127.0,421.2 1127.4,415.1 1127.7,419.0 1128.1,423.6 1128.4,419.3 1128.8,426.6 1129.2,416.4 1129.5,424.1 1129.9,424.7 1130.2,419.1 1130.6,418.8 1130.9,422.1 1131.3,425.0 1131.7,417.8 1132.0,418.6 1132.4,422.6 1132.7,417.0 1133.1,421.1 1133.4,425.6 1133.8,420.0 1134.2,419.2 1134.5,416.3 1134.9,424.1 1135.2,418.9 1135.6,414.0 1135.9,424.3 1136.3,416.7 1136.7,418.9 1137.0,418.1 1137.4,423.1 1137.7,421.8 1138.1,425.5 1138.4,422.1 1138.8,425.2 1139.2,425.1 1139.5,424.0 1139.9,418.3 1140.2,425.3 1140.6,420.2 1140.9,425.8 1141.3,420.2 1141.7,418.6 1142.0,418.0 1142.4,423.9 1142.7,418.2 1143.1,423.1 1143.4,418.7 1143.8,421.1 1144.2,424.6 1144.5,418.1 1144.9,417.7 1145.2,417.7 1145.6,419.7 1145.9,423.4 1146.3,425.0 1146.7,422.5 1147.0,425.5 1147.4,419.6 1147.7,424.4 1148.1,416.2 1148.4,421.1 1148.8,425.5 1149.2,422.2 1149.5,424.4 1149.9,424.1 1150.2,422.4 1150.6,423.2 1150.9,420.4 1151.3,423.5 1151.7,420.9 1152.0,423.4 1152.4,422.3 1152.7,416.5 1153.1,421.7 1153.4,421.0 1153.8,424.6 1154.2,425.2 1154.5,417.4 1154.9,416.5 1155.2,417.9 1155.6,421.6 1155.9,420.1 1156.3,426.2 1156.7,417.9 1157.0,417.1 1157.4,425.4 1157.7,420.8 1158.1,425.5 1158.4,419.0 1158.8,423.4 1159.2,425.0 1159.5,420.7 1159.9,414.7 1160.2,419.7 1160.6,425.9 1160.9,421.1 1161.3,415.8 1161.7,421.3 1162.0,422.9 1162.4,418.8 1162.7,418.2 1163.1,421.3 1163.4,421.7 1163.8,424.8 1164.2,416.9 1164.5,422.9 1164.9,423.2 1165.2,415.9 1165.6,419.9 1165.9,425.8 1166.3,421.7 1166.7,426.4 1167.0,422.7 1167.4,418.3 1167.7,425.6 1168.1,424.7 1168.4,413.7 1168.8,420.2 1169.2,425.8 1169.5,422.7 1169.9,421.5 1170.2,418.6 1170.6,421.1 1170.9,418.0 1171.3,421.4 1171.7,422.2 1172.0,414.9 1172.4,422.6 1172.7,421.6 1173.1,423.7 1173.4,422.5 1173.8,424.7 1174.2,421.9 1174.5,425.8 1174.9,422.8 1175.2,423.5 1175.6,421.1 1175.9,422.5 1176.3,422.6 1176.7,416.5 1177.0,424.6 1177.4,418.9 1177.7,421.8 1178.1,420.5 1178.4,421.5 1178.8,426.0 1179.2,419.9 1179.5,420.5 1179.9,418.7 1180.2,422.8 1180.6,422.9 1180.9,417.2 1181.3,426.7 1181.7,423.1 1182.0,419.4 1182.4,423.2 1182.7,416.2 1183.1,417.9 1183.4,422.6 1183.8,419.9 1184.2,419.8 1184.5,420.1 1184.9,418.7 1185.2,420.4 1185.6,425.2 1185.9,418.4 1186.3,421.5 1186.7,422.3 1187.0,426.1 1187.4,424.5 1187.7,425.4 1188.1,420.5 1188.4,421.0 1188.8,424.7 1189.2,422.6 1189.5,423.2 1189.9,423.6 1190.2,421.6 1190.6,419.8 1190.9,426.4 1191.3,426.4 1191.7,418.8 1192.0,423.4 1192.4,422.3 1192.7,417.0 1193.1,421.5 1193.4,423.4 1193.8,420.1 1194.2,422.9 1194.5,425.0 1194.9,421.3 1195.2,424.8 1195.6,422.1 1195.9,418.6 1196.3,419.9 1196.7,426.1 1197.0,420.3 1197.4,423.4 1197.7,419.3 1198.1,423.6 1198.4,422.3 1198.8,419.3 1199.2,424.9 1199.5,421.8 1199.9,420.7 1200.2,423.6 1200.6,421.2 1200.9,425.7 1201.3,423.8 1201.7,419.1 1202.0,425.2 1202.4,424.1 1202.7,421.6 1203.1,424.5 1203.4,426.6 1203.8,423.4 1204.2,417.1 1204.5,423.3 1204.9,425.9 1205.2,426.8 1205.6,418.5 1205.9,423.6 1206.3,423.0 1206.7,422.2 1207.0,418.9 1207.4,424.2 1207.7,417.7 1208.1,424.1 1208.4,418.8 1208.8,422.8 1209.2,419.4 1209.5,426.8 1209.9,419.8 1210.2,420.3 1210.6,418.8 1210.9,425.8 1211.3,422.0 1211.7,424.5 1212.0,423.8 1212.4,423.5 1212.7,422.5 1213.1,421.4 1213.4,423.8 1213.8,426.8 1214.2,418.1 1214.5,420.8 1214.9,416.8 1215.2,419.4 1215.6,417.0 1215.9,421.3 1216.3,422.6 1216.7,421.9 1217.0,422.5 1217.4,425.6 1217.7,426.3 1218.1,424.8 1218.4,425.4 1218.8,422.5 1219.2,425.7 1219.5,420.1 1219.9,424.9 1220.2,423.5 1220.6,423.4 1220.9,422.9 1221.3,423.9 1221.7,424.5 1222.0,424.0 1222.4,417.9 1222.7,422.4 1223.1,426.7 1223.4,425.9 1223.8,423.5 1224.2,424.1 1224.5,421.7 1224.9,418.9 1225.2,424.4 1225.6,425.2 1225.9,422.7 1226.3,425.3 1226.7,420.4 1227.0,425.1 1227.4,415.7 1227.7,420.2 1228.1,423.6 1228.4,425.5 1228.8,423.8 1229.2,420.4 1229.5,425.0 1229.9,420.5 1230.2,424.8 1230.6,422.9 1230.9,424.5 1231.3,423.3 1231.7,425.3 1232.0,424.7 1232.4,423.5 1232.7,420.6 1233.1,424.8 1233.4,423.9 1233.8,423.1 1234.2,416.8 1234.5,415.7 1234.9,416.2 1235.2,421.9 1235.6,423.9 1235.9,425.2 1236.3,425.2 1236.7,421.7 1237.0,425.8 1237.4,422.9 1237.7,415.7 1238.1,426.1 1238.4,422.8 1238.8,422.7 1239.2,421.8 1239.5,421.2 1239.9,421.6 1240.2,419.8 1240.6,421.4 1240.9,422.9 1241.3,420.7 1241.7,420.9 1242.0,423.4 1242.4,425.6 1242.7,423.2 1243.1,422.1 1243.4,422.9 1243.8,423.6 1244.2,426.3 1244.5,424.8 1244.9,421.7 1245.2,424.0 1245.6,425.1 1245.9,422.6 1246.3,426.8 1246.7,423.6 1247.0,420.5 1247.4,423.3 1247.7,425.7 1248.1,425.5 1248.4,416.5 1248.8,422.3 1249.2,424.8 1249.5,423.2 1249.9,426.8 1250.2,425.1 1250.6,420.9 1250.9,422.3 1251.3,422.8 1251.7,420.1 1252.0,420.8 1252.4,419.0 1252.7,422.0 1253.1,418.8 1253.4,426.2 1253.8,421.2 1254.2,419.4 1254.5,415.7 1254.9,419.7 1255.2,420.5 1255.6,423.2 1255.9,416.2 1256.3,421.0 1256.7,419.6 1257.0,425.4 1257.4,419.3 1257.7,426.3 1258.1,419.4 1258.4,420.4 1258.8,423.4 1259.2,419.6 1259.5,424.7 1259.9,420.9 1260.2,422.8 1260.6,423.3 1260.9,421.4 1261.3,426.1 1261.7,418.6 1262.0,426.0 1262.4,424.5 1262.7,417.3 1263.1,420.3 1263.4,422.4 1263.8,424.4 1264.2,423.3 1264.5,423.2 1264.9,419.4 1265.2,425.2 1265.6,418.5 1265.9,422.4 1266.3,423.9 1266.7,420.9 1267.0,424.1 1267.4,425.8 1267.7,420.2 1268.1,421.5 1268.4,425.9 1268.8,422.1 1269.2,422.8 1269.5,419.2 1269.9,420.8 1270.2,423.6 1270.6,424.1 1270.9,421.9 1271.3,425.9 1271.7,425.1 1272.0,422.8 1272.4,420.3 1272.7,423.1 1273.1,422.2 1273.4,420.9 1273.8,424.1 1274.2,426.3 1274.5,423.2 1274.9,420.8 1275.2,426.5 1275.6,422.8 1275.9,418.1 1276.3,426.2 1276.7,419.3 1277.0,422.1 1277.4,424.0 1277.7,425.3 1278.1,423.5 1278.4,426.2 1278.8,424.2 1279.2,419.9 1279.5,425.9 1279.9,422.7 1280.2,426.2 1280.6,425.2 1280.9,419.4 1281.3,424.2 1281.7,421.3 1282.0,417.3 1282.4,419.3 1282.7,423.9 1283.1,419.4 1283.4,426.6 1283.8,422.9 1284.2,417.4 1284.5,424.5 1284.9,425.3 1285.2,423.0 1285.6,420.9 1285.9,425.0 1286.3,425.6 1286.7,424.8 1287.0,426.0 1287.4,422.9 1287.7,423.7 1288.1,419.8 1288.4,416.7 1288.8,426.8 1289.2,426.2 1289.5,424.3 1289.9,422.5 1290.2,423.3 1290.6,424.8 1290.9,423.8 1291.3,423.8 1291.7,425.1 1292.0,423.5 1292.4,423.9 1292.7,422.9 1293.1,424.3 1293.4,423.7 1293.8,423.1 1294.2,423.9 1294.5,420.9 1294.9,421.8 1295.2,422.9 1295.6,422.7 1295.9,421.6 1296.3,423.8 1296.7,423.7 1297.0,426.5 1297.4,423.8 1297.7,424.6 1298.1,422.1 1298.4,423.6 1298.8,423.2 1299.2,420.8 1299.5,418.5 1299.9,423.4 1300.2,420.2 1300.6,421.1 1300.9,426.0 1301.3,426.6 1301.7,423.1 1302.0,424.3 1302.4,422.4 1302.7,422.0 1303.1,421.0 1303.4,424.9 1303.8,421.0 1304.2,421.0 1304.5,422.7 1304.9,425.1 1305.2,420.9 1305.6,426.5 1305.9,426.3 1306.3,422.9 1306.7,424.8 1307.0,423.8 1307.4,415.7 1307.7,425.4 1308.1,421.8 1308.4,423.1 1308.8,420.5 1309.2,415.7 1309.5,423.2 1309.9,420.9 1310.2,423.9 1310.6,424.2 1310.9,423.3 1311.3,426.8 1311.7,420.4 1312.0,420.8 1312.4,425.0 1312.7,426.8 1313.1,424.3 1313.4,425.3 1313.8,421.4 1314.2,419.2 1314.5,418.4 1314.9,422.4 1315.2,417.8 1315.6,423.4 1315.9,423.2 1316.3,423.9 1316.7,424.3 1317.0,424.4 1317.4,423.6 1317.7,421.5 1318.1,424.0 1318.4,417.2 1318.8,419.6 1319.2,424.0 1319.5,422.6 1319.9,420.6 1320.2,423.7 1320.6,424.6 1320.9,422.3 1321.3,420.3 1321.7,418.7 1322.0,411.7 1322.4,419.9 1322.7,426.1 1323.1,423.4 1323.4,425.6 1323.8,424.1 1324.2,426.7 1324.5,422.1 1324.9,426.3 1325.2,423.7 1325.6,423.4 1325.9,425.2 1326.3,423.5 1326.7,423.5 1327.0,425.1 1327.4,422.7 1327.7,425.7 1328.1,422.1 1328.4,425.5 1328.8,426.8 1329.2,424.2 1329.5,423.3 1329.9,422.2 1330.2,425.4 1330.6,425.8 1330.9,426.5 1331.3,424.7 1331.7,423.8 1332.0,426.3 1332.4,426.1 1332.7,421.0 1333.1,419.7 1333.4,422.4 1333.8,426.5 1334.2,426.0 1334.5,426.6 1334.9,421.9 1335.2,425.3 1335.6,420.5 1335.9,421.9 1336.3,423.5 1336.7,422.7 1337.0,420.5 1337.4,423.6 1337.7,424.0 1338.1,426.5 1338.4,426.0 1338.8,423.5 1339.2,425.3 1339.5,425.8 1339.9,425.0 1340.2,424.6 1340.6,425.5 1340.9,422.4 1341.3,426.0 1341.7,425.6 1342.0,422.8 1342.4,422.9 1342.7,424.0 1343.1,424.2 1343.4,424.4 1343.8,423.7 1344.2,425.5 1344.5,422.5 1344.9,422.3 1345.2,423.8 1345.6,424.4 1345.9,424.3 1346.3,426.1 1346.7,423.0 1347.0,424.3 1347.4,423.2 1347.7,424.0 1348.1,423.0 1348.4,422.3 1348.8,423.1 1349.2,424.2 1349.5,421.3 1349.9,425.8 1350.2,419.7 1350.6,425.5 1350.9,424.8 1351.3,420.8 1351.7,425.5 1352.0,422.6 1352.4,426.5 1352.7,426.7 1353.1,423.2 1353.4,424.4 1353.8,424.6 1354.2,426.3 1354.5,425.7 1354.9,425.4 1355.2,422.9 1355.6,426.8 1355.9,422.5 1356.3,424.4 1356.7,426.4 1357.0,424.9 1357.4,424.5 1357.7,425.8 1358.1,422.3 1358.4,422.7 1358.8,424.8 1359.2,422.0 1359.5,419.7 1359.9,426.4 1360.2,425.9 1360.6,425.0 1360.9,425.6 1361.3,423.1 1361.7,424.8 1362.0,424.6 1362.4,426.7 1362.7,422.4 1363.1,422.8 1363.4,423.6 1363.8,425.9 1364.2,425.2 1364.5,422.8 1364.9,423.7 1365.2,425.9 1365.6,422.7 1365.9,425.5 1366.3,425.1 1366.7,422.6 1367.0,424.8 1367.4,425.5 1367.7,423.0 1368.1,425.9 1368.4,425.5 1368.8,425.3 1369.2,425.7 1369.5,425.6 1369.9,423.7 1370.2,426.0 1370.6,426.8 1370.9,422.7 1371.3,424.9 1371.7,425.5 1372.0,425.3 1372.4,423.0 1372.7,424.3 1373.1,423.6 1373.4,424.8 1373.8,425.1 1374.2,423.5 1374.5,426.6 1374.9,423.5 1375.2,422.9 1375.6,424.1 1375.9,424.1 1376.3,424.7 1376.7,424.8 1377.0,425.2 1377.4,424.3 1377.7,423.2 1378.1,426.7 1378.4,424.7 1378.8,422.9 1379.2,426.8 1379.5,423.8 1379.9,421.2 1380.2,420.6 1380.6,425.0 1380.9,420.7 1381.3,422.6 1381.7,425.6 1382.0,425.9 1382.4,424.6 1382.7,426.1 1383.1,425.1 1383.4,423.8 1383.8,424.6 1384.2,424.0 1384.5,426.3 1384.9,422.7 1385.2,425.6 1385.6,425.4 1385.9,426.8 1386.3,425.1 1386.7,426.6 1387.0,424.2 1387.4,423.3 1387.7,425.6 1388.1,423.4 1388.4,426.6 1388.8,426.8 1389.2,426.0 1389.5,425.6 1389.9,426.8 1390.2,424.6 1390.6,425.4 1390.9,426.0 1391.3,424.3 1391.7,425.8 1392.0,426.6 1392.4,422.6 1392.7,422.6 1393.1,426.6 1393.4,425.9 1393.8,426.4 1394.2,426.5 1394.5,423.9 1394.9,421.3 1395.2,426.8 1395.6,426.8 1395.9,423.7 1396.3,425.8 1396.7,425.4 1397.0,426.8 1397.4,426.0 1397.7,425.0 1398.1,425.3 1398.4,426.6 1398.8,422.9 1399.2,425.4 1399.5,425.8 1399.9,423.0 1400.2,424.0 1400.6,423.2 1400.9,422.4 1401.3,421.3 1401.7,424.5 1402.0,425.9 1402.4,425.8 1402.7,426.7 1403.1,424.5 1403.4,426.5 1403.8,424.8 1404.2,422.7 1404.5,426.8 1404.9,425.6 1405.2,424.1 1405.6,424.2 1405.9,423.5 1406.3,425.5 1406.7,426.8 1407.0,425.5 1407.4,423.7 1407.7,426.8 1408.1,424.4 1408.4,424.8 1408.8,422.1 1409.2,424.3 1409.5,423.2 1409.9,423.8 1410.2,425.9 1410.6,426.8 1410.9,426.1 1411.3,424.9 1411.7,422.7 1412.0,424.3 1412.4,422.7 1412.7,421.3 1413.1,425.1 1413.4,422.0 1413.8,426.1 1414.2,426.7 1414.5,425.0 1414.9,426.4 1415.2,425.9 1415.6,426.4 1415.9,426.5 1416.3,423.5 1416.7,426.8 1417.0,424.7 1417.4,426.5 1417.7,424.3 1418.1,425.4 1418.4,424.5 1418.8,423.4 1419.2,422.4 1419.5,423.1 1419.9,422.7 1420.2,423.9 1420.6,424.9 1420.9,426.0 1421.3,426.3 1421.7,426.7 1422.0,426.8 1422.4,423.1 1422.7,424.3 1423.1,423.9 1423.4,424.9 1423.8,425.2 1424.2,422.8 1424.5,424.1 1424.9,426.2 1425.2,422.4 1425.6,424.8 1425.9,425.9 1426.3,423.6 1426.7,423.0 1427.0,425.7 1427.4,424.7 1427.7,424.8 1428.1,425.7 1428.4,424.9 1428.8,426.6 1429.2,425.5 1429.5,424.4 1429.9,425.9 1430.2,424.2 1430.6,425.9 1430.9,424.9 1431.3,425.8 1431.7,424.1 1432.0,426.8 1432.4,426.8 1432.7,426.3 1433.1,426.2 1433.4,426.7 1433.8,421.7 1434.2,426.8 1434.5,422.2 1434.9,426.8 1435.2,425.1 1435.6,426.0 1435.9,425.2 1436.3,424.9 1436.7,424.1 1437.0,425.5 1437.4,424.8 1437.7,424.7 1438.1,424.3 1438.4,425.1 1438.8,423.4 1439.2,421.3 1439.5,425.9 1439.9,426.0 1440.2,425.9 1440.6,426.0 1440.9,424.8 1441.3,424.4 1441.7,424.0 1442.0,424.8 1442.4,425.7 1442.7,423.1 1443.1,422.5 1443.4,421.3 1443.8,425.6 1444.1,425.4 1444.5,424.3 1444.9,425.6 1445.2,425.3 1445.6,426.8 1445.9,422.1 1446.3,424.6 1446.6,426.7 1447.0,424.4 1447.4,425.5 1447.7,426.6 1448.1,422.6 1448.4,425.6 1448.8,424.8 1449.1,425.0 1449.5,422.7 1449.9,422.8 1450.2,425.1 1450.6,424.0 1450.9,425.5 1451.3,426.7 1451.6,425.6 1452.0,425.9 1452.4,425.8 1452.7,424.9 1453.1,424.9 1453.4,426.5 1453.8,424.7 1454.1,424.2 1454.5,424.4 1454.9,423.3 1455.2,426.7 1455.6,425.7 1455.9,424.7 1456.3,422.6 1456.6,426.6 1457.0,426.2 1457.4,425.6 1457.7,423.4 1458.1,425.9 1458.4,422.6 1458.8,426.8 1459.1,425.3 1459.5,426.3 1459.9,425.1 1460.2,423.7 1460.6,425.2 1460.9,426.8 1461.3,423.8 1461.6,425.7 1462.0,423.7 1462.4,424.6 1462.7,424.8 1463.1,425.0 1463.4,424.7 1463.8,425.3 1464.1,424.5 1464.5,424.0 1464.9,423.5 1465.2,424.2 1465.6,421.6 1465.9,426.2 1466.3,421.3 1466.6,424.2 1467.0,421.6 1467.4,421.6 1467.7,423.8 1468.1,426.8 1468.4,422.4 1468.8,426.4 1469.1,424.7 1469.5,425.3 1469.9,422.3 1470.2,424.8 1470.6,422.0 1470.9,424.6 1471.3,424.1 1471.6,425.3 1472.0,424.5 1472.4,424.7 1472.7,424.7 1473.1,421.3 1473.4,426.8 1473.8,424.4 1474.1,423.5 1474.5,424.2 1474.9,418.4 1475.2,425.7 1475.6,425.6 1475.9,421.3 1476.3,421.7 1476.6,425.9 1477.0,425.6 1477.4,425.6 1477.7,426.8 1478.1,422.0 1478.4,424.5 1478.8,424.5 1479.1,425.3 1479.5,424.6 1479.9,423.7 1480.2,426.8 1480.6,425.8 1480.9,423.6 1481.3,422.7 1481.6,424.0 1482.0,426.1 1482.4,423.9 1482.7,426.5 1483.1,426.4 1483.4,426.8 1483.8,423.5 1484.1,422.7 1484.5,426.3 1484.9,423.3 1485.2,421.3 1485.6,424.6 1485.9,426.8 1486.3,422.1 1486.6,424.5 1487.0,426.4 1487.4,425.9 1487.7,424.8 1488.1,423.6 1488.4,421.5 1488.8,423.1 1489.1,426.8 1489.5,425.0 1489.9,425.6 1490.2,424.4 1490.6,424.1 1490.9,423.4 1491.3,426.8 1491.6,426.8 1492.0,425.1 1492.4,424.9 1492.7,426.8 1493.1,422.2 1493.4,423.6 1493.8,426.8 1494.1,426.2 1494.5,426.6 1494.9,425.2 1495.2,426.8 1495.6,424.4 1495.9,426.8 1496.3,425.4 1496.6,425.4 1497.0,425.7 1497.4,425.6 1497.7,425.4 1498.1,425.5 1498.4,425.0 1498.8,424.0 1499.1,425.2 1499.5,425.4 1499.9,425.8 1500.2,426.6 1500.6,424.3 1500.9,426.0 1501.3,423.8 1501.6,424.6 1502.0,426.4 1502.4,425.9 1502.7,424.2 1503.1,426.3 1503.4,426.8 1503.8,425.9 1504.1,426.4 1504.5,426.4 1504.9,425.8 1505.2,425.6 1505.6,426.8 1505.9,423.9 1506.3,426.8 1506.6,426.3 1507.0,426.0 1507.4,426.8 1507.7,426.5 1508.1,423.6 1508.4,426.7 1508.8,426.8 1509.1,426.8 1509.5,426.5 1509.9,426.4 1510.2,424.5 1510.6,426.0 1510.9,426.8 1511.3,426.3 1511.6,424.6 1512.0,424.3 1512.4,426.7 1512.7,426.0 1513.1,426.5 1513.4,426.6 1513.8,426.2 1514.1,425.5 1514.5,425.3 1514.9,424.0 1515.2,426.3 1515.6,426.1 1515.9,426.8 1516.3,425.3 1516.6,424.7 1517.0,426.0 1517.4,426.8 1517.7,424.7 1518.1,426.7 1518.4,426.8 1518.8,426.8 1519.1,426.8 1519.5,426.3 1519.9,425.2 1520.2,425.5 1520.6,424.9 1520.9,423.2 1521.3,424.2 1521.6,426.8 1522.0,426.0 1522.4,426.0 1522.7,426.7 1523.1,425.1 1523.4,426.8 1523.8,425.1 1524.1,425.8 1524.5,423.3 1524.9,426.3 1525.2,425.3 1525.6,426.1 1525.9,426.3 1526.3,425.5 1526.6,425.2 1527.0,426.5 1527.4,426.8 1527.7,425.6 1528.1,425.6 1528.4,425.2 1528.8,425.8 1529.1,426.4 1529.5,425.9 1529.9,426.0 1530.2,426.4 1530.6,426.4 1530.9,424.9 1531.3,425.2 1531.6,424.7 1532.0,425.9 1532.4,426.0 1532.7,426.7 1533.1,426.6 1533.4,426.7 1533.8,426.5 1534.1,426.8 1534.5,426.8 1534.9,426.7 1535.2,425.1 1535.6,425.1 1535.9,426.8 1536.3,426.3 1536.6,426.1 1537.0,425.5 1537.4,425.7 1537.7,426.8 1538.1,425.5 1538.4,426.2 1538.8,424.5 1539.1,426.4 1539.5,425.1 1539.9,425.2 1540.2,424.1 1540.6,426.2 1540.9,426.8 1541.3,424.1 1541.6,426.1 1542.0,423.2 1542.4,425.9 1542.7,426.8 1543.1,426.8 1543.4,424.1 1543.8,425.3 1544.1,426.8 1544.5,426.8 1544.9,426.2 1545.2,425.6 1545.6,425.7 1545.9,426.3 1546.3,425.7 1546.6,426.7 1547.0,424.3 1547.4,426.6 1547.7,425.6 1548.1,426.6 1548.4,425.2 1548.8,425.9 1549.1,426.0 1549.5,426.1 1549.9,426.8 1550.2,424.6 1550.6,426.4 1550.9,426.2 1551.3,426.3 1551.6,426.8 1552.0,423.3 1552.4,424.5 1552.7,425.9 1553.1,426.8 1553.4,426.5 1553.8,426.8 1554.1,426.3 1554.5,426.8 1554.9,424.6 1555.2,425.8 1555.6,426.5 1555.9,425.5 1556.3,425.6 1556.6,426.5 1557.0,426.8 1557.4,425.7 1557.7,426.4 1558.1,426.8 1558.4,423.4 1558.8,424.6 1559.1,426.4 1559.5,426.8 1559.9,426.0 1560.2,426.8 1560.6,425.0 1560.9,425.9 1561.3,426.3 1561.6,426.8 1562.0,426.3 1562.4,426.8 1562.7,423.4 1563.1,423.4 1563.4,424.4 1563.8,426.6 1564.1,426.0 1564.5,424.5 1564.9,425.4 1565.2,424.3 1565.6,426.6 1565.9,425.0 1566.3,426.3 1566.6,423.8 1567.0,425.1 1567.4,425.3 1567.7,425.2 1568.1,425.2 1568.4,426.7 1568.8,426.0 1569.1,423.5 1569.5,423.4 1569.9,426.8 1570.2,426.8 1570.6,425.4 1570.9,426.8 1571.3,425.5 1571.6,423.4 1572.0,426.1 1572.4,426.8 1572.7,425.6 1573.1,426.7 1573.4,424.9 1573.8,426.3 1574.1,425.0 1574.5,426.8 1574.9,425.9 1575.2,426.8 1575.6,426.2 1575.9,426.8 1576.3,426.6 1576.6,424.9 1577.0,425.7 1577.4,423.5 1577.7,426.7 1578.1,425.9 1578.4,426.1 1578.8,426.3 1579.1,423.7 1579.5,425.0 1579.9,425.4 1580.2,425.8 1580.6,426.8 1580.9,426.0 1581.3,426.8 1581.6,423.5 1582.0,426.8 1582.4,426.8 1582.7,425.5 1583.1,423.9 1583.4,425.7 1583.8,426.6 1584.1,426.8 1584.5,424.9 1584.9,426.1 1585.2,425.8 1585.6,425.8 1585.9,425.6 1586.3,426.4 1586.6,423.5 1587.0,426.4 1587.4,425.4 1587.7,426.8 1588.1,426.8 1588.4,426.8 1588.8,426.8 1589.1,424.6 1589.5,426.0 1589.9,426.1 1590.2,425.7 1590.6,426.8 1590.9,424.1 1591.3,426.3 1591.6,426.0 1592.0,425.3 1592.4,425.5 1592.7,426.3 1593.1,425.4 1593.4,426.6 1593.8,426.8 1594.1,426.0 1594.5,425.6 1594.9,426.0 1595.2,426.1 1595.6,425.5 1595.9,426.4 1596.3,426.8 1596.6,426.2 1597.0,425.5 1597.4,426.1 1597.7,426.0 1598.1,426.8 1598.4,424.8 1598.8,425.5 1599.1,425.0 1599.5,424.9 1599.9,425.3 1600.2,423.6 1600.6,424.3 1600.9,425.6 1601.3,423.6 1601.6,426.5 1602.0,426.2 1602.4,424.0 1602.7,425.1 1603.1,425.6 1603.4,425.5 1603.8,426.6 1604.1,426.8 1604.5,424.1 1604.9,426.6 1605.2,426.4 1605.6,426.8 1605.9,425.8 1606.3,426.5 1606.6,426.8 1607.0,423.9 1607.4,425.0 1607.7,426.2 1608.1,426.7 1608.4,426.7 1608.8,426.3 1609.1,426.8 1609.5,426.4 1609.9,425.9 1610.2,426.1 1610.6,426.8 1610.9,426.8 1611.3,425.8 1611.6,426.2 1612.0,426.8 1612.4,424.1 1612.7,426.4 1613.1,426.8 1613.4,426.5 1613.8,425.8 1614.1,425.6 1614.5,425.3 1614.9,426.6 1615.2,426.4 1615.6,426.6 1615.9,426.8 1616.3,426.4 1616.6,425.4 1617.0,425.7 1617.4,426.1 1617.7,425.3 1618.1,426.8 1618.4,425.3 1618.8,426.4 1619.1,426.8 1619.5,424.2 1619.9,426.0 1620.2,426.8 1620.6,426.3 1620.9,425.0 1621.3,425.0 1621.6,426.8 1622.0,426.3" fill="none" stroke="#33a55e" stroke-width="1.0" stroke-opacity="0.8" stroke-linejoin="round"/>
<rect x="909.20" y="354.30" width="712.50" height="72.20" fill="none" stroke="#fff" stroke-width="0.8" stroke-opacity="0.8"/>
<rect x="907.90" y="353.00" width="715.10" height="74.80" fill="none" stroke="#555" stroke-width="1.4"/>
<text transform="translate(908.10,444.36) scale(1.09,1)" font-size="18.5" text-anchor="middle">0</text>
<text transform="translate(979.49,444.36) scale(1.09,1)" font-size="18.5" text-anchor="middle">50</text>
<text transform="translate(1050.88,444.36) scale(1.09,1)" font-size="18.5" text-anchor="middle">100</text>
<text transform="translate(1122.27,444.36) scale(1.09,1)" font-size="18.5" text-anchor="middle">150</text>
<text transform="translate(1193.66,444.36) scale(1.09,1)" font-size="18.5" text-anchor="middle">200</text>
<text transform="translate(1265.05,444.36) scale(1.09,1)" font-size="18.5" text-anchor="middle">250</text>
<text transform="translate(1336.44,444.36) scale(1.09,1)" font-size="18.5" text-anchor="middle">300</text>
<text transform="translate(1407.83,444.36) scale(1.09,1)" font-size="18.5" text-anchor="middle">350</text>
<text transform="translate(1479.22,444.36) scale(1.09,1)" font-size="18.5" text-anchor="middle">400</text>
<text transform="translate(1550.61,444.36) scale(1.09,1)" font-size="18.5" text-anchor="middle">450</text>
<text transform="translate(1622.00,444.36) scale(1.09,1)" font-size="18.5" text-anchor="middle">500</text>
<text transform="translate(902.05,362.26) scale(1.09,1)" font-size="18.5" text-anchor="end">2</text>
<text transform="translate(902.05,397.86) scale(1.09,1)" font-size="18.5" text-anchor="end">1</text>
<text transform="translate(902.05,433.96) scale(1.09,1)" font-size="18.5" text-anchor="end">0</text>
<text transform="translate(869.20,401.70) rotate(-90)" font-size="19.8" text-anchor="middle">Amp (m/s<tspan dy="-7.5" font-size="11.5">2</tspan><tspan dy="7.5">)</tspan></text>
<text transform="translate(918.41,324.00) scale(1.0454,1)" font-size="19.5" text-anchor="start">FFT of rockfall vibration signal on the protective net (Sensor D,  x direction, 3000kj)</text>
<text x="909.90" y="346.30" font-size="19">×10<tspan dy="-8.5" font-size="10.5">5</tspan></text>
<rect x="909.00" y="508.40" width="715.00" height="75.50" fill="url(#bg)"/>
<line x1="980.40" y1="509.40" x2="980.40" y2="582.90" class="g"/>
<line x1="1051.80" y1="509.40" x2="1051.80" y2="582.90" class="g"/>
<line x1="1123.20" y1="509.40" x2="1123.20" y2="582.90" class="g"/>
<line x1="1194.60" y1="509.40" x2="1194.60" y2="582.90" class="g"/>
<line x1="1266.00" y1="509.40" x2="1266.00" y2="582.90" class="g"/>
<line x1="1337.40" y1="509.40" x2="1337.40" y2="582.90" class="g"/>
<line x1="1408.80" y1="509.40" x2="1408.80" y2="582.90" class="g"/>
<line x1="1480.20" y1="509.40" x2="1480.20" y2="582.90" class="g"/>
<line x1="1551.60" y1="509.40" x2="1551.60" y2="582.90" class="g"/>
<line x1="910.00" y1="546.15" x2="1623.00" y2="546.15" class="g"/>
<polyline points="909.0,542.2 909.3,567.2 909.5,552.4 909.8,559.5 910.1,568.4 910.4,541.4 910.6,545.4 910.9,565.5 911.2,531.3 911.5,569.7 911.7,519.2 912.0,553.0 912.3,560.5 912.6,575.2 912.8,538.7 913.1,555.7 913.4,562.3 913.7,563.6 913.9,552.4 914.2,563.9 914.5,558.1 914.8,563.1 915.0,576.6 915.3,567.5 915.6,542.6 915.9,544.2 916.1,552.0 916.4,559.7 916.7,527.4 917.0,542.9 917.2,567.9 917.5,556.2 917.8,530.7 918.1,546.5 918.3,563.4 918.6,559.9 918.9,558.2 919.2,538.2 919.4,550.4 919.7,562.6 920.0,560.4 920.3,574.6 920.5,559.3 920.8,568.7 921.1,574.6 921.4,574.7 921.6,569.3 921.9,551.4 922.2,570.7 922.5,556.8 922.7,555.5 923.0,529.8 923.3,560.8 923.6,548.0 923.8,578.4 924.1,554.0 924.4,526.1 924.7,576.0 924.9,538.8 925.2,571.9 925.5,553.0 925.8,577.0 926.0,574.6 926.3,572.8 926.6,539.8 926.9,548.1 927.1,553.7 927.4,554.3 927.7,566.9 928.0,558.9 928.2,560.5 928.5,534.0 928.8,561.5 929.1,527.3 929.3,564.8 929.6,537.8 929.9,544.4 930.2,527.1 930.4,569.4 930.7,543.2 931.0,561.0 931.3,559.9 931.5,558.8 931.8,575.0 932.1,542.6 932.4,556.7 932.6,574.5 932.9,551.2 933.2,522.6 933.5,564.4 933.7,554.3 934.0,561.7 934.3,576.6 934.5,556.3 934.8,565.0 935.1,564.5 935.4,572.1 935.6,571.3 935.9,528.6 936.2,557.1 936.5,557.8 936.7,549.8 937.0,564.6 937.3,572.6 937.6,557.2 937.8,564.0 938.1,564.1 938.4,575.6 938.7,563.6 938.9,575.7 939.2,542.2 939.5,565.2 939.8,553.3 940.0,558.2 940.3,563.1 940.6,566.4 940.9,579.0 941.1,555.9 941.4,575.1 941.7,569.9 942.0,535.7 942.2,565.4 942.5,565.8 942.8,554.8 943.1,568.8 943.3,565.7 943.6,567.6 943.9,554.7 944.2,574.9 944.4,565.4 944.7,530.9 945.0,556.9 945.3,562.5 945.5,568.4 945.8,579.5 946.1,542.9 946.4,541.8 946.6,532.4 946.9,562.6 947.2,558.9 947.5,568.5 947.7,549.0 948.0,559.4 948.3,568.4 948.6,568.4 948.8,566.6 949.1,536.7 949.4,552.3 949.7,575.3 949.9,541.7 950.2,553.2 950.5,550.8 950.8,571.8 951.0,573.7 951.3,554.2 951.6,540.9 951.9,567.1 952.1,575.6 952.4,567.8 952.7,549.4 953.0,550.2 953.2,570.7 953.5,573.4 953.8,562.8 954.1,568.1 954.3,548.9 954.6,563.8 954.9,571.0 955.2,564.9 955.4,571.2 955.7,556.1 956.0,536.4 956.3,540.5 956.5,570.8 956.8,551.5 957.1,567.0 957.4,576.3 957.6,573.7 957.9,566.9 958.2,550.5 958.4,571.3 958.7,553.2 959.0,576.6 959.3,550.4 959.5,556.2 959.8,576.4 960.1,576.4 960.4,570.6 960.6,573.4 960.9,561.0 961.2,567.0 961.5,565.4 961.7,573.0 962.0,549.5 962.3,578.5 962.6,567.9 962.8,571.6 963.1,558.2 963.4,562.3 963.7,573.9 963.9,574.4 964.2,575.7 964.5,578.6 964.8,570.7 965.0,565.7 965.3,574.0 965.6,564.5 965.9,577.4 966.1,577.0 966.4,562.3 966.7,564.4 967.0,573.5 967.2,572.9 967.5,575.8 967.8,581.8 968.1,575.5 968.3,559.4 968.6,573.5 968.9,568.1 969.2,578.7 969.4,569.7 969.7,572.3 970.0,559.4 970.3,576.4 970.5,574.1 970.8,577.0 971.1,569.7 971.4,580.6 971.6,569.8 971.9,567.4 972.2,577.3 972.5,575.7 972.7,575.9 973.0,566.1 973.3,578.8 973.6,564.6 973.8,580.1 974.1,581.5 974.4,568.0 974.7,580.7 974.9,572.6 975.2,573.4 975.5,565.8 975.8,570.9 976.0,559.4 976.3,571.1 976.6,576.6 976.9,565.7 977.1,580.9 977.4,573.2 977.7,580.6 978.0,579.6 978.2,577.1 978.5,575.8 978.8,581.6 979.1,576.9 979.3,575.3 979.6,578.3 979.9,576.9 980.2,571.9 980.4,579.4 980.7,578.0 981.0,578.4 981.3,578.7 981.5,582.0 981.8,566.7 982.1,575.7 982.4,577.8 982.6,569.7 982.9,582.4 983.2,580.6 983.4,582.5 983.7,582.2 984.0,582.8 984.3,574.5 984.5,572.9 984.8,577.5 985.1,568.1 985.4,572.3 985.6,564.5 985.9,572.1 986.2,575.5 986.5,581.6 986.7,580.4 987.0,577.8 987.3,580.2 987.6,574.1 987.8,581.3 988.1,575.3 988.4,577.4 988.7,577.1 988.9,581.1 989.2,572.9 989.5,572.2 989.8,577.9 990.0,577.2 990.3,573.3 990.6,580.2 990.9,574.4 991.1,577.6 991.4,573.2 991.7,574.1 992.0,577.9 992.2,578.3 992.5,577.0 992.8,578.1 993.1,572.3 993.3,571.7 993.6,575.8 993.9,578.8 994.2,575.9 994.4,572.3 994.7,575.2 995.0,582.7 995.3,580.9 995.5,577.1 995.8,570.7 996.1,576.6 996.4,574.3 996.6,575.0 996.9,581.1 997.2,576.0 997.5,576.6 997.7,576.3 998.0,568.8 998.3,578.1 998.6,565.0 998.8,576.1 999.1,575.8 999.4,572.2 999.7,575.0 999.9,581.1 1000.2,573.0 1000.5,580.2 1000.8,563.9 1001.0,576.4 1001.3,563.7 1001.6,573.4 1001.9,559.4 1002.1,573.6 1002.4,577.9 1002.7,559.4 1003.0,571.6 1003.2,574.4 1003.5,563.3 1003.8,572.8 1004.1,575.0 1004.3,578.1 1004.6,576.1 1004.9,568.0 1005.2,578.7 1005.4,574.2 1005.7,571.4 1006.0,574.5 1006.3,575.1 1006.5,581.5 1006.8,567.9 1007.1,580.5 1007.4,574.6 1007.6,580.2 1007.9,576.3 1008.2,568.7 1008.4,564.1 1008.7,581.4 1009.0,576.5 1009.3,570.6 1009.5,575.5 1009.8,559.4 1010.1,579.1 1010.4,579.2 1010.6,569.9 1010.9,570.5 1011.2,563.5 1011.5,580.5 1011.7,582.3 1012.0,579.3 1012.3,564.3 1012.6,574.6 1012.8,574.7 1013.1,577.0 1013.4,578.2 1013.7,579.6 1013.9,569.3 1014.2,581.3 1014.5,569.6 1014.8,573.6 1015.0,578.4 1015.3,577.6 1015.6,581.3 1015.9,567.2 1016.1,572.2 1016.4,569.7 1016.7,573.1 1017.0,580.8 1017.2,570.2 1017.5,565.7 1017.8,577.6 1018.1,576.6 1018.3,565.2 1018.6,575.7 1018.9,581.1 1019.2,580.8 1019.4,580.0 1019.7,572.3 1020.0,574.7 1020.3,582.9 1020.5,577.4 1020.8,580.5 1021.1,580.0 1021.4,577.7 1021.6,580.6 1021.9,576.2 1022.2,582.5 1022.5,582.6 1022.7,579.7 1023.0,581.7 1023.3,573.9 1023.6,575.2 1023.8,577.4 1024.1,575.6 1024.4,582.9 1024.7,580.1 1024.9,577.8 1025.2,574.7 1025.5,577.1 1025.8,579.3 1026.0,580.0 1026.3,573.8 1026.6,577.4 1026.9,574.0 1027.1,581.5 1027.4,574.8 1027.7,582.0 1028.0,579.2 1028.2,578.8 1028.5,582.0 1028.8,572.2 1029.1,578.6 1029.3,582.0 1029.6,576.1 1029.9,579.3 1030.2,577.0 1030.4,576.4 1030.7,570.5 1031.0,577.3 1031.3,576.6 1031.5,571.1 1031.8,579.4 1032.1,579.3 1032.3,575.9 1032.6,576.6 1032.9,579.4 1033.2,572.1 1033.4,570.0 1033.7,569.6 1034.0,576.1 1034.3,574.3 1034.5,573.0 1034.8,577.0 1035.1,572.9 1035.4,577.5 1035.6,579.4 1035.9,577.8 1036.2,580.9 1036.5,570.4 1036.7,580.9 1037.0,579.3 1037.3,581.3 1037.6,574.4 1037.8,575.5 1038.1,574.1 1038.4,572.4 1038.7,575.0 1038.9,577.0 1039.2,576.1 1039.5,574.0 1039.8,580.9 1040.0,580.2 1040.3,577.2 1040.6,578.1 1040.9,572.1 1041.1,579.3 1041.4,582.0 1041.7,579.7 1042.0,580.7 1042.2,578.6 1042.5,581.5 1042.8,576.8 1043.1,578.9 1043.3,580.2 1043.6,573.3 1043.9,569.6 1044.2,576.2 1044.4,581.5 1044.7,577.7 1045.0,576.0 1045.3,578.2 1045.5,580.8 1045.8,579.2 1046.1,573.1 1046.4,582.4 1046.6,582.2 1046.9,576.0 1047.2,574.4 1047.5,576.9 1047.7,573.0 1048.0,577.8 1048.3,576.5 1048.6,578.5 1048.8,574.9 1049.1,582.5 1049.4,578.8 1049.7,579.1 1049.9,581.5 1050.2,578.1 1050.5,575.5 1050.8,581.0 1051.0,569.6 1051.3,580.5 1051.6,573.0 1051.9,582.5 1052.1,577.8 1052.4,582.1 1052.7,579.7 1053.0,574.7 1053.2,576.9 1053.5,573.8 1053.8,578.6 1054.1,581.8 1054.3,582.3 1054.6,579.2 1054.9,575.5 1055.2,573.3 1055.4,577.6 1055.7,582.5 1056.0,581.6 1056.3,578.6 1056.5,578.9 1056.8,575.6 1057.1,579.6 1057.3,580.9 1057.6,582.0 1057.9,577.6 1058.2,575.7 1058.4,577.8 1058.7,581.7 1059.0,578.7 1059.3,575.8 1059.5,579.6 1059.8,582.7 1060.1,580.9 1060.4,578.4 1060.6,581.9 1060.9,580.4 1061.2,573.4 1061.5,581.9 1061.7,579.9 1062.0,578.4 1062.3,581.3 1062.6,577.0 1062.8,581.6 1063.1,578.8 1063.4,582.9 1063.7,573.3 1063.9,579.3 1064.2,581.1 1064.5,581.9 1064.8,582.8 1065.0,580.9 1065.3,576.7 1065.6,581.0 1065.9,575.0 1066.1,573.3 1066.4,579.0 1066.7,582.0 1067.0,580.5 1067.2,578.0 1067.5,580.3 1067.8,578.4 1068.1,578.1 1068.3,581.6 1068.6,580.8 1068.9,578.4 1069.2,579.4 1069.4,579.4 1069.7,582.0 1070.0,575.8 1070.3,582.9 1070.5,577.6 1070.8,580.8 1071.1,577.4 1071.4,580.6 1071.6,577.1 1071.9,578.7 1072.2,574.3 1072.5,577.9 1072.7,575.9 1073.0,580.4 1073.3,578.0 1073.6,578.2 1073.8,581.3 1074.1,577.5 1074.4,579.2 1074.7,575.5 1074.9,579.4 1075.2,576.3 1075.5,580.7 1075.8,580.4 1076.0,579.1 1076.3,582.5 1076.6,579.9 1076.9,576.0 1077.1,578.4 1077.4,575.1 1077.7,575.4 1078.0,582.1 1078.2,581.0 1078.5,577.7 1078.8,579.8 1079.1,577.2 1079.3,579.6 1079.6,581.4 1079.9,580.8 1080.2,579.1 1080.4,576.0 1080.7,582.9 1081.0,579.4 1081.3,579.1 1081.5,575.6 1081.8,582.7 1082.1,580.1 1082.3,578.0 1082.6,581.4 1082.9,578.3 1083.2,581.0 1083.4,579.3 1083.7,579.1 1084.0,582.1 1084.3,579.2 1084.5,579.5 1084.8,581.3 1085.1,582.5 1085.4,577.3 1085.6,579.7 1085.9,579.5 1086.2,580.3 1086.5,580.3 1086.7,579.0 1087.0,579.1 1087.3,580.4 1087.6,578.9 1087.8,580.3 1088.1,579.8 1088.4,580.3 1088.7,582.9 1088.9,582.5 1089.2,575.6 1089.5,579.6 1089.8,581.8 1090.0,578.6 1090.3,576.7 1090.6,580.4 1090.9,580.0 1091.1,575.5 1091.4,575.3 1091.7,576.8 1092.0,579.7 1092.2,580.4 1092.5,582.6 1092.8,577.9 1093.1,581.4 1093.3,577.5 1093.6,576.4 1093.9,579.5 1094.2,578.7 1094.4,578.6 1094.7,581.0 1095.0,580.7 1095.3,580.6 1095.5,578.5 1095.8,576.5 1096.1,577.7 1096.4,578.7 1096.6,582.3 1096.9,580.2 1097.2,579.8 1097.5,578.1 1097.7,577.1 1098.0,579.9 1098.3,577.6 1098.6,580.2 1098.8,581.5 1099.1,582.5 1099.4,581.4 1099.7,580.7 1099.9,579.3 1100.2,578.5 1100.5,581.2 1100.8,581.8 1101.0,581.1 1101.3,581.7 1101.6,582.3 1101.9,580.5 1102.1,582.3 1102.4,580.6 1102.7,581.0 1103.0,582.1 1103.2,580.3 1103.5,582.1 1103.8,580.1 1104.1,580.9 1104.3,582.6 1104.6,581.7 1104.9,582.6 1105.2,581.6 1105.4,582.5 1105.7,582.5 1106.0,581.4 1106.2,580.7 1106.5,582.7 1106.8,581.4 1107.1,580.7 1107.3,580.1 1107.6,581.7 1107.9,578.3 1108.2,578.4 1108.4,580.2 1108.7,582.1 1109.0,582.7 1109.3,582.6 1109.5,579.5 1109.8,582.9 1110.1,581.8 1110.4,580.1 1110.6,582.5 1110.9,582.9 1111.2,582.4 1111.5,580.8 1111.7,581.1 1112.0,582.6 1112.3,582.8 1112.6,581.3 1112.8,581.4 1113.1,580.7 1113.4,582.5 1113.7,581.5 1113.9,580.2 1114.2,578.9 1114.5,580.6 1114.8,579.9 1115.0,582.6 1115.3,581.6 1115.6,578.6 1115.9,581.2 1116.1,582.6 1116.4,582.0 1116.7,582.6 1117.0,580.2 1117.2,582.6 1117.5,581.8 1117.8,581.6 1118.1,581.6 1118.3,580.2 1118.6,582.6 1118.9,582.7 1119.2,582.6 1119.4,581.8 1119.7,579.6 1120.0,580.8 1120.3,581.8 1120.5,582.1 1120.8,580.4 1121.1,581.1 1121.4,580.9 1121.6,579.8 1121.9,582.9 1122.2,580.4 1122.5,578.5 1122.7,581.6 1123.0,582.9 1123.3,582.9 1123.6,579.7 1123.8,582.7 1124.1,580.6 1124.4,580.7 1124.7,582.0 1124.9,582.5 1125.2,582.7 1125.5,582.3 1125.8,581.2 1126.0,580.3 1126.3,581.7 1126.6,582.9 1126.9,580.4 1127.1,581.7 1127.4,581.8 1127.7,580.8 1128.0,582.9 1128.2,582.7 1128.5,582.6 1128.8,582.4 1129.1,581.8 1129.3,582.7 1129.6,582.9 1129.9,582.9 1130.2,582.1 1130.4,581.9 1130.7,582.7 1131.0,581.7 1131.2,581.2 1131.5,582.2 1131.8,581.6 1132.1,582.7 1132.3,582.1 1132.6,582.1 1132.9,581.1 1133.2,580.7 1133.4,582.3 1133.7,581.1 1134.0,582.5 1134.3,580.1 1134.5,582.9 1134.8,581.4 1135.1,582.5 1135.4,582.3 1135.6,582.1 1135.9,582.7 1136.2,581.6 1136.5,580.0 1136.7,578.9 1137.0,582.9 1137.3,582.8 1137.6,582.1 1137.8,579.4 1138.1,580.9 1138.4,582.2 1138.7,579.3 1138.9,580.1 1139.2,582.0 1139.5,579.4 1139.8,580.5 1140.0,581.0 1140.3,580.8 1140.6,579.6 1140.9,581.0 1141.1,581.2 1141.4,581.9 1141.7,579.3 1142.0,582.4 1142.2,580.2 1142.5,582.6 1142.8,582.6 1143.1,582.6 1143.3,580.0 1143.6,581.0 1143.9,582.5 1144.2,582.8 1144.4,581.1 1144.7,582.9 1145.0,579.9 1145.3,582.6 1145.5,581.2 1145.8,582.6 1146.1,581.3 1146.4,579.9 1146.6,580.5 1146.9,581.4 1147.2,581.8 1147.5,582.0 1147.7,581.1 1148.0,580.9 1148.3,581.3 1148.6,581.9 1148.8,581.0 1149.1,582.2 1149.4,582.5 1149.7,582.9 1149.9,582.7 1150.2,579.2 1150.5,581.4 1150.8,582.2 1151.0,579.5 1151.3,582.9 1151.6,582.3 1151.9,582.1 1152.1,582.6 1152.4,580.7 1152.7,582.5 1153.0,581.9 1153.2,579.2 1153.5,581.8 1153.8,582.6 1154.1,581.5 1154.3,580.4 1154.6,582.3 1154.9,582.9 1155.2,582.1 1155.4,580.7 1155.7,582.9 1156.0,582.4 1156.2,582.7 1156.5,580.1 1156.8,580.6 1157.1,582.9 1157.3,582.9 1157.6,582.6 1157.9,580.9 1158.2,582.7 1158.4,581.7 1158.7,581.2 1159.0,580.0 1159.3,579.4 1159.5,582.1 1159.8,580.5 1160.1,579.0 1160.4,579.0 1160.6,580.6 1160.9,581.5 1161.2,582.9 1161.5,581.7 1161.7,582.6 1162.0,580.8 1162.3,582.8 1162.6,581.9 1162.8,582.7 1163.1,580.8 1163.4,582.0 1163.7,582.2 1163.9,582.9 1164.2,581.3 1164.5,582.9 1164.8,582.5 1165.0,580.7 1165.3,582.0 1165.6,582.5 1165.9,580.6 1166.1,582.7 1166.4,579.1 1166.7,582.5 1167.0,582.7 1167.2,580.3 1167.5,582.9 1167.8,580.4 1168.1,581.7 1168.3,580.9 1168.6,582.1 1168.9,582.6 1169.2,582.1 1169.4,582.8 1169.7,582.9 1170.0,582.4 1170.3,581.5 1170.5,582.7 1170.8,582.9 1171.1,581.2 1171.4,582.9 1171.6,580.6 1171.9,582.8 1172.2,582.7 1172.5,582.1 1172.7,582.6 1173.0,581.9 1173.3,581.0 1173.6,582.0 1173.8,582.0 1174.1,581.6 1174.4,582.4 1174.7,582.2 1174.9,582.2 1175.2,582.6 1175.5,581.9 1175.8,579.3 1176.0,581.6 1176.3,582.8 1176.6,582.6 1176.9,582.0 1177.1,582.9 1177.4,581.5 1177.7,581.4 1178.0,581.6 1178.2,581.8 1178.5,582.6 1178.8,582.3 1179.1,582.6 1179.3,582.0 1179.6,580.6 1179.9,582.4 1180.1,581.3 1180.4,582.2 1180.7,582.1 1181.0,580.2 1181.2,582.6 1181.5,580.5 1181.8,582.7 1182.1,581.2 1182.3,582.4 1182.6,580.6 1182.9,582.9 1183.2,581.0 1183.4,580.9 1183.7,579.5 1184.0,581.3 1184.3,582.7 1184.5,581.4 1184.8,582.5 1185.1,579.4 1185.4,581.0 1185.6,581.8 1185.9,582.9 1186.2,582.4 1186.5,581.7 1186.7,580.1 1187.0,582.9 1187.3,582.6 1187.6,581.3 1187.8,579.4 1188.1,579.4 1188.4,582.6 1188.7,581.3 1188.9,582.8 1189.2,582.7 1189.5,581.7 1189.8,582.3 1190.0,581.8 1190.3,582.4 1190.6,582.9 1190.9,582.8 1191.1,582.7 1191.4,581.0 1191.7,582.9 1192.0,582.9 1192.2,582.9 1192.5,581.0 1192.8,581.8 1193.1,582.7 1193.3,582.8 1193.6,582.7 1193.9,582.9 1194.2,582.2 1194.4,580.4 1194.7,580.1 1195.0,579.9 1195.3,582.9 1195.5,581.2 1195.8,582.5 1196.1,582.0 1196.4,582.6 1196.6,581.5 1196.9,582.5 1197.2,580.8 1197.5,582.8 1197.7,582.4 1198.0,581.3 1198.3,582.9 1198.6,582.9 1198.8,582.9 1199.1,581.6 1199.4,580.0 1199.7,582.2 1199.9,582.3 1200.2,582.9 1200.5,582.9 1200.8,582.9 1201.0,582.1 1201.3,582.6 1201.6,582.5 1201.9,581.9 1202.1,580.7 1202.4,582.9 1202.7,582.9 1203.0,582.9 1203.2,581.1 1203.5,582.4 1203.8,580.9 1204.1,582.1 1204.3,582.9 1204.6,581.7 1204.9,582.9 1205.1,581.1 1205.4,582.8 1205.7,582.9 1206.0,581.0 1206.2,581.2 1206.5,581.8 1206.8,582.2 1207.1,581.6 1207.3,582.8 1207.6,582.9 1207.9,582.5 1208.2,581.8 1208.4,582.9 1208.7,581.5 1209.0,580.9 1209.3,582.4 1209.5,582.6 1209.8,582.9 1210.1,581.2 1210.4,582.5 1210.6,580.1 1210.9,582.2 1211.2,582.0 1211.5,582.6 1211.7,582.1 1212.0,581.5 1212.3,582.8 1212.6,581.9 1212.8,579.8 1213.1,582.5 1213.4,582.9 1213.7,580.6 1213.9,582.9 1214.2,580.0 1214.5,580.4 1214.8,582.6 1215.0,582.2 1215.3,582.9 1215.6,582.0 1215.9,582.9 1216.1,581.1 1216.4,582.9 1216.7,580.7 1217.0,582.9 1217.2,582.5 1217.5,582.9 1217.8,582.5 1218.1,582.9 1218.3,580.6 1218.6,581.3 1218.9,580.0 1219.2,582.3 1219.4,581.9 1219.7,582.2 1220.0,580.1 1220.3,582.1 1220.5,581.4 1220.8,582.7 1221.1,581.6 1221.4,581.6 1221.6,582.4 1221.9,582.9 1222.2,582.9 1222.5,581.3 1222.7,580.5 1223.0,582.9 1223.3,582.1 1223.6,581.9 1223.8,582.8 1224.1,581.0 1224.4,582.9 1224.7,581.8 1224.9,582.2 1225.2,581.7 1225.5,582.1 1225.8,582.9 1226.0,582.9 1226.3,581.8 1226.6,580.9 1226.9,582.3 1227.1,580.9 1227.4,580.0 1227.7,582.1 1228.0,582.7 1228.2,582.9 1228.5,582.1 1228.8,580.9 1229.1,582.9 1229.3,582.3 1229.6,580.0 1229.9,581.5 1230.1,581.7 1230.4,582.8 1230.7,582.9 1231.0,581.5 1231.2,581.3 1231.5,582.9 1231.8,582.9 1232.1,582.9 1232.3,582.2 1232.6,582.2 1232.9,582.6 1233.2,580.2 1233.4,581.7 1233.7,582.3 1234.0,582.9 1234.3,582.9 1234.5,582.3 1234.8,581.0 1235.1,581.8 1235.4,580.9 1235.6,582.8 1235.9,582.6 1236.2,582.4 1236.5,582.9 1236.7,582.0 1237.0,582.9 1237.3,582.3 1237.6,582.4 1237.8,582.7 1238.1,582.9 1238.4,582.8 1238.7,582.6 1238.9,582.8 1239.2,582.7 1239.5,582.7 1239.8,582.6 1240.0,582.9 1240.3,582.9 1240.6,582.9 1240.9,582.5 1241.1,581.8 1241.4,582.7 1241.7,582.9 1242.0,582.1 1242.2,582.9 1242.5,582.6 1242.8,581.4 1243.1,582.5 1243.3,582.8 1243.6,582.8 1243.9,582.2 1244.2,580.3 1244.4,582.2 1244.7,581.5 1245.0,582.9 1245.3,580.3 1245.5,582.4 1245.8,581.5 1246.1,580.3 1246.4,582.2 1246.6,581.4 1246.9,582.9 1247.2,581.4 1247.5,582.9 1247.7,582.9 1248.0,582.8 1248.3,582.4 1248.6,582.1 1248.8,582.9 1249.1,582.2 1249.4,582.9 1249.7,580.6 1249.9,581.1 1250.2,582.6 1250.5,582.7 1250.8,582.4 1251.0,580.8 1251.3,582.0 1251.6,581.7 1251.9,582.0 1252.1,580.4 1252.4,582.9 1252.7,581.3 1253.0,582.8 1253.2,582.9 1253.5,582.8 1253.8,582.9 1254.0,581.7 1254.3,582.1 1254.6,582.5 1254.9,581.6 1255.1,582.8 1255.4,582.4 1255.7,582.3 1256.0,582.5 1256.2,582.9 1256.5,581.9 1256.8,582.9 1257.1,582.9 1257.3,582.9 1257.6,582.7 1257.9,582.0 1258.2,582.3 1258.4,581.1 1258.7,582.4 1259.0,582.9 1259.3,581.3 1259.5,582.9 1259.8,582.9 1260.1,581.8 1260.4,582.8 1260.6,580.9 1260.9,582.9 1261.2,582.9 1261.5,582.9 1261.7,582.0 1262.0,581.5 1262.3,582.9 1262.6,582.8 1262.8,581.9 1263.1,582.2 1263.4,582.4 1263.7,582.1 1263.9,582.4 1264.2,582.9 1264.5,582.9 1264.8,582.6 1265.0,582.9 1265.3,582.8 1265.6,582.6 1265.9,580.6 1266.1,582.3 1266.4,582.9 1266.7,582.5 1267.0,582.5 1267.2,582.1 1267.5,582.1 1267.8,582.9 1268.1,581.7 1268.3,582.5 1268.6,582.9 1268.9,582.6 1269.2,582.9 1269.4,582.2 1269.7,582.1 1270.0,582.2 1270.3,582.8 1270.5,582.9 1270.8,582.9 1271.1,582.8 1271.4,582.5 1271.6,582.9 1271.9,581.8 1272.2,582.7 1272.5,582.9 1272.7,582.9 1273.0,582.9 1273.3,582.9 1273.6,582.8 1273.8,582.9 1274.1,582.9 1274.4,581.6 1274.7,582.1 1274.9,582.3 1275.2,582.0 1275.5,582.3 1275.8,582.4 1276.0,582.9 1276.3,582.4 1276.6,582.5 1276.9,581.8 1277.1,581.8 1277.4,582.2 1277.7,582.6 1278.0,582.9 1278.2,581.5 1278.5,582.5 1278.8,580.9 1279.0,582.9 1279.3,582.9 1279.6,582.3 1279.9,582.9 1280.1,581.0 1280.4,582.9 1280.7,581.9 1281.0,582.0 1281.2,582.3 1281.5,582.4 1281.8,582.1 1282.1,581.5 1282.3,581.5 1282.6,582.7 1282.9,582.9 1283.2,582.0 1283.4,582.9 1283.7,582.6 1284.0,582.9 1284.3,582.9 1284.5,582.9 1284.8,582.2 1285.1,582.5 1285.4,582.9 1285.6,582.0 1285.9,581.8 1286.2,582.1 1286.5,582.4 1286.7,581.5 1287.0,582.9 1287.3,582.1 1287.6,582.3 1287.8,582.4 1288.1,582.8 1288.4,582.9 1288.7,582.9 1288.9,582.7 1289.2,582.0 1289.5,582.4 1289.8,581.0 1290.0,582.9 1290.3,582.6 1290.6,582.9 1290.9,581.3 1291.1,582.9 1291.4,582.9 1291.7,581.9 1292.0,581.6 1292.2,580.9 1292.5,582.7 1292.8,582.9 1293.1,581.3 1293.3,582.4 1293.6,581.4 1293.9,582.9 1294.2,581.8 1294.4,581.7 1294.7,580.8 1295.0,582.8 1295.3,582.7 1295.5,582.2 1295.8,582.9 1296.1,582.0 1296.4,581.2 1296.6,582.5 1296.9,582.4 1297.2,582.9 1297.5,582.9 1297.7,582.9 1298.0,582.9 1298.3,581.9 1298.6,581.9 1298.8,582.9 1299.1,582.8 1299.4,581.0 1299.7,582.7 1299.9,582.7 1300.2,581.7 1300.5,581.9 1300.8,582.7 1301.0,581.8 1301.3,582.9 1301.6,582.9 1301.9,582.9 1302.1,581.5 1302.4,582.9 1302.7,581.9 1302.9,582.6 1303.2,582.9 1303.5,582.9 1303.8,581.4 1304.0,581.8 1304.3,582.3 1304.6,582.0 1304.9,581.7 1305.1,582.8 1305.4,582.8 1305.7,582.9 1306.0,582.9 1306.2,582.5 1306.5,582.9 1306.8,582.3 1307.1,582.4 1307.3,581.7 1307.6,582.9 1307.9,581.9 1308.2,582.6 1308.4,582.9 1308.7,582.3 1309.0,582.4 1309.3,580.7 1309.5,582.0 1309.8,582.1 1310.1,582.9 1310.4,581.3 1310.6,582.9 1310.9,582.7 1311.2,581.5 1311.5,582.9 1311.7,582.6 1312.0,582.0 1312.3,582.9 1312.6,582.9 1312.8,582.2 1313.1,582.9 1313.4,582.1 1313.7,582.8 1313.9,582.2 1314.2,582.6 1314.5,582.9 1314.8,582.4 1315.0,582.5 1315.3,582.8 1315.6,581.7 1315.9,582.4 1316.1,582.2 1316.4,582.9 1316.7,582.8 1317.0,582.9 1317.2,582.1 1317.5,582.9 1317.8,582.9 1318.1,582.8 1318.3,582.7 1318.6,582.1 1318.9,582.9 1319.2,582.9 1319.4,582.9 1319.7,582.0 1320.0,582.9 1320.3,582.9 1320.5,582.9 1320.8,582.6 1321.1,581.9 1321.4,582.3 1321.6,582.6 1321.9,581.5 1322.2,582.3 1322.5,580.8 1322.7,582.3 1323.0,582.9 1323.3,582.1 1323.6,582.7 1323.8,581.8 1324.1,581.6 1324.4,582.5 1324.7,582.2 1324.9,582.3 1325.2,582.8 1325.5,581.3 1325.8,582.9 1326.0,582.9 1326.3,582.4 1326.6,582.6 1326.9,582.9 1327.1,581.7 1327.4,582.2 1327.7,581.4 1327.9,581.4 1328.2,582.0 1328.5,582.9 1328.8,582.6 1329.0,582.2 1329.3,581.9 1329.6,582.7 1329.9,582.9 1330.1,582.9 1330.4,582.6 1330.7,581.6 1331.0,581.5 1331.2,582.5 1331.5,582.4 1331.8,581.7 1332.1,582.5 1332.3,582.4 1332.6,582.9 1332.9,582.6 1333.2,581.8 1333.4,582.6 1333.7,582.9 1334.0,582.9 1334.3,581.7 1334.5,582.9 1334.8,581.4 1335.1,582.9 1335.4,582.9 1335.6,581.5 1335.9,582.3 1336.2,582.9 1336.5,582.9 1336.7,582.2 1337.0,581.8 1337.3,582.4 1337.6,582.9 1337.8,582.9 1338.1,580.8 1338.4,581.9 1338.7,581.8 1338.9,582.2 1339.2,582.9 1339.5,582.9 1339.8,581.9 1340.0,582.5 1340.3,582.9 1340.6,581.9 1340.9,582.6 1341.1,582.3 1341.4,582.9 1341.7,582.3 1342.0,582.8 1342.2,582.7 1342.5,582.5 1342.8,582.4 1343.1,581.9 1343.3,581.9 1343.6,582.9 1343.9,580.9 1344.2,581.5 1344.4,582.9 1344.7,582.2 1345.0,582.8 1345.3,581.5 1345.5,582.6 1345.8,582.5 1346.1,582.3 1346.4,582.9 1346.6,582.8 1346.9,582.9 1347.2,582.9 1347.5,582.9 1347.7,580.9 1348.0,582.6 1348.3,582.5 1348.6,582.2 1348.8,582.9 1349.1,582.1 1349.4,581.8 1349.7,582.8 1349.9,582.0 1350.2,582.9 1350.5,582.9 1350.8,582.9 1351.0,582.9 1351.3,582.0 1351.6,581.8 1351.9,582.3 1352.1,582.9 1352.4,581.1 1352.7,582.9 1352.9,581.6 1353.2,581.8 1353.5,582.1 1353.8,581.2 1354.0,582.9 1354.3,581.6 1354.6,582.5 1354.9,581.8 1355.1,582.9 1355.4,581.9 1355.7,581.7 1356.0,582.9 1356.2,582.9 1356.5,582.0 1356.8,582.1 1357.1,582.9 1357.3,582.3 1357.6,582.7 1357.9,582.9 1358.2,582.9 1358.4,581.9 1358.7,582.9 1359.0,582.6 1359.3,582.7 1359.5,582.7 1359.8,582.9 1360.1,582.9 1360.4,582.9 1360.6,581.2 1360.9,582.0 1361.2,582.9 1361.5,582.9 1361.7,582.6 1362.0,581.8 1362.3,582.6 1362.6,582.9 1362.8,581.6 1363.1,582.9 1363.4,581.9 1363.7,581.2 1363.9,582.1 1364.2,582.1 1364.5,582.6 1364.8,582.5 1365.0,582.6 1365.3,582.9 1365.6,582.9 1365.9,582.3 1366.1,582.9 1366.4,582.7 1366.7,581.1 1367.0,581.3 1367.2,581.4 1367.5,582.4 1367.8,582.9 1368.1,582.6 1368.3,582.4 1368.6,582.8 1368.9,582.9 1369.2,582.9 1369.4,582.9 1369.7,582.3 1370.0,582.1 1370.3,582.9 1370.5,582.7 1370.8,582.9 1371.1,582.1 1371.4,582.9 1371.6,581.7 1371.9,582.9 1372.2,582.9 1372.5,581.9 1372.7,582.8 1373.0,582.2 1373.3,582.3 1373.6,582.0 1373.8,582.3 1374.1,581.6 1374.4,582.9 1374.7,582.8 1374.9,582.9 1375.2,582.9 1375.5,582.9 1375.8,582.9 1376.0,582.9 1376.3,581.6 1376.6,581.9 1376.8,582.7 1377.1,581.7 1377.4,581.9 1377.7,582.9 1377.9,582.8 1378.2,582.5 1378.5,582.0 1378.8,582.9 1379.0,582.9 1379.3,582.9 1379.6,581.0 1379.9,582.9 1380.1,582.9 1380.4,582.4 1380.7,582.9 1381.0,582.2 1381.2,582.4 1381.5,582.9 1381.8,582.9 1382.1,582.9 1382.3,582.9 1382.6,582.9 1382.9,582.9 1383.2,582.5 1383.4,582.9 1383.7,582.9 1384.0,582.6 1384.3,582.9 1384.5,582.1 1384.8,582.9 1385.1,581.0 1385.4,581.6 1385.6,582.9 1385.9,582.9 1386.2,582.9 1386.5,582.8 1386.7,582.9 1387.0,582.5 1387.3,582.9 1387.6,582.0 1387.8,582.9 1388.1,582.1 1388.4,582.3 1388.7,582.9 1388.9,582.9 1389.2,582.9 1389.5,582.6 1389.8,581.9 1390.0,582.3 1390.3,582.9 1390.6,582.5 1390.9,582.9 1391.1,582.4 1391.4,581.0 1391.7,581.7 1392.0,582.1 1392.2,582.5 1392.5,582.8 1392.8,581.6 1393.1,582.9 1393.3,582.9 1393.6,582.4 1393.9,582.9 1394.2,582.9 1394.4,582.9 1394.7,582.9 1395.0,582.1 1395.3,582.1 1395.5,581.8 1395.8,581.7 1396.1,582.9 1396.4,582.5 1396.6,582.3 1396.9,582.8 1397.2,582.2 1397.5,581.6 1397.7,582.9 1398.0,582.9 1398.3,582.9 1398.6,582.9 1398.8,582.9 1399.1,582.9 1399.4,581.9 1399.7,582.4 1399.9,582.6 1400.2,582.5 1400.5,581.2 1400.8,581.9 1401.0,582.8 1401.3,582.5 1401.6,582.7 1401.8,582.9 1402.1,581.9 1402.4,582.9 1402.7,582.9 1402.9,582.5 1403.2,581.0 1403.5,582.9 1403.8,581.7 1404.0,582.7 1404.3,582.9 1404.6,582.9 1404.9,582.2 1405.1,581.0 1405.4,581.9 1405.7,581.4 1406.0,581.6 1406.2,582.9 1406.5,582.9 1406.8,582.9 1407.1,582.9 1407.3,582.1 1407.6,582.9 1407.9,582.8 1408.2,582.9 1408.4,582.6 1408.7,582.2 1409.0,582.9 1409.3,582.3 1409.5,582.4 1409.8,582.3 1410.1,582.2 1410.4,582.9 1410.6,582.1 1410.9,581.6 1411.2,582.9 1411.5,582.9 1411.7,582.3 1412.0,581.9 1412.3,582.9 1412.6,582.4 1412.8,582.9 1413.1,582.9 1413.4,582.5 1413.7,582.9 1413.9,582.3 1414.2,582.1 1414.5,582.9 1414.8,582.5 1415.0,582.3 1415.3,582.9 1415.6,582.3 1415.9,581.7 1416.1,582.2 1416.4,582.9 1416.7,581.9 1417.0,582.4 1417.2,582.9 1417.5,582.9 1417.8,582.9 1418.1,581.9 1418.3,581.5 1418.6,582.1 1418.9,582.9 1419.2,582.4 1419.4,582.9 1419.7,582.5 1420.0,582.9 1420.3,582.9 1420.5,582.6 1420.8,582.5 1421.1,581.5 1421.4,582.9 1421.6,582.0 1421.9,582.5 1422.2,582.8 1422.5,582.9 1422.7,582.9 1423.0,582.4 1423.3,582.9 1423.6,582.9 1423.8,582.5 1424.1,582.9 1424.4,582.5 1424.7,582.9 1424.9,582.7 1425.2,582.9 1425.5,582.9 1425.8,582.9 1426.0,582.8 1426.3,582.7 1426.6,582.5 1426.8,582.9 1427.1,581.9 1427.4,581.6 1427.7,582.9 1427.9,582.9 1428.2,581.8 1428.5,582.9 1428.8,582.6 1429.0,582.9 1429.3,582.9 1429.6,581.6 1429.9,582.9 1430.1,582.9 1430.4,582.6 1430.7,581.9 1431.0,582.4 1431.2,582.9 1431.5,582.9 1431.8,582.5 1432.1,582.9 1432.3,582.3 1432.6,582.5 1432.9,582.1 1433.2,582.9 1433.4,582.9 1433.7,582.2 1434.0,582.6 1434.3,582.2 1434.5,582.9 1434.8,582.8 1435.1,582.5 1435.4,582.4 1435.6,582.9 1435.9,582.6 1436.2,582.9 1436.5,582.6 1436.7,582.7 1437.0,582.6 1437.3,582.5 1437.6,582.7 1437.8,582.4 1438.1,582.9 1438.4,582.9 1438.7,582.8 1438.9,582.8 1439.2,581.5 1439.5,582.9 1439.8,581.6 1440.0,582.1 1440.3,582.6 1440.6,581.9 1440.9,582.9 1441.1,582.9 1441.4,582.9 1441.7,582.9 1442.0,582.9 1442.2,582.6 1442.5,582.9 1442.8,582.9 1443.1,582.3 1443.3,582.9 1443.6,582.9 1443.9,582.9 1444.2,582.9 1444.4,581.0 1444.7,582.9 1445.0,582.9 1445.3,582.9 1445.5,581.6 1445.8,582.9 1446.1,582.7 1446.4,582.1 1446.6,581.8 1446.9,582.9 1447.2,581.0 1447.5,582.4 1447.7,582.9 1448.0,581.6 1448.3,582.2 1448.6,582.8 1448.8,582.4 1449.1,582.9 1449.4,581.9 1449.7,582.9 1449.9,582.9 1450.2,582.5 1450.5,582.3 1450.7,582.9 1451.0,582.8 1451.3,582.7 1451.6,582.1 1451.8,582.9 1452.1,581.9 1452.4,582.6 1452.7,582.5 1452.9,582.9 1453.2,581.7 1453.5,582.9 1453.8,582.8 1454.0,581.4 1454.3,582.7 1454.6,582.9 1454.9,582.9 1455.1,582.3 1455.4,582.7 1455.7,582.9 1456.0,582.9 1456.2,582.9 1456.5,582.9 1456.8,582.4 1457.1,581.1 1457.3,582.9 1457.6,582.9 1457.9,582.9 1458.2,582.9 1458.4,582.9 1458.7,582.9 1459.0,582.9 1459.3,582.8 1459.5,582.6 1459.8,582.1 1460.1,582.8 1460.4,582.0 1460.6,582.9 1460.9,582.5 1461.2,582.9 1461.5,582.7 1461.7,582.3 1462.0,582.9 1462.3,582.9 1462.6,582.9 1462.8,582.9 1463.1,582.3 1463.4,582.5 1463.7,582.3 1463.9,582.7 1464.2,581.4 1464.5,582.9 1464.8,582.9 1465.0,581.8 1465.3,582.9 1465.6,582.9 1465.9,581.1 1466.1,581.6 1466.4,582.8 1466.7,582.8 1467.0,582.0 1467.2,582.9 1467.5,582.9 1467.8,582.9 1468.1,581.4 1468.3,581.9 1468.6,582.0 1468.9,582.4 1469.2,582.9 1469.4,582.5 1469.7,581.4 1470.0,582.5 1470.3,582.9 1470.5,582.9 1470.8,582.9 1471.1,581.7 1471.4,582.9 1471.6,582.2 1471.9,582.8 1472.2,582.9 1472.5,582.9 1472.7,581.6 1473.0,582.9 1473.3,581.1 1473.6,582.8 1473.8,581.3 1474.1,582.6 1474.4,582.9 1474.7,582.1 1474.9,582.9 1475.2,582.0 1475.5,582.4 1475.7,582.9 1476.0,582.6 1476.3,582.9 1476.6,582.9 1476.8,581.1 1477.1,582.9 1477.4,582.7 1477.7,582.2 1477.9,582.2 1478.2,582.9 1478.5,582.4 1478.8,582.9 1479.0,582.7 1479.3,582.9 1479.6,582.4 1479.9,582.9 1480.1,582.4 1480.4,582.5 1480.7,582.9 1481.0,582.9 1481.2,581.9 1481.5,582.1 1481.8,581.6 1482.1,582.4 1482.3,581.9 1482.6,582.9 1482.9,582.9 1483.2,582.3 1483.4,582.9 1483.7,582.5 1484.0,582.9 1484.3,582.0 1484.5,582.4 1484.8,582.6 1485.1,582.0 1485.4,582.9 1485.6,581.8 1485.9,582.9 1486.2,582.2 1486.5,582.9 1486.7,582.5 1487.0,582.0 1487.3,581.9 1487.6,582.9 1487.8,582.8 1488.1,582.8 1488.4,581.8 1488.7,582.8 1488.9,582.8 1489.2,581.4 1489.5,582.9 1489.8,582.4 1490.0,581.8 1490.3,582.1 1490.6,582.9 1490.9,581.1 1491.1,582.9 1491.4,582.8 1491.7,582.2 1492.0,582.9 1492.2,582.9 1492.5,581.4 1492.8,582.8 1493.1,582.5 1493.3,582.3 1493.6,582.8 1493.9,581.2 1494.2,582.3 1494.4,582.2 1494.7,582.7 1495.0,582.9 1495.3,582.3 1495.5,582.9 1495.8,582.1 1496.1,582.1 1496.4,582.9 1496.6,582.9 1496.9,582.9 1497.2,582.9 1497.5,582.6 1497.7,581.2 1498.0,582.9 1498.3,582.0 1498.6,582.9 1498.8,581.3 1499.1,582.6 1499.4,582.8 1499.7,582.9 1499.9,582.9 1500.2,581.5 1500.5,582.9 1500.7,582.9 1501.0,582.9 1501.3,581.6 1501.6,582.5 1501.8,582.9 1502.1,582.8 1502.4,581.6 1502.7,582.9 1502.9,582.5 1503.2,582.6 1503.5,582.9 1503.8,582.6 1504.0,582.8 1504.3,581.9 1504.6,582.9 1504.9,582.4 1505.1,582.8 1505.4,582.9 1505.7,582.9 1506.0,582.6 1506.2,582.1 1506.5,581.7 1506.8,582.9 1507.1,582.9 1507.3,582.7 1507.6,582.8 1507.9,582.3 1508.2,582.9 1508.4,582.6 1508.7,581.2 1509.0,582.9 1509.3,581.9 1509.5,582.9 1509.8,582.9 1510.1,582.9 1510.4,582.9 1510.6,582.9 1510.9,582.9 1511.2,582.9 1511.5,582.9 1511.7,582.5 1512.0,582.2 1512.3,582.7 1512.6,582.7 1512.8,582.9 1513.1,582.9 1513.4,582.9 1513.7,582.6 1513.9,582.5 1514.2,582.9 1514.5,582.9 1514.8,582.9 1515.0,581.6 1515.3,582.9 1515.6,582.3 1515.9,582.7 1516.1,582.9 1516.4,582.1 1516.7,582.9 1517.0,582.9 1517.2,582.8 1517.5,582.3 1517.8,582.9 1518.1,582.7 1518.3,582.9 1518.6,582.0 1518.9,582.9 1519.2,582.9 1519.4,582.9 1519.7,582.7 1520.0,582.7 1520.3,582.5 1520.5,582.9 1520.8,582.9 1521.1,581.7 1521.4,582.8 1521.6,582.9 1521.9,582.5 1522.2,582.9 1522.5,582.2 1522.7,582.9 1523.0,581.6 1523.3,582.6 1523.6,581.8 1523.8,582.9 1524.1,582.9 1524.4,582.7 1524.6,582.7 1524.9,582.7 1525.2,582.9 1525.5,582.2 1525.7,582.9 1526.0,581.9 1526.3,582.9 1526.6,581.9 1526.8,582.5 1527.1,582.0 1527.4,582.8 1527.7,582.3 1527.9,582.9 1528.2,582.9 1528.5,581.6 1528.8,582.9 1529.0,582.9 1529.3,582.2 1529.6,582.5 1529.9,582.9 1530.1,581.8 1530.4,582.5 1530.7,581.7 1531.0,581.6 1531.2,582.9 1531.5,581.7 1531.8,582.3 1532.1,582.9 1532.3,582.6 1532.6,582.5 1532.9,581.8 1533.2,582.5 1533.4,582.9 1533.7,582.2 1534.0,582.9 1534.3,582.4 1534.5,582.9 1534.8,582.9 1535.1,582.9 1535.4,582.2 1535.6,581.8 1535.9,582.9 1536.2,582.9 1536.5,582.1 1536.7,582.2 1537.0,582.9 1537.3,582.5 1537.6,582.7 1537.8,581.9 1538.1,581.9 1538.4,582.9 1538.7,582.2 1538.9,582.9 1539.2,582.9 1539.5,582.3 1539.8,582.9 1540.0,582.9 1540.3,582.9 1540.6,581.3 1540.9,581.3 1541.1,581.7 1541.4,582.9 1541.7,582.1 1542.0,582.3 1542.2,582.9 1542.5,582.9 1542.8,582.7 1543.1,582.9 1543.3,582.8 1543.6,581.9 1543.9,581.4 1544.2,582.9 1544.4,582.8 1544.7,582.3 1545.0,582.9 1545.3,582.9 1545.5,582.9 1545.8,582.2 1546.1,582.6 1546.4,582.4 1546.6,582.9 1546.9,581.3 1547.2,582.2 1547.5,582.6 1547.7,582.2 1548.0,582.9 1548.3,582.1 1548.6,582.9 1548.8,582.5 1549.1,581.5 1549.4,582.6 1549.6,582.9 1549.9,582.3 1550.2,582.7 1550.5,582.9 1550.7,582.9 1551.0,582.6 1551.3,582.0 1551.6,582.9 1551.8,582.8 1552.1,581.4 1552.4,582.9 1552.7,582.6 1552.9,581.7 1553.2,581.3 1553.5,582.2 1553.8,582.9 1554.0,582.5 1554.3,582.2 1554.6,581.6 1554.9,582.9 1555.1,582.9 1555.4,582.6 1555.7,581.7 1556.0,581.8 1556.2,581.3 1556.5,582.9 1556.8,582.9 1557.1,582.1 1557.3,582.8 1557.6,582.9 1557.9,582.9 1558.2,582.9 1558.4,582.9 1558.7,582.6 1559.0,582.0 1559.3,582.9 1559.5,582.9 1559.8,582.4 1560.1,581.7 1560.4,582.9 1560.6,582.3 1560.9,582.9 1561.2,582.7 1561.5,581.9 1561.7,582.9 1562.0,582.9 1562.3,582.9 1562.6,582.8 1562.8,582.9 1563.1,582.9 1563.4,582.9 1563.7,582.6 1563.9,582.5 1564.2,582.0 1564.5,582.8 1564.8,582.9 1565.0,581.3 1565.3,582.9 1565.6,582.9 1565.9,582.5 1566.1,582.9 1566.4,582.9 1566.7,582.9 1567.0,581.5 1567.2,582.9 1567.5,582.3 1567.8,582.2 1568.1,582.0 1568.3,582.9 1568.6,582.9 1568.9,582.6 1569.2,581.7 1569.4,582.9 1569.7,582.3 1570.0,582.5 1570.3,582.4 1570.5,581.7 1570.8,582.7 1571.1,581.9 1571.4,582.9 1571.6,582.9 1571.9,582.6 1572.2,582.5 1572.5,582.9 1572.7,582.0 1573.0,582.9 1573.3,582.3 1573.6,582.0 1573.8,582.9 1574.1,582.9 1574.4,582.3 1574.6,582.2 1574.9,582.9 1575.2,582.9 1575.5,581.7 1575.7,582.8 1576.0,582.4 1576.3,582.5 1576.6,581.6 1576.8,582.9 1577.1,582.8 1577.4,581.8 1577.7,582.9 1577.9,582.9 1578.2,582.9 1578.5,582.9 1578.8,581.4 1579.0,582.6 1579.3,582.9 1579.6,582.9 1579.9,582.9 1580.1,582.5 1580.4,582.9 1580.7,582.7 1581.0,582.9 1581.2,582.9 1581.5,582.9 1581.8,582.7 1582.1,582.6 1582.3,582.9 1582.6,582.7 1582.9,582.9 1583.2,582.8 1583.4,582.5 1583.7,582.6 1584.0,582.1 1584.3,582.9 1584.5,582.9 1584.8,582.1 1585.1,582.9 1585.4,581.7 1585.6,582.9 1585.9,582.9 1586.2,582.9 1586.5,582.7 1586.7,582.3 1587.0,582.2 1587.3,582.9 1587.6,582.4 1587.8,582.5 1588.1,582.9 1588.4,582.8 1588.7,582.3 1588.9,581.4 1589.2,582.9 1589.5,582.6 1589.8,582.3 1590.0,582.9 1590.3,582.9 1590.6,582.4 1590.9,582.6 1591.1,582.8 1591.4,581.4 1591.7,582.2 1592.0,582.9 1592.2,582.8 1592.5,582.9 1592.8,582.3 1593.1,582.4 1593.3,581.6 1593.6,581.4 1593.9,582.5 1594.2,582.9 1594.4,582.6 1594.7,582.9 1595.0,582.5 1595.3,582.8 1595.5,582.6 1595.8,582.0 1596.1,582.9 1596.4,581.9 1596.6,582.9 1596.9,582.9 1597.2,582.9 1597.5,582.9 1597.7,581.9 1598.0,582.7 1598.3,582.9 1598.5,581.8 1598.8,582.9 1599.1,582.9 1599.4,582.9 1599.6,582.9 1599.9,582.9 1600.2,582.9 1600.5,582.9 1600.7,582.9 1601.0,582.9 1601.3,582.9 1601.6,582.9 1601.8,582.9 1602.1,581.7 1602.4,582.9 1602.7,582.9 1602.9,582.9 1603.2,582.2 1603.5,582.9 1603.8,582.9 1604.0,582.5 1604.3,582.9 1604.6,582.9 1604.9,582.6 1605.1,582.5 1605.4,582.1 1605.7,581.4 1606.0,582.0 1606.2,582.9 1606.5,582.6 1606.8,582.9 1607.1,581.4 1607.3,582.4 1607.6,581.5 1607.9,582.6 1608.2,582.9 1608.4,582.7 1608.7,582.7 1609.0,582.9 1609.3,582.9 1609.5,582.9 1609.8,582.9 1610.1,582.9 1610.4,582.3 1610.6,582.9 1610.9,582.9 1611.2,582.6 1611.5,582.9 1611.7,582.9 1612.0,582.6 1612.3,582.9 1612.6,582.9 1612.8,582.9 1613.1,582.1 1613.4,582.9 1613.7,582.3 1613.9,581.8 1614.2,582.2 1614.5,582.9 1614.8,582.7 1615.0,582.9 1615.3,582.9 1615.6,582.3 1615.9,582.9 1616.1,582.9 1616.4,581.4 1616.7,582.9 1617.0,582.6 1617.2,582.9 1617.5,582.9 1617.8,582.9 1618.1,582.7 1618.3,582.9 1618.6,582.9 1618.9,582.9 1619.2,582.9 1619.4,582.9 1619.7,582.4 1620.0,582.0 1620.3,582.9 1620.5,582.9 1620.8,582.9 1621.1,582.6 1621.4,582.9 1621.6,582.3 1621.9,582.7 1622.2,582.9 1622.5,582.9 1622.7,582.0 1623.0,582.6" fill="none" stroke="#33a55e" stroke-width="1.0" stroke-opacity="0.8" stroke-linejoin="round"/>
<rect x="910.30" y="509.70" width="712.40" height="72.90" fill="none" stroke="#fff" stroke-width="0.8" stroke-opacity="0.8"/>
<rect x="909.00" y="508.40" width="715.00" height="75.50" fill="none" stroke="#555" stroke-width="1.4"/>
<text transform="translate(909.00,600.66) scale(1.09,1)" font-size="18.5" text-anchor="middle">0</text>
<text transform="translate(980.40,600.66) scale(1.09,1)" font-size="18.5" text-anchor="middle">50</text>
<text transform="translate(1051.80,600.66) scale(1.09,1)" font-size="18.5" text-anchor="middle">100</text>
<text transform="translate(1123.20,600.66) scale(1.09,1)" font-size="18.5" text-anchor="middle">150</text>
<text transform="translate(1194.60,600.66) scale(1.09,1)" font-size="18.5" text-anchor="middle">200</text>
<text transform="translate(1266.00,600.66) scale(1.09,1)" font-size="18.5" text-anchor="middle">250</text>
<text transform="translate(1337.40,600.66) scale(1.09,1)" font-size="18.5" text-anchor="middle">300</text>
<text transform="translate(1408.80,600.66) scale(1.09,1)" font-size="18.5" text-anchor="middle">350</text>
<text transform="translate(1480.20,600.66) scale(1.09,1)" font-size="18.5" text-anchor="middle">400</text>
<text transform="translate(1551.60,600.66) scale(1.09,1)" font-size="18.5" text-anchor="middle">450</text>
<text transform="translate(1623.00,600.66) scale(1.09,1)" font-size="18.5" text-anchor="middle">500</text>
<text transform="translate(904.75,516.36) scale(1.09,1)" font-size="18.5" text-anchor="end">4</text>
<text transform="translate(904.75,551.96) scale(1.09,1)" font-size="18.5" text-anchor="end">2</text>
<text transform="translate(904.75,590.76) scale(1.09,1)" font-size="18.5" text-anchor="end">0</text>
<text transform="translate(871.00,551.20) rotate(-90)" font-size="19.8" text-anchor="middle">Amp (m/s<tspan dy="-7.5" font-size="11.5">2</tspan><tspan dy="7.5">)</tspan></text>
<text transform="translate(918.41,479.70) scale(1.0458,1)" font-size="19.5" text-anchor="start">FFT of rockfall vibration signal on the protective net (Sensor D,  y direction, 3000kj)</text>
<text x="908.00" y="501.60" font-size="19">×10<tspan dy="-8.5" font-size="10.5">5</tspan></text>
<rect x="908.40" y="668.40" width="715.40" height="75.50" fill="url(#bg)"/>
<line x1="979.65" y1="669.40" x2="979.65" y2="742.90" class="g"/>
<line x1="1051.10" y1="669.40" x2="1051.10" y2="742.90" class="g"/>
<line x1="1122.55" y1="669.40" x2="1122.55" y2="742.90" class="g"/>
<line x1="1194.00" y1="669.40" x2="1194.00" y2="742.90" class="g"/>
<line x1="1265.45" y1="669.40" x2="1265.45" y2="742.90" class="g"/>
<line x1="1336.90" y1="669.40" x2="1336.90" y2="742.90" class="g"/>
<line x1="1408.35" y1="669.40" x2="1408.35" y2="742.90" class="g"/>
<line x1="1479.80" y1="669.40" x2="1479.80" y2="742.90" class="g"/>
<line x1="1551.25" y1="669.40" x2="1551.25" y2="742.90" class="g"/>
<line x1="909.40" y1="706.15" x2="1622.80" y2="706.15" class="g"/>
<polyline points="908.6,704.3 909.0,732.7 909.5,730.1 909.9,727.8 910.3,739.4 910.7,727.1 911.1,719.2 911.6,736.8 912.0,737.6 912.4,735.3 912.8,729.0 913.2,740.1 913.7,734.1 914.1,734.4 914.5,721.6 914.9,735.8 915.3,731.0 915.8,728.4 916.2,740.1 916.6,725.4 917.0,732.5 917.5,725.0 917.9,733.5 918.3,722.9 918.7,722.9 919.1,736.7 919.6,739.3 920.0,737.2 920.4,733.5 920.8,724.3 921.2,738.0 921.7,727.9 922.1,737.5 922.5,740.0 922.9,738.0 923.3,739.2 923.8,734.7 924.2,733.1 924.6,727.3 925.0,737.8 925.4,727.2 925.9,734.8 926.3,725.8 926.7,739.8 927.1,731.8 927.5,732.0 928.0,737.1 928.4,737.2 928.8,727.9 929.2,726.0 929.6,734.6 930.1,726.3 930.5,733.8 930.9,740.9 931.3,736.8 931.8,729.5 932.2,727.4 932.6,727.2 933.0,737.0 933.4,731.9 933.9,739.2 934.3,735.2 934.7,741.5 935.1,735.0 935.5,728.9 936.0,729.8 936.4,738.0 936.8,728.1 937.2,731.7 937.6,739.6 938.1,730.1 938.5,741.6 938.9,740.6 939.3,729.5 939.7,731.9 940.2,727.1 940.6,730.7 941.0,730.1 941.4,730.4 941.8,736.8 942.3,732.8 942.7,733.1 943.1,739.8 943.5,736.5 943.9,737.2 944.4,731.7 944.8,741.7 945.2,735.6 945.6,737.0 946.0,736.0 946.5,740.0 946.9,740.8 947.3,737.2 947.7,736.1 948.2,742.1 948.6,737.3 949.0,741.5 949.4,732.8 949.8,740.0 950.3,730.2 950.7,741.1 951.1,732.0 951.5,731.6 951.9,741.3 952.4,731.3 952.8,731.1 953.2,734.5 953.6,731.8 954.0,737.7 954.5,733.9 954.9,734.9 955.3,732.9 955.7,733.0 956.1,735.0 956.6,729.9 957.0,729.9 957.4,733.1 957.8,736.3 958.2,725.5 958.7,735.8 959.1,730.6 959.5,733.2 959.9,740.9 960.3,729.8 960.8,733.1 961.2,741.3 961.6,736.7 962.0,735.9 962.4,732.6 962.9,740.1 963.3,728.8 963.7,739.4 964.1,735.4 964.6,738.1 965.0,738.7 965.4,715.6 965.8,735.5 966.2,729.0 966.7,736.0 967.1,736.9 967.5,732.5 967.9,740.2 968.3,734.7 968.8,736.8 969.2,741.0 969.6,732.7 970.0,737.3 970.4,733.0 970.9,733.5 971.3,738.5 971.7,736.6 972.1,722.7 972.5,725.1 973.0,723.8 973.4,738.4 973.8,732.7 974.2,736.6 974.6,730.8 975.1,733.5 975.5,740.2 975.9,728.6 976.3,730.2 976.7,730.7 977.2,739.4 977.6,729.6 978.0,733.4 978.4,740.5 978.9,734.8 979.3,738.5 979.7,739.0 980.1,741.9 980.5,741.4 981.0,735.0 981.4,738.5 981.8,737.8 982.2,740.3 982.6,740.1 983.1,741.3 983.5,740.6 983.9,733.0 984.3,723.8 984.7,740.7 985.2,732.4 985.6,734.7 986.0,737.5 986.4,739.4 986.8,740.8 987.3,738.1 987.7,737.7 988.1,736.3 988.5,741.2 988.9,728.9 989.4,737.5 989.8,737.9 990.2,738.7 990.6,739.7 991.0,734.0 991.5,734.3 991.9,741.0 992.3,741.9 992.7,724.3 993.1,730.1 993.6,736.7 994.0,726.5 994.4,728.9 994.8,728.6 995.3,735.1 995.7,732.8 996.1,725.5 996.5,738.8 996.9,730.3 997.4,733.0 997.8,722.3 998.2,731.9 998.6,738.6 999.0,733.4 999.5,740.9 999.9,731.0 1000.3,738.0 1000.7,738.4 1001.1,737.2 1001.6,733.2 1002.0,733.9 1002.4,742.9 1002.8,730.7 1003.2,734.6 1003.7,734.5 1004.1,735.3 1004.5,728.6 1004.9,727.6 1005.3,729.6 1005.8,726.2 1006.2,730.5 1006.6,735.7 1007.0,741.1 1007.4,736.1 1007.9,737.2 1008.3,734.2 1008.7,728.9 1009.1,740.8 1009.6,731.6 1010.0,739.4 1010.4,728.6 1010.8,731.8 1011.2,733.9 1011.7,730.5 1012.1,729.9 1012.5,735.2 1012.9,736.8 1013.3,731.3 1013.8,736.7 1014.2,741.0 1014.6,732.9 1015.0,737.9 1015.4,734.2 1015.9,737.2 1016.3,737.8 1016.7,735.1 1017.1,736.9 1017.5,739.1 1018.0,726.6 1018.4,740.6 1018.8,735.1 1019.2,732.5 1019.6,730.3 1020.1,728.4 1020.5,726.9 1020.9,727.0 1021.3,732.9 1021.7,730.3 1022.2,739.1 1022.6,731.8 1023.0,734.4 1023.4,737.5 1023.8,736.1 1024.3,730.4 1024.7,742.0 1025.1,734.0 1025.5,720.5 1026.0,729.3 1026.4,722.3 1026.8,741.4 1027.2,736.0 1027.6,726.7 1028.1,734.4 1028.5,739.7 1028.9,725.3 1029.3,736.6 1029.7,739.6 1030.2,735.9 1030.6,732.4 1031.0,735.7 1031.4,735.5 1031.8,735.4 1032.3,736.5 1032.7,736.3 1033.1,731.6 1033.5,738.9 1033.9,731.3 1034.4,739.4 1034.8,730.8 1035.2,738.2 1035.6,735.6 1036.0,735.8 1036.5,737.0 1036.9,733.8 1037.3,728.3 1037.7,733.4 1038.1,738.6 1038.6,738.3 1039.0,730.2 1039.4,734.6 1039.8,742.9 1040.3,730.8 1040.7,729.0 1041.1,734.4 1041.5,741.9 1041.9,733.0 1042.4,732.9 1042.8,732.0 1043.2,734.0 1043.6,739.4 1044.0,722.3 1044.5,741.1 1044.9,736.4 1045.3,733.8 1045.7,732.2 1046.1,736.9 1046.6,736.9 1047.0,736.1 1047.4,737.0 1047.8,738.7 1048.2,732.5 1048.7,723.6 1049.1,735.4 1049.5,732.9 1049.9,735.4 1050.3,734.2 1050.8,738.5 1051.2,729.7 1051.6,733.7 1052.0,739.8 1052.4,737.4 1052.9,742.7 1053.3,736.6 1053.7,725.1 1054.1,731.1 1054.5,727.5 1055.0,739.0 1055.4,735.3 1055.8,735.6 1056.2,736.8 1056.7,726.6 1057.1,735.4 1057.5,734.9 1057.9,731.8 1058.3,730.5 1058.8,731.5 1059.2,739.8 1059.6,735.2 1060.0,740.7 1060.4,733.3 1060.9,726.5 1061.3,738.5 1061.7,736.9 1062.1,740.0 1062.5,739.7 1063.0,736.4 1063.4,740.7 1063.8,724.3 1064.2,739.9 1064.6,739.2 1065.1,730.9 1065.5,724.7 1065.9,729.1 1066.3,732.4 1066.7,736.7 1067.2,728.1 1067.6,738.0 1068.0,737.7 1068.4,732.8 1068.8,731.4 1069.3,731.2 1069.7,739.5 1070.1,739.2 1070.5,734.9 1070.9,734.5 1071.4,737.1 1071.8,733.7 1072.2,732.8 1072.6,737.0 1073.1,735.6 1073.5,736.5 1073.9,739.5 1074.3,737.7 1074.7,726.5 1075.2,738.8 1075.6,737.8 1076.0,728.1 1076.4,738.1 1076.8,734.2 1077.3,741.1 1077.7,737.6 1078.1,737.2 1078.5,735.0 1078.9,741.0 1079.4,738.6 1079.8,737.3 1080.2,736.5 1080.6,737.2 1081.0,737.9 1081.5,738.1 1081.9,728.1 1082.3,741.3 1082.7,740.5 1083.1,739.8 1083.6,741.1 1084.0,740.1 1084.4,736.6 1084.8,738.2 1085.2,736.0 1085.7,742.5 1086.1,737.5 1086.5,738.5 1086.9,735.0 1087.4,729.6 1087.8,738.8 1088.2,737.0 1088.6,735.6 1089.0,737.8 1089.5,737.2 1089.9,729.9 1090.3,728.6 1090.7,739.4 1091.1,736.3 1091.6,731.1 1092.0,739.7 1092.4,735.5 1092.8,736.9 1093.2,741.2 1093.7,735.0 1094.1,740.7 1094.5,738.2 1094.9,735.6 1095.3,736.8 1095.8,736.6 1096.2,732.8 1096.6,740.9 1097.0,739.2 1097.4,735.0 1097.9,741.0 1098.3,739.3 1098.7,737.7 1099.1,735.2 1099.5,739.8 1100.0,740.2 1100.4,740.7 1100.8,738.7 1101.2,741.6 1101.6,740.1 1102.1,734.7 1102.5,738.9 1102.9,741.5 1103.3,735.7 1103.8,727.2 1104.2,737.4 1104.6,739.3 1105.0,741.9 1105.4,727.2 1105.9,736.7 1106.3,736.1 1106.7,735.9 1107.1,731.2 1107.5,739.5 1108.0,742.9 1108.4,735.3 1108.8,732.7 1109.2,729.3 1109.6,729.7 1110.1,736.0 1110.5,738.1 1110.9,729.9 1111.3,742.5 1111.7,741.6 1112.2,739.0 1112.6,736.1 1113.0,735.0 1113.4,735.3 1113.8,736.0 1114.3,734.9 1114.7,741.9 1115.1,735.2 1115.5,737.0 1115.9,736.3 1116.4,732.3 1116.8,733.4 1117.2,740.4 1117.6,732.3 1118.1,742.5 1118.5,737.8 1118.9,735.9 1119.3,736.2 1119.7,725.0 1120.2,741.2 1120.6,739.7 1121.0,738.1 1121.4,741.7 1121.8,739.7 1122.3,737.4 1122.7,736.5 1123.1,737.0 1123.5,738.8 1123.9,738.0 1124.4,739.4 1124.8,739.4 1125.2,735.3 1125.6,741.7 1126.0,740.2 1126.5,742.0 1126.9,737.4 1127.3,739.6 1127.7,738.7 1128.1,737.0 1128.6,740.5 1129.0,739.2 1129.4,729.7 1129.8,737.8 1130.2,729.7 1130.7,735.9 1131.1,732.0 1131.5,737.1 1131.9,738.1 1132.3,737.7 1132.8,734.5 1133.2,735.8 1133.6,733.6 1134.0,742.0 1134.5,737.3 1134.9,736.3 1135.3,737.0 1135.7,734.7 1136.1,737.9 1136.6,734.4 1137.0,738.9 1137.4,730.8 1137.8,730.4 1138.2,733.9 1138.7,732.4 1139.1,739.5 1139.5,733.5 1139.9,741.9 1140.3,737.9 1140.8,737.9 1141.2,732.6 1141.6,742.5 1142.0,740.7 1142.4,742.4 1142.9,736.2 1143.3,739.8 1143.7,736.3 1144.1,732.1 1144.5,737.6 1145.0,741.6 1145.4,739.1 1145.8,735.0 1146.2,741.3 1146.6,738.0 1147.1,738.7 1147.5,733.1 1147.9,738.9 1148.3,739.0 1148.7,736.7 1149.2,737.6 1149.6,739.2 1150.0,738.2 1150.4,738.2 1150.9,740.9 1151.3,730.0 1151.7,737.0 1152.1,739.4 1152.5,740.5 1153.0,731.4 1153.4,736.4 1153.8,733.9 1154.2,732.6 1154.6,742.2 1155.1,732.7 1155.5,737.6 1155.9,735.2 1156.3,739.4 1156.7,738.3 1157.2,740.6 1157.6,733.2 1158.0,734.5 1158.4,737.1 1158.8,741.1 1159.3,741.7 1159.7,733.2 1160.1,739.6 1160.5,738.1 1160.9,741.7 1161.4,740.6 1161.8,739.0 1162.2,739.1 1162.6,735.2 1163.0,739.8 1163.5,735.1 1163.9,738.3 1164.3,737.2 1164.7,738.1 1165.2,737.9 1165.6,737.1 1166.0,736.0 1166.4,738.0 1166.8,736.1 1167.3,741.9 1167.7,738.4 1168.1,730.5 1168.5,742.9 1168.9,737.5 1169.4,737.8 1169.8,740.7 1170.2,735.9 1170.6,736.5 1171.0,729.9 1171.5,734.0 1171.9,736.5 1172.3,740.2 1172.7,735.8 1173.1,733.5 1173.6,735.1 1174.0,737.5 1174.4,735.6 1174.8,742.1 1175.2,739.1 1175.7,732.1 1176.1,733.9 1176.5,733.1 1176.9,736.2 1177.3,739.1 1177.8,735.2 1178.2,738.4 1178.6,737.4 1179.0,736.5 1179.4,741.8 1179.9,742.0 1180.3,738.3 1180.7,738.7 1181.1,733.0 1181.6,737.8 1182.0,737.7 1182.4,737.2 1182.8,740.6 1183.2,740.4 1183.7,732.1 1184.1,740.2 1184.5,739.2 1184.9,738.1 1185.3,739.6 1185.8,741.8 1186.2,734.0 1186.6,730.0 1187.0,740.5 1187.4,739.7 1187.9,737.6 1188.3,741.7 1188.7,737.2 1189.1,740.8 1189.5,736.7 1190.0,739.3 1190.4,735.4 1190.8,739.7 1191.2,737.7 1191.6,738.7 1192.1,730.2 1192.5,737.2 1192.9,730.0 1193.3,740.0 1193.7,732.8 1194.2,736.6 1194.6,731.6 1195.0,734.4 1195.4,741.1 1195.9,742.3 1196.3,741.0 1196.7,739.4 1197.1,740.0 1197.5,740.0 1198.0,741.8 1198.4,741.9 1198.8,742.9 1199.2,736.4 1199.6,736.0 1200.1,740.6 1200.5,740.7 1200.9,741.8 1201.3,737.7 1201.7,736.6 1202.2,741.4 1202.6,741.1 1203.0,738.2 1203.4,731.2 1203.8,732.8 1204.3,735.8 1204.7,733.9 1205.1,733.2 1205.5,738.8 1205.9,739.8 1206.4,730.4 1206.8,740.2 1207.2,738.5 1207.6,734.0 1208.0,737.4 1208.5,741.4 1208.9,733.9 1209.3,733.1 1209.7,738.6 1210.1,736.4 1210.6,739.7 1211.0,738.3 1211.4,737.1 1211.8,734.2 1212.3,730.1 1212.7,736.4 1213.1,740.7 1213.5,731.7 1213.9,735.6 1214.4,738.7 1214.8,734.8 1215.2,731.8 1215.6,733.4 1216.0,735.4 1216.5,740.9 1216.9,738.3 1217.3,739.6 1217.7,740.0 1218.1,738.3 1218.6,740.4 1219.0,737.9 1219.4,742.3 1219.8,740.8 1220.2,737.2 1220.7,742.2 1221.1,735.8 1221.5,736.4 1221.9,735.8 1222.3,735.8 1222.8,737.4 1223.2,736.7 1223.6,741.2 1224.0,736.8 1224.4,736.8 1224.9,740.9 1225.3,735.6 1225.7,738.0 1226.1,739.2 1226.5,738.4 1227.0,738.1 1227.4,735.9 1227.8,739.7 1228.2,739.7 1228.7,732.4 1229.1,735.7 1229.5,736.1 1229.9,739.9 1230.3,736.6 1230.8,741.9 1231.2,741.2 1231.6,736.5 1232.0,738.9 1232.4,739.5 1232.9,737.5 1233.3,741.0 1233.7,733.9 1234.1,735.7 1234.5,742.0 1235.0,738.8 1235.4,740.4 1235.8,742.7 1236.2,738.5 1236.6,734.2 1237.1,740.0 1237.5,739.0 1237.9,738.5 1238.3,742.0 1238.7,735.8 1239.2,731.1 1239.6,739.2 1240.0,734.2 1240.4,742.3 1240.8,740.5 1241.3,737.7 1241.7,740.6 1242.1,735.4 1242.5,736.0 1243.0,740.8 1243.4,736.7 1243.8,741.9 1244.2,734.3 1244.6,740.3 1245.1,731.3 1245.5,733.1 1245.9,742.0 1246.3,737.8 1246.7,734.0 1247.2,741.6 1247.6,732.0 1248.0,739.4 1248.4,738.0 1248.8,742.0 1249.3,741.2 1249.7,736.4 1250.1,741.2 1250.5,736.4 1250.9,733.5 1251.4,737.8 1251.8,739.6 1252.2,734.6 1252.6,733.5 1253.0,736.4 1253.5,737.0 1253.9,738.8 1254.3,738.0 1254.7,742.9 1255.1,742.3 1255.6,732.4 1256.0,737.0 1256.4,732.0 1256.8,734.2 1257.2,730.4 1257.7,736.7 1258.1,740.1 1258.5,741.4 1258.9,734.3 1259.4,740.7 1259.8,738.3 1260.2,737.7 1260.6,736.9 1261.0,740.1 1261.5,733.4 1261.9,736.7 1262.3,741.7 1262.7,742.2 1263.1,739.8 1263.6,739.1 1264.0,741.3 1264.4,735.3 1264.8,736.1 1265.2,734.4 1265.7,731.2 1266.1,738.8 1266.5,740.7 1266.9,736.7 1267.3,741.4 1267.8,739.4 1268.2,736.9 1268.6,735.2 1269.0,738.0 1269.4,739.1 1269.9,739.7 1270.3,738.6 1270.7,740.7 1271.1,733.9 1271.5,739.5 1272.0,740.3 1272.4,738.6 1272.8,735.9 1273.2,740.2 1273.7,738.9 1274.1,739.6 1274.5,736.5 1274.9,737.1 1275.3,738.7 1275.8,734.6 1276.2,735.5 1276.6,740.5 1277.0,735.7 1277.4,734.8 1277.9,739.4 1278.3,740.2 1278.7,737.2 1279.1,734.7 1279.5,740.4 1280.0,739.8 1280.4,733.6 1280.8,740.6 1281.2,740.2 1281.6,742.9 1282.1,738.5 1282.5,738.2 1282.9,735.5 1283.3,740.2 1283.7,733.8 1284.2,741.0 1284.6,731.2 1285.0,738.1 1285.4,739.7 1285.8,734.7 1286.3,739.5 1286.7,738.2 1287.1,738.6 1287.5,740.1 1287.9,736.5 1288.4,741.0 1288.8,740.9 1289.2,732.6 1289.6,739.9 1290.1,742.7 1290.5,742.0 1290.9,740.5 1291.3,739.4 1291.7,733.1 1292.2,739.2 1292.6,737.0 1293.0,732.4 1293.4,740.2 1293.8,731.6 1294.3,739.0 1294.7,741.8 1295.1,739.8 1295.5,738.8 1295.9,737.7 1296.4,738.4 1296.8,732.2 1297.2,739.2 1297.6,741.5 1298.0,737.5 1298.5,741.6 1298.9,740.7 1299.3,740.9 1299.7,736.4 1300.1,736.9 1300.6,736.2 1301.0,737.5 1301.4,738.1 1301.8,737.9 1302.2,732.0 1302.7,741.2 1303.1,739.4 1303.5,732.1 1303.9,737.3 1304.4,739.2 1304.8,741.0 1305.2,741.7 1305.6,739.4 1306.0,734.9 1306.5,734.8 1306.9,732.7 1307.3,739.0 1307.7,737.4 1308.1,737.4 1308.6,732.3 1309.0,737.9 1309.4,740.1 1309.8,736.0 1310.2,735.2 1310.7,738.0 1311.1,734.4 1311.5,741.8 1311.9,733.5 1312.3,740.2 1312.8,740.7 1313.2,738.5 1313.6,738.2 1314.0,737.3 1314.4,737.8 1314.9,739.3 1315.3,741.1 1315.7,740.6 1316.1,737.2 1316.5,734.5 1317.0,735.4 1317.4,741.5 1317.8,737.2 1318.2,738.8 1318.6,732.8 1319.1,739.2 1319.5,738.7 1319.9,738.0 1320.3,737.2 1320.8,742.1 1321.2,742.5 1321.6,738.4 1322.0,739.9 1322.4,734.6 1322.9,738.6 1323.3,742.0 1323.7,740.7 1324.1,741.4 1324.5,742.4 1325.0,733.8 1325.4,738.9 1325.8,738.4 1326.2,733.2 1326.6,741.4 1327.1,741.9 1327.5,740.2 1327.9,740.3 1328.3,740.5 1328.7,741.5 1329.2,737.5 1329.6,739.3 1330.0,738.5 1330.4,741.1 1330.8,742.3 1331.3,738.9 1331.7,742.5 1332.1,739.3 1332.5,742.2 1332.9,739.6 1333.4,739.9 1333.8,740.7 1334.2,737.7 1334.6,738.2 1335.0,734.7 1335.5,741.3 1335.9,738.6 1336.3,740.8 1336.7,735.8 1337.2,738.9 1337.6,738.9 1338.0,742.4 1338.4,736.9 1338.8,742.0 1339.3,738.0 1339.7,741.8 1340.1,739.5 1340.5,742.2 1340.9,741.4 1341.4,740.4 1341.8,739.3 1342.2,742.9 1342.6,741.8 1343.0,740.2 1343.5,737.5 1343.9,737.1 1344.3,737.8 1344.7,742.9 1345.1,738.2 1345.6,740.4 1346.0,738.4 1346.4,739.0 1346.8,738.7 1347.2,736.4 1347.7,737.3 1348.1,742.9 1348.5,738.7 1348.9,741.4 1349.3,739.4 1349.8,737.0 1350.2,741.7 1350.6,741.8 1351.0,737.9 1351.5,741.1 1351.9,739.2 1352.3,740.7 1352.7,740.2 1353.1,739.3 1353.6,741.2 1354.0,739.6 1354.4,742.9 1354.8,738.1 1355.2,735.7 1355.7,740.6 1356.1,738.3 1356.5,741.1 1356.9,738.4 1357.3,742.4 1357.8,740.0 1358.2,738.4 1358.6,741.5 1359.0,738.5 1359.4,734.6 1359.9,740.0 1360.3,739.5 1360.7,738.8 1361.1,738.9 1361.5,737.7 1362.0,740.2 1362.4,739.9 1362.8,742.9 1363.2,739.5 1363.6,741.1 1364.1,740.8 1364.5,740.7 1364.9,739.1 1365.3,740.9 1365.7,739.8 1366.2,742.8 1366.6,739.0 1367.0,738.5 1367.4,742.7 1367.9,738.4 1368.3,740.7 1368.7,742.9 1369.1,739.8 1369.5,735.8 1370.0,739.9 1370.4,738.2 1370.8,739.8 1371.2,740.4 1371.6,739.0 1372.1,741.0 1372.5,739.6 1372.9,737.4 1373.3,741.0 1373.7,739.8 1374.2,741.3 1374.6,741.3 1375.0,742.0 1375.4,741.6 1375.8,739.0 1376.3,737.4 1376.7,740.2 1377.1,740.8 1377.5,741.8 1377.9,742.8 1378.4,739.1 1378.8,741.2 1379.2,740.4 1379.6,741.0 1380.0,739.1 1380.5,738.8 1380.9,741.2 1381.3,737.1 1381.7,741.2 1382.2,740.4 1382.6,740.4 1383.0,738.3 1383.4,741.7 1383.8,741.2 1384.3,739.4 1384.7,741.9 1385.1,737.3 1385.5,741.0 1385.9,741.2 1386.4,741.9 1386.8,740.1 1387.2,740.5 1387.6,740.7 1388.0,740.6 1388.5,739.7 1388.9,739.9 1389.3,738.9 1389.7,740.5 1390.1,739.7 1390.6,742.6 1391.0,742.9 1391.4,740.7 1391.8,742.7 1392.2,738.3 1392.7,739.8 1393.1,742.9 1393.5,740.7 1393.9,736.0 1394.3,736.0 1394.8,742.9 1395.2,741.5 1395.6,741.0 1396.0,739.6 1396.4,741.0 1396.9,740.9 1397.3,742.6 1397.7,739.7 1398.1,742.9 1398.6,741.3 1399.0,741.8 1399.4,738.9 1399.8,740.2 1400.2,741.0 1400.7,741.2 1401.1,740.6 1401.5,741.8 1401.9,738.1 1402.3,740.8 1402.8,742.9 1403.2,740.4 1403.6,740.5 1404.0,736.4 1404.4,741.0 1404.9,739.2 1405.3,738.7 1405.7,738.7 1406.1,741.8 1406.5,741.6 1407.0,740.8 1407.4,739.0 1407.8,741.1 1408.2,742.5 1408.6,741.1 1409.1,737.7 1409.5,742.9 1409.9,739.8 1410.3,739.0 1410.7,741.6 1411.2,742.6 1411.6,741.8 1412.0,739.3 1412.4,741.2 1412.8,741.9 1413.3,742.8 1413.7,740.7 1414.1,741.2 1414.5,742.9 1415.0,740.8 1415.4,741.8 1415.8,738.8 1416.2,739.4 1416.6,741.9 1417.1,736.8 1417.5,742.9 1417.9,740.2 1418.3,741.6 1418.7,738.1 1419.2,741.7 1419.6,741.6 1420.0,740.5 1420.4,742.9 1420.8,740.6 1421.3,740.5 1421.7,740.4 1422.1,741.7 1422.5,741.2 1422.9,737.2 1423.4,742.0 1423.8,738.0 1424.2,742.1 1424.6,742.7 1425.0,740.8 1425.5,738.3 1425.9,741.6 1426.3,741.5 1426.7,740.4 1427.1,739.5 1427.6,741.9 1428.0,740.1 1428.4,742.7 1428.8,741.1 1429.3,737.8 1429.7,740.0 1430.1,740.7 1430.5,740.3 1430.9,738.8 1431.4,737.4 1431.8,742.3 1432.2,742.1 1432.6,742.9 1433.0,742.8 1433.5,740.5 1433.9,740.1 1434.3,742.8 1434.7,739.4 1435.1,742.6 1435.6,741.6 1436.0,738.1 1436.4,741.0 1436.8,739.2 1437.2,741.7 1437.7,740.7 1438.1,740.9 1438.5,740.2 1438.9,741.5 1439.3,741.0 1439.8,740.0 1440.2,740.4 1440.6,740.8 1441.0,737.2 1441.4,740.0 1441.9,741.5 1442.3,741.8 1442.7,738.9 1443.1,742.9 1443.5,742.9 1444.0,742.9 1444.4,739.7 1444.8,740.9 1445.2,741.9 1445.7,741.5 1446.1,741.6 1446.5,742.5 1446.9,739.8 1447.3,739.4 1447.8,741.0 1448.2,740.7 1448.6,740.3 1449.0,742.7 1449.4,742.2 1449.9,739.3 1450.3,741.1 1450.7,740.3 1451.1,742.6 1451.5,740.8 1452.0,739.5 1452.4,742.2 1452.8,740.9 1453.2,739.6 1453.6,739.4 1454.1,742.0 1454.5,742.1 1454.9,742.0 1455.3,741.7 1455.7,740.8 1456.2,741.6 1456.6,740.9 1457.0,740.7 1457.4,738.9 1457.8,742.7 1458.3,742.0 1458.7,740.5 1459.1,742.2 1459.5,740.4 1460.0,741.1 1460.4,741.2 1460.8,740.6 1461.2,739.1 1461.6,741.2 1462.1,742.9 1462.5,739.7 1462.9,740.8 1463.3,741.6 1463.7,742.4 1464.2,738.9 1464.6,739.5 1465.0,740.7 1465.4,740.2 1465.8,741.5 1466.3,741.5 1466.7,741.9 1467.1,737.2 1467.5,742.3 1467.9,740.7 1468.4,740.1 1468.8,739.0 1469.2,740.8 1469.6,741.4 1470.0,740.1 1470.5,738.1 1470.9,741.9 1471.3,742.9 1471.7,741.3 1472.1,740.5 1472.6,741.3 1473.0,739.5 1473.4,740.7 1473.8,740.6 1474.2,742.3 1474.7,740.6 1475.1,741.6 1475.5,742.2 1475.9,739.1 1476.4,742.9 1476.8,742.0 1477.2,741.6 1477.6,742.1 1478.0,740.2 1478.5,740.1 1478.9,740.7 1479.3,741.5 1479.7,740.1 1480.1,739.6 1480.6,742.0 1481.0,740.5 1481.4,739.0 1481.8,742.1 1482.2,741.9 1482.7,740.0 1483.1,739.9 1483.5,740.9 1483.9,739.5 1484.3,741.0 1484.8,741.1 1485.2,739.7 1485.6,737.7 1486.0,740.0 1486.4,741.3 1486.9,742.9 1487.3,742.9 1487.7,742.7 1488.1,742.9 1488.5,740.6 1489.0,740.2 1489.4,742.1 1489.8,742.6 1490.2,741.4 1490.6,738.3 1491.1,740.8 1491.5,740.6 1491.9,742.3 1492.3,741.1 1492.8,742.1 1493.2,740.6 1493.6,738.5 1494.0,739.6 1494.4,738.7 1494.9,742.3 1495.3,740.8 1495.7,741.5 1496.1,741.8 1496.5,740.9 1497.0,741.1 1497.4,737.7 1497.8,740.7 1498.2,742.5 1498.6,737.8 1499.1,742.5 1499.5,740.6 1499.9,740.3 1500.3,741.2 1500.7,742.4 1501.2,741.1 1501.6,737.4 1502.0,742.4 1502.4,742.5 1502.8,742.2 1503.3,740.5 1503.7,739.4 1504.1,738.7 1504.5,738.0 1504.9,742.7 1505.4,741.5 1505.8,740.8 1506.2,740.5 1506.6,741.6 1507.1,742.9 1507.5,740.2 1507.9,742.6 1508.3,741.6 1508.7,739.8 1509.2,739.7 1509.6,739.8 1510.0,739.2 1510.4,740.9 1510.8,741.5 1511.3,738.3 1511.7,739.8 1512.1,740.2 1512.5,740.9 1512.9,741.8 1513.4,742.2 1513.8,742.2 1514.2,740.3 1514.6,741.2 1515.0,742.5 1515.5,739.2 1515.9,740.1 1516.3,740.3 1516.7,739.8 1517.1,740.7 1517.6,742.5 1518.0,740.6 1518.4,742.3 1518.8,741.8 1519.2,738.5 1519.7,742.8 1520.1,739.8 1520.5,741.3 1520.9,742.2 1521.3,740.8 1521.8,741.4 1522.2,740.8 1522.6,742.1 1523.0,740.4 1523.5,740.9 1523.9,738.9 1524.3,741.4 1524.7,741.7 1525.1,740.2 1525.6,742.6 1526.0,740.8 1526.4,741.7 1526.8,742.5 1527.2,742.7 1527.7,738.6 1528.1,739.5 1528.5,742.9 1528.9,742.4 1529.3,740.6 1529.8,740.9 1530.2,738.1 1530.6,741.4 1531.0,740.2 1531.4,740.8 1531.9,739.0 1532.3,739.8 1532.7,742.8 1533.1,741.4 1533.5,739.6 1534.0,741.4 1534.4,740.5 1534.8,740.9 1535.2,742.3 1535.6,742.4 1536.1,742.9 1536.5,742.4 1536.9,739.7 1537.3,742.7 1537.8,741.7 1538.2,741.2 1538.6,741.4 1539.0,739.2 1539.4,740.2 1539.9,742.4 1540.3,739.6 1540.7,740.9 1541.1,737.8 1541.5,742.1 1542.0,742.6 1542.4,740.3 1542.8,741.5 1543.2,742.2 1543.6,742.2 1544.1,742.6 1544.5,740.1 1544.9,741.4 1545.3,741.1 1545.7,739.6 1546.2,742.7 1546.6,742.4 1547.0,740.9 1547.4,742.4 1547.8,741.6 1548.3,740.9 1548.7,742.8 1549.1,740.0 1549.5,741.3 1549.9,742.4 1550.4,741.8 1550.8,738.7 1551.2,741.2 1551.6,742.6 1552.0,739.4 1552.5,739.8 1552.9,739.7 1553.3,742.2 1553.7,740.4 1554.2,741.8 1554.6,739.8 1555.0,742.5 1555.4,742.5 1555.8,741.8 1556.3,742.7 1556.7,741.5 1557.1,741.5 1557.5,742.9 1557.9,742.6 1558.4,742.9 1558.8,741.1 1559.2,740.9 1559.6,740.9 1560.0,742.1 1560.5,738.5 1560.9,740.7 1561.3,740.2 1561.7,741.7 1562.1,742.2 1562.6,742.0 1563.0,741.3 1563.4,741.6 1563.8,741.8 1564.2,740.0 1564.7,741.7 1565.1,739.9 1565.5,740.3 1565.9,742.6 1566.3,742.0 1566.8,740.3 1567.2,742.9 1567.6,742.8 1568.0,742.9 1568.5,742.9 1568.9,742.5 1569.3,740.4 1569.7,741.9 1570.1,740.7 1570.6,742.2 1571.0,740.6 1571.4,742.5 1571.8,739.9 1572.2,741.0 1572.7,741.5 1573.1,741.9 1573.5,742.9 1573.9,742.9 1574.3,742.3 1574.8,742.9 1575.2,741.5 1575.6,740.8 1576.0,741.0 1576.4,741.6 1576.9,742.7 1577.3,741.2 1577.7,740.4 1578.1,741.6 1578.5,742.9 1579.0,739.4 1579.4,739.8 1579.8,741.8 1580.2,740.0 1580.6,742.7 1581.1,740.6 1581.5,740.3 1581.9,738.7 1582.3,740.6 1582.7,741.0 1583.2,739.7 1583.6,738.7 1584.0,741.2 1584.4,742.1 1584.9,741.6 1585.3,742.9 1585.7,740.4 1586.1,741.0 1586.5,742.0 1587.0,740.4 1587.4,740.7 1587.8,742.9 1588.2,742.1 1588.6,741.4 1589.1,742.9 1589.5,742.0 1589.9,739.4 1590.3,740.8 1590.7,741.9 1591.2,742.5 1591.6,742.8 1592.0,742.6 1592.4,742.2 1592.8,742.6 1593.3,742.8 1593.7,742.1 1594.1,742.9 1594.5,742.6 1594.9,742.2 1595.4,740.7 1595.8,741.9 1596.2,742.9 1596.6,741.6 1597.0,740.5 1597.5,740.3 1597.9,741.6 1598.3,742.1 1598.7,741.3 1599.1,741.3 1599.6,739.8 1600.0,740.5 1600.4,742.1 1600.8,742.3 1601.3,742.2 1601.7,742.9 1602.1,742.3 1602.5,741.5 1602.9,741.6 1603.4,739.8 1603.8,742.2 1604.2,742.2 1604.6,740.9 1605.0,742.5 1605.5,740.8 1605.9,740.2 1606.3,742.9 1606.7,741.9 1607.1,741.1 1607.6,739.4 1608.0,739.2 1608.4,739.7 1608.8,740.3 1609.2,739.4 1609.7,740.6 1610.1,742.9 1610.5,740.4 1610.9,741.3 1611.3,742.2 1611.8,742.9 1612.2,742.2 1612.6,742.7 1613.0,738.5 1613.4,742.9 1613.9,740.1 1614.3,739.9 1614.7,741.3 1615.1,742.1 1615.6,740.8 1616.0,740.3 1616.4,740.1 1616.8,742.8 1617.2,742.1 1617.7,742.8 1618.1,740.1 1618.5,741.7 1618.9,742.2 1619.3,742.6 1619.8,742.1 1620.2,741.3 1620.6,740.4 1621.0,741.5 1621.4,742.5 1621.9,742.1 1622.3,740.6 1622.7,740.6" fill="none" stroke="#4f7db3" stroke-width="1.0" stroke-opacity="0.8" stroke-linejoin="round"/>
<rect x="909.70" y="669.70" width="712.80" height="72.90" fill="none" stroke="#fff" stroke-width="0.8" stroke-opacity="0.8"/>
<rect x="908.40" y="668.40" width="715.40" height="75.50" fill="none" stroke="#555" stroke-width="1.4"/>
<text transform="translate(908.20,762.26) scale(1.09,1)" font-size="18.5" text-anchor="middle">0</text>
<text transform="translate(979.65,762.26) scale(1.09,1)" font-size="18.5" text-anchor="middle">50</text>
<text transform="translate(1051.10,762.26) scale(1.09,1)" font-size="18.5" text-anchor="middle">100</text>
<text transform="translate(1122.55,762.26) scale(1.09,1)" font-size="18.5" text-anchor="middle">150</text>
<text transform="translate(1194.00,762.26) scale(1.09,1)" font-size="18.5" text-anchor="middle">200</text>
<text transform="translate(1265.45,762.26) scale(1.09,1)" font-size="18.5" text-anchor="middle">250</text>
<text transform="translate(1336.90,762.26) scale(1.09,1)" font-size="18.5" text-anchor="middle">300</text>
<text transform="translate(1408.35,762.26) scale(1.09,1)" font-size="18.5" text-anchor="middle">350</text>
<text transform="translate(1479.80,762.26) scale(1.09,1)" font-size="18.5" text-anchor="middle">400</text>
<text transform="translate(1551.25,762.26) scale(1.09,1)" font-size="18.5" text-anchor="middle">450</text>
<text transform="translate(1622.70,762.26) scale(1.09,1)" font-size="18.5" text-anchor="middle">500</text>
<text transform="translate(904.75,678.86) scale(1.09,1)" font-size="18.5" text-anchor="end">2</text>
<text transform="translate(904.75,715.06) scale(1.09,1)" font-size="18.5" text-anchor="end">1</text>
<text transform="translate(904.75,752.56) scale(1.09,1)" font-size="18.5" text-anchor="end">0</text>
<text transform="translate(870.40,713.70) rotate(-90)" font-size="19.8" text-anchor="middle">Amp (m/s<tspan dy="-7.5" font-size="11.5">2</tspan><tspan dy="7.5">)</tspan></text>
<text transform="translate(918.41,640.00) scale(1.0454,1)" font-size="19.5" text-anchor="start">FFT of rockfall vibration signal on the protective net (Sensor D,  x direction, 5000kj)</text>
<text x="908.00" y="661.60" font-size="19">×10<tspan dy="-8.5" font-size="10.5">5</tspan></text>
<rect x="908.60" y="832.40" width="715.20" height="75.10" fill="url(#bg)"/>
<line x1="979.84" y1="833.40" x2="979.84" y2="906.50" class="g"/>
<line x1="1051.28" y1="833.40" x2="1051.28" y2="906.50" class="g"/>
<line x1="1122.72" y1="833.40" x2="1122.72" y2="906.50" class="g"/>
<line x1="1194.16" y1="833.40" x2="1194.16" y2="906.50" class="g"/>
<line x1="1265.60" y1="833.40" x2="1265.60" y2="906.50" class="g"/>
<line x1="1337.04" y1="833.40" x2="1337.04" y2="906.50" class="g"/>
<line x1="1408.48" y1="833.40" x2="1408.48" y2="906.50" class="g"/>
<line x1="1479.92" y1="833.40" x2="1479.92" y2="906.50" class="g"/>
<line x1="1551.36" y1="833.40" x2="1551.36" y2="906.50" class="g"/>
<line x1="909.60" y1="869.95" x2="1622.80" y2="869.95" class="g"/>
<polyline points="908.7,894.8 908.9,879.3 909.2,887.5 909.5,887.2 909.8,880.6 910.0,891.1 910.3,892.5 910.6,897.0 910.9,903.8 911.1,881.2 911.4,884.9 911.7,871.3 912.0,891.7 912.2,879.3 912.5,887.0 912.8,862.4 913.1,895.9 913.3,886.7 913.6,904.0 913.9,884.5 914.2,894.1 914.4,879.6 914.7,888.1 915.0,889.6 915.3,885.4 915.5,885.5 915.8,885.8 916.1,901.6 916.4,894.9 916.6,886.1 916.9,894.0 917.2,889.6 917.5,902.5 917.7,880.5 918.0,897.5 918.3,871.8 918.6,894.0 918.8,895.6 919.1,888.8 919.4,879.7 919.7,890.1 919.9,879.1 920.2,864.9 920.5,882.2 920.8,899.1 921.0,882.0 921.3,901.5 921.6,864.9 921.9,888.9 922.1,894.5 922.4,896.3 922.7,894.5 923.0,881.5 923.2,900.8 923.5,898.1 923.8,894.0 924.1,890.5 924.3,880.1 924.6,904.1 924.9,901.5 925.2,880.6 925.4,896.8 925.7,888.4 926.0,900.7 926.3,893.9 926.5,886.8 926.8,891.1 927.1,882.7 927.4,901.7 927.6,894.0 927.9,881.7 928.2,885.5 928.5,894.3 928.7,894.1 929.0,864.9 929.3,885.6 929.6,884.1 929.8,898.5 930.1,899.1 930.4,896.5 930.7,867.4 930.9,902.5 931.2,888.6 931.5,897.2 931.8,900.3 932.0,901.0 932.3,895.7 932.6,897.5 932.9,895.3 933.1,882.6 933.4,880.0 933.7,884.5 934.0,902.0 934.2,897.6 934.5,889.5 934.8,868.3 935.1,872.1 935.3,871.2 935.6,874.8 935.9,891.7 936.2,891.0 936.4,873.5 936.7,886.6 937.0,866.2 937.3,890.9 937.5,900.7 937.8,889.5 938.1,904.4 938.4,878.2 938.6,875.2 938.9,894.7 939.2,893.6 939.5,893.5 939.7,878.2 940.0,895.0 940.3,897.9 940.6,901.7 940.8,868.4 941.1,878.0 941.4,901.8 941.7,895.6 941.9,872.8 942.2,882.0 942.5,893.0 942.8,883.0 943.0,881.3 943.3,884.6 943.6,897.0 943.9,883.9 944.1,898.8 944.4,872.1 944.7,876.1 945.0,876.7 945.2,879.6 945.5,892.1 945.8,869.5 946.1,891.3 946.3,870.9 946.6,893.9 946.9,903.4 947.2,884.2 947.4,892.2 947.7,890.1 948.0,901.2 948.3,880.7 948.5,903.1 948.8,868.0 949.1,890.8 949.4,889.3 949.6,889.5 949.9,903.4 950.2,887.1 950.5,877.7 950.7,895.9 951.0,898.5 951.3,893.5 951.6,873.6 951.8,889.6 952.1,896.5 952.4,892.3 952.7,896.8 952.9,884.8 953.2,871.8 953.5,887.4 953.8,881.4 954.0,887.9 954.3,898.6 954.6,864.9 954.9,894.2 955.1,891.8 955.4,898.8 955.7,892.2 956.0,869.3 956.2,891.6 956.5,892.2 956.8,895.2 957.1,893.5 957.3,894.0 957.6,880.2 957.9,896.6 958.2,884.9 958.4,905.5 958.7,889.6 959.0,876.8 959.3,897.9 959.5,888.8 959.8,890.7 960.1,898.4 960.4,881.8 960.6,902.9 960.9,895.6 961.2,884.1 961.5,881.2 961.7,884.7 962.0,882.7 962.3,866.1 962.6,894.4 962.8,896.6 963.1,886.6 963.4,885.9 963.6,875.1 963.9,890.1 964.2,891.9 964.5,868.4 964.7,891.2 965.0,864.9 965.3,895.0 965.6,892.5 965.8,879.7 966.1,875.5 966.4,896.2 966.7,874.1 966.9,864.9 967.2,897.6 967.5,895.8 967.8,873.4 968.0,879.2 968.3,885.6 968.6,877.4 968.9,905.4 969.1,898.8 969.4,901.5 969.7,893.1 970.0,891.6 970.2,896.4 970.5,901.7 970.8,900.7 971.1,904.0 971.3,896.1 971.6,894.8 971.9,899.9 972.2,895.6 972.4,903.7 972.7,897.7 973.0,896.4 973.3,894.1 973.5,886.8 973.8,893.5 974.1,902.9 974.4,895.8 974.6,902.7 974.9,893.2 975.2,902.0 975.5,894.5 975.7,891.1 976.0,891.8 976.3,904.5 976.6,902.0 976.8,898.9 977.1,892.0 977.4,905.0 977.7,901.1 977.9,906.5 978.2,896.8 978.5,889.3 978.8,892.4 979.0,895.1 979.3,895.9 979.6,899.3 979.9,892.5 980.1,893.2 980.4,888.2 980.7,895.4 981.0,897.1 981.2,894.5 981.5,903.5 981.8,898.0 982.1,897.5 982.3,889.3 982.6,889.6 982.9,884.4 983.2,894.8 983.4,901.6 983.7,903.2 984.0,900.5 984.3,892.6 984.5,897.8 984.8,900.0 985.1,890.0 985.4,893.2 985.6,895.5 985.9,899.8 986.2,902.7 986.5,883.6 986.7,886.3 987.0,900.1 987.3,883.6 987.6,885.5 987.8,894.5 988.1,898.4 988.4,897.6 988.7,900.8 988.9,895.8 989.2,891.8 989.5,895.4 989.8,889.4 990.0,894.9 990.3,903.9 990.6,903.3 990.9,895.1 991.1,904.6 991.4,905.0 991.7,906.5 992.0,903.3 992.2,903.6 992.5,901.6 992.8,903.7 993.1,905.1 993.3,903.9 993.6,906.5 993.9,902.3 994.2,902.2 994.4,898.7 994.7,904.5 995.0,905.4 995.3,901.8 995.5,894.9 995.8,901.8 996.1,897.8 996.4,902.2 996.6,897.5 996.9,900.1 997.2,898.1 997.5,900.9 997.7,901.3 998.0,900.3 998.3,903.0 998.6,902.8 998.8,902.7 999.1,902.3 999.4,902.1 999.7,900.7 999.9,906.1 1000.2,901.8 1000.5,905.2 1000.8,903.4 1001.0,905.9 1001.3,904.5 1001.6,900.4 1001.9,900.4 1002.1,905.7 1002.4,902.3 1002.7,900.7 1003.0,901.0 1003.2,902.5 1003.5,897.8 1003.8,905.7 1004.1,900.2 1004.3,903.6 1004.6,901.8 1004.9,897.6 1005.2,902.8 1005.4,902.8 1005.7,904.8 1006.0,903.3 1006.3,903.3 1006.5,904.2 1006.8,900.7 1007.1,900.2 1007.4,902.4 1007.6,904.7 1007.9,902.5 1008.2,903.1 1008.5,904.4 1008.7,898.5 1009.0,905.5 1009.3,902.5 1009.6,902.0 1009.8,902.7 1010.1,902.8 1010.4,901.2 1010.7,897.6 1010.9,904.0 1011.2,903.3 1011.5,901.4 1011.8,902.0 1012.0,902.4 1012.3,898.4 1012.6,902.5 1012.9,903.6 1013.1,899.8 1013.4,903.9 1013.7,901.9 1014.0,905.9 1014.2,901.3 1014.5,906.3 1014.8,906.0 1015.1,901.8 1015.3,905.0 1015.6,898.5 1015.9,906.5 1016.2,903.1 1016.4,901.2 1016.7,901.2 1017.0,906.5 1017.3,904.3 1017.5,904.5 1017.8,904.9 1018.1,898.8 1018.3,894.7 1018.6,902.2 1018.9,898.9 1019.2,904.4 1019.4,902.9 1019.7,902.2 1020.0,906.1 1020.3,899.6 1020.5,894.7 1020.8,899.2 1021.1,900.3 1021.4,900.2 1021.6,904.7 1021.9,901.7 1022.2,901.6 1022.5,902.7 1022.7,901.4 1023.0,901.6 1023.3,898.6 1023.6,900.4 1023.8,901.6 1024.1,894.7 1024.4,905.4 1024.7,901.8 1024.9,901.9 1025.2,905.4 1025.5,903.1 1025.8,902.0 1026.0,901.1 1026.3,900.2 1026.6,904.5 1026.9,904.6 1027.1,895.1 1027.4,905.1 1027.7,904.8 1028.0,904.4 1028.2,898.1 1028.5,901.6 1028.8,902.1 1029.1,900.6 1029.3,898.5 1029.6,906.4 1029.9,893.4 1030.2,902.2 1030.4,895.1 1030.7,902.6 1031.0,900.1 1031.3,903.9 1031.5,901.4 1031.8,896.5 1032.1,903.3 1032.4,905.8 1032.6,905.8 1032.9,905.2 1033.2,904.9 1033.5,899.2 1033.7,903.2 1034.0,905.2 1034.3,894.7 1034.6,903.5 1034.8,902.8 1035.1,902.2 1035.4,900.3 1035.7,903.9 1035.9,903.4 1036.2,904.2 1036.5,902.0 1036.8,899.5 1037.0,902.1 1037.3,905.1 1037.6,905.8 1037.9,900.1 1038.1,902.6 1038.4,899.4 1038.7,904.2 1039.0,900.4 1039.2,903.7 1039.5,899.8 1039.8,905.1 1040.1,903.5 1040.3,901.0 1040.6,900.9 1040.9,899.2 1041.2,905.8 1041.4,906.4 1041.7,904.3 1042.0,903.2 1042.3,898.8 1042.5,896.8 1042.8,904.7 1043.1,906.5 1043.4,903.4 1043.6,899.9 1043.9,903.2 1044.2,905.1 1044.5,898.2 1044.7,905.8 1045.0,896.3 1045.3,901.8 1045.6,903.4 1045.8,904.0 1046.1,901.3 1046.4,903.6 1046.7,904.6 1046.9,900.4 1047.2,896.1 1047.5,904.4 1047.8,902.8 1048.0,906.5 1048.3,903.8 1048.6,900.1 1048.9,902.3 1049.1,902.7 1049.4,903.5 1049.7,900.9 1050.0,902.5 1050.2,904.6 1050.5,902.2 1050.8,902.5 1051.1,904.4 1051.3,904.3 1051.6,902.1 1051.9,905.9 1052.2,905.1 1052.4,900.0 1052.7,902.8 1053.0,905.2 1053.3,897.7 1053.5,901.3 1053.8,900.6 1054.1,900.3 1054.4,900.4 1054.6,904.9 1054.9,898.6 1055.2,905.8 1055.5,903.9 1055.7,897.4 1056.0,904.5 1056.3,900.2 1056.6,904.1 1056.8,904.9 1057.1,900.5 1057.4,903.1 1057.7,904.9 1057.9,901.4 1058.2,906.5 1058.5,904.0 1058.8,904.9 1059.0,904.4 1059.3,900.8 1059.6,903.2 1059.9,899.0 1060.1,904.0 1060.4,903.3 1060.7,900.2 1061.0,904.0 1061.2,905.2 1061.5,901.8 1061.8,903.8 1062.1,905.8 1062.3,900.1 1062.6,905.1 1062.9,902.5 1063.2,904.7 1063.4,904.7 1063.7,899.9 1064.0,905.3 1064.3,906.2 1064.5,898.4 1064.8,905.4 1065.1,903.0 1065.4,906.5 1065.6,903.2 1065.9,903.7 1066.2,899.2 1066.5,904.6 1066.7,901.1 1067.0,898.0 1067.3,905.5 1067.6,901.7 1067.8,902.1 1068.1,903.8 1068.4,898.9 1068.7,904.8 1068.9,905.2 1069.2,904.7 1069.5,900.7 1069.8,901.7 1070.0,906.0 1070.3,902.7 1070.6,901.0 1070.9,901.9 1071.1,904.1 1071.4,904.4 1071.7,901.9 1072.0,902.8 1072.2,904.4 1072.5,900.6 1072.8,900.3 1073.1,904.1 1073.3,905.3 1073.6,901.2 1073.9,903.0 1074.1,905.9 1074.4,902.5 1074.7,903.4 1075.0,906.0 1075.2,899.9 1075.5,902.5 1075.8,900.0 1076.1,900.6 1076.3,902.5 1076.6,904.9 1076.9,904.6 1077.2,901.2 1077.4,900.0 1077.7,906.5 1078.0,905.8 1078.3,902.4 1078.5,905.5 1078.8,898.6 1079.1,903.5 1079.4,900.2 1079.6,906.5 1079.9,901.1 1080.2,905.0 1080.5,902.4 1080.7,905.7 1081.0,903.8 1081.3,901.7 1081.6,906.5 1081.8,905.8 1082.1,905.1 1082.4,904.6 1082.7,903.2 1082.9,900.6 1083.2,901.0 1083.5,900.4 1083.8,898.4 1084.0,901.5 1084.3,903.4 1084.6,901.5 1084.9,902.4 1085.1,906.5 1085.4,901.3 1085.7,903.9 1086.0,906.5 1086.2,904.9 1086.5,901.8 1086.8,904.7 1087.1,903.7 1087.3,905.7 1087.6,906.5 1087.9,902.8 1088.2,906.1 1088.4,903.0 1088.7,904.0 1089.0,905.2 1089.3,900.4 1089.5,902.8 1089.8,902.9 1090.1,904.2 1090.4,903.2 1090.6,902.6 1090.9,904.8 1091.2,906.5 1091.5,903.8 1091.7,903.4 1092.0,905.6 1092.3,902.2 1092.6,903.0 1092.8,906.0 1093.1,904.6 1093.4,906.5 1093.7,899.7 1093.9,903.3 1094.2,905.1 1094.5,904.8 1094.8,904.8 1095.0,906.4 1095.3,903.2 1095.6,903.4 1095.9,901.4 1096.1,901.7 1096.4,905.3 1096.7,903.4 1097.0,903.7 1097.2,905.8 1097.5,903.4 1097.8,902.5 1098.1,905.7 1098.3,902.8 1098.6,904.0 1098.9,904.2 1099.2,902.9 1099.4,905.9 1099.7,905.2 1100.0,902.5 1100.3,904.9 1100.5,906.5 1100.8,906.0 1101.1,903.8 1101.4,905.2 1101.6,905.1 1101.9,900.0 1102.2,905.4 1102.5,904.0 1102.7,904.3 1103.0,903.6 1103.3,906.1 1103.6,904.2 1103.8,899.7 1104.1,906.1 1104.4,899.6 1104.7,905.9 1104.9,902.6 1105.2,905.6 1105.5,905.0 1105.8,905.5 1106.0,906.1 1106.3,904.9 1106.6,906.3 1106.9,904.7 1107.1,902.4 1107.4,906.2 1107.7,905.7 1108.0,905.4 1108.2,900.8 1108.5,903.3 1108.8,905.0 1109.1,900.7 1109.3,905.0 1109.6,902.1 1109.9,906.1 1110.2,902.6 1110.4,906.1 1110.7,906.2 1111.0,906.0 1111.3,905.0 1111.5,903.6 1111.8,901.5 1112.1,904.0 1112.4,902.6 1112.6,905.4 1112.9,906.0 1113.2,903.3 1113.5,904.2 1113.7,902.8 1114.0,905.7 1114.3,903.9 1114.6,904.9 1114.8,904.6 1115.1,903.8 1115.4,903.1 1115.7,903.2 1115.9,904.8 1116.2,905.7 1116.5,903.0 1116.8,904.4 1117.0,904.2 1117.3,904.2 1117.6,904.6 1117.9,905.0 1118.1,904.9 1118.4,905.0 1118.7,905.5 1119.0,902.9 1119.2,904.1 1119.5,905.8 1119.8,905.6 1120.1,906.5 1120.3,906.3 1120.6,904.9 1120.9,899.7 1121.2,904.4 1121.4,903.5 1121.7,906.4 1122.0,903.5 1122.3,905.6 1122.5,903.9 1122.8,905.3 1123.1,905.3 1123.4,906.5 1123.6,902.7 1123.9,903.1 1124.2,905.2 1124.5,906.1 1124.7,903.3 1125.0,904.7 1125.3,906.5 1125.6,906.5 1125.8,904.7 1126.1,905.7 1126.4,906.5 1126.7,906.5 1126.9,904.9 1127.2,902.2 1127.5,905.1 1127.8,902.2 1128.0,905.3 1128.3,904.6 1128.6,902.6 1128.8,903.7 1129.1,901.7 1129.4,904.5 1129.7,904.5 1129.9,904.6 1130.2,903.6 1130.5,904.0 1130.8,905.6 1131.0,906.1 1131.3,905.1 1131.6,906.1 1131.9,905.9 1132.1,905.4 1132.4,903.6 1132.7,905.6 1133.0,904.2 1133.2,904.8 1133.5,904.5 1133.8,904.4 1134.1,904.6 1134.3,905.7 1134.6,906.5 1134.9,905.2 1135.2,906.5 1135.4,904.9 1135.7,906.5 1136.0,906.2 1136.3,903.2 1136.5,903.8 1136.8,903.9 1137.1,904.4 1137.4,904.8 1137.6,905.1 1137.9,903.7 1138.2,905.5 1138.5,901.5 1138.7,904.3 1139.0,903.8 1139.3,901.6 1139.6,903.6 1139.8,906.1 1140.1,906.2 1140.4,905.8 1140.7,906.2 1140.9,901.5 1141.2,904.5 1141.5,901.6 1141.8,906.0 1142.0,906.4 1142.3,903.5 1142.6,905.7 1142.9,905.7 1143.1,902.1 1143.4,904.8 1143.7,906.5 1144.0,906.0 1144.2,906.2 1144.5,902.8 1144.8,904.6 1145.1,905.7 1145.3,903.0 1145.6,905.4 1145.9,905.1 1146.2,904.3 1146.4,903.6 1146.7,905.7 1147.0,901.6 1147.3,903.3 1147.5,905.1 1147.8,905.4 1148.1,906.5 1148.4,902.4 1148.6,905.9 1148.9,903.5 1149.2,905.1 1149.5,906.5 1149.7,903.6 1150.0,904.9 1150.3,905.0 1150.6,906.5 1150.8,904.0 1151.1,906.5 1151.4,904.3 1151.7,904.2 1151.9,905.9 1152.2,901.6 1152.5,905.9 1152.8,906.5 1153.0,904.4 1153.3,904.0 1153.6,902.2 1153.9,906.2 1154.1,903.4 1154.4,904.5 1154.7,902.3 1155.0,902.6 1155.2,906.5 1155.5,904.4 1155.8,905.5 1156.1,906.5 1156.3,903.9 1156.6,904.9 1156.9,903.4 1157.2,906.5 1157.4,903.7 1157.7,906.5 1158.0,904.5 1158.3,903.4 1158.5,903.8 1158.8,903.0 1159.1,903.3 1159.4,903.7 1159.6,905.5 1159.9,904.7 1160.2,902.3 1160.5,905.3 1160.7,905.8 1161.0,904.1 1161.3,903.4 1161.6,906.4 1161.8,905.2 1162.1,904.4 1162.4,902.2 1162.7,904.1 1162.9,905.5 1163.2,905.1 1163.5,902.6 1163.8,906.5 1164.0,904.0 1164.3,906.3 1164.6,906.2 1164.9,903.8 1165.1,906.1 1165.4,903.4 1165.7,903.3 1166.0,906.0 1166.2,905.5 1166.5,906.5 1166.8,904.9 1167.1,905.4 1167.3,905.9 1167.6,903.6 1167.9,905.9 1168.2,906.5 1168.4,903.9 1168.7,905.4 1169.0,906.4 1169.3,903.1 1169.5,905.3 1169.8,906.0 1170.1,904.2 1170.4,904.0 1170.6,905.7 1170.9,906.3 1171.2,906.2 1171.5,905.0 1171.7,904.1 1172.0,906.3 1172.3,904.5 1172.6,905.1 1172.8,904.9 1173.1,904.2 1173.4,905.1 1173.7,906.4 1173.9,905.2 1174.2,905.3 1174.5,903.9 1174.8,902.5 1175.0,903.1 1175.3,905.7 1175.6,906.5 1175.9,904.5 1176.1,906.0 1176.4,904.3 1176.7,905.2 1177.0,903.5 1177.2,904.6 1177.5,902.9 1177.8,906.5 1178.1,904.8 1178.3,905.5 1178.6,904.1 1178.9,903.8 1179.2,906.5 1179.4,904.7 1179.7,905.6 1180.0,902.6 1180.3,904.3 1180.5,903.7 1180.8,904.2 1181.1,905.8 1181.4,906.5 1181.6,904.2 1181.9,902.7 1182.2,903.9 1182.5,904.7 1182.7,904.4 1183.0,905.5 1183.3,903.8 1183.5,904.5 1183.8,906.0 1184.1,905.2 1184.4,904.9 1184.6,905.2 1184.9,902.7 1185.2,904.0 1185.5,903.1 1185.7,905.8 1186.0,905.9 1186.3,905.2 1186.6,903.9 1186.8,904.9 1187.1,903.4 1187.4,902.8 1187.7,904.3 1187.9,904.4 1188.2,905.1 1188.5,903.8 1188.8,904.7 1189.0,903.1 1189.3,906.3 1189.6,905.2 1189.9,905.8 1190.1,904.9 1190.4,904.0 1190.7,906.5 1191.0,904.7 1191.2,905.8 1191.5,905.3 1191.8,905.5 1192.1,904.4 1192.3,903.5 1192.6,905.1 1192.9,905.5 1193.2,904.4 1193.4,903.7 1193.7,906.4 1194.0,903.4 1194.3,906.5 1194.5,904.8 1194.8,903.9 1195.1,905.3 1195.4,904.5 1195.6,904.9 1195.9,906.1 1196.2,906.1 1196.5,905.0 1196.7,905.5 1197.0,905.3 1197.3,904.6 1197.6,903.9 1197.8,906.5 1198.1,905.0 1198.4,904.6 1198.7,905.7 1198.9,905.5 1199.2,904.1 1199.5,903.9 1199.8,903.6 1200.0,905.8 1200.3,905.3 1200.6,905.8 1200.9,906.5 1201.1,905.8 1201.4,905.0 1201.7,906.4 1202.0,905.1 1202.2,905.8 1202.5,902.4 1202.8,902.1 1203.1,902.1 1203.3,905.2 1203.6,904.3 1203.9,906.0 1204.2,906.1 1204.4,905.8 1204.7,904.0 1205.0,905.4 1205.3,903.5 1205.5,905.2 1205.8,906.5 1206.1,905.3 1206.4,904.7 1206.6,905.5 1206.9,905.3 1207.2,904.1 1207.5,903.2 1207.7,905.7 1208.0,904.4 1208.3,905.4 1208.6,903.3 1208.8,906.5 1209.1,904.4 1209.4,906.4 1209.7,906.5 1209.9,904.5 1210.2,906.2 1210.5,903.8 1210.8,905.9 1211.0,906.0 1211.3,903.8 1211.6,905.2 1211.9,906.5 1212.1,904.6 1212.4,905.1 1212.7,906.5 1213.0,905.7 1213.2,905.5 1213.5,905.3 1213.8,902.9 1214.1,905.8 1214.3,904.6 1214.6,905.2 1214.9,903.5 1215.2,905.4 1215.4,906.5 1215.7,905.8 1216.0,903.7 1216.3,905.5 1216.5,906.5 1216.8,905.5 1217.1,905.3 1217.4,904.8 1217.6,906.5 1217.9,906.5 1218.2,906.3 1218.5,905.6 1218.7,904.9 1219.0,905.8 1219.3,904.9 1219.6,906.5 1219.8,906.5 1220.1,906.4 1220.4,904.7 1220.7,904.3 1220.9,905.4 1221.2,905.4 1221.5,906.1 1221.8,903.4 1222.0,906.0 1222.3,903.2 1222.6,906.4 1222.9,905.5 1223.1,906.2 1223.4,903.5 1223.7,904.4 1224.0,903.2 1224.2,906.5 1224.5,904.3 1224.8,905.5 1225.1,905.4 1225.3,906.4 1225.6,906.5 1225.9,906.5 1226.2,902.7 1226.4,906.2 1226.7,906.5 1227.0,906.2 1227.3,906.0 1227.5,904.8 1227.8,904.6 1228.1,906.3 1228.4,903.1 1228.6,906.4 1228.9,906.1 1229.2,905.0 1229.5,903.4 1229.7,903.8 1230.0,904.9 1230.3,905.6 1230.6,906.5 1230.8,905.8 1231.1,905.8 1231.4,905.5 1231.7,904.1 1231.9,906.5 1232.2,904.1 1232.5,905.7 1232.8,902.5 1233.0,906.5 1233.3,906.5 1233.6,905.3 1233.9,903.4 1234.1,904.4 1234.4,904.1 1234.7,904.7 1235.0,905.7 1235.2,906.5 1235.5,905.2 1235.8,904.2 1236.1,905.1 1236.3,906.0 1236.6,905.2 1236.9,904.2 1237.2,905.8 1237.4,905.2 1237.7,905.3 1238.0,905.5 1238.2,906.5 1238.5,904.5 1238.8,906.2 1239.1,903.6 1239.3,906.4 1239.6,903.8 1239.9,906.5 1240.2,906.0 1240.4,906.2 1240.7,903.7 1241.0,904.0 1241.3,905.1 1241.5,905.5 1241.8,906.5 1242.1,904.5 1242.4,904.4 1242.6,906.4 1242.9,906.5 1243.2,904.4 1243.5,904.7 1243.7,904.9 1244.0,905.1 1244.3,905.5 1244.6,905.3 1244.8,905.5 1245.1,906.2 1245.4,906.5 1245.7,905.5 1245.9,904.3 1246.2,905.3 1246.5,904.3 1246.8,906.5 1247.0,906.5 1247.3,905.7 1247.6,904.6 1247.9,906.4 1248.1,905.1 1248.4,903.9 1248.7,904.2 1249.0,905.9 1249.2,906.1 1249.5,906.4 1249.8,906.5 1250.1,905.4 1250.3,905.4 1250.6,906.2 1250.9,904.9 1251.2,905.8 1251.4,906.5 1251.7,905.0 1252.0,903.4 1252.3,905.1 1252.5,904.6 1252.8,904.5 1253.1,906.5 1253.4,903.9 1253.6,903.7 1253.9,905.4 1254.2,904.1 1254.5,903.9 1254.7,905.1 1255.0,906.0 1255.3,905.5 1255.6,903.7 1255.8,905.6 1256.1,903.7 1256.4,905.2 1256.7,906.4 1256.9,906.3 1257.2,905.4 1257.5,906.1 1257.8,906.2 1258.0,905.9 1258.3,904.5 1258.6,906.0 1258.9,903.8 1259.1,904.4 1259.4,903.6 1259.7,905.8 1260.0,904.5 1260.2,905.1 1260.5,905.2 1260.8,903.5 1261.1,903.2 1261.3,903.4 1261.6,904.5 1261.9,906.3 1262.2,905.4 1262.4,905.5 1262.7,903.8 1263.0,905.4 1263.3,906.5 1263.5,905.2 1263.8,905.1 1264.1,906.1 1264.4,906.1 1264.6,904.3 1264.9,904.4 1265.2,904.7 1265.5,903.6 1265.7,906.1 1266.0,906.5 1266.3,906.0 1266.6,904.1 1266.8,906.0 1267.1,904.9 1267.4,906.5 1267.7,904.9 1267.9,906.5 1268.2,905.6 1268.5,906.5 1268.8,905.9 1269.0,906.1 1269.3,905.3 1269.6,906.5 1269.9,904.1 1270.1,903.5 1270.4,905.9 1270.7,904.7 1271.0,903.5 1271.2,902.8 1271.5,905.0 1271.8,906.5 1272.1,906.5 1272.3,906.0 1272.6,906.5 1272.9,906.1 1273.2,905.3 1273.4,905.3 1273.7,905.9 1274.0,905.9 1274.3,906.5 1274.5,904.2 1274.8,904.1 1275.1,905.1 1275.4,903.6 1275.6,906.5 1275.9,905.7 1276.2,905.3 1276.5,903.5 1276.7,905.6 1277.0,906.3 1277.3,904.4 1277.6,906.5 1277.8,905.9 1278.1,903.8 1278.4,905.1 1278.7,904.7 1278.9,906.2 1279.2,904.0 1279.5,905.5 1279.8,906.5 1280.0,905.5 1280.3,904.5 1280.6,903.9 1280.9,905.9 1281.1,906.0 1281.4,905.9 1281.7,905.1 1282.0,905.6 1282.2,903.7 1282.5,904.5 1282.8,905.6 1283.1,906.5 1283.3,904.3 1283.6,906.0 1283.9,906.5 1284.2,906.4 1284.4,903.9 1284.7,905.9 1285.0,906.5 1285.3,903.6 1285.5,905.2 1285.8,904.2 1286.1,904.7 1286.4,905.1 1286.6,906.0 1286.9,905.3 1287.2,905.4 1287.5,904.8 1287.7,903.8 1288.0,906.5 1288.3,905.1 1288.6,905.0 1288.8,905.2 1289.1,904.7 1289.4,904.8 1289.7,905.4 1289.9,905.8 1290.2,905.2 1290.5,902.7 1290.8,904.7 1291.0,905.7 1291.3,905.3 1291.6,905.0 1291.9,904.1 1292.1,904.8 1292.4,905.8 1292.7,905.9 1293.0,902.7 1293.2,904.9 1293.5,904.6 1293.8,904.4 1294.0,905.7 1294.3,906.2 1294.6,905.6 1294.9,902.8 1295.1,902.7 1295.4,905.0 1295.7,904.2 1296.0,906.5 1296.2,904.7 1296.5,904.9 1296.8,906.5 1297.1,902.7 1297.3,904.3 1297.6,903.9 1297.9,905.5 1298.2,902.9 1298.4,905.0 1298.7,905.8 1299.0,906.1 1299.3,904.7 1299.5,905.7 1299.8,905.6 1300.1,906.1 1300.4,906.5 1300.6,905.2 1300.9,906.5 1301.2,905.3 1301.5,903.3 1301.7,906.4 1302.0,905.4 1302.3,904.9 1302.6,905.0 1302.8,905.6 1303.1,905.1 1303.4,904.6 1303.7,906.2 1303.9,906.2 1304.2,904.2 1304.5,905.7 1304.8,905.5 1305.0,904.2 1305.3,905.3 1305.6,906.5 1305.9,906.1 1306.1,905.1 1306.4,905.3 1306.7,906.5 1307.0,905.6 1307.2,906.4 1307.5,906.5 1307.8,905.1 1308.1,903.6 1308.3,906.4 1308.6,906.0 1308.9,904.5 1309.2,906.0 1309.4,905.2 1309.7,905.0 1310.0,904.7 1310.3,906.5 1310.5,906.5 1310.8,905.7 1311.1,906.3 1311.4,906.0 1311.6,904.9 1311.9,902.8 1312.2,905.6 1312.5,904.1 1312.7,906.3 1313.0,905.3 1313.3,903.3 1313.6,906.5 1313.8,905.2 1314.1,903.1 1314.4,906.2 1314.7,905.6 1314.9,906.5 1315.2,905.8 1315.5,905.3 1315.8,905.1 1316.0,906.0 1316.3,906.5 1316.6,906.5 1316.9,905.8 1317.1,906.4 1317.4,905.9 1317.7,903.0 1318.0,906.5 1318.2,905.3 1318.5,905.4 1318.8,906.3 1319.1,906.5 1319.3,904.0 1319.6,904.3 1319.9,906.5 1320.2,903.8 1320.4,905.9 1320.7,906.4 1321.0,905.7 1321.3,903.9 1321.5,904.4 1321.8,905.6 1322.1,906.4 1322.4,905.9 1322.6,904.6 1322.9,905.9 1323.2,906.0 1323.5,906.5 1323.7,906.2 1324.0,905.0 1324.3,905.1 1324.6,906.1 1324.8,905.7 1325.1,906.3 1325.4,905.6 1325.7,905.2 1325.9,906.5 1326.2,905.8 1326.5,906.5 1326.8,906.5 1327.0,904.1 1327.3,906.4 1327.6,904.3 1327.9,906.5 1328.1,905.8 1328.4,904.7 1328.7,905.1 1329.0,905.9 1329.2,903.2 1329.5,905.3 1329.8,905.6 1330.1,904.9 1330.3,904.7 1330.6,905.8 1330.9,904.8 1331.2,906.1 1331.4,903.6 1331.7,905.8 1332.0,906.3 1332.3,905.8 1332.5,904.9 1332.8,906.5 1333.1,906.5 1333.4,905.6 1333.6,905.0 1333.9,906.1 1334.2,906.3 1334.5,906.5 1334.7,905.3 1335.0,906.5 1335.3,904.5 1335.6,905.8 1335.8,905.2 1336.1,905.1 1336.4,905.6 1336.7,906.5 1336.9,902.9 1337.2,906.5 1337.5,906.5 1337.8,904.3 1338.0,906.0 1338.3,906.5 1338.6,906.5 1338.9,905.1 1339.1,906.5 1339.4,903.5 1339.7,905.9 1340.0,906.4 1340.2,906.1 1340.5,906.1 1340.8,906.5 1341.1,903.5 1341.3,903.5 1341.6,906.5 1341.9,904.7 1342.2,904.6 1342.4,905.8 1342.7,906.1 1343.0,906.2 1343.3,904.6 1343.5,906.3 1343.8,906.5 1344.1,906.5 1344.4,905.5 1344.6,905.5 1344.9,906.5 1345.2,906.5 1345.5,905.2 1345.7,905.7 1346.0,905.5 1346.3,905.9 1346.6,906.5 1346.8,906.4 1347.1,904.0 1347.4,905.8 1347.7,906.5 1347.9,906.5 1348.2,905.7 1348.5,905.3 1348.7,905.7 1349.0,906.5 1349.3,905.2 1349.6,906.5 1349.8,905.3 1350.1,906.5 1350.4,904.2 1350.7,904.9 1350.9,906.5 1351.2,904.6 1351.5,904.3 1351.8,903.1 1352.0,905.2 1352.3,906.5 1352.6,905.0 1352.9,904.7 1353.1,906.1 1353.4,906.5 1353.7,904.0 1354.0,905.5 1354.2,904.2 1354.5,905.1 1354.8,905.6 1355.1,906.1 1355.3,906.1 1355.6,906.5 1355.9,903.0 1356.2,906.5 1356.4,902.9 1356.7,906.5 1357.0,906.0 1357.3,906.0 1357.5,906.1 1357.8,905.7 1358.1,906.1 1358.4,906.5 1358.6,905.0 1358.9,905.6 1359.2,905.4 1359.5,905.6 1359.7,906.5 1360.0,905.1 1360.3,905.3 1360.6,905.3 1360.8,905.6 1361.1,906.5 1361.4,902.9 1361.7,904.9 1361.9,905.7 1362.2,905.8 1362.5,904.5 1362.8,906.4 1363.0,904.7 1363.3,904.0 1363.6,905.7 1363.9,905.3 1364.1,906.0 1364.4,906.5 1364.7,904.1 1365.0,905.9 1365.2,906.5 1365.5,904.3 1365.8,905.0 1366.1,905.3 1366.3,904.8 1366.6,905.4 1366.9,905.9 1367.2,905.6 1367.4,903.0 1367.7,906.5 1368.0,905.3 1368.3,904.8 1368.5,905.5 1368.8,906.3 1369.1,905.6 1369.4,904.8 1369.6,906.2 1369.9,906.0 1370.2,906.4 1370.5,905.4 1370.7,906.5 1371.0,906.2 1371.3,906.5 1371.6,906.4 1371.8,906.5 1372.1,905.7 1372.4,904.6 1372.7,906.5 1372.9,906.5 1373.2,906.5 1373.5,906.5 1373.8,906.5 1374.0,906.5 1374.3,906.5 1374.6,903.7 1374.9,906.5 1375.1,906.4 1375.4,906.2 1375.7,905.4 1376.0,906.2 1376.2,904.8 1376.5,905.6 1376.8,906.5 1377.1,905.1 1377.3,905.4 1377.6,906.0 1377.9,905.5 1378.2,906.5 1378.4,903.8 1378.7,906.0 1379.0,904.2 1379.3,904.7 1379.5,905.5 1379.8,906.5 1380.1,906.4 1380.4,905.3 1380.6,903.0 1380.9,905.6 1381.2,906.5 1381.5,905.4 1381.7,905.8 1382.0,905.4 1382.3,904.4 1382.6,906.1 1382.8,905.6 1383.1,906.5 1383.4,906.5 1383.7,905.0 1383.9,906.3 1384.2,905.1 1384.5,906.2 1384.8,905.6 1385.0,906.0 1385.3,905.9 1385.6,906.5 1385.9,903.0 1386.1,904.6 1386.4,903.2 1386.7,904.6 1387.0,905.8 1387.2,904.0 1387.5,906.5 1387.8,906.0 1388.1,905.8 1388.3,906.5 1388.6,905.1 1388.9,903.9 1389.2,904.6 1389.4,905.5 1389.7,904.2 1390.0,906.4 1390.3,906.5 1390.5,904.8 1390.8,906.2 1391.1,904.8 1391.4,905.9 1391.6,906.1 1391.9,903.6 1392.2,905.7 1392.5,905.1 1392.7,906.5 1393.0,904.3 1393.3,906.5 1393.6,906.5 1393.8,906.5 1394.1,905.6 1394.4,904.7 1394.7,904.3 1394.9,906.5 1395.2,904.0 1395.5,906.5 1395.8,905.7 1396.0,906.5 1396.3,905.1 1396.6,905.8 1396.9,905.0 1397.1,904.8 1397.4,903.6 1397.7,903.1 1398.0,904.8 1398.2,905.9 1398.5,906.3 1398.8,906.2 1399.1,905.7 1399.3,904.6 1399.6,906.2 1399.9,906.0 1400.2,905.7 1400.4,905.7 1400.7,904.1 1401.0,906.5 1401.3,906.5 1401.5,904.1 1401.8,906.5 1402.1,905.2 1402.4,906.5 1402.6,906.2 1402.9,903.9 1403.2,905.6 1403.4,903.1 1403.7,906.3 1404.0,904.6 1404.3,906.1 1404.5,905.0 1404.8,906.1 1405.1,906.5 1405.4,905.9 1405.6,906.3 1405.9,903.8 1406.2,906.5 1406.5,906.5 1406.7,904.2 1407.0,905.0 1407.3,906.5 1407.6,905.0 1407.8,904.7 1408.1,904.3 1408.4,904.6 1408.7,904.7 1408.9,906.5 1409.2,906.5 1409.5,906.2 1409.8,905.4 1410.0,906.4 1410.3,906.5 1410.6,906.5 1410.9,906.5 1411.1,904.8 1411.4,906.0 1411.7,906.3 1412.0,906.1 1412.2,905.3 1412.5,904.2 1412.8,906.5 1413.1,906.1 1413.3,906.5 1413.6,906.2 1413.9,904.4 1414.2,906.5 1414.4,906.5 1414.7,906.5 1415.0,906.1 1415.3,904.6 1415.5,905.9 1415.8,906.5 1416.1,906.5 1416.4,905.5 1416.6,905.3 1416.9,904.9 1417.2,904.6 1417.5,905.6 1417.7,904.7 1418.0,904.7 1418.3,906.5 1418.6,904.0 1418.8,906.4 1419.1,904.2 1419.4,905.4 1419.7,905.9 1419.9,904.9 1420.2,905.0 1420.5,905.2 1420.8,905.8 1421.0,904.7 1421.3,906.5 1421.6,904.3 1421.9,905.0 1422.1,906.5 1422.4,904.7 1422.7,906.5 1423.0,906.5 1423.2,903.2 1423.5,903.2 1423.8,904.8 1424.1,905.8 1424.3,904.6 1424.6,906.5 1424.9,906.5 1425.2,904.7 1425.4,906.5 1425.7,905.6 1426.0,906.5 1426.3,905.2 1426.5,905.3 1426.8,905.4 1427.1,905.7 1427.4,905.1 1427.6,906.5 1427.9,905.4 1428.2,904.6 1428.5,904.9 1428.7,906.4 1429.0,905.4 1429.3,906.4 1429.6,906.2 1429.8,906.5 1430.1,906.5 1430.4,906.5 1430.7,905.6 1430.9,905.5 1431.2,906.5 1431.5,905.4 1431.8,906.5 1432.0,904.9 1432.3,906.2 1432.6,906.1 1432.9,905.8 1433.1,905.8 1433.4,904.9 1433.7,903.8 1434.0,905.8 1434.2,906.0 1434.5,905.7 1434.8,905.0 1435.1,906.5 1435.3,906.2 1435.6,906.1 1435.9,905.2 1436.2,906.5 1436.4,905.2 1436.7,903.9 1437.0,904.3 1437.3,903.3 1437.5,906.5 1437.8,905.3 1438.1,903.5 1438.4,905.2 1438.6,905.8 1438.9,905.0 1439.2,906.5 1439.5,904.9 1439.7,906.2 1440.0,906.1 1440.3,905.3 1440.6,906.5 1440.8,905.9 1441.1,904.8 1441.4,906.5 1441.7,906.5 1441.9,906.0 1442.2,906.5 1442.5,904.7 1442.8,905.4 1443.0,906.5 1443.3,904.7 1443.6,906.2 1443.9,903.2 1444.1,905.4 1444.4,906.3 1444.7,906.5 1445.0,905.7 1445.2,905.3 1445.5,906.5 1445.8,905.8 1446.1,903.9 1446.3,904.8 1446.6,906.4 1446.9,906.5 1447.2,905.1 1447.4,905.5 1447.7,906.3 1448.0,906.5 1448.3,906.5 1448.5,905.6 1448.8,904.0 1449.1,905.0 1449.4,906.1 1449.6,905.8 1449.9,905.1 1450.2,903.3 1450.5,905.0 1450.7,905.7 1451.0,906.5 1451.3,905.9 1451.6,905.9 1451.8,906.5 1452.1,903.7 1452.4,906.1 1452.7,906.0 1452.9,906.5 1453.2,904.4 1453.5,906.3 1453.8,906.3 1454.0,906.5 1454.3,905.7 1454.6,905.5 1454.9,905.2 1455.1,906.3 1455.4,905.6 1455.7,906.3 1456.0,904.8 1456.2,904.6 1456.5,904.4 1456.8,904.1 1457.1,905.1 1457.3,906.5 1457.6,906.5 1457.9,904.7 1458.1,904.9 1458.4,906.0 1458.7,906.5 1459.0,905.6 1459.2,906.5 1459.5,905.1 1459.8,906.4 1460.1,905.6 1460.3,905.1 1460.6,905.6 1460.9,905.8 1461.2,906.4 1461.4,904.7 1461.7,906.5 1462.0,905.9 1462.3,904.7 1462.5,905.2 1462.8,906.5 1463.1,903.3 1463.4,905.1 1463.6,903.6 1463.9,905.7 1464.2,906.2 1464.5,906.3 1464.7,904.3 1465.0,905.8 1465.3,905.2 1465.6,906.1 1465.8,906.4 1466.1,904.0 1466.4,905.9 1466.7,906.4 1466.9,906.5 1467.2,904.8 1467.5,904.5 1467.8,906.2 1468.0,904.8 1468.3,904.7 1468.6,906.5 1468.9,905.7 1469.1,905.3 1469.4,904.6 1469.7,905.1 1470.0,904.2 1470.2,906.4 1470.5,906.5 1470.8,906.4 1471.1,904.8 1471.3,906.5 1471.6,905.1 1471.9,905.3 1472.2,906.5 1472.4,903.8 1472.7,904.3 1473.0,906.5 1473.3,905.9 1473.5,906.2 1473.8,906.0 1474.1,906.5 1474.4,906.1 1474.6,906.5 1474.9,905.0 1475.2,905.8 1475.5,905.0 1475.7,906.0 1476.0,906.5 1476.3,905.8 1476.6,903.8 1476.8,905.6 1477.1,905.2 1477.4,906.5 1477.7,903.3 1477.9,904.2 1478.2,905.6 1478.5,906.5 1478.8,906.5 1479.0,903.9 1479.3,903.9 1479.6,906.0 1479.9,906.5 1480.1,906.3 1480.4,906.5 1480.7,903.4 1481.0,905.6 1481.2,906.2 1481.5,906.1 1481.8,906.5 1482.1,906.5 1482.3,906.5 1482.6,904.4 1482.9,905.6 1483.2,904.4 1483.4,903.4 1483.7,903.4 1484.0,905.1 1484.3,906.5 1484.5,904.1 1484.8,906.5 1485.1,904.8 1485.4,906.5 1485.6,905.1 1485.9,905.9 1486.2,905.5 1486.5,905.8 1486.7,905.6 1487.0,903.5 1487.3,904.1 1487.6,906.5 1487.8,905.4 1488.1,904.8 1488.4,903.8 1488.7,904.8 1488.9,906.0 1489.2,905.7 1489.5,906.2 1489.8,905.8 1490.0,904.8 1490.3,906.2 1490.6,905.8 1490.9,906.2 1491.1,905.9 1491.4,906.3 1491.7,906.5 1492.0,906.1 1492.2,905.2 1492.5,906.5 1492.8,906.1 1493.1,906.5 1493.3,905.9 1493.6,903.5 1493.9,906.5 1494.2,905.5 1494.4,903.4 1494.7,905.2 1495.0,906.5 1495.3,905.8 1495.5,905.9 1495.8,906.5 1496.1,906.5 1496.4,904.9 1496.6,905.8 1496.9,906.5 1497.2,903.9 1497.5,906.5 1497.7,904.9 1498.0,905.6 1498.3,905.2 1498.6,905.2 1498.8,905.5 1499.1,905.3 1499.4,906.5 1499.7,903.8 1499.9,904.2 1500.2,906.5 1500.5,906.0 1500.8,903.6 1501.0,904.1 1501.3,905.9 1501.6,906.0 1501.9,906.5 1502.1,905.8 1502.4,906.3 1502.7,906.3 1503.0,905.5 1503.2,906.1 1503.5,905.3 1503.8,904.8 1504.1,906.5 1504.3,904.9 1504.6,906.2 1504.9,905.2 1505.2,905.1 1505.4,904.9 1505.7,906.5 1506.0,906.5 1506.3,906.5 1506.5,905.8 1506.8,906.0 1507.1,906.5 1507.4,905.5 1507.6,906.5 1507.9,905.4 1508.2,904.4 1508.5,905.2 1508.7,905.0 1509.0,906.0 1509.3,906.5 1509.6,906.1 1509.8,905.0 1510.1,905.8 1510.4,906.5 1510.7,906.0 1510.9,904.5 1511.2,905.6 1511.5,905.9 1511.8,906.4 1512.0,904.9 1512.3,906.5 1512.6,906.5 1512.9,905.4 1513.1,905.4 1513.4,905.7 1513.7,905.8 1513.9,906.0 1514.2,906.2 1514.5,906.0 1514.8,904.3 1515.0,906.5 1515.3,906.0 1515.6,904.4 1515.9,904.7 1516.1,905.7 1516.4,904.3 1516.7,905.6 1517.0,906.5 1517.2,906.0 1517.5,906.4 1517.8,904.4 1518.1,906.5 1518.3,906.1 1518.6,906.2 1518.9,905.5 1519.2,905.6 1519.4,904.2 1519.7,906.5 1520.0,905.1 1520.3,905.8 1520.5,906.0 1520.8,906.1 1521.1,903.9 1521.4,905.7 1521.6,906.5 1521.9,906.5 1522.2,904.3 1522.5,904.9 1522.7,905.9 1523.0,906.5 1523.3,905.6 1523.6,906.3 1523.8,906.5 1524.1,905.6 1524.4,906.1 1524.7,906.3 1524.9,905.2 1525.2,906.5 1525.5,906.5 1525.8,906.2 1526.0,906.5 1526.3,905.9 1526.6,906.5 1526.9,905.2 1527.1,906.5 1527.4,903.5 1527.7,906.2 1528.0,906.2 1528.2,905.8 1528.5,904.4 1528.8,906.5 1529.1,906.0 1529.3,906.0 1529.6,905.8 1529.9,906.5 1530.2,905.1 1530.4,905.8 1530.7,905.5 1531.0,905.3 1531.3,904.1 1531.5,906.5 1531.8,906.5 1532.1,906.4 1532.4,904.9 1532.6,906.5 1532.9,905.0 1533.2,905.2 1533.5,906.5 1533.7,903.8 1534.0,906.3 1534.3,906.0 1534.6,906.5 1534.8,906.1 1535.1,906.3 1535.4,904.7 1535.7,904.6 1535.9,904.7 1536.2,906.1 1536.5,906.5 1536.8,904.8 1537.0,906.5 1537.3,906.1 1537.6,905.6 1537.9,905.8 1538.1,905.8 1538.4,906.4 1538.7,905.6 1539.0,903.6 1539.2,904.5 1539.5,906.1 1539.8,903.9 1540.1,905.9 1540.3,906.5 1540.6,904.0 1540.9,904.9 1541.2,906.0 1541.4,905.7 1541.7,906.5 1542.0,906.5 1542.3,906.4 1542.5,905.3 1542.8,906.5 1543.1,906.5 1543.4,906.5 1543.6,905.0 1543.9,906.1 1544.2,905.2 1544.5,906.1 1544.7,904.7 1545.0,905.7 1545.3,904.4 1545.6,904.7 1545.8,906.0 1546.1,906.1 1546.4,906.0 1546.7,905.9 1546.9,906.5 1547.2,906.5 1547.5,905.4 1547.8,904.0 1548.0,905.2 1548.3,904.0 1548.6,905.4 1548.9,904.9 1549.1,906.5 1549.4,906.5 1549.7,906.1 1550.0,906.5 1550.2,905.2 1550.5,906.4 1550.8,906.5 1551.1,906.5 1551.3,905.2 1551.6,906.5 1551.9,906.5 1552.2,906.4 1552.4,906.0 1552.7,906.5 1553.0,906.3 1553.3,905.6 1553.5,905.8 1553.8,905.6 1554.1,906.1 1554.4,906.5 1554.6,906.5 1554.9,905.9 1555.2,906.0 1555.5,904.9 1555.7,905.7 1556.0,906.5 1556.3,905.1 1556.6,906.1 1556.8,906.5 1557.1,905.3 1557.4,905.2 1557.7,904.8 1557.9,905.9 1558.2,906.5 1558.5,905.5 1558.8,903.9 1559.0,905.9 1559.3,906.5 1559.6,906.5 1559.9,905.1 1560.1,906.5 1560.4,906.0 1560.7,906.4 1561.0,906.5 1561.2,904.2 1561.5,906.0 1561.8,906.5 1562.1,906.5 1562.3,905.9 1562.6,905.6 1562.9,905.9 1563.2,906.0 1563.4,904.7 1563.7,906.5 1564.0,906.5 1564.3,906.4 1564.5,905.4 1564.8,904.9 1565.1,905.0 1565.4,906.4 1565.6,904.5 1565.9,906.4 1566.2,905.9 1566.5,906.5 1566.7,906.0 1567.0,906.3 1567.3,904.8 1567.6,904.6 1567.8,904.6 1568.1,906.1 1568.4,905.7 1568.6,906.5 1568.9,905.0 1569.2,905.1 1569.5,905.8 1569.7,904.4 1570.0,904.9 1570.3,906.5 1570.6,904.9 1570.8,904.7 1571.1,906.5 1571.4,905.4 1571.7,905.9 1571.9,906.1 1572.2,906.4 1572.5,905.2 1572.8,905.0 1573.0,906.0 1573.3,904.1 1573.6,905.7 1573.9,906.2 1574.1,906.5 1574.4,906.0 1574.7,903.8 1575.0,906.5 1575.2,905.6 1575.5,906.5 1575.8,904.3 1576.1,906.2 1576.3,904.7 1576.6,906.5 1576.9,906.5 1577.2,906.5 1577.4,906.5 1577.7,904.1 1578.0,906.5 1578.3,905.8 1578.5,905.7 1578.8,903.7 1579.1,906.5 1579.4,905.2 1579.6,905.3 1579.9,904.0 1580.2,904.1 1580.5,903.9 1580.7,906.3 1581.0,905.1 1581.3,904.6 1581.6,905.1 1581.8,906.5 1582.1,904.6 1582.4,904.2 1582.7,906.5 1582.9,904.5 1583.2,906.5 1583.5,905.8 1583.8,906.1 1584.0,905.8 1584.3,906.0 1584.6,905.3 1584.9,905.2 1585.1,906.5 1585.4,904.7 1585.7,904.5 1586.0,906.0 1586.2,905.4 1586.5,906.2 1586.8,906.4 1587.1,905.8 1587.3,904.8 1587.6,906.4 1587.9,905.5 1588.2,905.9 1588.4,905.5 1588.7,905.6 1589.0,905.2 1589.3,906.5 1589.5,904.1 1589.8,906.2 1590.1,906.0 1590.4,905.5 1590.6,906.3 1590.9,905.4 1591.2,904.0 1591.5,905.9 1591.7,906.5 1592.0,906.5 1592.3,903.7 1592.6,905.5 1592.8,905.2 1593.1,905.7 1593.4,906.5 1593.7,906.5 1593.9,904.7 1594.2,905.9 1594.5,906.0 1594.8,905.1 1595.0,905.7 1595.3,906.5 1595.6,906.5 1595.9,906.5 1596.1,905.4 1596.4,906.5 1596.7,906.2 1597.0,906.5 1597.2,906.5 1597.5,906.2 1597.8,906.5 1598.1,906.5 1598.3,906.3 1598.6,905.9 1598.9,905.8 1599.2,906.5 1599.4,903.9 1599.7,904.9 1600.0,905.8 1600.3,905.5 1600.5,906.5 1600.8,906.5 1601.1,906.2 1601.4,906.3 1601.6,906.1 1601.9,906.0 1602.2,906.5 1602.5,905.1 1602.7,905.4 1603.0,906.1 1603.3,905.4 1603.6,905.7 1603.8,906.5 1604.1,905.8 1604.4,905.4 1604.7,906.1 1604.9,906.3 1605.2,906.3 1605.5,906.5 1605.8,905.8 1606.0,906.5 1606.3,906.1 1606.6,905.1 1606.9,904.6 1607.1,904.9 1607.4,906.5 1607.7,905.9 1608.0,904.9 1608.2,906.5 1608.5,906.5 1608.8,906.5 1609.1,905.9 1609.3,906.3 1609.6,906.5 1609.9,906.5 1610.2,906.5 1610.4,906.5 1610.7,906.5 1611.0,906.2 1611.3,905.1 1611.5,904.7 1611.8,905.9 1612.1,905.4 1612.4,906.3 1612.6,904.1 1612.9,906.3 1613.2,906.5 1613.5,905.5 1613.7,906.5 1614.0,904.5 1614.3,905.2 1614.6,904.9 1614.8,905.4 1615.1,905.5 1615.4,906.5 1615.7,906.5 1615.9,906.2 1616.2,905.4 1616.5,906.4 1616.8,905.9 1617.0,905.8 1617.3,906.5 1617.6,905.7 1617.9,904.0 1618.1,905.2 1618.4,905.3 1618.7,905.0 1619.0,906.5 1619.2,906.5 1619.5,906.1 1619.8,905.0 1620.1,906.5 1620.3,906.4 1620.6,906.5 1620.9,906.5 1621.2,905.0 1621.4,905.5 1621.7,904.7 1622.0,904.9 1622.3,905.2 1622.5,906.2 1622.8,905.4" fill="none" stroke="#4f7db3" stroke-width="1.0" stroke-opacity="0.8" stroke-linejoin="round"/>
<rect x="909.90" y="833.70" width="712.60" height="72.50" fill="none" stroke="#fff" stroke-width="0.8" stroke-opacity="0.8"/>
<rect x="908.60" y="832.40" width="715.20" height="75.10" fill="none" stroke="#555" stroke-width="1.4"/>
<text transform="translate(908.40,925.56) scale(1.09,1)" font-size="18.5" text-anchor="middle">0</text>
<text transform="translate(979.84,925.56) scale(1.09,1)" font-size="18.5" text-anchor="middle">50</text>
<text transform="translate(1051.28,925.56) scale(1.09,1)" font-size="18.5" text-anchor="middle">100</text>
<text transform="translate(1122.72,925.56) scale(1.09,1)" font-size="18.5" text-anchor="middle">150</text>
<text transform="translate(1194.16,925.56) scale(1.09,1)" font-size="18.5" text-anchor="middle">200</text>
<text transform="translate(1265.60,925.56) scale(1.09,1)" font-size="18.5" text-anchor="middle">250</text>
<text transform="translate(1337.04,925.56) scale(1.09,1)" font-size="18.5" text-anchor="middle">300</text>
<text transform="translate(1408.48,925.56) scale(1.09,1)" font-size="18.5" text-anchor="middle">350</text>
<text transform="translate(1479.92,925.56) scale(1.09,1)" font-size="18.5" text-anchor="middle">400</text>
<text transform="translate(1551.36,925.56) scale(1.09,1)" font-size="18.5" text-anchor="middle">450</text>
<text transform="translate(1622.80,925.56) scale(1.09,1)" font-size="18.5" text-anchor="middle">500</text>
<text transform="translate(904.95,839.46) scale(1.09,1)" font-size="18.5" text-anchor="end">4</text>
<text transform="translate(904.95,874.96) scale(1.09,1)" font-size="18.5" text-anchor="end">2</text>
<text transform="translate(904.95,912.56) scale(1.09,1)" font-size="18.5" text-anchor="end">0</text>
<text transform="translate(874.70,873.10) rotate(-90)" font-size="19.8" text-anchor="middle">Amp (m/s<tspan dy="-7.5" font-size="11.5">2</tspan><tspan dy="7.5">)</tspan></text>
<text transform="translate(921.31,803.30) scale(1.0463,1)" font-size="19.5" text-anchor="start">FFT of rockfall vibration signal on the protective net (Sensor D,  y direction, 5000kj)</text>
<text x="908.00" y="825.30" font-size="19">×10<tspan dy="-8.5" font-size="10.5">5</tspan></text>
<text transform="translate(394.07,972.40) scale(1.0321,1)" font-size="23.2" text-anchor="start">Time (s)</text>
<text transform="translate(1201.00,973.40) scale(1.0524,1)" font-size="23.2" text-anchor="start">Freqency (Hz)</text>
</svg>
</body></html>
